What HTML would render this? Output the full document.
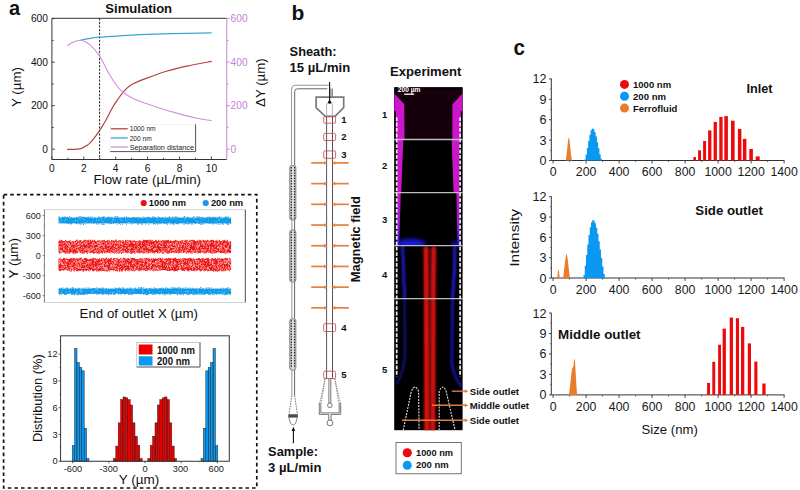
<!DOCTYPE html>
<html><head><meta charset="utf-8"><title>Figure</title><style>html,body{margin:0;padding:0;background:#fff;width:800px;height:490px;overflow:hidden;}svg{display:block;}text{font-family:"Liberation Sans", sans-serif;}</style></head><body>
<svg width="800" height="490" viewBox="0 0 800 490" font-family='"Liberation Sans", sans-serif' fill="#111"><text x="9" y="15.3" font-size="20" font-weight="bold">a</text>
<text x="105.3" y="12.8" font-size="13" font-weight="bold" textLength="66.8" lengthAdjust="spacingAndGlyphs">Simulation</text>
<line x1="51.9" y1="18.3" x2="226.8" y2="18.3" stroke="#333" stroke-width="1"/>
<line x1="51.9" y1="18.3" x2="51.9" y2="159.5" stroke="#333" stroke-width="1"/>
<line x1="51.9" y1="159.5" x2="226.8" y2="159.5" stroke="#333" stroke-width="1"/>
<line x1="226.8" y1="18.3" x2="226.8" y2="159.5" stroke="#c77fd6" stroke-width="1"/>
<line x1="51.9" y1="149.2" x2="54.9" y2="149.2" stroke="#333" stroke-width="0.9"/>
<line x1="226.8" y1="149.2" x2="229.8" y2="149.2" stroke="#c77fd6" stroke-width="0.9"/>
<line x1="51.9" y1="127.44" x2="53.7" y2="127.44" stroke="#333" stroke-width="0.9"/>
<line x1="226.8" y1="127.44" x2="228.6" y2="127.44" stroke="#c77fd6" stroke-width="0.9"/>
<line x1="51.9" y1="105.68" x2="54.9" y2="105.68" stroke="#333" stroke-width="0.9"/>
<line x1="226.8" y1="105.68" x2="229.8" y2="105.68" stroke="#c77fd6" stroke-width="0.9"/>
<line x1="51.9" y1="83.92" x2="53.7" y2="83.92" stroke="#333" stroke-width="0.9"/>
<line x1="226.8" y1="83.92" x2="228.6" y2="83.92" stroke="#c77fd6" stroke-width="0.9"/>
<line x1="51.9" y1="62.16" x2="54.9" y2="62.16" stroke="#333" stroke-width="0.9"/>
<line x1="226.8" y1="62.16" x2="229.8" y2="62.16" stroke="#c77fd6" stroke-width="0.9"/>
<line x1="51.9" y1="40.4" x2="53.7" y2="40.4" stroke="#333" stroke-width="0.9"/>
<line x1="226.8" y1="40.4" x2="228.6" y2="40.4" stroke="#c77fd6" stroke-width="0.9"/>
<line x1="51.9" y1="18.64" x2="54.9" y2="18.64" stroke="#333" stroke-width="0.9"/>
<line x1="226.8" y1="18.64" x2="229.8" y2="18.64" stroke="#c77fd6" stroke-width="0.9"/>
<line x1="51.9" y1="159.5" x2="51.9" y2="156.5" stroke="#333" stroke-width="0.9"/>
<line x1="67.85" y1="159.5" x2="67.85" y2="157.7" stroke="#333" stroke-width="0.9"/>
<line x1="83.8" y1="159.5" x2="83.8" y2="156.5" stroke="#333" stroke-width="0.9"/>
<line x1="99.75" y1="159.5" x2="99.75" y2="157.7" stroke="#333" stroke-width="0.9"/>
<line x1="115.7" y1="159.5" x2="115.7" y2="156.5" stroke="#333" stroke-width="0.9"/>
<line x1="131.65" y1="159.5" x2="131.65" y2="157.7" stroke="#333" stroke-width="0.9"/>
<line x1="147.6" y1="159.5" x2="147.6" y2="156.5" stroke="#333" stroke-width="0.9"/>
<line x1="163.55" y1="159.5" x2="163.55" y2="157.7" stroke="#333" stroke-width="0.9"/>
<line x1="179.5" y1="159.5" x2="179.5" y2="156.5" stroke="#333" stroke-width="0.9"/>
<line x1="195.45" y1="159.5" x2="195.45" y2="157.7" stroke="#333" stroke-width="0.9"/>
<line x1="211.4" y1="159.5" x2="211.4" y2="156.5" stroke="#333" stroke-width="0.9"/>
<text x="47.9" y="152.8" font-size="10.2" text-anchor="end">0</text>
<text x="230.6" y="152.8" font-size="10.2" fill="#c67fd8">0</text>
<text x="47.9" y="109.28" font-size="10.2" text-anchor="end">200</text>
<text x="230.6" y="109.28" font-size="10.2" fill="#c67fd8">200</text>
<text x="47.9" y="65.76" font-size="10.2" text-anchor="end">400</text>
<text x="230.6" y="65.76" font-size="10.2" fill="#c67fd8">400</text>
<text x="47.9" y="22.24" font-size="10.2" text-anchor="end">600</text>
<text x="230.6" y="22.24" font-size="10.2" fill="#c67fd8">600</text>
<text x="51.9" y="171.6" font-size="10.2" text-anchor="middle">0</text>
<text x="83.8" y="171.6" font-size="10.2" text-anchor="middle">2</text>
<text x="115.7" y="171.6" font-size="10.2" text-anchor="middle">4</text>
<text x="147.6" y="171.6" font-size="10.2" text-anchor="middle">6</text>
<text x="179.5" y="171.6" font-size="10.2" text-anchor="middle">8</text>
<text x="211.4" y="171.6" font-size="10.2" text-anchor="middle">10</text>
<text x="93.6" y="183.6" font-size="13.4" textLength="107.4" lengthAdjust="spacingAndGlyphs">Flow rate (µL/min)</text>
<text transform="translate(21.4,106.9) rotate(-90)" font-size="13.2" textLength="39.7" lengthAdjust="spacingAndGlyphs">Y (µm)</text>
<text transform="translate(264.7,106.9) rotate(-90)" font-size="13.2" textLength="48.6" lengthAdjust="spacingAndGlyphs">ΔY (µm)</text>
<line x1="99.6" y1="18.3" x2="99.6" y2="159.5" stroke="#222" stroke-width="1" stroke-dasharray="2.2 1.4"/>
<path d="M67.1,149.3 C67.92,149.3 70.27,149.32 72,149.3 C73.73,149.28 75.83,149.38 77.5,149.2 C79.17,149.02 80.58,148.73 82,148.2 C83.42,147.67 84.68,146.85 86,146 C87.32,145.15 88.32,144.7 89.9,143.1 C91.48,141.5 93.87,138.55 95.5,136.4 C97.13,134.25 98.02,132.82 99.7,130.2 C101.38,127.58 103.68,124.07 105.6,120.7 C107.52,117.33 109.57,112.97 111.2,110 C112.83,107.03 113.33,105.97 115.4,102.9 C117.47,99.83 120.88,94.67 123.6,91.6 C126.32,88.53 127.97,86.7 131.7,84.5 C135.43,82.3 140.22,80.62 146,78.4 C151.78,76.18 159.6,73.25 166.4,71.2 C173.2,69.15 179.25,67.75 186.8,66.1 C194.35,64.45 207.55,62.1 211.7,61.3" fill="none" stroke="#b5413c" stroke-width="1.2"/>
<path d="M80.4,40.3 C82,39.97 86.85,38.82 90,38.3 C93.15,37.78 94.3,37.62 99.3,37.2 C104.3,36.78 113.22,36.22 120,35.8 C126.78,35.38 131.67,35.05 140,34.7 C148.33,34.35 158.05,34 170,33.7 C181.95,33.4 204.75,33.03 211.7,32.9" fill="none" stroke="#3ba8d2" stroke-width="1.3"/>
<path d="M67.1,45.9 C68.08,45.3 70.78,43.23 73,42.3 C75.22,41.37 78.32,40.38 80.4,40.3 C82.48,40.22 83.8,40.95 85.5,41.8 C87.2,42.65 89.02,44.03 90.6,45.4 C92.18,46.77 93.55,48.3 95,50 C96.45,51.7 97.8,53.27 99.3,55.6 C100.8,57.93 102.33,60.88 104,64 C105.67,67.12 107.07,70.55 109.3,74.3 C111.53,78.05 115.02,83.43 117.4,86.5 C119.78,89.57 120.53,90.48 123.6,92.7 C126.67,94.92 130.37,97.43 135.8,99.8 C141.23,102.17 149.4,104.68 156.2,106.9 C163,109.12 169.8,111.22 176.6,113.1 C183.4,114.98 191.15,116.95 197,118.2 C202.85,119.45 209.25,120.2 211.7,120.6" fill="none" stroke="#d38ee0" stroke-width="1.1"/>
<rect x="110.5" y="124.3" width="85" height="27" fill="#fff" stroke="#ececec" stroke-width="0.6"/>
<line x1="195.6" y1="124.3" x2="195.6" y2="151.6" stroke="#555" stroke-width="1"/>
<line x1="110.2" y1="151.6" x2="195.6" y2="151.6" stroke="#555" stroke-width="1"/>
<line x1="110.9" y1="128.8" x2="127.7" y2="128.8" stroke="#b5413c" stroke-width="1.3"/>
<line x1="110.9" y1="138" x2="127.7" y2="138" stroke="#3ba8d2" stroke-width="1.3"/>
<line x1="110.9" y1="147" x2="127.7" y2="147" stroke="#d38ee0" stroke-width="1.3"/>
<text x="129.7" y="131.4" font-size="7.3" fill="#222" textLength="26" lengthAdjust="spacingAndGlyphs">1000 nm</text>
<text x="129.7" y="140.6" font-size="7.3" fill="#222" textLength="22" lengthAdjust="spacingAndGlyphs">200 nm</text>
<text x="129.7" y="149.6" font-size="7.3" fill="#222" textLength="64.3" lengthAdjust="spacingAndGlyphs">Separation distance</text>
<rect x="3.6" y="194.6" width="253.2" height="293.4" fill="none" stroke="#111" stroke-width="1.7" stroke-dasharray="3.6 3"/>
<circle cx="143.7" cy="203" r="3.1" fill="#ee1111"/>
<text x="148.8" y="206.4" font-size="9.5" font-weight="bold" textLength="37.2" lengthAdjust="spacingAndGlyphs">1000 nm</text>
<circle cx="205.7" cy="203" r="3.1" fill="#1b98ee"/>
<text x="210.9" y="206.4" font-size="9.5" font-weight="bold" textLength="32.3" lengthAdjust="spacingAndGlyphs">200 nm</text>
<rect x="44.4" y="209.7" width="200.9" height="92.7" fill="none" stroke="#c8c8c8" stroke-width="0.8"/>
<line x1="44.4" y1="209.7" x2="44.4" y2="302.4" stroke="#777" stroke-width="0.9"/>
<line x1="245.3" y1="209.7" x2="245.3" y2="302.4" stroke="#555" stroke-width="1"/>
<line x1="42.6" y1="215.6" x2="44.4" y2="215.6" stroke="#666" stroke-width="0.8"/>
<text x="40.8" y="218.7" font-size="9" fill="#222" text-anchor="end">600</text>
<line x1="42.6" y1="235.6" x2="44.4" y2="235.6" stroke="#666" stroke-width="0.8"/>
<text x="40.8" y="238.7" font-size="9" fill="#222" text-anchor="end">300</text>
<line x1="42.6" y1="255.6" x2="44.4" y2="255.6" stroke="#666" stroke-width="0.8"/>
<text x="40.8" y="258.7" font-size="9" fill="#222" text-anchor="end">0</text>
<line x1="42.6" y1="275.6" x2="44.4" y2="275.6" stroke="#666" stroke-width="0.8"/>
<text x="40.8" y="278.7" font-size="9" fill="#222" text-anchor="end">-300</text>
<line x1="42.6" y1="295.6" x2="44.4" y2="295.6" stroke="#666" stroke-width="0.8"/>
<text x="40.8" y="298.7" font-size="9" fill="#222" text-anchor="end">-600</text>
<line x1="43.4" y1="225.6" x2="44.4" y2="225.6" stroke="#888" stroke-width="0.6"/>
<line x1="43.4" y1="245.6" x2="44.4" y2="245.6" stroke="#888" stroke-width="0.6"/>
<line x1="43.4" y1="265.6" x2="44.4" y2="265.6" stroke="#888" stroke-width="0.6"/>
<line x1="43.4" y1="285.6" x2="44.4" y2="285.6" stroke="#888" stroke-width="0.6"/>
<text transform="translate(17.7,278.6) rotate(-90)" font-size="13.6" textLength="40.6" lengthAdjust="spacingAndGlyphs">Y (µm)</text>
<text x="79.6" y="318" font-size="12.6" textLength="118.4" lengthAdjust="spacingAndGlyphs">End of outlet X (µm)</text>
<rect x="58.5" y="217.6" width="172.6" height="5.8" fill="#109ae8"/>
<rect x="114.2" y="216.58" width="0.9" height="0.9" fill="#109ae8"/>
<rect x="70.96" y="223.2" width="0.9" height="0.9" fill="#109ae8"/>
<rect x="68.48" y="222.84" width="0.9" height="0.9" fill="#109ae8"/>
<rect x="133.09" y="217.2" width="0.9" height="0.9" fill="#109ae8"/>
<rect x="131.52" y="222.94" width="0.9" height="0.9" fill="#109ae8"/>
<rect x="96.9" y="223.84" width="0.9" height="0.9" fill="#109ae8"/>
<rect x="157.76" y="216.23" width="0.9" height="0.9" fill="#109ae8"/>
<rect x="66.51" y="223.12" width="0.9" height="0.9" fill="#109ae8"/>
<rect x="83.31" y="216.96" width="0.9" height="0.9" fill="#109ae8"/>
<rect x="198.87" y="216.66" width="0.9" height="0.9" fill="#109ae8"/>
<rect x="168.39" y="216.7" width="0.9" height="0.9" fill="#109ae8"/>
<rect x="69.3" y="217.07" width="0.9" height="0.9" fill="#109ae8"/>
<rect x="175.53" y="216.95" width="0.9" height="0.9" fill="#109ae8"/>
<rect x="159.22" y="216.97" width="0.9" height="0.9" fill="#109ae8"/>
<rect x="195.13" y="223.07" width="0.9" height="0.9" fill="#109ae8"/>
<rect x="157.3" y="223.76" width="0.9" height="0.9" fill="#109ae8"/>
<rect x="183.96" y="216.22" width="0.9" height="0.9" fill="#109ae8"/>
<rect x="78.81" y="216.47" width="0.9" height="0.9" fill="#109ae8"/>
<rect x="84.64" y="217.26" width="0.9" height="0.9" fill="#109ae8"/>
<rect x="173.43" y="223.43" width="0.9" height="0.9" fill="#109ae8"/>
<rect x="209.08" y="216.54" width="0.9" height="0.9" fill="#109ae8"/>
<rect x="160.73" y="223.3" width="0.9" height="0.9" fill="#109ae8"/>
<rect x="202.97" y="223.32" width="0.9" height="0.9" fill="#109ae8"/>
<rect x="172.73" y="216.53" width="0.9" height="0.9" fill="#109ae8"/>
<rect x="169.81" y="223.7" width="0.9" height="0.9" fill="#109ae8"/>
<rect x="107.45" y="216.56" width="0.9" height="0.9" fill="#109ae8"/>
<rect x="62.38" y="217.12" width="0.9" height="0.9" fill="#109ae8"/>
<rect x="78.64" y="216.45" width="0.9" height="0.9" fill="#109ae8"/>
<rect x="80.75" y="216.87" width="0.9" height="0.9" fill="#109ae8"/>
<rect x="208.38" y="216.81" width="0.9" height="0.9" fill="#109ae8"/>
<rect x="153" y="223.7" width="0.9" height="0.9" fill="#109ae8"/>
<rect x="207.11" y="216.84" width="0.9" height="0.9" fill="#109ae8"/>
<rect x="120.21" y="223.85" width="0.9" height="0.9" fill="#109ae8"/>
<rect x="84.46" y="217.04" width="0.9" height="0.9" fill="#109ae8"/>
<rect x="98.63" y="216.65" width="0.9" height="0.9" fill="#109ae8"/>
<rect x="103.69" y="216.84" width="0.9" height="0.9" fill="#109ae8"/>
<rect x="122.01" y="223.85" width="0.9" height="0.9" fill="#109ae8"/>
<rect x="177.26" y="223.48" width="0.9" height="0.9" fill="#109ae8"/>
<rect x="174.81" y="216.31" width="0.9" height="0.9" fill="#109ae8"/>
<rect x="192.65" y="223.68" width="0.9" height="0.9" fill="#109ae8"/>
<rect x="125.99" y="217.19" width="0.9" height="0.9" fill="#109ae8"/>
<rect x="167.6" y="217.23" width="0.9" height="0.9" fill="#109ae8"/>
<rect x="94.41" y="216.93" width="0.9" height="0.9" fill="#109ae8"/>
<rect x="67.54" y="217.13" width="0.9" height="0.9" fill="#109ae8"/>
<rect x="75.95" y="217.27" width="0.9" height="0.9" fill="#109ae8"/>
<rect x="208.89" y="222.96" width="0.9" height="0.9" fill="#109ae8"/>
<rect x="101.89" y="216.9" width="0.9" height="0.9" fill="#109ae8"/>
<rect x="79.63" y="223.89" width="0.9" height="0.9" fill="#109ae8"/>
<rect x="138.65" y="217.21" width="0.9" height="0.9" fill="#109ae8"/>
<rect x="76.08" y="217.01" width="0.9" height="0.9" fill="#109ae8"/>
<rect x="201.06" y="217.27" width="0.9" height="0.9" fill="#109ae8"/>
<rect x="222.07" y="222.96" width="0.9" height="0.9" fill="#109ae8"/>
<rect x="151.93" y="216.72" width="0.9" height="0.9" fill="#109ae8"/>
<rect x="226.8" y="223.57" width="0.9" height="0.9" fill="#109ae8"/>
<rect x="103.41" y="217.12" width="0.9" height="0.9" fill="#109ae8"/>
<rect x="191.27" y="223.66" width="0.9" height="0.9" fill="#109ae8"/>
<rect x="115.2" y="216.41" width="0.9" height="0.9" fill="#109ae8"/>
<rect x="227.91" y="223.69" width="0.9" height="0.9" fill="#109ae8"/>
<rect x="199.25" y="223.05" width="0.9" height="0.9" fill="#109ae8"/>
<rect x="147.53" y="217.27" width="0.9" height="0.9" fill="#109ae8"/>
<rect x="63.31" y="217.01" width="0.9" height="0.9" fill="#109ae8"/>
<rect x="177.61" y="223.29" width="0.9" height="0.9" fill="#109ae8"/>
<rect x="219.67" y="223.85" width="0.9" height="0.9" fill="#109ae8"/>
<rect x="121.22" y="217.05" width="0.9" height="0.9" fill="#109ae8"/>
<rect x="92.33" y="216.61" width="0.9" height="0.9" fill="#109ae8"/>
<rect x="213.35" y="223.33" width="0.9" height="0.9" fill="#109ae8"/>
<rect x="170.81" y="222.89" width="0.9" height="0.9" fill="#109ae8"/>
<rect x="172.12" y="223.66" width="0.9" height="0.9" fill="#109ae8"/>
<rect x="187.52" y="217.1" width="0.9" height="0.9" fill="#109ae8"/>
<rect x="194.23" y="216.42" width="0.9" height="0.9" fill="#109ae8"/>
<rect x="225.63" y="216.86" width="0.9" height="0.9" fill="#109ae8"/>
<rect x="221.35" y="222.99" width="0.9" height="0.9" fill="#109ae8"/>
<rect x="80.35" y="216.3" width="0.9" height="0.9" fill="#109ae8"/>
<rect x="197.22" y="216.39" width="0.9" height="0.9" fill="#109ae8"/>
<rect x="227.11" y="223.19" width="0.9" height="0.9" fill="#109ae8"/>
<rect x="152.87" y="217.28" width="0.9" height="0.9" fill="#109ae8"/>
<rect x="225.49" y="223.38" width="0.9" height="0.9" fill="#109ae8"/>
<rect x="219.08" y="216.34" width="0.9" height="0.9" fill="#109ae8"/>
<rect x="200.6" y="217.02" width="0.9" height="0.9" fill="#109ae8"/>
<rect x="108.89" y="216.65" width="0.9" height="0.9" fill="#109ae8"/>
<rect x="103.11" y="217.16" width="0.9" height="0.9" fill="#109ae8"/>
<rect x="215.02" y="216.8" width="0.9" height="0.9" fill="#109ae8"/>
<rect x="158.84" y="223.26" width="0.9" height="0.9" fill="#109ae8"/>
<rect x="216.35" y="223.39" width="0.9" height="0.9" fill="#109ae8"/>
<rect x="148.54" y="216.82" width="0.9" height="0.9" fill="#109ae8"/>
<rect x="89.99" y="216.42" width="0.9" height="0.9" fill="#109ae8"/>
<rect x="88.14" y="216.5" width="0.9" height="0.9" fill="#109ae8"/>
<rect x="154.21" y="216.73" width="0.9" height="0.9" fill="#109ae8"/>
<rect x="154.04" y="222.92" width="0.9" height="0.9" fill="#109ae8"/>
<rect x="154.87" y="217" width="0.9" height="0.9" fill="#109ae8"/>
<rect x="191.33" y="223.42" width="0.9" height="0.9" fill="#109ae8"/>
<rect x="189.22" y="223.29" width="0.9" height="0.9" fill="#109ae8"/>
<rect x="163.85" y="223.36" width="0.9" height="0.9" fill="#109ae8"/>
<rect x="177.65" y="216.71" width="0.9" height="0.9" fill="#109ae8"/>
<rect x="140.72" y="223.57" width="0.9" height="0.9" fill="#109ae8"/>
<rect x="209.26" y="223.09" width="0.9" height="0.9" fill="#109ae8"/>
<rect x="154.74" y="223.72" width="0.9" height="0.9" fill="#109ae8"/>
<rect x="82.09" y="216.81" width="0.9" height="0.9" fill="#109ae8"/>
<rect x="70.98" y="217.22" width="0.9" height="0.9" fill="#109ae8"/>
<rect x="173.65" y="223.79" width="0.9" height="0.9" fill="#109ae8"/>
<rect x="85.06" y="223.53" width="0.9" height="0.9" fill="#109ae8"/>
<rect x="83.09" y="223.86" width="0.9" height="0.9" fill="#109ae8"/>
<rect x="96.27" y="223.24" width="0.9" height="0.9" fill="#109ae8"/>
<rect x="142.31" y="223.72" width="0.9" height="0.9" fill="#109ae8"/>
<rect x="86.27" y="216.73" width="0.9" height="0.9" fill="#109ae8"/>
<rect x="116.83" y="216.95" width="0.9" height="0.9" fill="#109ae8"/>
<rect x="182.71" y="216.69" width="0.9" height="0.9" fill="#109ae8"/>
<rect x="134.26" y="216.94" width="0.9" height="0.9" fill="#109ae8"/>
<rect x="165.82" y="222.87" width="0.9" height="0.9" fill="#109ae8"/>
<rect x="227.93" y="223.87" width="0.9" height="0.9" fill="#109ae8"/>
<rect x="76.52" y="217.26" width="0.9" height="0.9" fill="#109ae8"/>
<rect x="192.49" y="217.16" width="0.9" height="0.9" fill="#109ae8"/>
<rect x="131.13" y="223.7" width="0.9" height="0.9" fill="#109ae8"/>
<rect x="102.98" y="216.29" width="0.9" height="0.9" fill="#109ae8"/>
<rect x="156.64" y="222.9" width="0.9" height="0.9" fill="#109ae8"/>
<rect x="68.39" y="223.27" width="0.9" height="0.9" fill="#109ae8"/>
<rect x="70.96" y="223.5" width="0.9" height="0.9" fill="#109ae8"/>
<rect x="196.38" y="216.36" width="0.9" height="0.9" fill="#109ae8"/>
<rect x="69.96" y="223.3" width="0.9" height="0.9" fill="#109ae8"/>
<rect x="116.83" y="223.82" width="0.9" height="0.9" fill="#109ae8"/>
<rect x="104.57" y="216.72" width="0.9" height="0.9" fill="#109ae8"/>
<rect x="99.51" y="217.12" width="0.9" height="0.9" fill="#109ae8"/>
<rect x="67.17" y="216.96" width="0.9" height="0.9" fill="#109ae8"/>
<rect x="110.96" y="223.12" width="0.9" height="0.9" fill="#109ae8"/>
<rect x="144.52" y="216.92" width="0.9" height="0.9" fill="#109ae8"/>
<rect x="61.62" y="217.28" width="0.9" height="0.9" fill="#109ae8"/>
<rect x="184.59" y="223.01" width="0.9" height="0.9" fill="#109ae8"/>
<rect x="140.16" y="222.92" width="0.9" height="0.9" fill="#109ae8"/>
<rect x="199.35" y="216.76" width="0.9" height="0.9" fill="#109ae8"/>
<rect x="202.05" y="216.74" width="0.9" height="0.9" fill="#109ae8"/>
<rect x="176.79" y="223.18" width="0.9" height="0.9" fill="#109ae8"/>
<rect x="201.65" y="223.5" width="0.9" height="0.9" fill="#109ae8"/>
<rect x="128.11" y="217.24" width="0.9" height="0.9" fill="#109ae8"/>
<rect x="80.83" y="216.49" width="0.9" height="0.9" fill="#109ae8"/>
<rect x="102.46" y="217.21" width="0.9" height="0.9" fill="#109ae8"/>
<rect x="203.2" y="223.54" width="0.9" height="0.9" fill="#109ae8"/>
<rect x="106.99" y="216.98" width="0.9" height="0.9" fill="#109ae8"/>
<rect x="137.53" y="216.81" width="0.9" height="0.9" fill="#109ae8"/>
<rect x="103.78" y="223.87" width="0.9" height="0.9" fill="#109ae8"/>
<rect x="152.6" y="216.24" width="0.9" height="0.9" fill="#109ae8"/>
<rect x="111.74" y="217.3" width="0.9" height="0.9" fill="#109ae8"/>
<rect x="124.14" y="216.75" width="0.9" height="0.9" fill="#109ae8"/>
<rect x="93.07" y="222.81" width="0.9" height="0.9" fill="#109ae8"/>
<rect x="103.94" y="216.86" width="0.9" height="0.9" fill="#109ae8"/>
<rect x="65.67" y="216.97" width="0.9" height="0.9" fill="#109ae8"/>
<rect x="98.54" y="223.38" width="0.9" height="0.9" fill="#109ae8"/>
<rect x="187.59" y="223.59" width="0.9" height="0.9" fill="#109ae8"/>
<rect x="209.7" y="216.94" width="0.9" height="0.9" fill="#109ae8"/>
<rect x="227.87" y="216.5" width="0.9" height="0.9" fill="#109ae8"/>
<rect x="169.13" y="216.38" width="0.9" height="0.9" fill="#109ae8"/>
<rect x="211.91" y="223.61" width="0.9" height="0.9" fill="#109ae8"/>
<rect x="198.2" y="216.72" width="0.9" height="0.9" fill="#109ae8"/>
<rect x="145.25" y="223.69" width="0.9" height="0.9" fill="#109ae8"/>
<rect x="200.64" y="223.78" width="0.9" height="0.9" fill="#109ae8"/>
<rect x="175.96" y="223.05" width="0.9" height="0.9" fill="#109ae8"/>
<rect x="63.86" y="216.9" width="0.9" height="0.9" fill="#109ae8"/>
<rect x="76.55" y="223.41" width="0.9" height="0.9" fill="#109ae8"/>
<rect x="166.48" y="223.55" width="0.9" height="0.9" fill="#109ae8"/>
<rect x="142.66" y="216.42" width="0.9" height="0.9" fill="#109ae8"/>
<rect x="187.2" y="223.39" width="0.9" height="0.9" fill="#109ae8"/>
<rect x="171.9" y="216.49" width="0.9" height="0.9" fill="#109ae8"/>
<rect x="101.88" y="217.01" width="0.9" height="0.9" fill="#109ae8"/>
<rect x="183.95" y="216.49" width="0.9" height="0.9" fill="#109ae8"/>
<rect x="226.33" y="216.88" width="0.9" height="0.9" fill="#109ae8"/>
<rect x="140.89" y="223.64" width="0.9" height="0.9" fill="#109ae8"/>
<rect x="164.62" y="222.89" width="0.9" height="0.9" fill="#109ae8"/>
<rect x="83.86" y="216.48" width="0.9" height="0.9" fill="#109ae8"/>
<rect x="110.86" y="222.81" width="0.9" height="0.9" fill="#109ae8"/>
<rect x="68.93" y="216.56" width="0.9" height="0.9" fill="#109ae8"/>
<rect x="177.56" y="223.12" width="0.9" height="0.9" fill="#109ae8"/>
<rect x="147.34" y="216.79" width="0.9" height="0.9" fill="#109ae8"/>
<rect x="78.88" y="223.02" width="0.9" height="0.9" fill="#109ae8"/>
<rect x="226.74" y="222.82" width="0.9" height="0.9" fill="#109ae8"/>
<rect x="137.44" y="223.86" width="0.9" height="0.9" fill="#109ae8"/>
<rect x="135.81" y="217.07" width="0.9" height="0.9" fill="#109ae8"/>
<rect x="221.14" y="216.66" width="0.9" height="0.9" fill="#109ae8"/>
<rect x="82.88" y="223.85" width="0.9" height="0.9" fill="#109ae8"/>
<rect x="81.31" y="223.36" width="0.9" height="0.9" fill="#109ae8"/>
<rect x="211.04" y="223.05" width="0.9" height="0.9" fill="#109ae8"/>
<rect x="212.91" y="217.27" width="0.9" height="0.9" fill="#109ae8"/>
<rect x="59.12" y="216.8" width="0.9" height="0.9" fill="#109ae8"/>
<rect x="110.44" y="216.92" width="0.9" height="0.9" fill="#109ae8"/>
<rect x="112.87" y="222.8" width="0.9" height="0.9" fill="#109ae8"/>
<rect x="187.63" y="222.93" width="0.9" height="0.9" fill="#109ae8"/>
<rect x="217.84" y="223.79" width="0.9" height="0.9" fill="#109ae8"/>
<rect x="108.35" y="216.87" width="0.9" height="0.9" fill="#109ae8"/>
<rect x="230.29" y="223.2" width="0.9" height="0.9" fill="#109ae8"/>
<rect x="132.13" y="217.25" width="0.9" height="0.9" fill="#109ae8"/>
<rect x="75.99" y="223.11" width="0.9" height="0.9" fill="#109ae8"/>
<rect x="219.42" y="217.01" width="0.9" height="0.9" fill="#109ae8"/>
<rect x="146.39" y="216.89" width="0.9" height="0.9" fill="#109ae8"/>
<rect x="222.96" y="223.69" width="0.9" height="0.9" fill="#109ae8"/>
<rect x="167.01" y="223.83" width="0.9" height="0.9" fill="#109ae8"/>
<rect x="152.97" y="222.85" width="0.9" height="0.9" fill="#109ae8"/>
<rect x="184.46" y="216.47" width="0.9" height="0.9" fill="#109ae8"/>
<rect x="169.35" y="217.25" width="0.9" height="0.9" fill="#109ae8"/>
<rect x="217.91" y="216.78" width="0.9" height="0.9" fill="#109ae8"/>
<rect x="117.61" y="216.49" width="0.9" height="0.9" fill="#109ae8"/>
<rect x="226.42" y="216.58" width="0.9" height="0.9" fill="#109ae8"/>
<rect x="110.24" y="223.23" width="0.9" height="0.9" fill="#109ae8"/>
<rect x="87.28" y="217.07" width="0.9" height="0.9" fill="#109ae8"/>
<rect x="214.33" y="217.06" width="0.9" height="0.9" fill="#109ae8"/>
<rect x="214.38" y="223.29" width="0.9" height="0.9" fill="#109ae8"/>
<rect x="82.51" y="217.2" width="0.9" height="0.9" fill="#109ae8"/>
<rect x="117.32" y="217.04" width="0.9" height="0.9" fill="#109ae8"/>
<rect x="102.94" y="223.78" width="0.9" height="0.9" fill="#109ae8"/>
<rect x="187.44" y="216.84" width="0.9" height="0.9" fill="#109ae8"/>
<rect x="148.66" y="216.93" width="0.9" height="0.9" fill="#109ae8"/>
<rect x="69.17" y="216.24" width="0.9" height="0.9" fill="#109ae8"/>
<rect x="80.15" y="223.49" width="0.9" height="0.9" fill="#109ae8"/>
<rect x="206.91" y="217" width="0.9" height="0.9" fill="#109ae8"/>
<rect x="101.23" y="216.81" width="0.9" height="0.9" fill="#109ae8"/>
<rect x="222.58" y="223.76" width="0.9" height="0.9" fill="#109ae8"/>
<rect x="62.25" y="216.52" width="0.9" height="0.9" fill="#109ae8"/>
<rect x="212.56" y="216.65" width="0.9" height="0.9" fill="#109ae8"/>
<rect x="58.53" y="216.28" width="0.9" height="0.9" fill="#109ae8"/>
<rect x="200.5" y="223.87" width="0.9" height="0.9" fill="#109ae8"/>
<rect x="101.24" y="217.13" width="0.9" height="0.9" fill="#109ae8"/>
<rect x="148.35" y="223.84" width="0.9" height="0.9" fill="#109ae8"/>
<rect x="182.64" y="223.64" width="0.9" height="0.9" fill="#109ae8"/>
<rect x="137.16" y="222.84" width="0.9" height="0.9" fill="#109ae8"/>
<rect x="193.06" y="216.29" width="0.9" height="0.9" fill="#109ae8"/>
<rect x="169.53" y="217.16" width="0.9" height="0.9" fill="#109ae8"/>
<rect x="101.81" y="223.57" width="0.9" height="0.9" fill="#109ae8"/>
<rect x="77.79" y="216.72" width="0.9" height="0.9" fill="#109ae8"/>
<rect x="158.76" y="217.05" width="0.9" height="0.9" fill="#109ae8"/>
<rect x="161.88" y="216.97" width="0.9" height="0.9" fill="#109ae8"/>
<rect x="137.74" y="223.51" width="0.9" height="0.9" fill="#109ae8"/>
<rect x="210.51" y="217.04" width="0.9" height="0.9" fill="#109ae8"/>
<rect x="100.99" y="223.58" width="0.9" height="0.9" fill="#109ae8"/>
<rect x="111.37" y="216.75" width="0.9" height="0.9" fill="#109ae8"/>
<rect x="174.51" y="217.02" width="0.9" height="0.9" fill="#109ae8"/>
<rect x="173.29" y="223.05" width="0.9" height="0.9" fill="#109ae8"/>
<rect x="64.36" y="216.84" width="0.9" height="0.9" fill="#109ae8"/>
<rect x="175.9" y="216.42" width="0.9" height="0.9" fill="#109ae8"/>
<rect x="185.63" y="223.03" width="0.9" height="0.9" fill="#109ae8"/>
<rect x="225.32" y="216.4" width="0.9" height="0.9" fill="#109ae8"/>
<rect x="98.2" y="216.46" width="0.9" height="0.9" fill="#109ae8"/>
<rect x="109.23" y="223.35" width="0.9" height="0.9" fill="#109ae8"/>
<rect x="90.72" y="216.84" width="0.9" height="0.9" fill="#109ae8"/>
<rect x="172.93" y="222.96" width="0.9" height="0.9" fill="#109ae8"/>
<rect x="126.18" y="216.23" width="0.9" height="0.9" fill="#109ae8"/>
<rect x="82.91" y="217.23" width="0.9" height="0.9" fill="#109ae8"/>
<rect x="126.15" y="223.77" width="0.9" height="0.9" fill="#109ae8"/>
<rect x="184.53" y="223.82" width="0.9" height="0.9" fill="#109ae8"/>
<rect x="115.13" y="216.27" width="0.9" height="0.9" fill="#109ae8"/>
<rect x="186.87" y="216.57" width="0.9" height="0.9" fill="#109ae8"/>
<rect x="123.62" y="216.94" width="0.9" height="0.9" fill="#109ae8"/>
<rect x="87.61" y="216.99" width="0.9" height="0.9" fill="#109ae8"/>
<rect x="118.95" y="222.94" width="0.9" height="0.9" fill="#109ae8"/>
<rect x="224.35" y="216.91" width="0.9" height="0.9" fill="#109ae8"/>
<rect x="199.81" y="223.28" width="0.9" height="0.9" fill="#109ae8"/>
<rect x="66.97" y="216.89" width="0.9" height="0.9" fill="#109ae8"/>
<rect x="216.66" y="216.9" width="0.9" height="0.9" fill="#109ae8"/>
<rect x="212.78" y="216.85" width="0.9" height="0.9" fill="#109ae8"/>
<rect x="198.13" y="222.84" width="0.9" height="0.9" fill="#109ae8"/>
<rect x="64.49" y="216.29" width="0.9" height="0.9" fill="#109ae8"/>
<rect x="102.71" y="223.79" width="0.9" height="0.9" fill="#109ae8"/>
<rect x="116.82" y="216.25" width="0.9" height="0.9" fill="#109ae8"/>
<rect x="164.62" y="216.51" width="0.9" height="0.9" fill="#109ae8"/>
<rect x="113.09" y="219.03" width="0.75" height="0.75" fill="#a8dcf8"/>
<rect x="59.15" y="221.53" width="0.75" height="0.75" fill="#a8dcf8"/>
<rect x="216.59" y="220.9" width="0.75" height="0.75" fill="#a8dcf8"/>
<rect x="221.21" y="217.73" width="0.75" height="0.75" fill="#a8dcf8"/>
<rect x="98.84" y="220.07" width="0.75" height="0.75" fill="#a8dcf8"/>
<rect x="223.54" y="222.56" width="0.75" height="0.75" fill="#a8dcf8"/>
<rect x="125.17" y="218.91" width="0.75" height="0.75" fill="#a8dcf8"/>
<rect x="132.66" y="220.17" width="0.75" height="0.75" fill="#a8dcf8"/>
<rect x="218.6" y="218.55" width="0.75" height="0.75" fill="#a8dcf8"/>
<rect x="196.94" y="221.44" width="0.75" height="0.75" fill="#a8dcf8"/>
<rect x="200.43" y="221.62" width="0.75" height="0.75" fill="#a8dcf8"/>
<rect x="163.25" y="219.3" width="0.75" height="0.75" fill="#a8dcf8"/>
<rect x="113.62" y="219.48" width="0.75" height="0.75" fill="#a8dcf8"/>
<rect x="193.44" y="218.01" width="0.75" height="0.75" fill="#a8dcf8"/>
<rect x="92.54" y="221.52" width="0.75" height="0.75" fill="#a8dcf8"/>
<rect x="101.16" y="217.94" width="0.75" height="0.75" fill="#a8dcf8"/>
<rect x="64.34" y="220.47" width="0.75" height="0.75" fill="#a8dcf8"/>
<rect x="114.69" y="222.7" width="0.75" height="0.75" fill="#a8dcf8"/>
<rect x="210.9" y="222.74" width="0.75" height="0.75" fill="#a8dcf8"/>
<rect x="104.19" y="218.04" width="0.75" height="0.75" fill="#a8dcf8"/>
<rect x="75.13" y="220.19" width="0.75" height="0.75" fill="#a8dcf8"/>
<rect x="180.94" y="219.92" width="0.75" height="0.75" fill="#a8dcf8"/>
<rect x="98.9" y="219.77" width="0.75" height="0.75" fill="#a8dcf8"/>
<rect x="165.5" y="221.11" width="0.75" height="0.75" fill="#a8dcf8"/>
<rect x="187.53" y="222" width="0.75" height="0.75" fill="#a8dcf8"/>
<rect x="173.11" y="218.23" width="0.75" height="0.75" fill="#a8dcf8"/>
<rect x="203.55" y="219.13" width="0.75" height="0.75" fill="#a8dcf8"/>
<rect x="156.29" y="219.54" width="0.75" height="0.75" fill="#a8dcf8"/>
<rect x="185.82" y="218.64" width="0.75" height="0.75" fill="#a8dcf8"/>
<rect x="101.18" y="218.88" width="0.75" height="0.75" fill="#a8dcf8"/>
<rect x="84.95" y="222.2" width="0.75" height="0.75" fill="#a8dcf8"/>
<rect x="158.25" y="219.3" width="0.75" height="0.75" fill="#a8dcf8"/>
<rect x="126.82" y="222.76" width="0.75" height="0.75" fill="#a8dcf8"/>
<rect x="146.01" y="218.8" width="0.75" height="0.75" fill="#a8dcf8"/>
<rect x="197.96" y="221" width="0.75" height="0.75" fill="#a8dcf8"/>
<rect x="229.44" y="218.13" width="0.75" height="0.75" fill="#a8dcf8"/>
<rect x="140.4" y="221.86" width="0.75" height="0.75" fill="#a8dcf8"/>
<rect x="203.5" y="222.35" width="0.75" height="0.75" fill="#a8dcf8"/>
<rect x="65.46" y="219.13" width="0.75" height="0.75" fill="#a8dcf8"/>
<rect x="79.06" y="218.59" width="0.75" height="0.75" fill="#a8dcf8"/>
<rect x="226.34" y="220.63" width="0.75" height="0.75" fill="#a8dcf8"/>
<rect x="218.95" y="219.54" width="0.75" height="0.75" fill="#a8dcf8"/>
<rect x="207.91" y="219.94" width="0.75" height="0.75" fill="#a8dcf8"/>
<rect x="103.34" y="221.64" width="0.75" height="0.75" fill="#a8dcf8"/>
<rect x="221.63" y="218.15" width="0.75" height="0.75" fill="#a8dcf8"/>
<rect x="161.34" y="220.82" width="0.75" height="0.75" fill="#a8dcf8"/>
<rect x="96.04" y="219.52" width="0.75" height="0.75" fill="#a8dcf8"/>
<rect x="82.89" y="218.66" width="0.75" height="0.75" fill="#a8dcf8"/>
<rect x="102.47" y="220.72" width="0.75" height="0.75" fill="#a8dcf8"/>
<rect x="170.91" y="218.66" width="0.75" height="0.75" fill="#a8dcf8"/>
<rect x="60.46" y="219.3" width="0.75" height="0.75" fill="#a8dcf8"/>
<rect x="175.51" y="218.56" width="0.75" height="0.75" fill="#a8dcf8"/>
<rect x="112.35" y="218.66" width="0.75" height="0.75" fill="#a8dcf8"/>
<rect x="195.69" y="220.45" width="0.75" height="0.75" fill="#a8dcf8"/>
<rect x="69.41" y="218.13" width="0.75" height="0.75" fill="#a8dcf8"/>
<rect x="126.69" y="220.46" width="0.75" height="0.75" fill="#a8dcf8"/>
<rect x="168.76" y="218.07" width="0.75" height="0.75" fill="#a8dcf8"/>
<rect x="86.74" y="221.22" width="0.75" height="0.75" fill="#a8dcf8"/>
<rect x="129.19" y="219.07" width="0.75" height="0.75" fill="#a8dcf8"/>
<rect x="111.56" y="222.56" width="0.75" height="0.75" fill="#a8dcf8"/>
<rect x="112.38" y="220.55" width="0.75" height="0.75" fill="#a8dcf8"/>
<rect x="120.11" y="219.77" width="0.75" height="0.75" fill="#a8dcf8"/>
<rect x="207.58" y="222.78" width="0.75" height="0.75" fill="#a8dcf8"/>
<rect x="121.25" y="218.63" width="0.75" height="0.75" fill="#a8dcf8"/>
<rect x="184.09" y="218.66" width="0.75" height="0.75" fill="#a8dcf8"/>
<rect x="59.51" y="222.29" width="0.75" height="0.75" fill="#a8dcf8"/>
<rect x="131.6" y="221.87" width="0.75" height="0.75" fill="#a8dcf8"/>
<rect x="128.57" y="222.19" width="0.75" height="0.75" fill="#a8dcf8"/>
<rect x="138.01" y="218.45" width="0.75" height="0.75" fill="#a8dcf8"/>
<rect x="61.06" y="220.47" width="0.75" height="0.75" fill="#a8dcf8"/>
<rect x="169.02" y="222.33" width="0.75" height="0.75" fill="#a8dcf8"/>
<rect x="73.86" y="220.84" width="0.75" height="0.75" fill="#a8dcf8"/>
<rect x="122.47" y="220.22" width="0.75" height="0.75" fill="#a8dcf8"/>
<rect x="83.67" y="219.07" width="0.75" height="0.75" fill="#a8dcf8"/>
<rect x="148.4" y="222.41" width="0.75" height="0.75" fill="#a8dcf8"/>
<rect x="77.27" y="220.15" width="0.75" height="0.75" fill="#a8dcf8"/>
<rect x="197.33" y="222.63" width="0.75" height="0.75" fill="#a8dcf8"/>
<rect x="92.54" y="218.26" width="0.75" height="0.75" fill="#a8dcf8"/>
<rect x="221.18" y="222.67" width="0.75" height="0.75" fill="#a8dcf8"/>
<rect x="141.77" y="217.88" width="0.75" height="0.75" fill="#a8dcf8"/>
<rect x="218.26" y="219.62" width="0.75" height="0.75" fill="#a8dcf8"/>
<rect x="214.48" y="220.83" width="0.75" height="0.75" fill="#a8dcf8"/>
<rect x="200.74" y="218.43" width="0.75" height="0.75" fill="#a8dcf8"/>
<rect x="194.05" y="218.75" width="0.75" height="0.75" fill="#a8dcf8"/>
<rect x="128.27" y="222" width="0.75" height="0.75" fill="#a8dcf8"/>
<rect x="201.53" y="218.55" width="0.75" height="0.75" fill="#a8dcf8"/>
<rect x="96.13" y="219.68" width="0.75" height="0.75" fill="#a8dcf8"/>
<rect x="147.84" y="219.59" width="0.75" height="0.75" fill="#a8dcf8"/>
<rect x="79.73" y="218.88" width="0.75" height="0.75" fill="#a8dcf8"/>
<rect x="183.54" y="222.27" width="0.75" height="0.75" fill="#a8dcf8"/>
<rect x="58.5" y="241.1" width="172.6" height="11.2" fill="#ee1414"/>
<rect x="65.57" y="252.53" width="0.9" height="0.9" fill="#ee1414"/>
<rect x="65.06" y="251.83" width="0.9" height="0.9" fill="#ee1414"/>
<rect x="161.62" y="252.39" width="0.9" height="0.9" fill="#ee1414"/>
<rect x="111.17" y="240.16" width="0.9" height="0.9" fill="#ee1414"/>
<rect x="131.73" y="252.19" width="0.9" height="0.9" fill="#ee1414"/>
<rect x="133.9" y="240.12" width="0.9" height="0.9" fill="#ee1414"/>
<rect x="142.69" y="239.96" width="0.9" height="0.9" fill="#ee1414"/>
<rect x="192.66" y="240.6" width="0.9" height="0.9" fill="#ee1414"/>
<rect x="139.89" y="240.66" width="0.9" height="0.9" fill="#ee1414"/>
<rect x="132.56" y="240.31" width="0.9" height="0.9" fill="#ee1414"/>
<rect x="146.25" y="240.1" width="0.9" height="0.9" fill="#ee1414"/>
<rect x="72.65" y="252.56" width="0.9" height="0.9" fill="#ee1414"/>
<rect x="146.47" y="240.25" width="0.9" height="0.9" fill="#ee1414"/>
<rect x="123.49" y="251.85" width="0.9" height="0.9" fill="#ee1414"/>
<rect x="205.92" y="252.51" width="0.9" height="0.9" fill="#ee1414"/>
<rect x="198.68" y="239.72" width="0.9" height="0.9" fill="#ee1414"/>
<rect x="143.1" y="252.71" width="0.9" height="0.9" fill="#ee1414"/>
<rect x="86.9" y="252.72" width="0.9" height="0.9" fill="#ee1414"/>
<rect x="69.77" y="239.97" width="0.9" height="0.9" fill="#ee1414"/>
<rect x="85.81" y="252" width="0.9" height="0.9" fill="#ee1414"/>
<rect x="198.79" y="240.25" width="0.9" height="0.9" fill="#ee1414"/>
<rect x="216.72" y="240.51" width="0.9" height="0.9" fill="#ee1414"/>
<rect x="145.53" y="240.76" width="0.9" height="0.9" fill="#ee1414"/>
<rect x="89.82" y="239.77" width="0.9" height="0.9" fill="#ee1414"/>
<rect x="175.4" y="251.89" width="0.9" height="0.9" fill="#ee1414"/>
<rect x="193.5" y="240.22" width="0.9" height="0.9" fill="#ee1414"/>
<rect x="167.95" y="239.84" width="0.9" height="0.9" fill="#ee1414"/>
<rect x="153.99" y="252.67" width="0.9" height="0.9" fill="#ee1414"/>
<rect x="76.49" y="252.39" width="0.9" height="0.9" fill="#ee1414"/>
<rect x="126.31" y="251.99" width="0.9" height="0.9" fill="#ee1414"/>
<rect x="228.87" y="252.1" width="0.9" height="0.9" fill="#ee1414"/>
<rect x="190.02" y="240.61" width="0.9" height="0.9" fill="#ee1414"/>
<rect x="186.4" y="239.9" width="0.9" height="0.9" fill="#ee1414"/>
<rect x="102.13" y="252.78" width="0.9" height="0.9" fill="#ee1414"/>
<rect x="159.27" y="252.04" width="0.9" height="0.9" fill="#ee1414"/>
<rect x="58.81" y="240.64" width="0.9" height="0.9" fill="#ee1414"/>
<rect x="164.46" y="240.24" width="0.9" height="0.9" fill="#ee1414"/>
<rect x="212.53" y="240.55" width="0.9" height="0.9" fill="#ee1414"/>
<rect x="170.83" y="240.8" width="0.9" height="0.9" fill="#ee1414"/>
<rect x="119.55" y="240.41" width="0.9" height="0.9" fill="#ee1414"/>
<rect x="97.07" y="252.35" width="0.9" height="0.9" fill="#ee1414"/>
<rect x="93.62" y="252.22" width="0.9" height="0.9" fill="#ee1414"/>
<rect x="81.68" y="251.97" width="0.9" height="0.9" fill="#ee1414"/>
<rect x="84.18" y="240.1" width="0.9" height="0.9" fill="#ee1414"/>
<rect x="208.36" y="252.14" width="0.9" height="0.9" fill="#ee1414"/>
<rect x="103.95" y="240.09" width="0.9" height="0.9" fill="#ee1414"/>
<rect x="155.22" y="240.09" width="0.9" height="0.9" fill="#ee1414"/>
<rect x="134.83" y="252.51" width="0.9" height="0.9" fill="#ee1414"/>
<rect x="101.24" y="251.75" width="0.9" height="0.9" fill="#ee1414"/>
<rect x="149.92" y="240.54" width="0.9" height="0.9" fill="#ee1414"/>
<rect x="68.54" y="251.71" width="0.9" height="0.9" fill="#ee1414"/>
<rect x="153.26" y="251.86" width="0.9" height="0.9" fill="#ee1414"/>
<rect x="92.82" y="252.26" width="0.9" height="0.9" fill="#ee1414"/>
<rect x="168.85" y="251.89" width="0.9" height="0.9" fill="#ee1414"/>
<rect x="111.71" y="240.75" width="0.9" height="0.9" fill="#ee1414"/>
<rect x="211.47" y="252.49" width="0.9" height="0.9" fill="#ee1414"/>
<rect x="59.59" y="252.52" width="0.9" height="0.9" fill="#ee1414"/>
<rect x="138.53" y="252.2" width="0.9" height="0.9" fill="#ee1414"/>
<rect x="97.36" y="240.54" width="0.9" height="0.9" fill="#ee1414"/>
<rect x="65.18" y="239.98" width="0.9" height="0.9" fill="#ee1414"/>
<rect x="178.06" y="252.48" width="0.9" height="0.9" fill="#ee1414"/>
<rect x="104.25" y="252.18" width="0.9" height="0.9" fill="#ee1414"/>
<rect x="194.11" y="251.99" width="0.9" height="0.9" fill="#ee1414"/>
<rect x="168.92" y="251.94" width="0.9" height="0.9" fill="#ee1414"/>
<rect x="209.87" y="240.51" width="0.9" height="0.9" fill="#ee1414"/>
<rect x="99.11" y="252.74" width="0.9" height="0.9" fill="#ee1414"/>
<rect x="186.84" y="239.83" width="0.9" height="0.9" fill="#ee1414"/>
<rect x="115.01" y="239.8" width="0.9" height="0.9" fill="#ee1414"/>
<rect x="166.98" y="252.43" width="0.9" height="0.9" fill="#ee1414"/>
<rect x="226.89" y="239.88" width="0.9" height="0.9" fill="#ee1414"/>
<rect x="178.49" y="252.18" width="0.9" height="0.9" fill="#ee1414"/>
<rect x="183.14" y="252.04" width="0.9" height="0.9" fill="#ee1414"/>
<rect x="94.96" y="251.79" width="0.9" height="0.9" fill="#ee1414"/>
<rect x="215.16" y="240.77" width="0.9" height="0.9" fill="#ee1414"/>
<rect x="76.85" y="252.08" width="0.9" height="0.9" fill="#ee1414"/>
<rect x="82.9" y="240.75" width="0.9" height="0.9" fill="#ee1414"/>
<rect x="177.63" y="252.47" width="0.9" height="0.9" fill="#ee1414"/>
<rect x="185.23" y="240.15" width="0.9" height="0.9" fill="#ee1414"/>
<rect x="121.01" y="252.6" width="0.9" height="0.9" fill="#ee1414"/>
<rect x="211.8" y="239.85" width="0.9" height="0.9" fill="#ee1414"/>
<rect x="215.78" y="251.82" width="0.9" height="0.9" fill="#ee1414"/>
<rect x="93.88" y="240.76" width="0.9" height="0.9" fill="#ee1414"/>
<rect x="204.31" y="252.4" width="0.9" height="0.9" fill="#ee1414"/>
<rect x="200.41" y="252.02" width="0.9" height="0.9" fill="#ee1414"/>
<rect x="75.68" y="239.97" width="0.9" height="0.9" fill="#ee1414"/>
<rect x="93.76" y="240.33" width="0.9" height="0.9" fill="#ee1414"/>
<rect x="62.1" y="240.49" width="0.9" height="0.9" fill="#ee1414"/>
<rect x="181.61" y="240.45" width="0.9" height="0.9" fill="#ee1414"/>
<rect x="224.31" y="252.64" width="0.9" height="0.9" fill="#ee1414"/>
<rect x="164.84" y="240.35" width="0.9" height="0.9" fill="#ee1414"/>
<rect x="133.57" y="252.08" width="0.9" height="0.9" fill="#ee1414"/>
<rect x="179.7" y="251.94" width="0.9" height="0.9" fill="#ee1414"/>
<rect x="206.81" y="239.9" width="0.9" height="0.9" fill="#ee1414"/>
<rect x="87.8" y="240.58" width="0.9" height="0.9" fill="#ee1414"/>
<rect x="189.6" y="251.7" width="0.9" height="0.9" fill="#ee1414"/>
<rect x="142.92" y="239.92" width="0.9" height="0.9" fill="#ee1414"/>
<rect x="90.24" y="240.42" width="0.9" height="0.9" fill="#ee1414"/>
<rect x="201.58" y="239.76" width="0.9" height="0.9" fill="#ee1414"/>
<rect x="107.3" y="240.03" width="0.9" height="0.9" fill="#ee1414"/>
<rect x="144.21" y="240.1" width="0.9" height="0.9" fill="#ee1414"/>
<rect x="72.41" y="252.47" width="0.9" height="0.9" fill="#ee1414"/>
<rect x="193.85" y="252.09" width="0.9" height="0.9" fill="#ee1414"/>
<rect x="127.52" y="239.82" width="0.9" height="0.9" fill="#ee1414"/>
<rect x="73.32" y="251.73" width="0.9" height="0.9" fill="#ee1414"/>
<rect x="93.95" y="239.81" width="0.9" height="0.9" fill="#ee1414"/>
<rect x="144.7" y="239.83" width="0.9" height="0.9" fill="#ee1414"/>
<rect x="98.67" y="240.22" width="0.9" height="0.9" fill="#ee1414"/>
<rect x="188.27" y="252.41" width="0.9" height="0.9" fill="#ee1414"/>
<rect x="118.44" y="240.63" width="0.9" height="0.9" fill="#ee1414"/>
<rect x="203.51" y="252.52" width="0.9" height="0.9" fill="#ee1414"/>
<rect x="87.66" y="239.95" width="0.9" height="0.9" fill="#ee1414"/>
<rect x="158.12" y="240.29" width="0.9" height="0.9" fill="#ee1414"/>
<rect x="210.74" y="240.59" width="0.9" height="0.9" fill="#ee1414"/>
<rect x="110.36" y="252.63" width="0.9" height="0.9" fill="#ee1414"/>
<rect x="85.09" y="240.53" width="0.9" height="0.9" fill="#ee1414"/>
<rect x="114.67" y="251.88" width="0.9" height="0.9" fill="#ee1414"/>
<rect x="114.93" y="239.73" width="0.9" height="0.9" fill="#ee1414"/>
<rect x="183.84" y="239.74" width="0.9" height="0.9" fill="#ee1414"/>
<rect x="75.98" y="239.72" width="0.9" height="0.9" fill="#ee1414"/>
<rect x="195.22" y="252.18" width="0.9" height="0.9" fill="#ee1414"/>
<rect x="92.24" y="251.82" width="0.9" height="0.9" fill="#ee1414"/>
<rect x="94.01" y="240.76" width="0.9" height="0.9" fill="#ee1414"/>
<rect x="127.13" y="252.46" width="0.9" height="0.9" fill="#ee1414"/>
<rect x="144.58" y="252.21" width="0.9" height="0.9" fill="#ee1414"/>
<rect x="82.89" y="252.15" width="0.9" height="0.9" fill="#ee1414"/>
<rect x="185.94" y="252.17" width="0.9" height="0.9" fill="#ee1414"/>
<rect x="157.22" y="252.16" width="0.9" height="0.9" fill="#ee1414"/>
<rect x="97.81" y="252.67" width="0.9" height="0.9" fill="#ee1414"/>
<rect x="191.64" y="252.64" width="0.9" height="0.9" fill="#ee1414"/>
<rect x="175.39" y="252.2" width="0.9" height="0.9" fill="#ee1414"/>
<rect x="112.34" y="251.81" width="0.9" height="0.9" fill="#ee1414"/>
<rect x="130.67" y="252.48" width="0.9" height="0.9" fill="#ee1414"/>
<rect x="166.79" y="240.33" width="0.9" height="0.9" fill="#ee1414"/>
<rect x="136.79" y="252.15" width="0.9" height="0.9" fill="#ee1414"/>
<rect x="174.64" y="251.9" width="0.9" height="0.9" fill="#ee1414"/>
<rect x="171.07" y="252.13" width="0.9" height="0.9" fill="#ee1414"/>
<rect x="142.75" y="251.74" width="0.9" height="0.9" fill="#ee1414"/>
<rect x="151.96" y="239.94" width="0.9" height="0.9" fill="#ee1414"/>
<rect x="220.28" y="251.81" width="0.9" height="0.9" fill="#ee1414"/>
<rect x="157.32" y="252.49" width="0.9" height="0.9" fill="#ee1414"/>
<rect x="146.6" y="252.61" width="0.9" height="0.9" fill="#ee1414"/>
<rect x="148.23" y="239.76" width="0.9" height="0.9" fill="#ee1414"/>
<rect x="94.64" y="252.13" width="0.9" height="0.9" fill="#ee1414"/>
<rect x="189.68" y="239.72" width="0.9" height="0.9" fill="#ee1414"/>
<rect x="119.64" y="240.5" width="0.9" height="0.9" fill="#ee1414"/>
<rect x="127.25" y="240.34" width="0.9" height="0.9" fill="#ee1414"/>
<rect x="130.83" y="252.09" width="0.9" height="0.9" fill="#ee1414"/>
<rect x="104.11" y="239.98" width="0.9" height="0.9" fill="#ee1414"/>
<rect x="220.17" y="251.94" width="0.9" height="0.9" fill="#ee1414"/>
<rect x="196.36" y="240.57" width="0.9" height="0.9" fill="#ee1414"/>
<rect x="80.74" y="252.59" width="0.9" height="0.9" fill="#ee1414"/>
<rect x="167.6" y="240.18" width="0.9" height="0.9" fill="#ee1414"/>
<rect x="97.37" y="252.09" width="0.9" height="0.9" fill="#ee1414"/>
<rect x="168.37" y="252.6" width="0.9" height="0.9" fill="#ee1414"/>
<rect x="139.01" y="240.2" width="0.9" height="0.9" fill="#ee1414"/>
<rect x="80.03" y="252.09" width="0.9" height="0.9" fill="#ee1414"/>
<rect x="204.82" y="240.39" width="0.9" height="0.9" fill="#ee1414"/>
<rect x="102.11" y="240.6" width="0.9" height="0.9" fill="#ee1414"/>
<rect x="58.96" y="252.01" width="0.9" height="0.9" fill="#ee1414"/>
<rect x="100.63" y="240.27" width="0.9" height="0.9" fill="#ee1414"/>
<rect x="132.2" y="252.43" width="0.9" height="0.9" fill="#ee1414"/>
<rect x="120.84" y="252.64" width="0.9" height="0.9" fill="#ee1414"/>
<rect x="68.31" y="252.7" width="0.9" height="0.9" fill="#ee1414"/>
<rect x="193.35" y="239.89" width="0.9" height="0.9" fill="#ee1414"/>
<rect x="167.4" y="240.79" width="0.9" height="0.9" fill="#ee1414"/>
<rect x="222.2" y="251.98" width="0.9" height="0.9" fill="#ee1414"/>
<rect x="75.96" y="240.54" width="0.9" height="0.9" fill="#ee1414"/>
<rect x="192.02" y="240.63" width="0.9" height="0.9" fill="#ee1414"/>
<rect x="214" y="251.88" width="0.9" height="0.9" fill="#ee1414"/>
<rect x="211.78" y="252.56" width="0.9" height="0.9" fill="#ee1414"/>
<rect x="173.47" y="252.57" width="0.9" height="0.9" fill="#ee1414"/>
<rect x="202.77" y="240.04" width="0.9" height="0.9" fill="#ee1414"/>
<rect x="149.8" y="252.18" width="0.9" height="0.9" fill="#ee1414"/>
<rect x="210.32" y="251.99" width="0.9" height="0.9" fill="#ee1414"/>
<rect x="98.78" y="240.26" width="0.9" height="0.9" fill="#ee1414"/>
<rect x="68.55" y="240.64" width="0.9" height="0.9" fill="#ee1414"/>
<rect x="143.02" y="240.21" width="0.9" height="0.9" fill="#ee1414"/>
<rect x="206.91" y="239.88" width="0.9" height="0.9" fill="#ee1414"/>
<rect x="138.99" y="252.43" width="0.9" height="0.9" fill="#ee1414"/>
<rect x="203.08" y="240.34" width="0.9" height="0.9" fill="#ee1414"/>
<rect x="223.73" y="240.1" width="0.9" height="0.9" fill="#ee1414"/>
<rect x="167.91" y="240.13" width="0.9" height="0.9" fill="#ee1414"/>
<rect x="175.91" y="252.06" width="0.9" height="0.9" fill="#ee1414"/>
<rect x="227.35" y="252.23" width="0.9" height="0.9" fill="#ee1414"/>
<rect x="212.88" y="240.01" width="0.9" height="0.9" fill="#ee1414"/>
<rect x="166.05" y="239.85" width="0.9" height="0.9" fill="#ee1414"/>
<rect x="121.48" y="240.22" width="0.9" height="0.9" fill="#ee1414"/>
<rect x="191.04" y="240.32" width="0.9" height="0.9" fill="#ee1414"/>
<rect x="131.15" y="252.61" width="0.9" height="0.9" fill="#ee1414"/>
<rect x="108.88" y="252.14" width="0.9" height="0.9" fill="#ee1414"/>
<rect x="145.14" y="240.24" width="0.9" height="0.9" fill="#ee1414"/>
<rect x="226.2" y="252.57" width="0.9" height="0.9" fill="#ee1414"/>
<rect x="115.41" y="240.47" width="0.9" height="0.9" fill="#ee1414"/>
<rect x="159.37" y="252.56" width="0.9" height="0.9" fill="#ee1414"/>
<rect x="65.39" y="252.67" width="0.9" height="0.9" fill="#ee1414"/>
<rect x="152.31" y="240.47" width="0.9" height="0.9" fill="#ee1414"/>
<rect x="59.57" y="239.79" width="0.9" height="0.9" fill="#ee1414"/>
<rect x="163.19" y="252.57" width="0.9" height="0.9" fill="#ee1414"/>
<rect x="214.99" y="252.38" width="0.9" height="0.9" fill="#ee1414"/>
<rect x="166.31" y="252.36" width="0.9" height="0.9" fill="#ee1414"/>
<rect x="175.63" y="240.07" width="0.9" height="0.9" fill="#ee1414"/>
<rect x="137.26" y="251.81" width="0.9" height="0.9" fill="#ee1414"/>
<rect x="89.68" y="239.95" width="0.9" height="0.9" fill="#ee1414"/>
<rect x="215.72" y="252.11" width="0.9" height="0.9" fill="#ee1414"/>
<rect x="199.99" y="252.32" width="0.9" height="0.9" fill="#ee1414"/>
<rect x="102.88" y="240.34" width="0.9" height="0.9" fill="#ee1414"/>
<rect x="113.28" y="240.09" width="0.9" height="0.9" fill="#ee1414"/>
<rect x="219.12" y="240.18" width="0.9" height="0.9" fill="#ee1414"/>
<rect x="65.27" y="239.91" width="0.9" height="0.9" fill="#ee1414"/>
<rect x="157.46" y="252.19" width="0.9" height="0.9" fill="#ee1414"/>
<rect x="60.93" y="240.15" width="0.9" height="0.9" fill="#ee1414"/>
<rect x="219.79" y="252.22" width="0.9" height="0.9" fill="#ee1414"/>
<rect x="129.44" y="240.09" width="0.9" height="0.9" fill="#ee1414"/>
<rect x="95.01" y="240.78" width="0.9" height="0.9" fill="#ee1414"/>
<rect x="59.32" y="251.83" width="0.9" height="0.9" fill="#ee1414"/>
<rect x="224.71" y="239.84" width="0.9" height="0.9" fill="#ee1414"/>
<rect x="80.68" y="240.01" width="0.9" height="0.9" fill="#ee1414"/>
<rect x="100.17" y="251.91" width="0.9" height="0.9" fill="#ee1414"/>
<rect x="67.12" y="252.48" width="0.9" height="0.9" fill="#ee1414"/>
<rect x="205.65" y="251.79" width="0.9" height="0.9" fill="#ee1414"/>
<rect x="166.62" y="252.21" width="0.9" height="0.9" fill="#ee1414"/>
<rect x="218.86" y="239.74" width="0.9" height="0.9" fill="#ee1414"/>
<rect x="181.86" y="240.78" width="0.9" height="0.9" fill="#ee1414"/>
<rect x="170.42" y="251.79" width="0.9" height="0.9" fill="#ee1414"/>
<rect x="112" y="251.88" width="0.9" height="0.9" fill="#ee1414"/>
<rect x="206.59" y="240.73" width="0.9" height="0.9" fill="#ee1414"/>
<rect x="121.72" y="252.18" width="0.9" height="0.9" fill="#ee1414"/>
<rect x="174.92" y="239.92" width="0.9" height="0.9" fill="#ee1414"/>
<rect x="120.98" y="252.39" width="0.9" height="0.9" fill="#ee1414"/>
<rect x="130.39" y="239.94" width="0.9" height="0.9" fill="#ee1414"/>
<rect x="221.03" y="252.32" width="0.9" height="0.9" fill="#ee1414"/>
<rect x="108.79" y="239.73" width="0.9" height="0.9" fill="#ee1414"/>
<rect x="179.46" y="252.07" width="0.9" height="0.9" fill="#ee1414"/>
<rect x="162.7" y="252.61" width="0.9" height="0.9" fill="#ee1414"/>
<rect x="161.9" y="240.33" width="0.9" height="0.9" fill="#ee1414"/>
<rect x="211.26" y="240.05" width="0.9" height="0.9" fill="#ee1414"/>
<rect x="162.01" y="252.59" width="0.9" height="0.9" fill="#ee1414"/>
<rect x="107.23" y="240.51" width="0.9" height="0.9" fill="#ee1414"/>
<rect x="131.17" y="252.6" width="0.9" height="0.9" fill="#ee1414"/>
<rect x="211.14" y="239.88" width="0.9" height="0.9" fill="#ee1414"/>
<rect x="198.12" y="252.33" width="0.9" height="0.9" fill="#ee1414"/>
<rect x="105.6" y="252.59" width="0.9" height="0.9" fill="#ee1414"/>
<rect x="176.26" y="252.08" width="0.9" height="0.9" fill="#ee1414"/>
<rect x="73.13" y="252.58" width="0.9" height="0.9" fill="#ee1414"/>
<rect x="92.97" y="252.72" width="0.9" height="0.9" fill="#ee1414"/>
<rect x="98.75" y="252.45" width="0.9" height="0.9" fill="#ee1414"/>
<rect x="138.54" y="240.52" width="0.9" height="0.9" fill="#ee1414"/>
<rect x="187.69" y="252.21" width="0.9" height="0.9" fill="#ee1414"/>
<rect x="73.58" y="252.55" width="0.9" height="0.9" fill="#ee1414"/>
<rect x="98.55" y="252.69" width="0.9" height="0.9" fill="#ee1414"/>
<rect x="210.74" y="252.22" width="0.9" height="0.9" fill="#ee1414"/>
<rect x="159.86" y="240.59" width="0.9" height="0.9" fill="#ee1414"/>
<rect x="89.58" y="252.1" width="0.9" height="0.9" fill="#ee1414"/>
<rect x="155.58" y="240.23" width="0.9" height="0.9" fill="#ee1414"/>
<rect x="84.13" y="239.7" width="0.9" height="0.9" fill="#ee1414"/>
<rect x="122.83" y="240.1" width="0.9" height="0.9" fill="#ee1414"/>
<rect x="193.92" y="240.14" width="0.9" height="0.9" fill="#ee1414"/>
<rect x="117.83" y="251.72" width="0.9" height="0.9" fill="#ee1414"/>
<rect x="64.28" y="252.65" width="0.9" height="0.9" fill="#ee1414"/>
<rect x="142.15" y="251.99" width="0.9" height="0.9" fill="#ee1414"/>
<rect x="192.52" y="239.76" width="0.9" height="0.9" fill="#ee1414"/>
<rect x="190.47" y="252.76" width="0.9" height="0.9" fill="#ee1414"/>
<rect x="102.19" y="240.58" width="0.9" height="0.9" fill="#ee1414"/>
<rect x="89.59" y="240.74" width="0.9" height="0.9" fill="#ee1414"/>
<rect x="154.37" y="252.2" width="0.9" height="0.9" fill="#ee1414"/>
<rect x="221.42" y="251.77" width="0.9" height="0.9" fill="#ee1414"/>
<rect x="161.37" y="240.67" width="0.9" height="0.9" fill="#ee1414"/>
<rect x="223.5" y="240.18" width="0.9" height="0.9" fill="#ee1414"/>
<rect x="168.69" y="252.44" width="0.9" height="0.9" fill="#ee1414"/>
<rect x="126.12" y="240.62" width="0.9" height="0.9" fill="#ee1414"/>
<rect x="224.61" y="251.94" width="0.9" height="0.9" fill="#ee1414"/>
<rect x="65.14" y="240.41" width="0.9" height="0.9" fill="#ee1414"/>
<rect x="213.77" y="252.62" width="0.9" height="0.9" fill="#ee1414"/>
<rect x="66.59" y="252.48" width="0.9" height="0.9" fill="#ee1414"/>
<rect x="169.73" y="251.76" width="0.9" height="0.9" fill="#ee1414"/>
<rect x="83.41" y="252.73" width="0.9" height="0.9" fill="#ee1414"/>
<rect x="174.92" y="240.15" width="0.9" height="0.9" fill="#ee1414"/>
<rect x="188.86" y="240.44" width="0.9" height="0.9" fill="#ee1414"/>
<rect x="102.71" y="240.27" width="0.9" height="0.9" fill="#ee1414"/>
<rect x="87.5" y="240.64" width="0.9" height="0.9" fill="#ee1414"/>
<rect x="175.05" y="240.01" width="0.9" height="0.9" fill="#ee1414"/>
<rect x="92.06" y="239.78" width="0.9" height="0.9" fill="#ee1414"/>
<rect x="96.43" y="252.65" width="0.9" height="0.9" fill="#ee1414"/>
<rect x="211.36" y="240.31" width="0.9" height="0.9" fill="#ee1414"/>
<rect x="75.18" y="252.63" width="0.9" height="0.9" fill="#ee1414"/>
<rect x="166.58" y="240.43" width="0.9" height="0.9" fill="#ee1414"/>
<rect x="200.07" y="240.11" width="0.9" height="0.9" fill="#ee1414"/>
<rect x="83.06" y="240.74" width="0.9" height="0.9" fill="#ee1414"/>
<rect x="181.26" y="251.86" width="0.9" height="0.9" fill="#ee1414"/>
<rect x="208.26" y="240.35" width="0.9" height="0.9" fill="#ee1414"/>
<rect x="85.28" y="239.88" width="0.9" height="0.9" fill="#ee1414"/>
<rect x="116.04" y="240.26" width="0.9" height="0.9" fill="#ee1414"/>
<rect x="113.21" y="251.83" width="0.9" height="0.9" fill="#ee1414"/>
<rect x="226.82" y="239.82" width="0.9" height="0.9" fill="#ee1414"/>
<rect x="173.44" y="240.27" width="0.9" height="0.9" fill="#ee1414"/>
<rect x="107.73" y="240.58" width="0.9" height="0.9" fill="#ee1414"/>
<rect x="121.16" y="252.8" width="0.9" height="0.9" fill="#ee1414"/>
<rect x="217.61" y="240.48" width="0.9" height="0.9" fill="#ee1414"/>
<rect x="212.65" y="240" width="0.9" height="0.9" fill="#ee1414"/>
<rect x="108.99" y="251.72" width="0.9" height="0.9" fill="#ee1414"/>
<rect x="197.31" y="240.65" width="0.9" height="0.9" fill="#ee1414"/>
<rect x="58.83" y="252.28" width="0.9" height="0.9" fill="#ee1414"/>
<rect x="90.46" y="239.8" width="0.9" height="0.9" fill="#ee1414"/>
<rect x="96.04" y="251.85" width="0.9" height="0.9" fill="#ee1414"/>
<rect x="89.48" y="252.48" width="0.9" height="0.9" fill="#ee1414"/>
<rect x="92.33" y="240.7" width="0.9" height="0.9" fill="#ee1414"/>
<rect x="163.17" y="240.5" width="0.9" height="0.9" fill="#ee1414"/>
<rect x="93.94" y="252.48" width="0.9" height="0.9" fill="#ee1414"/>
<rect x="198.09" y="251.92" width="0.9" height="0.9" fill="#ee1414"/>
<rect x="69.8" y="252.15" width="0.9" height="0.9" fill="#ee1414"/>
<rect x="182.62" y="239.91" width="0.9" height="0.9" fill="#ee1414"/>
<rect x="116.16" y="252.65" width="0.9" height="0.9" fill="#ee1414"/>
<rect x="143.3" y="239.8" width="0.9" height="0.9" fill="#ee1414"/>
<rect x="140.48" y="251.99" width="0.9" height="0.9" fill="#ee1414"/>
<rect x="90.5" y="252.1" width="0.9" height="0.9" fill="#ee1414"/>
<rect x="86.62" y="240.15" width="0.9" height="0.9" fill="#ee1414"/>
<rect x="59.3" y="252.19" width="0.9" height="0.9" fill="#ee1414"/>
<rect x="147.19" y="240.01" width="0.9" height="0.9" fill="#ee1414"/>
<rect x="198.94" y="252.05" width="0.9" height="0.9" fill="#ee1414"/>
<rect x="180.82" y="239.97" width="0.9" height="0.9" fill="#ee1414"/>
<rect x="69.03" y="252.75" width="0.9" height="0.9" fill="#ee1414"/>
<rect x="143.61" y="252.28" width="0.9" height="0.9" fill="#ee1414"/>
<rect x="150.92" y="239.74" width="0.9" height="0.9" fill="#ee1414"/>
<rect x="96.98" y="240.69" width="0.9" height="0.9" fill="#ee1414"/>
<rect x="101.58" y="251.73" width="0.9" height="0.9" fill="#ee1414"/>
<rect x="75.09" y="251.91" width="0.9" height="0.9" fill="#ee1414"/>
<rect x="61.54" y="252.33" width="0.9" height="0.9" fill="#ee1414"/>
<rect x="148.44" y="251.81" width="0.9" height="0.9" fill="#ee1414"/>
<rect x="208.06" y="251.75" width="0.9" height="0.9" fill="#ee1414"/>
<rect x="79.66" y="240.25" width="0.9" height="0.9" fill="#ee1414"/>
<rect x="106.6" y="240.35" width="0.9" height="0.9" fill="#ee1414"/>
<rect x="82.06" y="252.65" width="0.9" height="0.9" fill="#ee1414"/>
<rect x="83.82" y="252.52" width="0.9" height="0.9" fill="#ee1414"/>
<rect x="86.76" y="252.73" width="0.9" height="0.9" fill="#ee1414"/>
<rect x="125.36" y="239.88" width="0.9" height="0.9" fill="#ee1414"/>
<rect x="148.91" y="239.76" width="0.9" height="0.9" fill="#ee1414"/>
<rect x="192.13" y="240.54" width="0.9" height="0.9" fill="#ee1414"/>
<rect x="116.13" y="239.72" width="0.9" height="0.9" fill="#ee1414"/>
<rect x="196.85" y="252.6" width="0.9" height="0.9" fill="#ee1414"/>
<rect x="204.29" y="240.23" width="0.9" height="0.9" fill="#ee1414"/>
<rect x="223.25" y="251.97" width="0.9" height="0.9" fill="#ee1414"/>
<rect x="131.11" y="252.1" width="0.9" height="0.9" fill="#ee1414"/>
<rect x="149.8" y="240.32" width="0.9" height="0.9" fill="#ee1414"/>
<rect x="145.32" y="240.65" width="0.9" height="0.9" fill="#ee1414"/>
<rect x="225.29" y="252.73" width="0.9" height="0.9" fill="#ee1414"/>
<rect x="167.41" y="252.67" width="0.9" height="0.9" fill="#ee1414"/>
<rect x="210.66" y="240.09" width="0.9" height="0.9" fill="#ee1414"/>
<rect x="104.21" y="252" width="0.9" height="0.9" fill="#ee1414"/>
<rect x="151.77" y="252.38" width="0.9" height="0.9" fill="#ee1414"/>
<rect x="101.6" y="252.18" width="0.9" height="0.9" fill="#ee1414"/>
<rect x="222.05" y="240.46" width="0.9" height="0.9" fill="#ee1414"/>
<rect x="169.87" y="240.15" width="0.9" height="0.9" fill="#ee1414"/>
<rect x="222.95" y="252" width="0.9" height="0.9" fill="#ee1414"/>
<rect x="138.72" y="251.86" width="0.9" height="0.9" fill="#ee1414"/>
<rect x="79.81" y="240.48" width="0.9" height="0.9" fill="#ee1414"/>
<rect x="128.43" y="240.53" width="0.9" height="0.9" fill="#ee1414"/>
<rect x="73.61" y="252.62" width="0.9" height="0.9" fill="#ee1414"/>
<rect x="163.41" y="252.42" width="0.9" height="0.9" fill="#ee1414"/>
<rect x="93.11" y="252.21" width="0.9" height="0.9" fill="#ee1414"/>
<rect x="152.76" y="252.22" width="0.9" height="0.9" fill="#ee1414"/>
<rect x="111.91" y="240.56" width="0.9" height="0.9" fill="#ee1414"/>
<rect x="146.64" y="240.16" width="0.9" height="0.9" fill="#ee1414"/>
<rect x="60.54" y="239.85" width="0.9" height="0.9" fill="#ee1414"/>
<rect x="99.53" y="252.24" width="0.9" height="0.9" fill="#ee1414"/>
<rect x="107.49" y="252.03" width="0.9" height="0.9" fill="#ee1414"/>
<rect x="191.31" y="240.73" width="0.9" height="0.9" fill="#ee1414"/>
<rect x="208.36" y="240.73" width="0.9" height="0.9" fill="#ee1414"/>
<rect x="125.22" y="239.99" width="0.9" height="0.9" fill="#ee1414"/>
<rect x="77.29" y="239.74" width="0.9" height="0.9" fill="#ee1414"/>
<rect x="185.55" y="240.43" width="0.9" height="0.9" fill="#ee1414"/>
<rect x="119.12" y="252.38" width="0.9" height="0.9" fill="#ee1414"/>
<rect x="204.7" y="252.27" width="0.9" height="0.9" fill="#ee1414"/>
<rect x="185.57" y="252.54" width="0.9" height="0.9" fill="#ee1414"/>
<rect x="140.24" y="252.48" width="0.9" height="0.9" fill="#ee1414"/>
<rect x="215.83" y="239.84" width="0.9" height="0.9" fill="#ee1414"/>
<rect x="59.24" y="252.34" width="0.9" height="0.9" fill="#ee1414"/>
<rect x="144.14" y="252.33" width="0.9" height="0.9" fill="#ee1414"/>
<rect x="130.38" y="252.66" width="0.9" height="0.9" fill="#ee1414"/>
<rect x="162.96" y="240.3" width="0.9" height="0.9" fill="#ee1414"/>
<rect x="137.26" y="252.02" width="0.9" height="0.9" fill="#ee1414"/>
<rect x="125.7" y="252.12" width="0.9" height="0.9" fill="#ee1414"/>
<rect x="113.88" y="252.63" width="0.9" height="0.9" fill="#ee1414"/>
<rect x="144.42" y="240.6" width="0.9" height="0.9" fill="#ee1414"/>
<rect x="110.79" y="240.17" width="0.9" height="0.9" fill="#ee1414"/>
<rect x="158.53" y="239.79" width="0.9" height="0.9" fill="#ee1414"/>
<rect x="114.21" y="252.62" width="0.9" height="0.9" fill="#ee1414"/>
<rect x="223.41" y="240.33" width="0.9" height="0.9" fill="#ee1414"/>
<rect x="215.12" y="240.75" width="0.9" height="0.9" fill="#ee1414"/>
<rect x="155.67" y="239.79" width="0.9" height="0.9" fill="#ee1414"/>
<rect x="191.54" y="252.8" width="0.9" height="0.9" fill="#ee1414"/>
<rect x="147.5" y="252.45" width="0.9" height="0.9" fill="#ee1414"/>
<rect x="125.5" y="240.15" width="0.9" height="0.9" fill="#ee1414"/>
<rect x="118.89" y="252.44" width="0.9" height="0.9" fill="#ee1414"/>
<rect x="148.84" y="240.39" width="0.9" height="0.9" fill="#ee1414"/>
<rect x="127.45" y="252.33" width="0.9" height="0.9" fill="#ee1414"/>
<rect x="209.83" y="252.24" width="0.9" height="0.9" fill="#ee1414"/>
<rect x="134.21" y="252.8" width="0.9" height="0.9" fill="#ee1414"/>
<rect x="117.54" y="252.6" width="0.9" height="0.9" fill="#ee1414"/>
<rect x="87.86" y="239.72" width="0.9" height="0.9" fill="#ee1414"/>
<rect x="200.58" y="251.82" width="0.9" height="0.9" fill="#ee1414"/>
<rect x="212.36" y="252.6" width="0.9" height="0.9" fill="#ee1414"/>
<rect x="228.82" y="252.16" width="0.9" height="0.9" fill="#ee1414"/>
<rect x="85.4" y="240.24" width="0.9" height="0.9" fill="#ee1414"/>
<rect x="145.34" y="240.6" width="0.9" height="0.9" fill="#ee1414"/>
<rect x="166.88" y="252.09" width="0.9" height="0.9" fill="#ee1414"/>
<rect x="229.42" y="251.75" width="0.9" height="0.9" fill="#ee1414"/>
<rect x="129.26" y="252.04" width="0.9" height="0.9" fill="#ee1414"/>
<rect x="177.3" y="240.47" width="0.9" height="0.9" fill="#ee1414"/>
<rect x="203.35" y="252.43" width="0.9" height="0.9" fill="#ee1414"/>
<rect x="92.32" y="240.19" width="0.9" height="0.9" fill="#ee1414"/>
<rect x="104.26" y="252.28" width="0.9" height="0.9" fill="#ee1414"/>
<rect x="230" y="252.15" width="0.9" height="0.9" fill="#ee1414"/>
<rect x="79.4" y="239.96" width="0.9" height="0.9" fill="#ee1414"/>
<rect x="76.84" y="240.61" width="0.9" height="0.9" fill="#ee1414"/>
<rect x="148.37" y="252.37" width="0.9" height="0.9" fill="#ee1414"/>
<rect x="197.24" y="240.79" width="0.9" height="0.9" fill="#ee1414"/>
<rect x="191.04" y="240.01" width="0.9" height="0.9" fill="#ee1414"/>
<rect x="119.36" y="240.51" width="0.9" height="0.9" fill="#ee1414"/>
<rect x="75.61" y="252.34" width="0.9" height="0.9" fill="#ee1414"/>
<rect x="118.51" y="240.38" width="0.9" height="0.9" fill="#ee1414"/>
<rect x="67.93" y="250.54" width="0.75" height="0.75" fill="#fbd6d6"/>
<rect x="159.01" y="251.27" width="0.75" height="0.75" fill="#fbd6d6"/>
<rect x="134.34" y="247.67" width="0.75" height="0.75" fill="#fbd6d6"/>
<rect x="101.51" y="241.57" width="0.75" height="0.75" fill="#fbd6d6"/>
<rect x="219.07" y="250.16" width="0.75" height="0.75" fill="#fbd6d6"/>
<rect x="112.8" y="250.63" width="0.75" height="0.75" fill="#fbd6d6"/>
<rect x="199.24" y="244.32" width="0.75" height="0.75" fill="#fbd6d6"/>
<rect x="162.44" y="251.28" width="0.75" height="0.75" fill="#fbd6d6"/>
<rect x="143.98" y="251.17" width="0.75" height="0.75" fill="#fbd6d6"/>
<rect x="100.41" y="245.23" width="0.75" height="0.75" fill="#fbd6d6"/>
<rect x="182.44" y="243.45" width="0.75" height="0.75" fill="#fbd6d6"/>
<rect x="111.83" y="250.38" width="0.75" height="0.75" fill="#fbd6d6"/>
<rect x="142.06" y="249.5" width="0.75" height="0.75" fill="#fbd6d6"/>
<rect x="100.48" y="242.94" width="0.75" height="0.75" fill="#fbd6d6"/>
<rect x="120.32" y="243.08" width="0.75" height="0.75" fill="#fbd6d6"/>
<rect x="226.09" y="244.18" width="0.75" height="0.75" fill="#fbd6d6"/>
<rect x="155.36" y="242.32" width="0.75" height="0.75" fill="#fbd6d6"/>
<rect x="150.57" y="245.19" width="0.75" height="0.75" fill="#fbd6d6"/>
<rect x="128.05" y="241.79" width="0.75" height="0.75" fill="#fbd6d6"/>
<rect x="79.77" y="249.85" width="0.75" height="0.75" fill="#fbd6d6"/>
<rect x="119.09" y="243.7" width="0.75" height="0.75" fill="#fbd6d6"/>
<rect x="91.48" y="244.11" width="0.75" height="0.75" fill="#fbd6d6"/>
<rect x="99.41" y="241.47" width="0.75" height="0.75" fill="#fbd6d6"/>
<rect x="173.09" y="244.72" width="0.75" height="0.75" fill="#fbd6d6"/>
<rect x="85.39" y="248.58" width="0.75" height="0.75" fill="#fbd6d6"/>
<rect x="74.48" y="243.96" width="0.75" height="0.75" fill="#fbd6d6"/>
<rect x="202.54" y="242.45" width="0.75" height="0.75" fill="#fbd6d6"/>
<rect x="134.97" y="249.96" width="0.75" height="0.75" fill="#fbd6d6"/>
<rect x="197.35" y="242.79" width="0.75" height="0.75" fill="#fbd6d6"/>
<rect x="119.38" y="248.76" width="0.75" height="0.75" fill="#fbd6d6"/>
<rect x="123.51" y="251.26" width="0.75" height="0.75" fill="#fbd6d6"/>
<rect x="94.39" y="251.18" width="0.75" height="0.75" fill="#fbd6d6"/>
<rect x="145.58" y="243.51" width="0.75" height="0.75" fill="#fbd6d6"/>
<rect x="136.59" y="242.49" width="0.75" height="0.75" fill="#fbd6d6"/>
<rect x="180.37" y="243.86" width="0.75" height="0.75" fill="#fbd6d6"/>
<rect x="213.68" y="247.33" width="0.75" height="0.75" fill="#fbd6d6"/>
<rect x="121.98" y="243.71" width="0.75" height="0.75" fill="#fbd6d6"/>
<rect x="163.42" y="243.35" width="0.75" height="0.75" fill="#fbd6d6"/>
<rect x="208.99" y="242.4" width="0.75" height="0.75" fill="#fbd6d6"/>
<rect x="147" y="246.85" width="0.75" height="0.75" fill="#fbd6d6"/>
<rect x="105.15" y="249.28" width="0.75" height="0.75" fill="#fbd6d6"/>
<rect x="124.88" y="248.07" width="0.75" height="0.75" fill="#fbd6d6"/>
<rect x="156.42" y="244.39" width="0.75" height="0.75" fill="#fbd6d6"/>
<rect x="125.76" y="242.01" width="0.75" height="0.75" fill="#fbd6d6"/>
<rect x="89.04" y="250.12" width="0.75" height="0.75" fill="#fbd6d6"/>
<rect x="113.88" y="248.13" width="0.75" height="0.75" fill="#fbd6d6"/>
<rect x="77.3" y="247.06" width="0.75" height="0.75" fill="#fbd6d6"/>
<rect x="120.86" y="246.4" width="0.75" height="0.75" fill="#fbd6d6"/>
<rect x="109.73" y="241.8" width="0.75" height="0.75" fill="#fbd6d6"/>
<rect x="112.19" y="243.5" width="0.75" height="0.75" fill="#fbd6d6"/>
<rect x="80.26" y="248.7" width="0.75" height="0.75" fill="#fbd6d6"/>
<rect x="107.21" y="245.38" width="0.75" height="0.75" fill="#fbd6d6"/>
<rect x="215.29" y="249.31" width="0.75" height="0.75" fill="#fbd6d6"/>
<rect x="210.78" y="250.23" width="0.75" height="0.75" fill="#fbd6d6"/>
<rect x="81.3" y="244.03" width="0.75" height="0.75" fill="#fbd6d6"/>
<rect x="63.6" y="248.3" width="0.75" height="0.75" fill="#fbd6d6"/>
<rect x="172.97" y="244.83" width="0.75" height="0.75" fill="#fbd6d6"/>
<rect x="129.67" y="248.09" width="0.75" height="0.75" fill="#fbd6d6"/>
<rect x="179.12" y="243.73" width="0.75" height="0.75" fill="#fbd6d6"/>
<rect x="204.56" y="244.83" width="0.75" height="0.75" fill="#fbd6d6"/>
<rect x="166.97" y="243.03" width="0.75" height="0.75" fill="#fbd6d6"/>
<rect x="78.38" y="250.77" width="0.75" height="0.75" fill="#fbd6d6"/>
<rect x="185.12" y="248.65" width="0.75" height="0.75" fill="#fbd6d6"/>
<rect x="65.48" y="241.52" width="0.75" height="0.75" fill="#fbd6d6"/>
<rect x="86.45" y="243.2" width="0.75" height="0.75" fill="#fbd6d6"/>
<rect x="110.78" y="245.14" width="0.75" height="0.75" fill="#fbd6d6"/>
<rect x="65.27" y="244.4" width="0.75" height="0.75" fill="#fbd6d6"/>
<rect x="168.61" y="243" width="0.75" height="0.75" fill="#fbd6d6"/>
<rect x="203.31" y="247.14" width="0.75" height="0.75" fill="#fbd6d6"/>
<rect x="182.12" y="243.8" width="0.75" height="0.75" fill="#fbd6d6"/>
<rect x="133.53" y="248.35" width="0.75" height="0.75" fill="#fbd6d6"/>
<rect x="118.71" y="241.11" width="0.75" height="0.75" fill="#fbd6d6"/>
<rect x="202.41" y="249.33" width="0.75" height="0.75" fill="#fbd6d6"/>
<rect x="107.89" y="241.56" width="0.75" height="0.75" fill="#fbd6d6"/>
<rect x="205.84" y="247.54" width="0.75" height="0.75" fill="#fbd6d6"/>
<rect x="66.67" y="243.69" width="0.75" height="0.75" fill="#fbd6d6"/>
<rect x="77.68" y="249.49" width="0.75" height="0.75" fill="#fbd6d6"/>
<rect x="94.75" y="250.79" width="0.75" height="0.75" fill="#fbd6d6"/>
<rect x="187.79" y="242.01" width="0.75" height="0.75" fill="#fbd6d6"/>
<rect x="178.33" y="245.27" width="0.75" height="0.75" fill="#fbd6d6"/>
<rect x="187.45" y="249.88" width="0.75" height="0.75" fill="#fbd6d6"/>
<rect x="107" y="242.05" width="0.75" height="0.75" fill="#fbd6d6"/>
<rect x="221.75" y="245.59" width="0.75" height="0.75" fill="#fbd6d6"/>
<rect x="218.96" y="248.43" width="0.75" height="0.75" fill="#fbd6d6"/>
<rect x="185.91" y="249.9" width="0.75" height="0.75" fill="#fbd6d6"/>
<rect x="166.85" y="245.9" width="0.75" height="0.75" fill="#fbd6d6"/>
<rect x="67.87" y="248.5" width="0.75" height="0.75" fill="#fbd6d6"/>
<rect x="132.39" y="246.53" width="0.75" height="0.75" fill="#fbd6d6"/>
<rect x="218.6" y="242.45" width="0.75" height="0.75" fill="#fbd6d6"/>
<rect x="189.93" y="241.56" width="0.75" height="0.75" fill="#fbd6d6"/>
<rect x="179.72" y="249.64" width="0.75" height="0.75" fill="#fbd6d6"/>
<rect x="103.56" y="246.89" width="0.75" height="0.75" fill="#fbd6d6"/>
<rect x="225.72" y="247.86" width="0.75" height="0.75" fill="#fbd6d6"/>
<rect x="152.33" y="243.75" width="0.75" height="0.75" fill="#fbd6d6"/>
<rect x="68.74" y="244.89" width="0.75" height="0.75" fill="#fbd6d6"/>
<rect x="129.51" y="243.23" width="0.75" height="0.75" fill="#fbd6d6"/>
<rect x="112.07" y="242.55" width="0.75" height="0.75" fill="#fbd6d6"/>
<rect x="180.45" y="248.21" width="0.75" height="0.75" fill="#fbd6d6"/>
<rect x="99.53" y="243.66" width="0.75" height="0.75" fill="#fbd6d6"/>
<rect x="147.4" y="245.82" width="0.75" height="0.75" fill="#fbd6d6"/>
<rect x="219.93" y="244.83" width="0.75" height="0.75" fill="#fbd6d6"/>
<rect x="110.14" y="250.48" width="0.75" height="0.75" fill="#fbd6d6"/>
<rect x="82.98" y="247.07" width="0.75" height="0.75" fill="#fbd6d6"/>
<rect x="116.04" y="249.74" width="0.75" height="0.75" fill="#fbd6d6"/>
<rect x="153.07" y="249.16" width="0.75" height="0.75" fill="#fbd6d6"/>
<rect x="87.69" y="248.17" width="0.75" height="0.75" fill="#fbd6d6"/>
<rect x="161.77" y="245.99" width="0.75" height="0.75" fill="#fbd6d6"/>
<rect x="190.66" y="249.91" width="0.75" height="0.75" fill="#fbd6d6"/>
<rect x="78.25" y="244.17" width="0.75" height="0.75" fill="#fbd6d6"/>
<rect x="120.68" y="243.29" width="0.75" height="0.75" fill="#fbd6d6"/>
<rect x="68.91" y="244.08" width="0.75" height="0.75" fill="#fbd6d6"/>
<rect x="92.5" y="248.54" width="0.75" height="0.75" fill="#fbd6d6"/>
<rect x="135.78" y="242.3" width="0.75" height="0.75" fill="#fbd6d6"/>
<rect x="114.47" y="246.07" width="0.75" height="0.75" fill="#fbd6d6"/>
<rect x="121.11" y="242.88" width="0.75" height="0.75" fill="#fbd6d6"/>
<rect x="70.89" y="241.21" width="0.75" height="0.75" fill="#fbd6d6"/>
<rect x="229.64" y="249.05" width="0.75" height="0.75" fill="#fbd6d6"/>
<rect x="72.99" y="248.7" width="0.75" height="0.75" fill="#fbd6d6"/>
<rect x="227.59" y="247.07" width="0.75" height="0.75" fill="#fbd6d6"/>
<rect x="77.27" y="246.28" width="0.75" height="0.75" fill="#fbd6d6"/>
<rect x="133.41" y="243.11" width="0.75" height="0.75" fill="#fbd6d6"/>
<rect x="152.18" y="241.19" width="0.75" height="0.75" fill="#fbd6d6"/>
<rect x="217.12" y="247.93" width="0.75" height="0.75" fill="#fbd6d6"/>
<rect x="166.79" y="251.01" width="0.75" height="0.75" fill="#fbd6d6"/>
<rect x="171.07" y="243.76" width="0.75" height="0.75" fill="#fbd6d6"/>
<rect x="100.93" y="242.57" width="0.75" height="0.75" fill="#fbd6d6"/>
<rect x="63.27" y="249.31" width="0.75" height="0.75" fill="#fbd6d6"/>
<rect x="203.33" y="244.24" width="0.75" height="0.75" fill="#fbd6d6"/>
<rect x="90.54" y="247.86" width="0.75" height="0.75" fill="#fbd6d6"/>
<rect x="204.39" y="250.92" width="0.75" height="0.75" fill="#fbd6d6"/>
<rect x="87.56" y="249.42" width="0.75" height="0.75" fill="#fbd6d6"/>
<rect x="201.74" y="248.97" width="0.75" height="0.75" fill="#fbd6d6"/>
<rect x="114.85" y="243.06" width="0.75" height="0.75" fill="#fbd6d6"/>
<rect x="200.87" y="244.49" width="0.75" height="0.75" fill="#fbd6d6"/>
<rect x="122.07" y="246.94" width="0.75" height="0.75" fill="#fbd6d6"/>
<rect x="122.2" y="249.91" width="0.75" height="0.75" fill="#fbd6d6"/>
<rect x="99.79" y="241.54" width="0.75" height="0.75" fill="#fbd6d6"/>
<rect x="156.28" y="247.76" width="0.75" height="0.75" fill="#fbd6d6"/>
<rect x="199.9" y="248.58" width="0.75" height="0.75" fill="#fbd6d6"/>
<rect x="214.65" y="251.12" width="0.75" height="0.75" fill="#fbd6d6"/>
<rect x="143.78" y="246.4" width="0.75" height="0.75" fill="#fbd6d6"/>
<rect x="85.67" y="244.28" width="0.75" height="0.75" fill="#fbd6d6"/>
<rect x="158.74" y="241.95" width="0.75" height="0.75" fill="#fbd6d6"/>
<rect x="177.18" y="242.83" width="0.75" height="0.75" fill="#fbd6d6"/>
<rect x="134.95" y="251.38" width="0.75" height="0.75" fill="#fbd6d6"/>
<rect x="73.97" y="241.52" width="0.75" height="0.75" fill="#fbd6d6"/>
<rect x="134.31" y="243.12" width="0.75" height="0.75" fill="#fbd6d6"/>
<rect x="183.21" y="241.13" width="0.75" height="0.75" fill="#fbd6d6"/>
<rect x="203.54" y="250.17" width="0.75" height="0.75" fill="#fbd6d6"/>
<rect x="194.24" y="245.61" width="0.75" height="0.75" fill="#fbd6d6"/>
<rect x="107.36" y="248.11" width="0.75" height="0.75" fill="#fbd6d6"/>
<rect x="147.27" y="245.56" width="0.75" height="0.75" fill="#fbd6d6"/>
<rect x="116.92" y="245.75" width="0.75" height="0.75" fill="#fbd6d6"/>
<rect x="173.4" y="249.86" width="0.75" height="0.75" fill="#fbd6d6"/>
<rect x="214.44" y="242.84" width="0.75" height="0.75" fill="#fbd6d6"/>
<rect x="109.52" y="245.8" width="0.75" height="0.75" fill="#fbd6d6"/>
<rect x="155.68" y="244.79" width="0.75" height="0.75" fill="#fbd6d6"/>
<rect x="92.21" y="242" width="0.75" height="0.75" fill="#fbd6d6"/>
<rect x="114.34" y="245.98" width="0.75" height="0.75" fill="#fbd6d6"/>
<rect x="226.05" y="250.73" width="0.75" height="0.75" fill="#fbd6d6"/>
<rect x="207.78" y="251.43" width="0.75" height="0.75" fill="#fbd6d6"/>
<rect x="224.41" y="247.67" width="0.75" height="0.75" fill="#fbd6d6"/>
<rect x="198.42" y="241.74" width="0.75" height="0.75" fill="#fbd6d6"/>
<rect x="175.19" y="247.56" width="0.75" height="0.75" fill="#fbd6d6"/>
<rect x="109.74" y="247.15" width="0.75" height="0.75" fill="#fbd6d6"/>
<rect x="222.86" y="246.2" width="0.75" height="0.75" fill="#fbd6d6"/>
<rect x="170.17" y="244.27" width="0.75" height="0.75" fill="#fbd6d6"/>
<rect x="117.74" y="250.48" width="0.75" height="0.75" fill="#fbd6d6"/>
<rect x="63.3" y="243.1" width="0.75" height="0.75" fill="#fbd6d6"/>
<rect x="175.57" y="245.84" width="0.75" height="0.75" fill="#fbd6d6"/>
<rect x="73.2" y="248.1" width="0.75" height="0.75" fill="#fbd6d6"/>
<rect x="122.67" y="247.26" width="0.75" height="0.75" fill="#fbd6d6"/>
<rect x="130.33" y="246.72" width="0.75" height="0.75" fill="#fbd6d6"/>
<rect x="155.93" y="245.3" width="0.75" height="0.75" fill="#fbd6d6"/>
<rect x="78.21" y="243.01" width="0.75" height="0.75" fill="#fbd6d6"/>
<rect x="212.02" y="246.91" width="0.75" height="0.75" fill="#fbd6d6"/>
<rect x="77.87" y="250.24" width="0.75" height="0.75" fill="#fbd6d6"/>
<rect x="102.23" y="242.11" width="0.75" height="0.75" fill="#fbd6d6"/>
<rect x="150.06" y="243.77" width="0.75" height="0.75" fill="#fbd6d6"/>
<rect x="142.9" y="246.97" width="0.75" height="0.75" fill="#fbd6d6"/>
<rect x="97.58" y="247.17" width="0.75" height="0.75" fill="#fbd6d6"/>
<rect x="78" y="246.54" width="0.75" height="0.75" fill="#fbd6d6"/>
<rect x="160.01" y="241.95" width="0.75" height="0.75" fill="#fbd6d6"/>
<rect x="128.88" y="241.88" width="0.75" height="0.75" fill="#fbd6d6"/>
<rect x="134.32" y="250.25" width="0.75" height="0.75" fill="#fbd6d6"/>
<rect x="153.47" y="248.67" width="0.75" height="0.75" fill="#fbd6d6"/>
<rect x="189.07" y="242.31" width="0.75" height="0.75" fill="#fbd6d6"/>
<rect x="229.39" y="248.75" width="0.75" height="0.75" fill="#fbd6d6"/>
<rect x="76.11" y="249.9" width="0.75" height="0.75" fill="#fbd6d6"/>
<rect x="126.11" y="242.92" width="0.75" height="0.75" fill="#fbd6d6"/>
<rect x="224.11" y="247.07" width="0.75" height="0.75" fill="#fbd6d6"/>
<rect x="192.18" y="242.55" width="0.75" height="0.75" fill="#fbd6d6"/>
<rect x="192.39" y="241.71" width="0.75" height="0.75" fill="#fbd6d6"/>
<rect x="99.37" y="245.05" width="0.75" height="0.75" fill="#fbd6d6"/>
<rect x="61.12" y="247.4" width="0.75" height="0.75" fill="#fbd6d6"/>
<rect x="95.27" y="244.28" width="0.75" height="0.75" fill="#fbd6d6"/>
<rect x="180.53" y="245.62" width="0.75" height="0.75" fill="#fbd6d6"/>
<rect x="211.79" y="247.68" width="0.75" height="0.75" fill="#fbd6d6"/>
<rect x="208.94" y="247.07" width="0.75" height="0.75" fill="#fbd6d6"/>
<rect x="216.77" y="250.33" width="0.75" height="0.75" fill="#fbd6d6"/>
<rect x="87.48" y="249" width="0.75" height="0.75" fill="#fbd6d6"/>
<rect x="117.39" y="249.19" width="0.75" height="0.75" fill="#fbd6d6"/>
<rect x="175.89" y="249.85" width="0.75" height="0.75" fill="#fbd6d6"/>
<rect x="79.67" y="245.05" width="0.75" height="0.75" fill="#fbd6d6"/>
<rect x="185.68" y="251.15" width="0.75" height="0.75" fill="#fbd6d6"/>
<rect x="183.01" y="241.56" width="0.75" height="0.75" fill="#fbd6d6"/>
<rect x="162.65" y="242.16" width="0.75" height="0.75" fill="#fbd6d6"/>
<rect x="153.17" y="249.61" width="0.75" height="0.75" fill="#fbd6d6"/>
<rect x="77.99" y="250.91" width="0.75" height="0.75" fill="#fbd6d6"/>
<rect x="174.98" y="243.8" width="0.75" height="0.75" fill="#fbd6d6"/>
<rect x="91.82" y="245.84" width="0.75" height="0.75" fill="#fbd6d6"/>
<rect x="203.08" y="247.26" width="0.75" height="0.75" fill="#fbd6d6"/>
<rect x="78.09" y="241.32" width="0.75" height="0.75" fill="#fbd6d6"/>
<rect x="77.55" y="249.59" width="0.75" height="0.75" fill="#fbd6d6"/>
<rect x="90.46" y="246.98" width="0.75" height="0.75" fill="#fbd6d6"/>
<rect x="108.53" y="248.38" width="0.75" height="0.75" fill="#fbd6d6"/>
<rect x="124.19" y="242.63" width="0.75" height="0.75" fill="#fbd6d6"/>
<rect x="209.51" y="246.81" width="0.75" height="0.75" fill="#fbd6d6"/>
<rect x="177.44" y="249.67" width="0.75" height="0.75" fill="#fbd6d6"/>
<rect x="222.16" y="241.25" width="0.75" height="0.75" fill="#fbd6d6"/>
<rect x="117.56" y="242.7" width="0.75" height="0.75" fill="#fbd6d6"/>
<rect x="145.06" y="250.35" width="0.75" height="0.75" fill="#fbd6d6"/>
<rect x="196.58" y="241.48" width="0.75" height="0.75" fill="#fbd6d6"/>
<rect x="89.94" y="249.77" width="0.75" height="0.75" fill="#fbd6d6"/>
<rect x="175.72" y="245.26" width="0.75" height="0.75" fill="#fbd6d6"/>
<rect x="140.57" y="242.78" width="0.75" height="0.75" fill="#fbd6d6"/>
<rect x="204.28" y="245.27" width="0.75" height="0.75" fill="#fbd6d6"/>
<rect x="209.1" y="247.57" width="0.75" height="0.75" fill="#fbd6d6"/>
<rect x="71.59" y="244.59" width="0.75" height="0.75" fill="#fbd6d6"/>
<rect x="95.81" y="250.58" width="0.75" height="0.75" fill="#fbd6d6"/>
<rect x="160.14" y="241.56" width="0.75" height="0.75" fill="#fbd6d6"/>
<rect x="87.78" y="244.93" width="0.75" height="0.75" fill="#fbd6d6"/>
<rect x="139.19" y="247.22" width="0.75" height="0.75" fill="#fbd6d6"/>
<rect x="125.41" y="244.85" width="0.75" height="0.75" fill="#fbd6d6"/>
<rect x="59.53" y="247.24" width="0.75" height="0.75" fill="#fbd6d6"/>
<rect x="116.08" y="241.32" width="0.75" height="0.75" fill="#fbd6d6"/>
<rect x="137.75" y="251.56" width="0.75" height="0.75" fill="#fbd6d6"/>
<rect x="66.33" y="242.65" width="0.75" height="0.75" fill="#fbd6d6"/>
<rect x="174.24" y="243.99" width="0.75" height="0.75" fill="#fbd6d6"/>
<rect x="105.65" y="246.4" width="0.75" height="0.75" fill="#fbd6d6"/>
<rect x="103.71" y="247.13" width="0.75" height="0.75" fill="#fbd6d6"/>
<rect x="149.61" y="251.24" width="0.75" height="0.75" fill="#fbd6d6"/>
<rect x="229.65" y="241.46" width="0.75" height="0.75" fill="#fbd6d6"/>
<rect x="155.21" y="249.27" width="0.75" height="0.75" fill="#fbd6d6"/>
<rect x="208.99" y="249.31" width="0.75" height="0.75" fill="#fbd6d6"/>
<rect x="167.71" y="247.83" width="0.75" height="0.75" fill="#fbd6d6"/>
<rect x="121.1" y="244.08" width="0.75" height="0.75" fill="#fbd6d6"/>
<rect x="195.69" y="250.35" width="0.75" height="0.75" fill="#fbd6d6"/>
<rect x="220.42" y="248.32" width="0.75" height="0.75" fill="#fbd6d6"/>
<rect x="110.94" y="249.19" width="0.75" height="0.75" fill="#fbd6d6"/>
<rect x="186.07" y="246.49" width="0.75" height="0.75" fill="#fbd6d6"/>
<rect x="168.07" y="244.81" width="0.75" height="0.75" fill="#fbd6d6"/>
<rect x="153.5" y="245.4" width="0.75" height="0.75" fill="#fbd6d6"/>
<rect x="68.93" y="244.67" width="0.75" height="0.75" fill="#fbd6d6"/>
<rect x="114.25" y="251.58" width="0.75" height="0.75" fill="#fbd6d6"/>
<rect x="141.55" y="244.99" width="0.75" height="0.75" fill="#fbd6d6"/>
<rect x="100.49" y="243.59" width="0.75" height="0.75" fill="#fbd6d6"/>
<rect x="118.74" y="242.54" width="0.75" height="0.75" fill="#fbd6d6"/>
<rect x="59.75" y="250.33" width="0.75" height="0.75" fill="#fbd6d6"/>
<rect x="136.66" y="245.82" width="0.75" height="0.75" fill="#fbd6d6"/>
<rect x="156.61" y="244.31" width="0.75" height="0.75" fill="#fbd6d6"/>
<rect x="87.64" y="241.8" width="0.75" height="0.75" fill="#fbd6d6"/>
<rect x="110.51" y="244.37" width="0.75" height="0.75" fill="#fbd6d6"/>
<rect x="183.85" y="246.94" width="0.75" height="0.75" fill="#fbd6d6"/>
<rect x="220.21" y="244.71" width="0.75" height="0.75" fill="#fbd6d6"/>
<rect x="217.41" y="247.28" width="0.75" height="0.75" fill="#fbd6d6"/>
<rect x="72.31" y="242.99" width="0.75" height="0.75" fill="#fbd6d6"/>
<rect x="158.63" y="251.57" width="0.75" height="0.75" fill="#fbd6d6"/>
<rect x="120.08" y="249.31" width="0.75" height="0.75" fill="#fbd6d6"/>
<rect x="132.38" y="250.3" width="0.75" height="0.75" fill="#fbd6d6"/>
<rect x="70.19" y="246.24" width="0.75" height="0.75" fill="#fbd6d6"/>
<rect x="213.6" y="244.02" width="0.75" height="0.75" fill="#fbd6d6"/>
<rect x="102.93" y="241.34" width="0.75" height="0.75" fill="#fbd6d6"/>
<rect x="86.89" y="243.94" width="0.75" height="0.75" fill="#fbd6d6"/>
<rect x="180.01" y="243.41" width="0.75" height="0.75" fill="#fbd6d6"/>
<rect x="127.43" y="243.22" width="0.75" height="0.75" fill="#fbd6d6"/>
<rect x="162.5" y="250.26" width="0.75" height="0.75" fill="#fbd6d6"/>
<rect x="170.3" y="243.19" width="0.75" height="0.75" fill="#fbd6d6"/>
<rect x="185.1" y="251.31" width="0.75" height="0.75" fill="#fbd6d6"/>
<rect x="162.18" y="241.94" width="0.75" height="0.75" fill="#fbd6d6"/>
<rect x="198.13" y="250.38" width="0.75" height="0.75" fill="#fbd6d6"/>
<rect x="117.35" y="242.55" width="0.75" height="0.75" fill="#fbd6d6"/>
<rect x="90.96" y="246.79" width="0.75" height="0.75" fill="#fbd6d6"/>
<rect x="209.51" y="247.88" width="0.75" height="0.75" fill="#fbd6d6"/>
<rect x="217.7" y="243.35" width="0.75" height="0.75" fill="#fbd6d6"/>
<rect x="114.86" y="249.04" width="0.75" height="0.75" fill="#fbd6d6"/>
<rect x="170.44" y="245.4" width="0.75" height="0.75" fill="#fbd6d6"/>
<rect x="175.62" y="244.68" width="0.75" height="0.75" fill="#fbd6d6"/>
<rect x="68.41" y="245.49" width="0.75" height="0.75" fill="#fbd6d6"/>
<rect x="66.34" y="247.74" width="0.75" height="0.75" fill="#fbd6d6"/>
<rect x="116.2" y="246.34" width="0.75" height="0.75" fill="#fbd6d6"/>
<rect x="161.63" y="243.82" width="0.75" height="0.75" fill="#fbd6d6"/>
<rect x="138.43" y="241.24" width="0.75" height="0.75" fill="#fbd6d6"/>
<rect x="218.11" y="247.08" width="0.75" height="0.75" fill="#fbd6d6"/>
<rect x="228.85" y="241.69" width="0.75" height="0.75" fill="#fbd6d6"/>
<rect x="164.41" y="248.78" width="0.75" height="0.75" fill="#fbd6d6"/>
<rect x="115.28" y="242.09" width="0.75" height="0.75" fill="#fbd6d6"/>
<rect x="85.44" y="242.61" width="0.75" height="0.75" fill="#fbd6d6"/>
<rect x="190.84" y="242.05" width="0.75" height="0.75" fill="#fbd6d6"/>
<rect x="198.92" y="245.59" width="0.75" height="0.75" fill="#fbd6d6"/>
<rect x="151.42" y="247.34" width="0.75" height="0.75" fill="#fbd6d6"/>
<rect x="154.24" y="248.07" width="0.75" height="0.75" fill="#fbd6d6"/>
<rect x="162.27" y="244.61" width="0.75" height="0.75" fill="#fbd6d6"/>
<rect x="186.34" y="243.83" width="0.75" height="0.75" fill="#fbd6d6"/>
<rect x="181.22" y="249.19" width="0.75" height="0.75" fill="#fbd6d6"/>
<rect x="192.36" y="244.38" width="0.75" height="0.75" fill="#fbd6d6"/>
<rect x="191.77" y="251.46" width="0.75" height="0.75" fill="#fbd6d6"/>
<rect x="136.67" y="244.05" width="0.75" height="0.75" fill="#fbd6d6"/>
<rect x="148.77" y="251.07" width="0.75" height="0.75" fill="#fbd6d6"/>
<rect x="81.25" y="241.2" width="0.75" height="0.75" fill="#fbd6d6"/>
<rect x="140.57" y="248.05" width="0.75" height="0.75" fill="#fbd6d6"/>
<rect x="192.04" y="244.94" width="0.75" height="0.75" fill="#fbd6d6"/>
<rect x="229.19" y="243.52" width="0.75" height="0.75" fill="#fbd6d6"/>
<rect x="189.01" y="242.05" width="0.75" height="0.75" fill="#fbd6d6"/>
<rect x="63.32" y="242.52" width="0.75" height="0.75" fill="#fbd6d6"/>
<rect x="68.88" y="246.42" width="0.75" height="0.75" fill="#fbd6d6"/>
<rect x="154.28" y="243.03" width="0.75" height="0.75" fill="#fbd6d6"/>
<rect x="220.61" y="244.98" width="0.75" height="0.75" fill="#fbd6d6"/>
<rect x="84.26" y="242.98" width="0.75" height="0.75" fill="#fbd6d6"/>
<rect x="185.76" y="250.87" width="0.75" height="0.75" fill="#fbd6d6"/>
<rect x="86.46" y="241.41" width="0.75" height="0.75" fill="#fbd6d6"/>
<rect x="192.72" y="243.67" width="0.75" height="0.75" fill="#fbd6d6"/>
<rect x="227.95" y="246.39" width="0.75" height="0.75" fill="#fbd6d6"/>
<rect x="168.23" y="244.75" width="0.75" height="0.75" fill="#fbd6d6"/>
<rect x="196.59" y="245.98" width="0.75" height="0.75" fill="#fbd6d6"/>
<rect x="114.36" y="250.68" width="0.75" height="0.75" fill="#fbd6d6"/>
<rect x="77.1" y="248.87" width="0.75" height="0.75" fill="#fbd6d6"/>
<rect x="69.79" y="247.94" width="0.75" height="0.75" fill="#fbd6d6"/>
<rect x="127.82" y="250.26" width="0.75" height="0.75" fill="#fbd6d6"/>
<rect x="68.85" y="247.08" width="0.75" height="0.75" fill="#fbd6d6"/>
<rect x="129.21" y="250.84" width="0.75" height="0.75" fill="#fbd6d6"/>
<rect x="221.5" y="247.75" width="0.75" height="0.75" fill="#fbd6d6"/>
<rect x="97.15" y="243.77" width="0.75" height="0.75" fill="#fbd6d6"/>
<rect x="103.75" y="245.7" width="0.75" height="0.75" fill="#fbd6d6"/>
<rect x="98.41" y="243.25" width="0.75" height="0.75" fill="#fbd6d6"/>
<rect x="189.46" y="247.91" width="0.75" height="0.75" fill="#fbd6d6"/>
<rect x="109.98" y="251.64" width="0.75" height="0.75" fill="#fbd6d6"/>
<rect x="95.87" y="247.14" width="0.75" height="0.75" fill="#fbd6d6"/>
<rect x="85.53" y="250.25" width="0.75" height="0.75" fill="#fbd6d6"/>
<rect x="208.45" y="243.93" width="0.75" height="0.75" fill="#fbd6d6"/>
<rect x="188.14" y="249.82" width="0.75" height="0.75" fill="#fbd6d6"/>
<rect x="107.24" y="244.61" width="0.75" height="0.75" fill="#fbd6d6"/>
<rect x="142.26" y="250.54" width="0.75" height="0.75" fill="#fbd6d6"/>
<rect x="86.38" y="248.34" width="0.75" height="0.75" fill="#fbd6d6"/>
<rect x="161.58" y="245.9" width="0.75" height="0.75" fill="#fbd6d6"/>
<rect x="158.42" y="250.46" width="0.75" height="0.75" fill="#fbd6d6"/>
<rect x="94.69" y="250.47" width="0.75" height="0.75" fill="#fbd6d6"/>
<rect x="120.66" y="249.37" width="0.75" height="0.75" fill="#fbd6d6"/>
<rect x="207.43" y="243.03" width="0.75" height="0.75" fill="#fbd6d6"/>
<rect x="207.53" y="251.65" width="0.75" height="0.75" fill="#fbd6d6"/>
<rect x="109.84" y="241.36" width="0.75" height="0.75" fill="#fbd6d6"/>
<rect x="77.74" y="251.43" width="0.75" height="0.75" fill="#fbd6d6"/>
<rect x="60.13" y="250.76" width="0.75" height="0.75" fill="#fbd6d6"/>
<rect x="84.51" y="248.9" width="0.75" height="0.75" fill="#fbd6d6"/>
<rect x="75.33" y="242.89" width="0.75" height="0.75" fill="#fbd6d6"/>
<rect x="176.28" y="242.06" width="0.75" height="0.75" fill="#fbd6d6"/>
<rect x="117.07" y="250.84" width="0.75" height="0.75" fill="#fbd6d6"/>
<rect x="182.07" y="250.45" width="0.75" height="0.75" fill="#fbd6d6"/>
<rect x="227.49" y="241.45" width="0.75" height="0.75" fill="#fbd6d6"/>
<rect x="98.97" y="249.5" width="0.75" height="0.75" fill="#fbd6d6"/>
<rect x="177.43" y="241.5" width="0.75" height="0.75" fill="#fbd6d6"/>
<rect x="145.57" y="243.56" width="0.75" height="0.75" fill="#fbd6d6"/>
<rect x="132.76" y="242.21" width="0.75" height="0.75" fill="#fbd6d6"/>
<rect x="61.94" y="251.6" width="0.75" height="0.75" fill="#fbd6d6"/>
<rect x="113.09" y="250.41" width="0.75" height="0.75" fill="#fbd6d6"/>
<rect x="79.28" y="246.27" width="0.75" height="0.75" fill="#fbd6d6"/>
<rect x="81.93" y="245.64" width="0.75" height="0.75" fill="#fbd6d6"/>
<rect x="89.37" y="248.37" width="0.75" height="0.75" fill="#fbd6d6"/>
<rect x="84.02" y="248.93" width="0.75" height="0.75" fill="#fbd6d6"/>
<rect x="144.88" y="242.29" width="0.75" height="0.75" fill="#fbd6d6"/>
<rect x="119.49" y="246.36" width="0.75" height="0.75" fill="#fbd6d6"/>
<rect x="216.97" y="244.8" width="0.75" height="0.75" fill="#fbd6d6"/>
<rect x="95.61" y="251.36" width="0.75" height="0.75" fill="#fbd6d6"/>
<rect x="210.84" y="248.85" width="0.75" height="0.75" fill="#fbd6d6"/>
<rect x="105.59" y="242.98" width="0.75" height="0.75" fill="#fbd6d6"/>
<rect x="104.15" y="241.83" width="0.75" height="0.75" fill="#fbd6d6"/>
<rect x="65.95" y="246.49" width="0.75" height="0.75" fill="#fbd6d6"/>
<rect x="128.9" y="247" width="0.75" height="0.75" fill="#fbd6d6"/>
<rect x="121.05" y="241.21" width="0.75" height="0.75" fill="#fbd6d6"/>
<rect x="177.2" y="248.02" width="0.75" height="0.75" fill="#fbd6d6"/>
<rect x="152.33" y="246.92" width="0.75" height="0.75" fill="#fbd6d6"/>
<rect x="177.57" y="251.51" width="0.75" height="0.75" fill="#fbd6d6"/>
<rect x="209.28" y="248.71" width="0.75" height="0.75" fill="#fbd6d6"/>
<rect x="127.38" y="244.47" width="0.75" height="0.75" fill="#fbd6d6"/>
<rect x="130.8" y="251.41" width="0.75" height="0.75" fill="#fbd6d6"/>
<rect x="125.27" y="245.19" width="0.75" height="0.75" fill="#fbd6d6"/>
<rect x="129.22" y="242.62" width="0.75" height="0.75" fill="#fbd6d6"/>
<rect x="230.72" y="241.16" width="0.75" height="0.75" fill="#fbd6d6"/>
<rect x="163.35" y="250.92" width="0.75" height="0.75" fill="#fbd6d6"/>
<rect x="102.43" y="247.58" width="0.75" height="0.75" fill="#fbd6d6"/>
<rect x="123.53" y="243.65" width="0.75" height="0.75" fill="#fbd6d6"/>
<rect x="92.73" y="242.33" width="0.75" height="0.75" fill="#fbd6d6"/>
<rect x="203.93" y="249.41" width="0.75" height="0.75" fill="#fbd6d6"/>
<rect x="215.22" y="241.62" width="0.75" height="0.75" fill="#fbd6d6"/>
<rect x="178.25" y="244.54" width="0.75" height="0.75" fill="#fbd6d6"/>
<rect x="169.97" y="246.92" width="0.75" height="0.75" fill="#fbd6d6"/>
<rect x="112.94" y="251.4" width="0.75" height="0.75" fill="#fbd6d6"/>
<rect x="58.66" y="249.01" width="0.75" height="0.75" fill="#fbd6d6"/>
<rect x="205.72" y="246.51" width="0.75" height="0.75" fill="#fbd6d6"/>
<rect x="160.67" y="251.64" width="0.75" height="0.75" fill="#fbd6d6"/>
<rect x="98.94" y="247.77" width="0.75" height="0.75" fill="#fbd6d6"/>
<rect x="186.72" y="245.12" width="0.75" height="0.75" fill="#fbd6d6"/>
<rect x="181.35" y="245.27" width="0.75" height="0.75" fill="#fbd6d6"/>
<rect x="149.28" y="247.6" width="0.75" height="0.75" fill="#fbd6d6"/>
<rect x="175.32" y="244.51" width="0.75" height="0.75" fill="#fbd6d6"/>
<rect x="166.99" y="246.86" width="0.75" height="0.75" fill="#fbd6d6"/>
<rect x="97.01" y="247.59" width="0.75" height="0.75" fill="#fbd6d6"/>
<rect x="104.2" y="250.73" width="0.75" height="0.75" fill="#fbd6d6"/>
<rect x="140.14" y="248.75" width="0.75" height="0.75" fill="#fbd6d6"/>
<rect x="148.55" y="246.15" width="0.75" height="0.75" fill="#fbd6d6"/>
<rect x="96.66" y="242.61" width="0.75" height="0.75" fill="#fbd6d6"/>
<rect x="218.46" y="246.7" width="0.75" height="0.75" fill="#fbd6d6"/>
<rect x="148.88" y="246.69" width="0.75" height="0.75" fill="#fbd6d6"/>
<rect x="198.8" y="243.63" width="0.75" height="0.75" fill="#fbd6d6"/>
<rect x="88.23" y="249.81" width="0.75" height="0.75" fill="#fbd6d6"/>
<rect x="137.9" y="247.89" width="0.75" height="0.75" fill="#fbd6d6"/>
<rect x="201.23" y="250.58" width="0.75" height="0.75" fill="#fbd6d6"/>
<rect x="208.19" y="241.56" width="0.75" height="0.75" fill="#fbd6d6"/>
<rect x="124.27" y="249.92" width="0.75" height="0.75" fill="#fbd6d6"/>
<rect x="199.57" y="242.4" width="0.75" height="0.75" fill="#fbd6d6"/>
<rect x="85.04" y="243.77" width="0.75" height="0.75" fill="#fbd6d6"/>
<rect x="76.23" y="244.88" width="0.75" height="0.75" fill="#fbd6d6"/>
<rect x="197.05" y="246.63" width="0.75" height="0.75" fill="#fbd6d6"/>
<rect x="136.61" y="242.03" width="0.75" height="0.75" fill="#fbd6d6"/>
<rect x="126.73" y="251.67" width="0.75" height="0.75" fill="#fbd6d6"/>
<rect x="178.39" y="245.86" width="0.75" height="0.75" fill="#fbd6d6"/>
<rect x="141.01" y="249.56" width="0.75" height="0.75" fill="#fbd6d6"/>
<rect x="189.39" y="242.69" width="0.75" height="0.75" fill="#fbd6d6"/>
<rect x="175.83" y="244.99" width="0.75" height="0.75" fill="#fbd6d6"/>
<rect x="148.32" y="243.62" width="0.75" height="0.75" fill="#fbd6d6"/>
<rect x="122.46" y="244.71" width="0.75" height="0.75" fill="#fbd6d6"/>
<rect x="124.25" y="241.29" width="0.75" height="0.75" fill="#fbd6d6"/>
<rect x="93.15" y="247.15" width="0.75" height="0.75" fill="#fbd6d6"/>
<rect x="68.46" y="242.99" width="0.75" height="0.75" fill="#fbd6d6"/>
<rect x="182.39" y="244.01" width="0.75" height="0.75" fill="#fbd6d6"/>
<rect x="114.39" y="243.66" width="0.75" height="0.75" fill="#fbd6d6"/>
<rect x="202.39" y="242.07" width="0.75" height="0.75" fill="#fbd6d6"/>
<rect x="168.23" y="250.2" width="0.75" height="0.75" fill="#fbd6d6"/>
<rect x="93.29" y="245.59" width="0.75" height="0.75" fill="#fbd6d6"/>
<rect x="195.17" y="247.65" width="0.75" height="0.75" fill="#fbd6d6"/>
<rect x="122.6" y="241.57" width="0.75" height="0.75" fill="#fbd6d6"/>
<rect x="134.84" y="244.99" width="0.75" height="0.75" fill="#fbd6d6"/>
<rect x="181.41" y="244.23" width="0.75" height="0.75" fill="#fbd6d6"/>
<rect x="128.87" y="247.97" width="0.75" height="0.75" fill="#fbd6d6"/>
<rect x="198.37" y="244.83" width="0.75" height="0.75" fill="#fbd6d6"/>
<rect x="124.97" y="247.23" width="0.75" height="0.75" fill="#fbd6d6"/>
<rect x="218.03" y="243.13" width="0.75" height="0.75" fill="#fbd6d6"/>
<rect x="226.06" y="248.65" width="0.75" height="0.75" fill="#fbd6d6"/>
<rect x="122.73" y="248.16" width="0.75" height="0.75" fill="#fbd6d6"/>
<rect x="115.33" y="241.85" width="0.75" height="0.75" fill="#fbd6d6"/>
<rect x="188.92" y="245.12" width="0.75" height="0.75" fill="#fbd6d6"/>
<rect x="149.2" y="246.36" width="0.75" height="0.75" fill="#fbd6d6"/>
<rect x="213.98" y="249.12" width="0.75" height="0.75" fill="#fbd6d6"/>
<rect x="62.91" y="247.38" width="0.75" height="0.75" fill="#fbd6d6"/>
<rect x="138.29" y="246" width="0.75" height="0.75" fill="#fbd6d6"/>
<rect x="203.33" y="245.5" width="0.75" height="0.75" fill="#fbd6d6"/>
<rect x="140.2" y="250.54" width="0.75" height="0.75" fill="#fbd6d6"/>
<rect x="134.37" y="246.31" width="0.75" height="0.75" fill="#fbd6d6"/>
<rect x="146.78" y="249.84" width="0.75" height="0.75" fill="#fbd6d6"/>
<rect x="174.14" y="248.95" width="0.75" height="0.75" fill="#fbd6d6"/>
<rect x="127.79" y="241.53" width="0.75" height="0.75" fill="#fbd6d6"/>
<rect x="175.77" y="246.97" width="0.75" height="0.75" fill="#fbd6d6"/>
<rect x="191.19" y="249.26" width="0.75" height="0.75" fill="#fbd6d6"/>
<rect x="78.88" y="243.44" width="0.75" height="0.75" fill="#fbd6d6"/>
<rect x="71.81" y="249.77" width="0.75" height="0.75" fill="#fbd6d6"/>
<rect x="76.04" y="242.04" width="0.75" height="0.75" fill="#fbd6d6"/>
<rect x="188.45" y="247.08" width="0.75" height="0.75" fill="#fbd6d6"/>
<rect x="67.99" y="248.32" width="0.75" height="0.75" fill="#fbd6d6"/>
<rect x="181.16" y="246.22" width="0.75" height="0.75" fill="#fbd6d6"/>
<rect x="67.95" y="248.42" width="0.75" height="0.75" fill="#fbd6d6"/>
<rect x="130.59" y="247.29" width="0.75" height="0.75" fill="#fbd6d6"/>
<rect x="230.67" y="249.76" width="0.75" height="0.75" fill="#fbd6d6"/>
<rect x="208.91" y="242.64" width="0.75" height="0.75" fill="#fbd6d6"/>
<rect x="116.17" y="246.59" width="0.75" height="0.75" fill="#fbd6d6"/>
<rect x="59.54" y="251.58" width="0.75" height="0.75" fill="#fbd6d6"/>
<rect x="105.88" y="243.88" width="0.75" height="0.75" fill="#fbd6d6"/>
<rect x="112.5" y="243.8" width="0.75" height="0.75" fill="#fbd6d6"/>
<rect x="206.66" y="246.99" width="0.75" height="0.75" fill="#fbd6d6"/>
<rect x="146.64" y="245.55" width="0.75" height="0.75" fill="#fbd6d6"/>
<rect x="67.32" y="244.33" width="0.75" height="0.75" fill="#fbd6d6"/>
<rect x="208.02" y="249.6" width="0.75" height="0.75" fill="#fbd6d6"/>
<rect x="206.27" y="243.83" width="0.75" height="0.75" fill="#fbd6d6"/>
<rect x="93.35" y="241.65" width="0.75" height="0.75" fill="#fbd6d6"/>
<rect x="151.11" y="245.06" width="0.75" height="0.75" fill="#fbd6d6"/>
<rect x="138.58" y="246.28" width="0.75" height="0.75" fill="#fbd6d6"/>
<rect x="159.2" y="244.98" width="0.75" height="0.75" fill="#fbd6d6"/>
<rect x="196.75" y="243.22" width="0.75" height="0.75" fill="#fbd6d6"/>
<rect x="217.09" y="246.99" width="0.75" height="0.75" fill="#fbd6d6"/>
<rect x="67.33" y="244.43" width="0.75" height="0.75" fill="#fbd6d6"/>
<rect x="150.46" y="245.43" width="0.75" height="0.75" fill="#fbd6d6"/>
<rect x="155.95" y="244.53" width="0.75" height="0.75" fill="#fbd6d6"/>
<rect x="105.69" y="249.54" width="0.75" height="0.75" fill="#fbd6d6"/>
<rect x="108.79" y="248.63" width="0.75" height="0.75" fill="#fbd6d6"/>
<rect x="196.92" y="247.38" width="0.75" height="0.75" fill="#fbd6d6"/>
<rect x="136.92" y="251.01" width="0.75" height="0.75" fill="#fbd6d6"/>
<rect x="135.24" y="250.41" width="0.75" height="0.75" fill="#fbd6d6"/>
<rect x="68.46" y="245.7" width="0.75" height="0.75" fill="#fbd6d6"/>
<rect x="168.77" y="241.62" width="0.75" height="0.75" fill="#fbd6d6"/>
<rect x="207.3" y="241.86" width="0.75" height="0.75" fill="#fbd6d6"/>
<rect x="161.36" y="243.01" width="0.75" height="0.75" fill="#fbd6d6"/>
<rect x="217.61" y="247.05" width="0.75" height="0.75" fill="#fbd6d6"/>
<rect x="196.62" y="246.38" width="0.75" height="0.75" fill="#fbd6d6"/>
<rect x="174.74" y="248.25" width="0.75" height="0.75" fill="#fbd6d6"/>
<rect x="109.37" y="243.34" width="0.75" height="0.75" fill="#fbd6d6"/>
<rect x="203.11" y="242.65" width="0.75" height="0.75" fill="#fbd6d6"/>
<rect x="216.83" y="243.29" width="0.75" height="0.75" fill="#fbd6d6"/>
<rect x="75.9" y="242.11" width="0.75" height="0.75" fill="#fbd6d6"/>
<rect x="193.78" y="251.18" width="0.75" height="0.75" fill="#fbd6d6"/>
<rect x="130.03" y="248.08" width="0.75" height="0.75" fill="#fbd6d6"/>
<rect x="102.93" y="250.7" width="0.75" height="0.75" fill="#fbd6d6"/>
<rect x="176.82" y="242.74" width="0.75" height="0.75" fill="#fbd6d6"/>
<rect x="68.27" y="248.47" width="0.75" height="0.75" fill="#fbd6d6"/>
<rect x="65.7" y="249.96" width="0.75" height="0.75" fill="#fbd6d6"/>
<rect x="109.15" y="243.57" width="0.75" height="0.75" fill="#fbd6d6"/>
<rect x="158.9" y="244.48" width="0.75" height="0.75" fill="#fbd6d6"/>
<rect x="155.2" y="242.73" width="0.75" height="0.75" fill="#fbd6d6"/>
<rect x="215.8" y="244.54" width="0.75" height="0.75" fill="#fbd6d6"/>
<rect x="203.63" y="242.71" width="0.75" height="0.75" fill="#fbd6d6"/>
<rect x="196.39" y="251.49" width="0.75" height="0.75" fill="#fbd6d6"/>
<rect x="126.03" y="241.45" width="0.75" height="0.75" fill="#fbd6d6"/>
<rect x="124.05" y="247.89" width="0.75" height="0.75" fill="#fbd6d6"/>
<rect x="97.03" y="246.88" width="0.75" height="0.75" fill="#fbd6d6"/>
<rect x="74.64" y="246.02" width="0.75" height="0.75" fill="#fbd6d6"/>
<rect x="184.12" y="245.66" width="0.75" height="0.75" fill="#fbd6d6"/>
<rect x="175.61" y="242.31" width="0.75" height="0.75" fill="#fbd6d6"/>
<rect x="201.42" y="242.39" width="0.75" height="0.75" fill="#fbd6d6"/>
<rect x="217.77" y="251.66" width="0.75" height="0.75" fill="#fbd6d6"/>
<rect x="220.55" y="246.68" width="0.75" height="0.75" fill="#fbd6d6"/>
<rect x="108.66" y="244.79" width="0.75" height="0.75" fill="#fbd6d6"/>
<rect x="187.94" y="246.36" width="0.75" height="0.75" fill="#fbd6d6"/>
<rect x="218.9" y="242.09" width="0.75" height="0.75" fill="#fbd6d6"/>
<rect x="142.12" y="250.26" width="0.75" height="0.75" fill="#fbd6d6"/>
<rect x="161.62" y="246.83" width="0.75" height="0.75" fill="#fbd6d6"/>
<rect x="73.75" y="242.58" width="0.75" height="0.75" fill="#fbd6d6"/>
<rect x="105.28" y="250.57" width="0.75" height="0.75" fill="#fbd6d6"/>
<rect x="204.33" y="243.51" width="0.75" height="0.75" fill="#fbd6d6"/>
<rect x="217.99" y="241.44" width="0.75" height="0.75" fill="#fbd6d6"/>
<rect x="161.79" y="251.35" width="0.75" height="0.75" fill="#fbd6d6"/>
<rect x="117.89" y="251.11" width="0.75" height="0.75" fill="#fbd6d6"/>
<rect x="171.75" y="241.63" width="0.75" height="0.75" fill="#fbd6d6"/>
<rect x="115.97" y="245.87" width="0.75" height="0.75" fill="#fbd6d6"/>
<rect x="101.18" y="248.97" width="0.75" height="0.75" fill="#fbd6d6"/>
<rect x="89.35" y="249.45" width="0.75" height="0.75" fill="#fbd6d6"/>
<rect x="109.95" y="241.84" width="0.75" height="0.75" fill="#fbd6d6"/>
<rect x="154.96" y="242.11" width="0.75" height="0.75" fill="#fbd6d6"/>
<rect x="153.65" y="249.45" width="0.75" height="0.75" fill="#fbd6d6"/>
<rect x="161.24" y="245.99" width="0.75" height="0.75" fill="#fbd6d6"/>
<rect x="64.32" y="246.54" width="0.75" height="0.75" fill="#fbd6d6"/>
<rect x="75.27" y="247.96" width="0.75" height="0.75" fill="#fbd6d6"/>
<rect x="81.26" y="247.23" width="0.75" height="0.75" fill="#fbd6d6"/>
<rect x="119.37" y="245.07" width="0.75" height="0.75" fill="#fbd6d6"/>
<rect x="172.89" y="242.84" width="0.75" height="0.75" fill="#fbd6d6"/>
<rect x="87.77" y="251.08" width="0.75" height="0.75" fill="#fbd6d6"/>
<rect x="115.71" y="250.03" width="0.75" height="0.75" fill="#fbd6d6"/>
<rect x="209.17" y="246.19" width="0.75" height="0.75" fill="#fbd6d6"/>
<rect x="84.21" y="242.1" width="0.75" height="0.75" fill="#fbd6d6"/>
<rect x="210.14" y="242.34" width="0.75" height="0.75" fill="#fbd6d6"/>
<rect x="144.08" y="246.78" width="0.75" height="0.75" fill="#fbd6d6"/>
<rect x="78.78" y="246.06" width="0.75" height="0.75" fill="#fbd6d6"/>
<rect x="86.79" y="246.78" width="0.75" height="0.75" fill="#fbd6d6"/>
<rect x="145.92" y="244.99" width="0.75" height="0.75" fill="#fbd6d6"/>
<rect x="92.61" y="245.38" width="0.75" height="0.75" fill="#fbd6d6"/>
<rect x="93.6" y="242.45" width="0.75" height="0.75" fill="#fbd6d6"/>
<rect x="99.88" y="250.34" width="0.75" height="0.75" fill="#fbd6d6"/>
<rect x="145.06" y="250.54" width="0.75" height="0.75" fill="#fbd6d6"/>
<rect x="61.11" y="251.1" width="0.75" height="0.75" fill="#fbd6d6"/>
<rect x="142.75" y="249.49" width="0.75" height="0.75" fill="#fbd6d6"/>
<rect x="156.9" y="248.4" width="0.75" height="0.75" fill="#fbd6d6"/>
<rect x="98.05" y="249.05" width="0.75" height="0.75" fill="#fbd6d6"/>
<rect x="85.01" y="243.9" width="0.75" height="0.75" fill="#fbd6d6"/>
<rect x="63.83" y="245.27" width="0.75" height="0.75" fill="#fbd6d6"/>
<rect x="147.88" y="244.19" width="0.75" height="0.75" fill="#fbd6d6"/>
<rect x="212.11" y="241.99" width="0.75" height="0.75" fill="#fbd6d6"/>
<rect x="158.29" y="243.58" width="0.75" height="0.75" fill="#fbd6d6"/>
<rect x="161.19" y="249.41" width="0.75" height="0.75" fill="#fbd6d6"/>
<rect x="181.11" y="241.76" width="0.75" height="0.75" fill="#fbd6d6"/>
<rect x="100.89" y="247.45" width="0.75" height="0.75" fill="#fbd6d6"/>
<rect x="228.06" y="241.54" width="0.75" height="0.75" fill="#fbd6d6"/>
<rect x="165.15" y="248.43" width="0.75" height="0.75" fill="#fbd6d6"/>
<rect x="199.03" y="244.73" width="0.75" height="0.75" fill="#fbd6d6"/>
<rect x="198.32" y="245.99" width="0.75" height="0.75" fill="#fbd6d6"/>
<rect x="217.35" y="241.21" width="0.75" height="0.75" fill="#fbd6d6"/>
<rect x="220.7" y="245.47" width="0.75" height="0.75" fill="#fbd6d6"/>
<rect x="128.73" y="242.03" width="0.75" height="0.75" fill="#fbd6d6"/>
<rect x="100.73" y="248.88" width="0.75" height="0.75" fill="#fbd6d6"/>
<rect x="175.59" y="242.7" width="0.75" height="0.75" fill="#fbd6d6"/>
<rect x="117.9" y="242.59" width="0.75" height="0.75" fill="#fbd6d6"/>
<rect x="92.69" y="243.43" width="0.75" height="0.75" fill="#fbd6d6"/>
<rect x="115.61" y="251.45" width="0.75" height="0.75" fill="#fbd6d6"/>
<rect x="230.53" y="249.49" width="0.75" height="0.75" fill="#fbd6d6"/>
<rect x="141.25" y="246.37" width="0.75" height="0.75" fill="#fbd6d6"/>
<rect x="192.92" y="250.73" width="0.75" height="0.75" fill="#fbd6d6"/>
<rect x="188.13" y="247.85" width="0.75" height="0.75" fill="#fbd6d6"/>
<rect x="92.83" y="247.73" width="0.75" height="0.75" fill="#fbd6d6"/>
<rect x="204.39" y="249.44" width="0.75" height="0.75" fill="#fbd6d6"/>
<rect x="74.44" y="248.7" width="0.75" height="0.75" fill="#fbd6d6"/>
<rect x="118.74" y="242.82" width="0.75" height="0.75" fill="#fbd6d6"/>
<rect x="225.09" y="248.23" width="0.75" height="0.75" fill="#fbd6d6"/>
<rect x="187.11" y="242.53" width="0.75" height="0.75" fill="#fbd6d6"/>
<rect x="201.4" y="251.03" width="0.75" height="0.75" fill="#fbd6d6"/>
<rect x="214.58" y="249" width="0.75" height="0.75" fill="#fbd6d6"/>
<rect x="202.1" y="249.6" width="0.75" height="0.75" fill="#fbd6d6"/>
<rect x="160.34" y="245.71" width="0.75" height="0.75" fill="#fbd6d6"/>
<rect x="200.84" y="249.41" width="0.75" height="0.75" fill="#fbd6d6"/>
<rect x="208.72" y="244.27" width="0.75" height="0.75" fill="#fbd6d6"/>
<rect x="224.26" y="246.74" width="0.75" height="0.75" fill="#fbd6d6"/>
<rect x="221.67" y="242.33" width="0.75" height="0.75" fill="#fbd6d6"/>
<rect x="225.56" y="249.45" width="0.75" height="0.75" fill="#fbd6d6"/>
<rect x="101.97" y="249.99" width="0.75" height="0.75" fill="#fbd6d6"/>
<rect x="98.53" y="243.2" width="0.75" height="0.75" fill="#fbd6d6"/>
<rect x="137.49" y="243.61" width="0.75" height="0.75" fill="#fbd6d6"/>
<rect x="143.48" y="250.73" width="0.75" height="0.75" fill="#fbd6d6"/>
<rect x="176.72" y="248.63" width="0.75" height="0.75" fill="#fbd6d6"/>
<rect x="126.12" y="249.41" width="0.75" height="0.75" fill="#fbd6d6"/>
<rect x="195.4" y="248.34" width="0.75" height="0.75" fill="#fbd6d6"/>
<rect x="220.94" y="249.85" width="0.75" height="0.75" fill="#fbd6d6"/>
<rect x="128.58" y="242.02" width="0.75" height="0.75" fill="#fbd6d6"/>
<rect x="171.05" y="249.96" width="0.75" height="0.75" fill="#fbd6d6"/>
<rect x="117.08" y="247.41" width="0.75" height="0.75" fill="#fbd6d6"/>
<rect x="202.76" y="249.51" width="0.75" height="0.75" fill="#fbd6d6"/>
<rect x="59.28" y="246.28" width="0.75" height="0.75" fill="#fbd6d6"/>
<rect x="61.32" y="242.27" width="0.75" height="0.75" fill="#fbd6d6"/>
<rect x="198.64" y="245.54" width="0.75" height="0.75" fill="#fbd6d6"/>
<rect x="162.82" y="245.95" width="0.75" height="0.75" fill="#fbd6d6"/>
<rect x="116.36" y="243.36" width="0.75" height="0.75" fill="#fbd6d6"/>
<rect x="119.52" y="250.05" width="0.75" height="0.75" fill="#fbd6d6"/>
<rect x="165.33" y="244.2" width="0.75" height="0.75" fill="#fbd6d6"/>
<rect x="73.68" y="243.97" width="0.75" height="0.75" fill="#fbd6d6"/>
<rect x="179.45" y="245.79" width="0.75" height="0.75" fill="#fbd6d6"/>
<rect x="172.52" y="249.66" width="0.75" height="0.75" fill="#fbd6d6"/>
<rect x="79.32" y="248.34" width="0.75" height="0.75" fill="#fbd6d6"/>
<rect x="65.66" y="249.82" width="0.75" height="0.75" fill="#fbd6d6"/>
<rect x="90.26" y="243.98" width="0.75" height="0.75" fill="#fbd6d6"/>
<rect x="223.7" y="244.94" width="0.75" height="0.75" fill="#fbd6d6"/>
<rect x="97.17" y="250.53" width="0.75" height="0.75" fill="#fbd6d6"/>
<rect x="163.77" y="250.58" width="0.75" height="0.75" fill="#fbd6d6"/>
<rect x="126.53" y="246.4" width="0.75" height="0.75" fill="#fbd6d6"/>
<rect x="223.37" y="246.47" width="0.75" height="0.75" fill="#fbd6d6"/>
<rect x="229.03" y="243.11" width="0.75" height="0.75" fill="#fbd6d6"/>
<rect x="201.78" y="242.82" width="0.75" height="0.75" fill="#fbd6d6"/>
<rect x="149.44" y="241.1" width="0.75" height="0.75" fill="#fbd6d6"/>
<rect x="88.75" y="251.12" width="0.75" height="0.75" fill="#fbd6d6"/>
<rect x="136.91" y="249.68" width="0.75" height="0.75" fill="#fbd6d6"/>
<rect x="101.77" y="244.83" width="0.75" height="0.75" fill="#fbd6d6"/>
<rect x="75.91" y="246.96" width="0.75" height="0.75" fill="#fbd6d6"/>
<rect x="207.24" y="246.55" width="0.75" height="0.75" fill="#fbd6d6"/>
<rect x="123.48" y="250.94" width="0.75" height="0.75" fill="#fbd6d6"/>
<rect x="212.68" y="248.16" width="0.75" height="0.75" fill="#fbd6d6"/>
<rect x="71.59" y="247.71" width="0.75" height="0.75" fill="#fbd6d6"/>
<rect x="135.11" y="251.25" width="0.75" height="0.75" fill="#fbd6d6"/>
<rect x="120.91" y="248.11" width="0.75" height="0.75" fill="#fbd6d6"/>
<rect x="167.51" y="245.08" width="0.75" height="0.75" fill="#fbd6d6"/>
<rect x="148.58" y="248.27" width="0.75" height="0.75" fill="#fbd6d6"/>
<rect x="214.99" y="246.38" width="0.75" height="0.75" fill="#fbd6d6"/>
<rect x="121.24" y="251.45" width="0.75" height="0.75" fill="#fbd6d6"/>
<rect x="68.33" y="249.95" width="0.75" height="0.75" fill="#fbd6d6"/>
<rect x="176.41" y="247.01" width="0.75" height="0.75" fill="#fbd6d6"/>
<rect x="135.73" y="249.06" width="0.75" height="0.75" fill="#fbd6d6"/>
<rect x="212.22" y="248.83" width="0.75" height="0.75" fill="#fbd6d6"/>
<rect x="187.84" y="241.47" width="0.75" height="0.75" fill="#fbd6d6"/>
<rect x="114.6" y="242.55" width="0.75" height="0.75" fill="#fbd6d6"/>
<rect x="222.89" y="250.55" width="0.75" height="0.75" fill="#fbd6d6"/>
<rect x="83.43" y="247.33" width="0.75" height="0.75" fill="#fbd6d6"/>
<rect x="157.99" y="241.59" width="0.75" height="0.75" fill="#fbd6d6"/>
<rect x="126.16" y="249.02" width="0.75" height="0.75" fill="#fbd6d6"/>
<rect x="169.16" y="244.08" width="0.75" height="0.75" fill="#fbd6d6"/>
<rect x="190.02" y="244.19" width="0.75" height="0.75" fill="#fbd6d6"/>
<rect x="152.39" y="245.56" width="0.75" height="0.75" fill="#fbd6d6"/>
<rect x="227.23" y="247.98" width="0.75" height="0.75" fill="#fbd6d6"/>
<rect x="197.35" y="248.27" width="0.75" height="0.75" fill="#fbd6d6"/>
<rect x="124.13" y="251.31" width="0.75" height="0.75" fill="#fbd6d6"/>
<rect x="180.92" y="248.42" width="0.75" height="0.75" fill="#fbd6d6"/>
<rect x="106.37" y="242.82" width="0.75" height="0.75" fill="#fbd6d6"/>
<rect x="157.72" y="249.85" width="0.75" height="0.75" fill="#fbd6d6"/>
<rect x="195.41" y="244.78" width="0.75" height="0.75" fill="#fbd6d6"/>
<rect x="82.63" y="246.57" width="0.75" height="0.75" fill="#fbd6d6"/>
<rect x="209.85" y="242.82" width="0.75" height="0.75" fill="#fbd6d6"/>
<rect x="185.86" y="242.91" width="0.75" height="0.75" fill="#fbd6d6"/>
<rect x="112.32" y="241.67" width="0.75" height="0.75" fill="#fbd6d6"/>
<rect x="109.84" y="245.16" width="0.75" height="0.75" fill="#fbd6d6"/>
<rect x="225.29" y="251.3" width="0.75" height="0.75" fill="#fbd6d6"/>
<rect x="90.78" y="244.38" width="0.75" height="0.75" fill="#fbd6d6"/>
<rect x="221.29" y="243.19" width="0.75" height="0.75" fill="#fbd6d6"/>
<rect x="113.86" y="245.75" width="0.75" height="0.75" fill="#fbd6d6"/>
<rect x="77.2" y="243.86" width="0.75" height="0.75" fill="#fbd6d6"/>
<rect x="126.46" y="245.19" width="0.75" height="0.75" fill="#fbd6d6"/>
<rect x="224.72" y="243.93" width="0.75" height="0.75" fill="#fbd6d6"/>
<rect x="93.69" y="250.73" width="0.75" height="0.75" fill="#fbd6d6"/>
<rect x="136.17" y="249.97" width="0.75" height="0.75" fill="#fbd6d6"/>
<rect x="168.4" y="249.35" width="0.75" height="0.75" fill="#fbd6d6"/>
<rect x="112.8" y="242.71" width="0.75" height="0.75" fill="#fbd6d6"/>
<rect x="189.1" y="246.08" width="0.75" height="0.75" fill="#fbd6d6"/>
<rect x="154.88" y="248.21" width="0.75" height="0.75" fill="#fbd6d6"/>
<rect x="188.33" y="244.02" width="0.75" height="0.75" fill="#fbd6d6"/>
<rect x="121.07" y="250.83" width="0.75" height="0.75" fill="#fbd6d6"/>
<rect x="149.81" y="244.16" width="0.75" height="0.75" fill="#fbd6d6"/>
<rect x="167.21" y="243.85" width="0.75" height="0.75" fill="#fbd6d6"/>
<rect x="191.56" y="241.54" width="0.75" height="0.75" fill="#fbd6d6"/>
<rect x="201.1" y="247.1" width="0.75" height="0.75" fill="#fbd6d6"/>
<rect x="119.51" y="251.06" width="0.75" height="0.75" fill="#fbd6d6"/>
<rect x="104.3" y="243.68" width="0.75" height="0.75" fill="#fbd6d6"/>
<rect x="70.55" y="246.91" width="0.75" height="0.75" fill="#fbd6d6"/>
<rect x="188.52" y="248.29" width="0.75" height="0.75" fill="#fbd6d6"/>
<rect x="129.7" y="249.66" width="0.75" height="0.75" fill="#fbd6d6"/>
<rect x="77.69" y="244.35" width="0.75" height="0.75" fill="#fbd6d6"/>
<rect x="169.72" y="251.35" width="0.75" height="0.75" fill="#fbd6d6"/>
<rect x="167.85" y="248.44" width="0.75" height="0.75" fill="#fbd6d6"/>
<rect x="192.12" y="245.28" width="0.75" height="0.75" fill="#fbd6d6"/>
<rect x="220.71" y="248.97" width="0.75" height="0.75" fill="#fbd6d6"/>
<rect x="117.45" y="245.26" width="0.75" height="0.75" fill="#fbd6d6"/>
<rect x="197.49" y="244.81" width="0.75" height="0.75" fill="#fbd6d6"/>
<rect x="90.54" y="250.34" width="0.75" height="0.75" fill="#fbd6d6"/>
<rect x="150.23" y="246.62" width="0.75" height="0.75" fill="#fbd6d6"/>
<rect x="173.97" y="250.66" width="0.75" height="0.75" fill="#fbd6d6"/>
<rect x="81.54" y="244.69" width="0.75" height="0.75" fill="#fbd6d6"/>
<rect x="69.88" y="245.48" width="0.75" height="0.75" fill="#fbd6d6"/>
<rect x="145.12" y="250.13" width="0.75" height="0.75" fill="#fbd6d6"/>
<rect x="173.7" y="247.22" width="0.75" height="0.75" fill="#fbd6d6"/>
<rect x="128.13" y="247.18" width="0.75" height="0.75" fill="#fbd6d6"/>
<rect x="105.73" y="250.05" width="0.75" height="0.75" fill="#fbd6d6"/>
<rect x="194.51" y="249.99" width="0.75" height="0.75" fill="#fbd6d6"/>
<rect x="84.57" y="248.22" width="0.75" height="0.75" fill="#fbd6d6"/>
<rect x="188.58" y="246.41" width="0.75" height="0.75" fill="#fbd6d6"/>
<rect x="213.46" y="250.63" width="0.75" height="0.75" fill="#fbd6d6"/>
<rect x="186.67" y="249.8" width="0.75" height="0.75" fill="#fbd6d6"/>
<rect x="170.43" y="250.41" width="0.75" height="0.75" fill="#fbd6d6"/>
<rect x="81.15" y="248.56" width="0.75" height="0.75" fill="#fbd6d6"/>
<rect x="179.9" y="247.59" width="0.75" height="0.75" fill="#fbd6d6"/>
<rect x="105.95" y="241.81" width="0.75" height="0.75" fill="#fbd6d6"/>
<rect x="162.58" y="249.84" width="0.75" height="0.75" fill="#fbd6d6"/>
<rect x="105.6" y="243.36" width="0.75" height="0.75" fill="#fbd6d6"/>
<rect x="97.12" y="242.09" width="0.75" height="0.75" fill="#fbd6d6"/>
<rect x="175.11" y="251.43" width="0.75" height="0.75" fill="#fbd6d6"/>
<rect x="196.86" y="244.91" width="0.75" height="0.75" fill="#fbd6d6"/>
<rect x="179.15" y="241.87" width="0.75" height="0.75" fill="#fbd6d6"/>
<rect x="203.16" y="244.55" width="0.75" height="0.75" fill="#fbd6d6"/>
<rect x="59.09" y="247.77" width="0.75" height="0.75" fill="#fbd6d6"/>
<rect x="82.44" y="244.02" width="0.75" height="0.75" fill="#fbd6d6"/>
<rect x="68.69" y="245.82" width="0.75" height="0.75" fill="#fbd6d6"/>
<rect x="154.22" y="249.66" width="0.75" height="0.75" fill="#fbd6d6"/>
<rect x="65.33" y="249.87" width="0.75" height="0.75" fill="#fbd6d6"/>
<rect x="77.57" y="243.48" width="0.75" height="0.75" fill="#fbd6d6"/>
<rect x="167.08" y="244.71" width="0.75" height="0.75" fill="#fbd6d6"/>
<rect x="115.6" y="247.13" width="0.75" height="0.75" fill="#fbd6d6"/>
<rect x="96.08" y="249.51" width="0.75" height="0.75" fill="#fbd6d6"/>
<rect x="94.55" y="250" width="0.75" height="0.75" fill="#fbd6d6"/>
<rect x="198.01" y="246.79" width="0.75" height="0.75" fill="#fbd6d6"/>
<rect x="63.76" y="249.35" width="0.75" height="0.75" fill="#fbd6d6"/>
<rect x="63.39" y="246.45" width="0.75" height="0.75" fill="#fbd6d6"/>
<rect x="131.62" y="241.77" width="0.75" height="0.75" fill="#fbd6d6"/>
<rect x="167.18" y="248.78" width="0.75" height="0.75" fill="#fbd6d6"/>
<rect x="159.4" y="245.34" width="0.75" height="0.75" fill="#fbd6d6"/>
<rect x="146.83" y="247.34" width="0.75" height="0.75" fill="#fbd6d6"/>
<rect x="97.53" y="250.3" width="0.75" height="0.75" fill="#fbd6d6"/>
<rect x="230.26" y="249.62" width="0.75" height="0.75" fill="#fbd6d6"/>
<rect x="224.33" y="244.59" width="0.75" height="0.75" fill="#fbd6d6"/>
<rect x="228.63" y="241.86" width="0.75" height="0.75" fill="#fbd6d6"/>
<rect x="140.93" y="242.52" width="0.75" height="0.75" fill="#fbd6d6"/>
<rect x="136.81" y="248.34" width="0.75" height="0.75" fill="#fbd6d6"/>
<rect x="180.7" y="245.92" width="0.75" height="0.75" fill="#fbd6d6"/>
<rect x="117.44" y="243.11" width="0.75" height="0.75" fill="#fbd6d6"/>
<rect x="128" y="244.1" width="0.75" height="0.75" fill="#fbd6d6"/>
<rect x="92" y="248.9" width="0.75" height="0.75" fill="#fbd6d6"/>
<rect x="147.55" y="245.75" width="0.75" height="0.75" fill="#fbd6d6"/>
<rect x="92.6" y="248.56" width="0.75" height="0.75" fill="#fbd6d6"/>
<rect x="92.44" y="243.92" width="0.75" height="0.75" fill="#fbd6d6"/>
<rect x="155.15" y="248.53" width="0.75" height="0.75" fill="#fbd6d6"/>
<rect x="226.34" y="249.03" width="0.75" height="0.75" fill="#fbd6d6"/>
<rect x="222.08" y="250.85" width="0.75" height="0.75" fill="#fbd6d6"/>
<rect x="183.14" y="248.73" width="0.75" height="0.75" fill="#fbd6d6"/>
<rect x="69.32" y="243.28" width="0.75" height="0.75" fill="#fbd6d6"/>
<rect x="60.74" y="250.25" width="0.75" height="0.75" fill="#fbd6d6"/>
<rect x="183.04" y="247.78" width="0.75" height="0.75" fill="#fbd6d6"/>
<rect x="104" y="244.87" width="0.75" height="0.75" fill="#fbd6d6"/>
<rect x="86.73" y="247.8" width="0.75" height="0.75" fill="#fbd6d6"/>
<rect x="229.53" y="244.34" width="0.75" height="0.75" fill="#fbd6d6"/>
<rect x="66.13" y="242.96" width="0.75" height="0.75" fill="#fbd6d6"/>
<rect x="119.78" y="250.63" width="0.75" height="0.75" fill="#fbd6d6"/>
<rect x="197.27" y="245.92" width="0.75" height="0.75" fill="#fbd6d6"/>
<rect x="76.12" y="242.23" width="0.75" height="0.75" fill="#fbd6d6"/>
<rect x="85.04" y="249.34" width="0.75" height="0.75" fill="#fbd6d6"/>
<rect x="139.79" y="251.6" width="0.75" height="0.75" fill="#fbd6d6"/>
<rect x="215.77" y="249.52" width="0.75" height="0.75" fill="#fbd6d6"/>
<rect x="140.65" y="249.81" width="0.75" height="0.75" fill="#fbd6d6"/>
<rect x="80.63" y="242.25" width="0.75" height="0.75" fill="#fbd6d6"/>
<rect x="155.69" y="246.48" width="0.75" height="0.75" fill="#fbd6d6"/>
<rect x="94.6" y="243.77" width="0.75" height="0.75" fill="#fbd6d6"/>
<rect x="62.16" y="250.73" width="0.75" height="0.75" fill="#fbd6d6"/>
<rect x="181.01" y="251.12" width="0.75" height="0.75" fill="#fbd6d6"/>
<rect x="227.65" y="245.73" width="0.75" height="0.75" fill="#fbd6d6"/>
<rect x="184.84" y="245.17" width="0.75" height="0.75" fill="#fbd6d6"/>
<rect x="198.55" y="250.02" width="0.75" height="0.75" fill="#fbd6d6"/>
<rect x="81.59" y="241.24" width="0.75" height="0.75" fill="#fbd6d6"/>
<rect x="95.42" y="247.3" width="0.75" height="0.75" fill="#fbd6d6"/>
<rect x="123.86" y="241.2" width="0.75" height="0.75" fill="#fbd6d6"/>
<rect x="201.73" y="249.43" width="0.75" height="0.75" fill="#fbd6d6"/>
<rect x="138.49" y="241.56" width="0.75" height="0.75" fill="#fbd6d6"/>
<rect x="211.86" y="246.76" width="0.75" height="0.75" fill="#fbd6d6"/>
<rect x="70.74" y="244.53" width="0.75" height="0.75" fill="#fbd6d6"/>
<rect x="166.24" y="250.48" width="0.75" height="0.75" fill="#fbd6d6"/>
<rect x="142.08" y="247.88" width="0.75" height="0.75" fill="#fbd6d6"/>
<rect x="93.99" y="243.68" width="0.75" height="0.75" fill="#fbd6d6"/>
<rect x="214.75" y="245.16" width="0.75" height="0.75" fill="#fbd6d6"/>
<rect x="76.44" y="247.37" width="0.75" height="0.75" fill="#fbd6d6"/>
<rect x="80.28" y="243.22" width="0.75" height="0.75" fill="#fbd6d6"/>
<rect x="137.23" y="247.31" width="0.75" height="0.75" fill="#fbd6d6"/>
<rect x="168.28" y="248.59" width="0.75" height="0.75" fill="#fbd6d6"/>
<rect x="134.34" y="241.82" width="0.75" height="0.75" fill="#fbd6d6"/>
<rect x="183.47" y="241.67" width="0.75" height="0.75" fill="#fbd6d6"/>
<rect x="139.69" y="245.34" width="0.75" height="0.75" fill="#fbd6d6"/>
<rect x="174.57" y="248.67" width="0.75" height="0.75" fill="#fbd6d6"/>
<rect x="99.86" y="247.99" width="0.75" height="0.75" fill="#fbd6d6"/>
<rect x="177.88" y="246.1" width="0.75" height="0.75" fill="#fbd6d6"/>
<rect x="82.96" y="250.74" width="0.75" height="0.75" fill="#fbd6d6"/>
<rect x="161.84" y="241.77" width="0.75" height="0.75" fill="#fbd6d6"/>
<rect x="99.66" y="251.56" width="0.75" height="0.75" fill="#fbd6d6"/>
<rect x="97.95" y="245.26" width="0.75" height="0.75" fill="#fbd6d6"/>
<rect x="194.44" y="249.83" width="0.75" height="0.75" fill="#fbd6d6"/>
<rect x="167.85" y="248.96" width="0.75" height="0.75" fill="#fbd6d6"/>
<rect x="65.11" y="242.09" width="0.75" height="0.75" fill="#fbd6d6"/>
<rect x="226.89" y="249.61" width="0.75" height="0.75" fill="#fbd6d6"/>
<rect x="65.07" y="241.62" width="0.75" height="0.75" fill="#fbd6d6"/>
<rect x="99.98" y="250.97" width="0.75" height="0.75" fill="#fbd6d6"/>
<rect x="96.38" y="248.22" width="0.75" height="0.75" fill="#fbd6d6"/>
<rect x="218.99" y="247.87" width="0.75" height="0.75" fill="#fbd6d6"/>
<rect x="217.08" y="243.89" width="0.75" height="0.75" fill="#fbd6d6"/>
<rect x="84.96" y="241.29" width="0.75" height="0.75" fill="#fbd6d6"/>
<rect x="189.1" y="242.2" width="0.75" height="0.75" fill="#fbd6d6"/>
<rect x="226.37" y="248.63" width="0.75" height="0.75" fill="#fbd6d6"/>
<rect x="90.75" y="249.65" width="0.75" height="0.75" fill="#fbd6d6"/>
<rect x="86.59" y="246.53" width="0.75" height="0.75" fill="#fbd6d6"/>
<rect x="76.75" y="249.44" width="0.75" height="0.75" fill="#fbd6d6"/>
<rect x="211.97" y="250.81" width="0.75" height="0.75" fill="#fbd6d6"/>
<rect x="58.89" y="250.12" width="0.75" height="0.75" fill="#fbd6d6"/>
<rect x="154.39" y="249.81" width="0.75" height="0.75" fill="#fbd6d6"/>
<rect x="145.18" y="247.67" width="0.75" height="0.75" fill="#fbd6d6"/>
<rect x="161.06" y="249.57" width="0.75" height="0.75" fill="#fbd6d6"/>
<rect x="71.89" y="241.67" width="0.75" height="0.75" fill="#fbd6d6"/>
<rect x="152.59" y="244.18" width="0.75" height="0.75" fill="#fbd6d6"/>
<rect x="126.98" y="241.18" width="0.75" height="0.75" fill="#fbd6d6"/>
<rect x="187.01" y="241.36" width="0.75" height="0.75" fill="#fbd6d6"/>
<rect x="201.62" y="249.7" width="0.75" height="0.75" fill="#fbd6d6"/>
<rect x="137.5" y="242.39" width="0.75" height="0.75" fill="#fbd6d6"/>
<rect x="170.64" y="243.3" width="0.75" height="0.75" fill="#fbd6d6"/>
<rect x="132.51" y="242.27" width="0.75" height="0.75" fill="#fbd6d6"/>
<rect x="226.94" y="246.89" width="0.75" height="0.75" fill="#fbd6d6"/>
<rect x="119.31" y="242.1" width="0.75" height="0.75" fill="#fbd6d6"/>
<rect x="184.45" y="250.11" width="0.75" height="0.75" fill="#fbd6d6"/>
<rect x="204.84" y="242.18" width="0.75" height="0.75" fill="#fbd6d6"/>
<rect x="121.91" y="244.31" width="0.75" height="0.75" fill="#fbd6d6"/>
<rect x="190.02" y="242.67" width="0.75" height="0.75" fill="#fbd6d6"/>
<rect x="163.11" y="251.47" width="0.75" height="0.75" fill="#fbd6d6"/>
<rect x="191.12" y="241.17" width="0.75" height="0.75" fill="#fbd6d6"/>
<rect x="71.44" y="242.3" width="0.75" height="0.75" fill="#fbd6d6"/>
<rect x="177.95" y="247.45" width="0.75" height="0.75" fill="#fbd6d6"/>
<rect x="148.22" y="245.93" width="0.75" height="0.75" fill="#fbd6d6"/>
<rect x="128.78" y="247.58" width="0.75" height="0.75" fill="#fbd6d6"/>
<rect x="170.38" y="250.81" width="0.75" height="0.75" fill="#fbd6d6"/>
<rect x="184.89" y="249.54" width="0.75" height="0.75" fill="#fbd6d6"/>
<rect x="215.97" y="249.97" width="0.75" height="0.75" fill="#fbd6d6"/>
<rect x="182.13" y="241.42" width="0.75" height="0.75" fill="#fbd6d6"/>
<rect x="175.95" y="250.11" width="0.75" height="0.75" fill="#fbd6d6"/>
<rect x="132.81" y="250.41" width="0.75" height="0.75" fill="#fbd6d6"/>
<rect x="89.52" y="251.09" width="0.75" height="0.75" fill="#fbd6d6"/>
<rect x="134.7" y="248.59" width="0.75" height="0.75" fill="#fbd6d6"/>
<rect x="102.08" y="244.29" width="0.75" height="0.75" fill="#fbd6d6"/>
<rect x="118.61" y="244.54" width="0.75" height="0.75" fill="#fbd6d6"/>
<rect x="74.84" y="245.79" width="0.75" height="0.75" fill="#fbd6d6"/>
<rect x="227.7" y="248.03" width="0.75" height="0.75" fill="#fbd6d6"/>
<rect x="219.3" y="249.18" width="0.75" height="0.75" fill="#fbd6d6"/>
<rect x="202.85" y="251.64" width="0.75" height="0.75" fill="#fbd6d6"/>
<rect x="188.34" y="244.01" width="0.75" height="0.75" fill="#fbd6d6"/>
<rect x="101.58" y="245.47" width="0.75" height="0.75" fill="#fbd6d6"/>
<rect x="62.11" y="243.55" width="0.75" height="0.75" fill="#fbd6d6"/>
<rect x="211.38" y="250.86" width="0.75" height="0.75" fill="#fbd6d6"/>
<rect x="115.2" y="249.27" width="0.75" height="0.75" fill="#fbd6d6"/>
<rect x="192.18" y="250.53" width="0.75" height="0.75" fill="#fbd6d6"/>
<rect x="195.57" y="246.74" width="0.75" height="0.75" fill="#fbd6d6"/>
<rect x="76.59" y="249.85" width="0.75" height="0.75" fill="#fbd6d6"/>
<rect x="112.61" y="247.75" width="0.75" height="0.75" fill="#fbd6d6"/>
<rect x="121.83" y="246.8" width="0.75" height="0.75" fill="#fbd6d6"/>
<rect x="225.07" y="242.81" width="0.75" height="0.75" fill="#fbd6d6"/>
<rect x="150.08" y="247.99" width="0.75" height="0.75" fill="#fbd6d6"/>
<rect x="151.38" y="251.04" width="0.75" height="0.75" fill="#fbd6d6"/>
<rect x="128.79" y="250.79" width="0.75" height="0.75" fill="#fbd6d6"/>
<rect x="177.49" y="251.35" width="0.75" height="0.75" fill="#fbd6d6"/>
<rect x="73.96" y="243.35" width="0.75" height="0.75" fill="#fbd6d6"/>
<rect x="108.07" y="250.71" width="0.75" height="0.75" fill="#fbd6d6"/>
<rect x="60.85" y="243.86" width="0.75" height="0.75" fill="#fbd6d6"/>
<rect x="181.98" y="251.59" width="0.75" height="0.75" fill="#fbd6d6"/>
<rect x="88.91" y="245.74" width="0.75" height="0.75" fill="#fbd6d6"/>
<rect x="176.99" y="248.42" width="0.75" height="0.75" fill="#fbd6d6"/>
<rect x="187.19" y="249.08" width="0.75" height="0.75" fill="#fbd6d6"/>
<rect x="101.36" y="243.83" width="0.75" height="0.75" fill="#fbd6d6"/>
<rect x="63.27" y="248.43" width="0.75" height="0.75" fill="#fbd6d6"/>
<rect x="94.59" y="243.85" width="0.75" height="0.75" fill="#fbd6d6"/>
<rect x="224.84" y="247.92" width="0.75" height="0.75" fill="#fbd6d6"/>
<rect x="160.47" y="248.05" width="0.75" height="0.75" fill="#fbd6d6"/>
<rect x="161.63" y="248.47" width="0.75" height="0.75" fill="#fbd6d6"/>
<rect x="110.92" y="241.78" width="0.75" height="0.75" fill="#fbd6d6"/>
<rect x="70.04" y="241.25" width="0.75" height="0.75" fill="#fbd6d6"/>
<rect x="120.86" y="242.61" width="0.75" height="0.75" fill="#fbd6d6"/>
<rect x="77.97" y="246.33" width="0.75" height="0.75" fill="#fbd6d6"/>
<rect x="225.75" y="248.39" width="0.75" height="0.75" fill="#fbd6d6"/>
<rect x="105.67" y="249.26" width="0.75" height="0.75" fill="#fbd6d6"/>
<rect x="89.19" y="242.16" width="0.75" height="0.75" fill="#fbd6d6"/>
<rect x="110.8" y="245.43" width="0.75" height="0.75" fill="#fbd6d6"/>
<rect x="177.44" y="245.82" width="0.75" height="0.75" fill="#fbd6d6"/>
<rect x="184.13" y="242.11" width="0.75" height="0.75" fill="#fbd6d6"/>
<rect x="219.32" y="244.73" width="0.75" height="0.75" fill="#fbd6d6"/>
<rect x="202.07" y="241.43" width="0.75" height="0.75" fill="#fbd6d6"/>
<rect x="201.46" y="243.5" width="0.75" height="0.75" fill="#fbd6d6"/>
<rect x="205.99" y="249.61" width="0.75" height="0.75" fill="#fbd6d6"/>
<rect x="174.2" y="244.04" width="0.75" height="0.75" fill="#fbd6d6"/>
<rect x="60.19" y="243.11" width="0.75" height="0.75" fill="#fbd6d6"/>
<rect x="214.59" y="242.78" width="0.75" height="0.75" fill="#fbd6d6"/>
<rect x="172.22" y="247.32" width="0.75" height="0.75" fill="#fbd6d6"/>
<rect x="172.56" y="243.01" width="0.75" height="0.75" fill="#fbd6d6"/>
<rect x="83.28" y="242.13" width="0.75" height="0.75" fill="#fbd6d6"/>
<rect x="228.02" y="245.16" width="0.75" height="0.75" fill="#fbd6d6"/>
<rect x="171.01" y="247.14" width="0.75" height="0.75" fill="#fbd6d6"/>
<rect x="97.01" y="241.79" width="0.75" height="0.75" fill="#fbd6d6"/>
<rect x="61.06" y="250.14" width="0.75" height="0.75" fill="#fbd6d6"/>
<rect x="80.94" y="251.31" width="0.75" height="0.75" fill="#fbd6d6"/>
<rect x="121.23" y="248.76" width="0.75" height="0.75" fill="#fbd6d6"/>
<rect x="82.37" y="249.45" width="0.75" height="0.75" fill="#fbd6d6"/>
<rect x="101.91" y="244.98" width="0.75" height="0.75" fill="#fbd6d6"/>
<rect x="148.73" y="242.28" width="0.75" height="0.75" fill="#fbd6d6"/>
<rect x="101.33" y="249.54" width="0.75" height="0.75" fill="#fbd6d6"/>
<rect x="107.71" y="245.14" width="0.75" height="0.75" fill="#fbd6d6"/>
<rect x="190.43" y="243.47" width="0.75" height="0.75" fill="#fbd6d6"/>
<rect x="91.95" y="243.42" width="0.75" height="0.75" fill="#fbd6d6"/>
<rect x="124.77" y="244.97" width="0.75" height="0.75" fill="#fbd6d6"/>
<rect x="169.15" y="246.1" width="0.75" height="0.75" fill="#fbd6d6"/>
<rect x="208.52" y="241.64" width="0.75" height="0.75" fill="#fbd6d6"/>
<rect x="172.98" y="249.97" width="0.75" height="0.75" fill="#fbd6d6"/>
<rect x="99.01" y="241.41" width="0.75" height="0.75" fill="#fbd6d6"/>
<rect x="134.11" y="242.33" width="0.75" height="0.75" fill="#fbd6d6"/>
<rect x="137.84" y="248.64" width="0.75" height="0.75" fill="#fbd6d6"/>
<rect x="74.67" y="242.35" width="0.75" height="0.75" fill="#fbd6d6"/>
<rect x="141.22" y="242.94" width="0.75" height="0.75" fill="#fbd6d6"/>
<rect x="98.3" y="245.77" width="0.75" height="0.75" fill="#fbd6d6"/>
<rect x="78.91" y="241.82" width="0.75" height="0.75" fill="#fbd6d6"/>
<rect x="120.8" y="246.07" width="0.75" height="0.75" fill="#fbd6d6"/>
<rect x="220.06" y="246.98" width="0.75" height="0.75" fill="#fbd6d6"/>
<rect x="70.84" y="243.46" width="0.75" height="0.75" fill="#fbd6d6"/>
<rect x="186.88" y="247.07" width="0.75" height="0.75" fill="#fbd6d6"/>
<rect x="208.61" y="251.3" width="0.75" height="0.75" fill="#fbd6d6"/>
<rect x="206.49" y="242.27" width="0.75" height="0.75" fill="#fbd6d6"/>
<rect x="221.29" y="246.66" width="0.75" height="0.75" fill="#fbd6d6"/>
<rect x="99.85" y="242.91" width="0.75" height="0.75" fill="#fbd6d6"/>
<rect x="207.65" y="243.35" width="0.75" height="0.75" fill="#fbd6d6"/>
<rect x="72.83" y="243.91" width="0.75" height="0.75" fill="#fbd6d6"/>
<rect x="217.91" y="245.99" width="0.75" height="0.75" fill="#fbd6d6"/>
<rect x="184.65" y="241.89" width="0.75" height="0.75" fill="#fbd6d6"/>
<rect x="136.64" y="244.47" width="0.75" height="0.75" fill="#fbd6d6"/>
<rect x="93.92" y="248.13" width="0.75" height="0.75" fill="#fbd6d6"/>
<rect x="120.81" y="242.37" width="0.75" height="0.75" fill="#fbd6d6"/>
<rect x="228.27" y="246.2" width="0.75" height="0.75" fill="#fbd6d6"/>
<rect x="89.55" y="241.22" width="0.75" height="0.75" fill="#fbd6d6"/>
<rect x="171.14" y="246.56" width="0.75" height="0.75" fill="#fbd6d6"/>
<rect x="62.72" y="246.09" width="0.75" height="0.75" fill="#fbd6d6"/>
<rect x="186.23" y="246.79" width="0.75" height="0.75" fill="#fbd6d6"/>
<rect x="98.88" y="246.39" width="0.75" height="0.75" fill="#fbd6d6"/>
<rect x="162.85" y="248" width="0.75" height="0.75" fill="#fbd6d6"/>
<rect x="83.52" y="249.62" width="0.75" height="0.75" fill="#fbd6d6"/>
<rect x="221.61" y="248.95" width="0.75" height="0.75" fill="#fbd6d6"/>
<rect x="206.39" y="245" width="0.75" height="0.75" fill="#fbd6d6"/>
<rect x="214.22" y="243.03" width="0.75" height="0.75" fill="#fbd6d6"/>
<rect x="97.64" y="247.44" width="0.75" height="0.75" fill="#fbd6d6"/>
<rect x="214.02" y="241.97" width="0.75" height="0.75" fill="#fbd6d6"/>
<rect x="95.93" y="241.48" width="0.75" height="0.75" fill="#fbd6d6"/>
<rect x="134.23" y="242.59" width="0.75" height="0.75" fill="#fbd6d6"/>
<rect x="91.54" y="249.04" width="0.75" height="0.75" fill="#fbd6d6"/>
<rect x="159.12" y="251.06" width="0.75" height="0.75" fill="#fbd6d6"/>
<rect x="127.84" y="248.3" width="0.75" height="0.75" fill="#fbd6d6"/>
<rect x="60.68" y="251.15" width="0.75" height="0.75" fill="#fbd6d6"/>
<rect x="98.71" y="246.16" width="0.75" height="0.75" fill="#fbd6d6"/>
<rect x="146.76" y="251.15" width="0.75" height="0.75" fill="#fbd6d6"/>
<rect x="143.39" y="251.61" width="0.75" height="0.75" fill="#fbd6d6"/>
<rect x="165.66" y="243.39" width="0.75" height="0.75" fill="#fbd6d6"/>
<rect x="202.35" y="243.24" width="0.75" height="0.75" fill="#fbd6d6"/>
<rect x="230.93" y="245.94" width="0.75" height="0.75" fill="#fbd6d6"/>
<rect x="97.53" y="251.29" width="0.75" height="0.75" fill="#fbd6d6"/>
<rect x="114.01" y="245.41" width="0.75" height="0.75" fill="#fbd6d6"/>
<rect x="117.7" y="248.19" width="0.75" height="0.75" fill="#fbd6d6"/>
<rect x="62.46" y="245.06" width="0.75" height="0.75" fill="#fbd6d6"/>
<rect x="86.46" y="249.88" width="0.75" height="0.75" fill="#fbd6d6"/>
<rect x="58.53" y="247.54" width="0.75" height="0.75" fill="#fbd6d6"/>
<rect x="102.98" y="245.91" width="0.75" height="0.75" fill="#fbd6d6"/>
<rect x="155.42" y="248.64" width="0.75" height="0.75" fill="#fbd6d6"/>
<rect x="82.25" y="243.65" width="0.75" height="0.75" fill="#fbd6d6"/>
<rect x="79.29" y="251.28" width="0.75" height="0.75" fill="#fbd6d6"/>
<rect x="84.23" y="242.55" width="0.75" height="0.75" fill="#fbd6d6"/>
<rect x="148.58" y="247.26" width="0.75" height="0.75" fill="#fbd6d6"/>
<rect x="211.43" y="241.7" width="0.75" height="0.75" fill="#fbd6d6"/>
<rect x="98.92" y="242.88" width="0.75" height="0.75" fill="#fbd6d6"/>
<rect x="159.51" y="245.9" width="0.75" height="0.75" fill="#fbd6d6"/>
<rect x="129.04" y="250.52" width="0.75" height="0.75" fill="#fbd6d6"/>
<rect x="172.64" y="250.22" width="0.75" height="0.75" fill="#fbd6d6"/>
<rect x="223.57" y="243.95" width="0.75" height="0.75" fill="#fbd6d6"/>
<rect x="221" y="245.42" width="0.75" height="0.75" fill="#fbd6d6"/>
<rect x="67.4" y="250.8" width="0.75" height="0.75" fill="#fbd6d6"/>
<rect x="76.46" y="241.29" width="0.75" height="0.75" fill="#fbd6d6"/>
<rect x="108.46" y="244.16" width="0.75" height="0.75" fill="#fbd6d6"/>
<rect x="225.29" y="250.33" width="0.75" height="0.75" fill="#fbd6d6"/>
<rect x="130.96" y="246.71" width="0.75" height="0.75" fill="#fbd6d6"/>
<rect x="204.92" y="249.65" width="0.75" height="0.75" fill="#fbd6d6"/>
<rect x="171.21" y="246.54" width="0.75" height="0.75" fill="#fbd6d6"/>
<rect x="78.61" y="243.68" width="0.75" height="0.75" fill="#fbd6d6"/>
<rect x="172.03" y="247.31" width="0.75" height="0.75" fill="#fbd6d6"/>
<rect x="196.68" y="250.63" width="0.75" height="0.75" fill="#fbd6d6"/>
<rect x="224.51" y="243.14" width="0.75" height="0.75" fill="#fbd6d6"/>
<rect x="71.61" y="250.61" width="0.75" height="0.75" fill="#fbd6d6"/>
<rect x="156.88" y="243.02" width="0.75" height="0.75" fill="#fbd6d6"/>
<rect x="177.89" y="243.81" width="0.75" height="0.75" fill="#fbd6d6"/>
<rect x="99.31" y="244.98" width="0.75" height="0.75" fill="#fbd6d6"/>
<rect x="148.87" y="248.28" width="0.75" height="0.75" fill="#fbd6d6"/>
<rect x="71.17" y="248.96" width="0.75" height="0.75" fill="#fbd6d6"/>
<rect x="166.18" y="246.1" width="0.75" height="0.75" fill="#fbd6d6"/>
<rect x="174.44" y="249.58" width="0.75" height="0.75" fill="#fbd6d6"/>
<rect x="60.16" y="246.14" width="0.75" height="0.75" fill="#fbd6d6"/>
<rect x="175.44" y="248.62" width="0.75" height="0.75" fill="#fbd6d6"/>
<rect x="170.2" y="243.01" width="0.75" height="0.75" fill="#fbd6d6"/>
<rect x="223.84" y="249.43" width="0.75" height="0.75" fill="#fbd6d6"/>
<rect x="98.68" y="245.66" width="0.75" height="0.75" fill="#fbd6d6"/>
<rect x="223.74" y="243.3" width="0.75" height="0.75" fill="#fbd6d6"/>
<rect x="129.07" y="251.29" width="0.75" height="0.75" fill="#fbd6d6"/>
<rect x="213.77" y="243.56" width="0.75" height="0.75" fill="#fbd6d6"/>
<rect x="185.33" y="244.91" width="0.75" height="0.75" fill="#fbd6d6"/>
<rect x="172.93" y="249.23" width="0.75" height="0.75" fill="#fbd6d6"/>
<rect x="80.5" y="243.46" width="0.75" height="0.75" fill="#fbd6d6"/>
<rect x="95.58" y="243.92" width="0.75" height="0.75" fill="#fbd6d6"/>
<rect x="64.65" y="242.54" width="0.75" height="0.75" fill="#fbd6d6"/>
<rect x="128.56" y="245.56" width="0.75" height="0.75" fill="#fbd6d6"/>
<rect x="71.92" y="247.27" width="0.75" height="0.75" fill="#fbd6d6"/>
<rect x="221.06" y="247.22" width="0.75" height="0.75" fill="#fbd6d6"/>
<rect x="119.85" y="248.57" width="0.75" height="0.75" fill="#fbd6d6"/>
<rect x="133.92" y="242.96" width="0.75" height="0.75" fill="#fbd6d6"/>
<rect x="141.59" y="241.29" width="0.75" height="0.75" fill="#fbd6d6"/>
<rect x="175.1" y="242.81" width="0.75" height="0.75" fill="#fbd6d6"/>
<rect x="122.27" y="251.3" width="0.75" height="0.75" fill="#fbd6d6"/>
<rect x="190.77" y="249.96" width="0.75" height="0.75" fill="#fbd6d6"/>
<rect x="169.26" y="247.83" width="0.75" height="0.75" fill="#fbd6d6"/>
<rect x="180.09" y="251.34" width="0.75" height="0.75" fill="#fbd6d6"/>
<rect x="92.36" y="249.22" width="0.75" height="0.75" fill="#fbd6d6"/>
<rect x="110.4" y="243.81" width="0.75" height="0.75" fill="#fbd6d6"/>
<rect x="200.22" y="247.47" width="0.75" height="0.75" fill="#fbd6d6"/>
<rect x="205.07" y="250.38" width="0.75" height="0.75" fill="#fbd6d6"/>
<rect x="160.07" y="243.2" width="0.75" height="0.75" fill="#fbd6d6"/>
<rect x="61.09" y="246.77" width="0.75" height="0.75" fill="#fbd6d6"/>
<rect x="183.67" y="243.99" width="0.75" height="0.75" fill="#fbd6d6"/>
<rect x="70.58" y="241.15" width="0.75" height="0.75" fill="#fbd6d6"/>
<rect x="88.38" y="248.48" width="0.75" height="0.75" fill="#fbd6d6"/>
<rect x="59.18" y="243.54" width="0.75" height="0.75" fill="#fbd6d6"/>
<rect x="104.24" y="248.64" width="0.75" height="0.75" fill="#fbd6d6"/>
<rect x="228.79" y="241.3" width="0.75" height="0.75" fill="#fbd6d6"/>
<rect x="78.2" y="251.01" width="0.75" height="0.75" fill="#fbd6d6"/>
<rect x="225.82" y="242.68" width="0.75" height="0.75" fill="#fbd6d6"/>
<rect x="116.35" y="246.64" width="0.75" height="0.75" fill="#fbd6d6"/>
<rect x="113.73" y="245.52" width="0.75" height="0.75" fill="#fbd6d6"/>
<rect x="141.1" y="243.84" width="0.75" height="0.75" fill="#fbd6d6"/>
<rect x="67.98" y="241.99" width="0.75" height="0.75" fill="#fbd6d6"/>
<rect x="86.52" y="242.07" width="0.75" height="0.75" fill="#fbd6d6"/>
<rect x="166.15" y="248.48" width="0.75" height="0.75" fill="#fbd6d6"/>
<rect x="103.86" y="249.49" width="0.75" height="0.75" fill="#fbd6d6"/>
<rect x="184.21" y="244.72" width="0.75" height="0.75" fill="#fbd6d6"/>
<rect x="143.33" y="243.1" width="0.75" height="0.75" fill="#fbd6d6"/>
<rect x="218.75" y="247.04" width="0.75" height="0.75" fill="#fbd6d6"/>
<rect x="67.34" y="242.73" width="0.75" height="0.75" fill="#fbd6d6"/>
<rect x="177.98" y="245.18" width="0.75" height="0.75" fill="#fbd6d6"/>
<rect x="182.18" y="243.53" width="0.75" height="0.75" fill="#fbd6d6"/>
<rect x="196.01" y="249.6" width="0.75" height="0.75" fill="#fbd6d6"/>
<rect x="74.75" y="247.31" width="0.75" height="0.75" fill="#fbd6d6"/>
<rect x="91.5" y="248.6" width="0.75" height="0.75" fill="#fbd6d6"/>
<rect x="197.19" y="249.49" width="0.75" height="0.75" fill="#fbd6d6"/>
<rect x="98.39" y="242.09" width="0.75" height="0.75" fill="#fbd6d6"/>
<rect x="172.95" y="247.09" width="0.75" height="0.75" fill="#fbd6d6"/>
<rect x="82.34" y="243.14" width="0.75" height="0.75" fill="#fbd6d6"/>
<rect x="158.98" y="242.24" width="0.75" height="0.75" fill="#fbd6d6"/>
<rect x="167.86" y="243.65" width="0.75" height="0.75" fill="#fbd6d6"/>
<rect x="103.1" y="245.59" width="0.75" height="0.75" fill="#fbd6d6"/>
<rect x="150.47" y="248.78" width="0.75" height="0.75" fill="#fbd6d6"/>
<rect x="63.83" y="248.78" width="0.75" height="0.75" fill="#fbd6d6"/>
<rect x="96.62" y="244.18" width="0.75" height="0.75" fill="#fbd6d6"/>
<rect x="168.86" y="248.43" width="0.75" height="0.75" fill="#fbd6d6"/>
<rect x="164.54" y="250.66" width="0.75" height="0.75" fill="#fbd6d6"/>
<rect x="93.8" y="244.4" width="0.75" height="0.75" fill="#fbd6d6"/>
<rect x="172.78" y="243.86" width="0.75" height="0.75" fill="#fbd6d6"/>
<rect x="85.64" y="243.5" width="0.75" height="0.75" fill="#fbd6d6"/>
<rect x="191.55" y="249.87" width="0.75" height="0.75" fill="#fbd6d6"/>
<rect x="182.06" y="251.26" width="0.75" height="0.75" fill="#fbd6d6"/>
<rect x="195.53" y="244.38" width="0.75" height="0.75" fill="#fbd6d6"/>
<rect x="112.92" y="248.74" width="0.75" height="0.75" fill="#fbd6d6"/>
<rect x="68.1" y="247.56" width="0.75" height="0.75" fill="#fbd6d6"/>
<rect x="73.88" y="241.62" width="0.75" height="0.75" fill="#fbd6d6"/>
<rect x="147.12" y="242.7" width="0.75" height="0.75" fill="#fbd6d6"/>
<rect x="219.21" y="250.4" width="0.75" height="0.75" fill="#fbd6d6"/>
<rect x="138.15" y="243.2" width="0.75" height="0.75" fill="#fbd6d6"/>
<rect x="79.13" y="246.47" width="0.75" height="0.75" fill="#fbd6d6"/>
<rect x="58.5" y="259.1" width="172.6" height="11" fill="#ee1414"/>
<rect x="148.16" y="258.01" width="0.9" height="0.9" fill="#ee1414"/>
<rect x="149.53" y="269.62" width="0.9" height="0.9" fill="#ee1414"/>
<rect x="70.55" y="258.27" width="0.9" height="0.9" fill="#ee1414"/>
<rect x="101.95" y="269.74" width="0.9" height="0.9" fill="#ee1414"/>
<rect x="113.24" y="258.02" width="0.9" height="0.9" fill="#ee1414"/>
<rect x="191" y="258.31" width="0.9" height="0.9" fill="#ee1414"/>
<rect x="218.04" y="270.18" width="0.9" height="0.9" fill="#ee1414"/>
<rect x="76.55" y="258.1" width="0.9" height="0.9" fill="#ee1414"/>
<rect x="106.42" y="257.72" width="0.9" height="0.9" fill="#ee1414"/>
<rect x="214.96" y="258.29" width="0.9" height="0.9" fill="#ee1414"/>
<rect x="165.03" y="258.72" width="0.9" height="0.9" fill="#ee1414"/>
<rect x="187.62" y="269.98" width="0.9" height="0.9" fill="#ee1414"/>
<rect x="73.24" y="258.7" width="0.9" height="0.9" fill="#ee1414"/>
<rect x="224.23" y="258.48" width="0.9" height="0.9" fill="#ee1414"/>
<rect x="190.58" y="258.68" width="0.9" height="0.9" fill="#ee1414"/>
<rect x="70.65" y="258.21" width="0.9" height="0.9" fill="#ee1414"/>
<rect x="201.79" y="258.61" width="0.9" height="0.9" fill="#ee1414"/>
<rect x="190.07" y="258.43" width="0.9" height="0.9" fill="#ee1414"/>
<rect x="79.7" y="257.73" width="0.9" height="0.9" fill="#ee1414"/>
<rect x="78.62" y="257.99" width="0.9" height="0.9" fill="#ee1414"/>
<rect x="211.88" y="270.02" width="0.9" height="0.9" fill="#ee1414"/>
<rect x="223" y="269.82" width="0.9" height="0.9" fill="#ee1414"/>
<rect x="138.52" y="270.31" width="0.9" height="0.9" fill="#ee1414"/>
<rect x="80.8" y="257.75" width="0.9" height="0.9" fill="#ee1414"/>
<rect x="76.9" y="269.87" width="0.9" height="0.9" fill="#ee1414"/>
<rect x="101.14" y="258.28" width="0.9" height="0.9" fill="#ee1414"/>
<rect x="228.88" y="257.86" width="0.9" height="0.9" fill="#ee1414"/>
<rect x="113.75" y="257.98" width="0.9" height="0.9" fill="#ee1414"/>
<rect x="117.26" y="258.34" width="0.9" height="0.9" fill="#ee1414"/>
<rect x="199.83" y="270.13" width="0.9" height="0.9" fill="#ee1414"/>
<rect x="60.29" y="270.17" width="0.9" height="0.9" fill="#ee1414"/>
<rect x="213.2" y="269.86" width="0.9" height="0.9" fill="#ee1414"/>
<rect x="204.44" y="269.79" width="0.9" height="0.9" fill="#ee1414"/>
<rect x="121.42" y="258.41" width="0.9" height="0.9" fill="#ee1414"/>
<rect x="123.56" y="258.55" width="0.9" height="0.9" fill="#ee1414"/>
<rect x="214.94" y="258.1" width="0.9" height="0.9" fill="#ee1414"/>
<rect x="211.11" y="269.77" width="0.9" height="0.9" fill="#ee1414"/>
<rect x="216.67" y="270.59" width="0.9" height="0.9" fill="#ee1414"/>
<rect x="183.73" y="270.39" width="0.9" height="0.9" fill="#ee1414"/>
<rect x="102.05" y="269.92" width="0.9" height="0.9" fill="#ee1414"/>
<rect x="202.93" y="258.21" width="0.9" height="0.9" fill="#ee1414"/>
<rect x="116.36" y="269.88" width="0.9" height="0.9" fill="#ee1414"/>
<rect x="203.64" y="270.47" width="0.9" height="0.9" fill="#ee1414"/>
<rect x="82.42" y="270.32" width="0.9" height="0.9" fill="#ee1414"/>
<rect x="174.93" y="269.55" width="0.9" height="0.9" fill="#ee1414"/>
<rect x="208.17" y="270" width="0.9" height="0.9" fill="#ee1414"/>
<rect x="116.86" y="270.36" width="0.9" height="0.9" fill="#ee1414"/>
<rect x="208.11" y="258.43" width="0.9" height="0.9" fill="#ee1414"/>
<rect x="101.39" y="258.44" width="0.9" height="0.9" fill="#ee1414"/>
<rect x="62.97" y="269.75" width="0.9" height="0.9" fill="#ee1414"/>
<rect x="70.65" y="257.98" width="0.9" height="0.9" fill="#ee1414"/>
<rect x="92.63" y="258.36" width="0.9" height="0.9" fill="#ee1414"/>
<rect x="196.51" y="269.84" width="0.9" height="0.9" fill="#ee1414"/>
<rect x="167.26" y="270.02" width="0.9" height="0.9" fill="#ee1414"/>
<rect x="213.24" y="269.84" width="0.9" height="0.9" fill="#ee1414"/>
<rect x="208.82" y="269.62" width="0.9" height="0.9" fill="#ee1414"/>
<rect x="159.55" y="270.07" width="0.9" height="0.9" fill="#ee1414"/>
<rect x="141.75" y="257.83" width="0.9" height="0.9" fill="#ee1414"/>
<rect x="172.97" y="258.4" width="0.9" height="0.9" fill="#ee1414"/>
<rect x="120.98" y="270.27" width="0.9" height="0.9" fill="#ee1414"/>
<rect x="79.98" y="269.54" width="0.9" height="0.9" fill="#ee1414"/>
<rect x="160.13" y="258.01" width="0.9" height="0.9" fill="#ee1414"/>
<rect x="132.34" y="258.22" width="0.9" height="0.9" fill="#ee1414"/>
<rect x="199.61" y="269.89" width="0.9" height="0.9" fill="#ee1414"/>
<rect x="96.74" y="270.38" width="0.9" height="0.9" fill="#ee1414"/>
<rect x="96.17" y="270.59" width="0.9" height="0.9" fill="#ee1414"/>
<rect x="133.06" y="258.02" width="0.9" height="0.9" fill="#ee1414"/>
<rect x="218.42" y="258.47" width="0.9" height="0.9" fill="#ee1414"/>
<rect x="115.09" y="269.71" width="0.9" height="0.9" fill="#ee1414"/>
<rect x="152.56" y="270.24" width="0.9" height="0.9" fill="#ee1414"/>
<rect x="83.14" y="270.6" width="0.9" height="0.9" fill="#ee1414"/>
<rect x="155.01" y="269.7" width="0.9" height="0.9" fill="#ee1414"/>
<rect x="215.05" y="270.34" width="0.9" height="0.9" fill="#ee1414"/>
<rect x="207.88" y="257.78" width="0.9" height="0.9" fill="#ee1414"/>
<rect x="94.17" y="258.25" width="0.9" height="0.9" fill="#ee1414"/>
<rect x="213.07" y="270.55" width="0.9" height="0.9" fill="#ee1414"/>
<rect x="146.36" y="270.12" width="0.9" height="0.9" fill="#ee1414"/>
<rect x="83.21" y="270.38" width="0.9" height="0.9" fill="#ee1414"/>
<rect x="131.4" y="269.79" width="0.9" height="0.9" fill="#ee1414"/>
<rect x="105.97" y="258.24" width="0.9" height="0.9" fill="#ee1414"/>
<rect x="139.05" y="258.79" width="0.9" height="0.9" fill="#ee1414"/>
<rect x="117.02" y="270.32" width="0.9" height="0.9" fill="#ee1414"/>
<rect x="99.27" y="258.23" width="0.9" height="0.9" fill="#ee1414"/>
<rect x="88.68" y="270.49" width="0.9" height="0.9" fill="#ee1414"/>
<rect x="93.24" y="270.29" width="0.9" height="0.9" fill="#ee1414"/>
<rect x="187.37" y="270.28" width="0.9" height="0.9" fill="#ee1414"/>
<rect x="105.38" y="270.52" width="0.9" height="0.9" fill="#ee1414"/>
<rect x="67.54" y="269.99" width="0.9" height="0.9" fill="#ee1414"/>
<rect x="73.35" y="257.92" width="0.9" height="0.9" fill="#ee1414"/>
<rect x="175.05" y="258.29" width="0.9" height="0.9" fill="#ee1414"/>
<rect x="168.36" y="269.87" width="0.9" height="0.9" fill="#ee1414"/>
<rect x="190.35" y="258.58" width="0.9" height="0.9" fill="#ee1414"/>
<rect x="86.23" y="258.12" width="0.9" height="0.9" fill="#ee1414"/>
<rect x="110.65" y="258.56" width="0.9" height="0.9" fill="#ee1414"/>
<rect x="73.12" y="258.45" width="0.9" height="0.9" fill="#ee1414"/>
<rect x="145.28" y="258.27" width="0.9" height="0.9" fill="#ee1414"/>
<rect x="134.15" y="270.03" width="0.9" height="0.9" fill="#ee1414"/>
<rect x="221.01" y="258.58" width="0.9" height="0.9" fill="#ee1414"/>
<rect x="160.32" y="258.61" width="0.9" height="0.9" fill="#ee1414"/>
<rect x="71.11" y="270.56" width="0.9" height="0.9" fill="#ee1414"/>
<rect x="127.88" y="258.33" width="0.9" height="0.9" fill="#ee1414"/>
<rect x="119.04" y="269.93" width="0.9" height="0.9" fill="#ee1414"/>
<rect x="84.7" y="270.13" width="0.9" height="0.9" fill="#ee1414"/>
<rect x="59.6" y="270.3" width="0.9" height="0.9" fill="#ee1414"/>
<rect x="119.47" y="270.51" width="0.9" height="0.9" fill="#ee1414"/>
<rect x="127.58" y="258.47" width="0.9" height="0.9" fill="#ee1414"/>
<rect x="153.83" y="270.31" width="0.9" height="0.9" fill="#ee1414"/>
<rect x="221.78" y="258.4" width="0.9" height="0.9" fill="#ee1414"/>
<rect x="204.97" y="270.15" width="0.9" height="0.9" fill="#ee1414"/>
<rect x="174.99" y="257.76" width="0.9" height="0.9" fill="#ee1414"/>
<rect x="153" y="258.6" width="0.9" height="0.9" fill="#ee1414"/>
<rect x="78.35" y="270.38" width="0.9" height="0.9" fill="#ee1414"/>
<rect x="63.1" y="258.27" width="0.9" height="0.9" fill="#ee1414"/>
<rect x="143.76" y="257.82" width="0.9" height="0.9" fill="#ee1414"/>
<rect x="118.67" y="270.52" width="0.9" height="0.9" fill="#ee1414"/>
<rect x="168.44" y="258.43" width="0.9" height="0.9" fill="#ee1414"/>
<rect x="125.08" y="270.36" width="0.9" height="0.9" fill="#ee1414"/>
<rect x="103.32" y="258.37" width="0.9" height="0.9" fill="#ee1414"/>
<rect x="120.91" y="270.09" width="0.9" height="0.9" fill="#ee1414"/>
<rect x="105.94" y="257.9" width="0.9" height="0.9" fill="#ee1414"/>
<rect x="86.06" y="269.52" width="0.9" height="0.9" fill="#ee1414"/>
<rect x="91.72" y="257.91" width="0.9" height="0.9" fill="#ee1414"/>
<rect x="83.77" y="258.74" width="0.9" height="0.9" fill="#ee1414"/>
<rect x="103.88" y="270.29" width="0.9" height="0.9" fill="#ee1414"/>
<rect x="215.08" y="270.11" width="0.9" height="0.9" fill="#ee1414"/>
<rect x="217.08" y="257.78" width="0.9" height="0.9" fill="#ee1414"/>
<rect x="133.15" y="257.98" width="0.9" height="0.9" fill="#ee1414"/>
<rect x="206.18" y="258.7" width="0.9" height="0.9" fill="#ee1414"/>
<rect x="208.64" y="270.16" width="0.9" height="0.9" fill="#ee1414"/>
<rect x="226.51" y="258.74" width="0.9" height="0.9" fill="#ee1414"/>
<rect x="79.87" y="258.02" width="0.9" height="0.9" fill="#ee1414"/>
<rect x="166.88" y="258.62" width="0.9" height="0.9" fill="#ee1414"/>
<rect x="89.62" y="270.24" width="0.9" height="0.9" fill="#ee1414"/>
<rect x="225.26" y="257.72" width="0.9" height="0.9" fill="#ee1414"/>
<rect x="133.23" y="258.52" width="0.9" height="0.9" fill="#ee1414"/>
<rect x="98.51" y="270.59" width="0.9" height="0.9" fill="#ee1414"/>
<rect x="179.91" y="258.6" width="0.9" height="0.9" fill="#ee1414"/>
<rect x="84.69" y="257.99" width="0.9" height="0.9" fill="#ee1414"/>
<rect x="68.64" y="270.25" width="0.9" height="0.9" fill="#ee1414"/>
<rect x="64.27" y="257.93" width="0.9" height="0.9" fill="#ee1414"/>
<rect x="157.52" y="257.83" width="0.9" height="0.9" fill="#ee1414"/>
<rect x="161.87" y="258.36" width="0.9" height="0.9" fill="#ee1414"/>
<rect x="220.76" y="270.51" width="0.9" height="0.9" fill="#ee1414"/>
<rect x="154.96" y="258.61" width="0.9" height="0.9" fill="#ee1414"/>
<rect x="124.43" y="269.51" width="0.9" height="0.9" fill="#ee1414"/>
<rect x="196.45" y="270.07" width="0.9" height="0.9" fill="#ee1414"/>
<rect x="59.47" y="269.96" width="0.9" height="0.9" fill="#ee1414"/>
<rect x="173.62" y="270.3" width="0.9" height="0.9" fill="#ee1414"/>
<rect x="128.81" y="270.55" width="0.9" height="0.9" fill="#ee1414"/>
<rect x="218.28" y="269.85" width="0.9" height="0.9" fill="#ee1414"/>
<rect x="123.28" y="257.81" width="0.9" height="0.9" fill="#ee1414"/>
<rect x="194.76" y="270.4" width="0.9" height="0.9" fill="#ee1414"/>
<rect x="228.91" y="269.85" width="0.9" height="0.9" fill="#ee1414"/>
<rect x="188.8" y="258.13" width="0.9" height="0.9" fill="#ee1414"/>
<rect x="85.75" y="270.04" width="0.9" height="0.9" fill="#ee1414"/>
<rect x="105.82" y="269.59" width="0.9" height="0.9" fill="#ee1414"/>
<rect x="218.5" y="269.66" width="0.9" height="0.9" fill="#ee1414"/>
<rect x="189.4" y="270.5" width="0.9" height="0.9" fill="#ee1414"/>
<rect x="159.38" y="257.77" width="0.9" height="0.9" fill="#ee1414"/>
<rect x="73.51" y="269.61" width="0.9" height="0.9" fill="#ee1414"/>
<rect x="106.08" y="257.84" width="0.9" height="0.9" fill="#ee1414"/>
<rect x="134.49" y="269.78" width="0.9" height="0.9" fill="#ee1414"/>
<rect x="184.12" y="269.61" width="0.9" height="0.9" fill="#ee1414"/>
<rect x="143.44" y="269.74" width="0.9" height="0.9" fill="#ee1414"/>
<rect x="171.04" y="258.39" width="0.9" height="0.9" fill="#ee1414"/>
<rect x="216.73" y="270.6" width="0.9" height="0.9" fill="#ee1414"/>
<rect x="131.9" y="270.39" width="0.9" height="0.9" fill="#ee1414"/>
<rect x="188.97" y="257.85" width="0.9" height="0.9" fill="#ee1414"/>
<rect x="127.52" y="270.02" width="0.9" height="0.9" fill="#ee1414"/>
<rect x="78.9" y="269.66" width="0.9" height="0.9" fill="#ee1414"/>
<rect x="175.38" y="257.71" width="0.9" height="0.9" fill="#ee1414"/>
<rect x="151.54" y="269.64" width="0.9" height="0.9" fill="#ee1414"/>
<rect x="168.04" y="258.53" width="0.9" height="0.9" fill="#ee1414"/>
<rect x="198.67" y="258.27" width="0.9" height="0.9" fill="#ee1414"/>
<rect x="73.44" y="270.48" width="0.9" height="0.9" fill="#ee1414"/>
<rect x="64.42" y="258.28" width="0.9" height="0.9" fill="#ee1414"/>
<rect x="182.12" y="269.88" width="0.9" height="0.9" fill="#ee1414"/>
<rect x="218.94" y="258.65" width="0.9" height="0.9" fill="#ee1414"/>
<rect x="198.63" y="258.6" width="0.9" height="0.9" fill="#ee1414"/>
<rect x="144.53" y="258.62" width="0.9" height="0.9" fill="#ee1414"/>
<rect x="218.44" y="257.94" width="0.9" height="0.9" fill="#ee1414"/>
<rect x="101.53" y="269.74" width="0.9" height="0.9" fill="#ee1414"/>
<rect x="214.41" y="270.57" width="0.9" height="0.9" fill="#ee1414"/>
<rect x="191.14" y="270.09" width="0.9" height="0.9" fill="#ee1414"/>
<rect x="205.53" y="258.69" width="0.9" height="0.9" fill="#ee1414"/>
<rect x="215.66" y="270.25" width="0.9" height="0.9" fill="#ee1414"/>
<rect x="186.59" y="258.29" width="0.9" height="0.9" fill="#ee1414"/>
<rect x="200.04" y="270.52" width="0.9" height="0.9" fill="#ee1414"/>
<rect x="86.11" y="270.11" width="0.9" height="0.9" fill="#ee1414"/>
<rect x="128.18" y="258.65" width="0.9" height="0.9" fill="#ee1414"/>
<rect x="139.39" y="258.51" width="0.9" height="0.9" fill="#ee1414"/>
<rect x="121.74" y="270.34" width="0.9" height="0.9" fill="#ee1414"/>
<rect x="159.87" y="257.83" width="0.9" height="0.9" fill="#ee1414"/>
<rect x="121.74" y="270.58" width="0.9" height="0.9" fill="#ee1414"/>
<rect x="82.64" y="270.56" width="0.9" height="0.9" fill="#ee1414"/>
<rect x="124.73" y="269.85" width="0.9" height="0.9" fill="#ee1414"/>
<rect x="63.43" y="258.66" width="0.9" height="0.9" fill="#ee1414"/>
<rect x="107.39" y="270.12" width="0.9" height="0.9" fill="#ee1414"/>
<rect x="221.6" y="269.9" width="0.9" height="0.9" fill="#ee1414"/>
<rect x="221.8" y="270.1" width="0.9" height="0.9" fill="#ee1414"/>
<rect x="206.86" y="269.9" width="0.9" height="0.9" fill="#ee1414"/>
<rect x="162.53" y="257.73" width="0.9" height="0.9" fill="#ee1414"/>
<rect x="100.51" y="269.57" width="0.9" height="0.9" fill="#ee1414"/>
<rect x="60.19" y="269.73" width="0.9" height="0.9" fill="#ee1414"/>
<rect x="145.78" y="257.88" width="0.9" height="0.9" fill="#ee1414"/>
<rect x="173.58" y="270.52" width="0.9" height="0.9" fill="#ee1414"/>
<rect x="229.14" y="270.28" width="0.9" height="0.9" fill="#ee1414"/>
<rect x="58.81" y="258.33" width="0.9" height="0.9" fill="#ee1414"/>
<rect x="225.18" y="258.17" width="0.9" height="0.9" fill="#ee1414"/>
<rect x="60.02" y="257.81" width="0.9" height="0.9" fill="#ee1414"/>
<rect x="159.89" y="269.51" width="0.9" height="0.9" fill="#ee1414"/>
<rect x="93.37" y="257.88" width="0.9" height="0.9" fill="#ee1414"/>
<rect x="75.98" y="269.79" width="0.9" height="0.9" fill="#ee1414"/>
<rect x="209.94" y="269.86" width="0.9" height="0.9" fill="#ee1414"/>
<rect x="224.72" y="258.03" width="0.9" height="0.9" fill="#ee1414"/>
<rect x="70.07" y="270.58" width="0.9" height="0.9" fill="#ee1414"/>
<rect x="77.51" y="269.8" width="0.9" height="0.9" fill="#ee1414"/>
<rect x="83.94" y="258.07" width="0.9" height="0.9" fill="#ee1414"/>
<rect x="222.51" y="270.59" width="0.9" height="0.9" fill="#ee1414"/>
<rect x="165.71" y="269.68" width="0.9" height="0.9" fill="#ee1414"/>
<rect x="183.38" y="269.89" width="0.9" height="0.9" fill="#ee1414"/>
<rect x="213.31" y="258.64" width="0.9" height="0.9" fill="#ee1414"/>
<rect x="85.7" y="258.15" width="0.9" height="0.9" fill="#ee1414"/>
<rect x="196.25" y="258.25" width="0.9" height="0.9" fill="#ee1414"/>
<rect x="157.3" y="269.95" width="0.9" height="0.9" fill="#ee1414"/>
<rect x="152" y="258.74" width="0.9" height="0.9" fill="#ee1414"/>
<rect x="131.2" y="257.97" width="0.9" height="0.9" fill="#ee1414"/>
<rect x="100.11" y="269.77" width="0.9" height="0.9" fill="#ee1414"/>
<rect x="74.42" y="258.37" width="0.9" height="0.9" fill="#ee1414"/>
<rect x="116.21" y="269.74" width="0.9" height="0.9" fill="#ee1414"/>
<rect x="173.74" y="270" width="0.9" height="0.9" fill="#ee1414"/>
<rect x="145.03" y="270.16" width="0.9" height="0.9" fill="#ee1414"/>
<rect x="89.62" y="258.71" width="0.9" height="0.9" fill="#ee1414"/>
<rect x="115.54" y="258.09" width="0.9" height="0.9" fill="#ee1414"/>
<rect x="131.36" y="258.24" width="0.9" height="0.9" fill="#ee1414"/>
<rect x="219.6" y="258.63" width="0.9" height="0.9" fill="#ee1414"/>
<rect x="111.02" y="257.8" width="0.9" height="0.9" fill="#ee1414"/>
<rect x="179.97" y="258.62" width="0.9" height="0.9" fill="#ee1414"/>
<rect x="66.31" y="257.87" width="0.9" height="0.9" fill="#ee1414"/>
<rect x="169.96" y="258.11" width="0.9" height="0.9" fill="#ee1414"/>
<rect x="68.54" y="269.87" width="0.9" height="0.9" fill="#ee1414"/>
<rect x="76.12" y="270.29" width="0.9" height="0.9" fill="#ee1414"/>
<rect x="146.33" y="258.06" width="0.9" height="0.9" fill="#ee1414"/>
<rect x="133.03" y="269.6" width="0.9" height="0.9" fill="#ee1414"/>
<rect x="213.75" y="258.56" width="0.9" height="0.9" fill="#ee1414"/>
<rect x="127.02" y="258.7" width="0.9" height="0.9" fill="#ee1414"/>
<rect x="176.74" y="269.87" width="0.9" height="0.9" fill="#ee1414"/>
<rect x="104.29" y="269.74" width="0.9" height="0.9" fill="#ee1414"/>
<rect x="127.43" y="269.97" width="0.9" height="0.9" fill="#ee1414"/>
<rect x="85.29" y="258.2" width="0.9" height="0.9" fill="#ee1414"/>
<rect x="228.88" y="269.61" width="0.9" height="0.9" fill="#ee1414"/>
<rect x="144.9" y="258.59" width="0.9" height="0.9" fill="#ee1414"/>
<rect x="173.71" y="257.91" width="0.9" height="0.9" fill="#ee1414"/>
<rect x="108.71" y="270.4" width="0.9" height="0.9" fill="#ee1414"/>
<rect x="139.94" y="258.27" width="0.9" height="0.9" fill="#ee1414"/>
<rect x="80.35" y="270.27" width="0.9" height="0.9" fill="#ee1414"/>
<rect x="157.94" y="269.55" width="0.9" height="0.9" fill="#ee1414"/>
<rect x="181.53" y="269.62" width="0.9" height="0.9" fill="#ee1414"/>
<rect x="113.89" y="258.16" width="0.9" height="0.9" fill="#ee1414"/>
<rect x="182.86" y="258.03" width="0.9" height="0.9" fill="#ee1414"/>
<rect x="121.58" y="269.8" width="0.9" height="0.9" fill="#ee1414"/>
<rect x="226.74" y="258.8" width="0.9" height="0.9" fill="#ee1414"/>
<rect x="74.23" y="270.45" width="0.9" height="0.9" fill="#ee1414"/>
<rect x="168.02" y="257.84" width="0.9" height="0.9" fill="#ee1414"/>
<rect x="181.8" y="258.38" width="0.9" height="0.9" fill="#ee1414"/>
<rect x="174" y="258.75" width="0.9" height="0.9" fill="#ee1414"/>
<rect x="119.32" y="270.6" width="0.9" height="0.9" fill="#ee1414"/>
<rect x="113.25" y="270.36" width="0.9" height="0.9" fill="#ee1414"/>
<rect x="207.3" y="270.57" width="0.9" height="0.9" fill="#ee1414"/>
<rect x="169.29" y="270.12" width="0.9" height="0.9" fill="#ee1414"/>
<rect x="92.3" y="270.03" width="0.9" height="0.9" fill="#ee1414"/>
<rect x="116.53" y="258.24" width="0.9" height="0.9" fill="#ee1414"/>
<rect x="159.64" y="258.49" width="0.9" height="0.9" fill="#ee1414"/>
<rect x="145" y="269.96" width="0.9" height="0.9" fill="#ee1414"/>
<rect x="172.74" y="258.21" width="0.9" height="0.9" fill="#ee1414"/>
<rect x="105.94" y="270.27" width="0.9" height="0.9" fill="#ee1414"/>
<rect x="192.84" y="269.77" width="0.9" height="0.9" fill="#ee1414"/>
<rect x="217.7" y="269.91" width="0.9" height="0.9" fill="#ee1414"/>
<rect x="108.45" y="258.02" width="0.9" height="0.9" fill="#ee1414"/>
<rect x="199.29" y="258" width="0.9" height="0.9" fill="#ee1414"/>
<rect x="95.12" y="258.41" width="0.9" height="0.9" fill="#ee1414"/>
<rect x="111.2" y="257.97" width="0.9" height="0.9" fill="#ee1414"/>
<rect x="184.64" y="258.54" width="0.9" height="0.9" fill="#ee1414"/>
<rect x="193.42" y="270.24" width="0.9" height="0.9" fill="#ee1414"/>
<rect x="167.76" y="269.8" width="0.9" height="0.9" fill="#ee1414"/>
<rect x="68.97" y="258.76" width="0.9" height="0.9" fill="#ee1414"/>
<rect x="223.96" y="270.24" width="0.9" height="0.9" fill="#ee1414"/>
<rect x="224.74" y="269.75" width="0.9" height="0.9" fill="#ee1414"/>
<rect x="116.45" y="257.92" width="0.9" height="0.9" fill="#ee1414"/>
<rect x="185.28" y="258.39" width="0.9" height="0.9" fill="#ee1414"/>
<rect x="104.92" y="258.02" width="0.9" height="0.9" fill="#ee1414"/>
<rect x="212.51" y="270.45" width="0.9" height="0.9" fill="#ee1414"/>
<rect x="134.05" y="258.45" width="0.9" height="0.9" fill="#ee1414"/>
<rect x="226.06" y="258.63" width="0.9" height="0.9" fill="#ee1414"/>
<rect x="106.82" y="270.44" width="0.9" height="0.9" fill="#ee1414"/>
<rect x="115.52" y="270.48" width="0.9" height="0.9" fill="#ee1414"/>
<rect x="131.98" y="257.95" width="0.9" height="0.9" fill="#ee1414"/>
<rect x="122.94" y="257.81" width="0.9" height="0.9" fill="#ee1414"/>
<rect x="134.1" y="258.15" width="0.9" height="0.9" fill="#ee1414"/>
<rect x="102.41" y="258.37" width="0.9" height="0.9" fill="#ee1414"/>
<rect x="123.74" y="258.39" width="0.9" height="0.9" fill="#ee1414"/>
<rect x="189.43" y="258.05" width="0.9" height="0.9" fill="#ee1414"/>
<rect x="165.93" y="258.78" width="0.9" height="0.9" fill="#ee1414"/>
<rect x="174.49" y="269.82" width="0.9" height="0.9" fill="#ee1414"/>
<rect x="92.93" y="270.5" width="0.9" height="0.9" fill="#ee1414"/>
<rect x="98.63" y="270.13" width="0.9" height="0.9" fill="#ee1414"/>
<rect x="113.88" y="258.44" width="0.9" height="0.9" fill="#ee1414"/>
<rect x="169.34" y="270.06" width="0.9" height="0.9" fill="#ee1414"/>
<rect x="79.54" y="258.46" width="0.9" height="0.9" fill="#ee1414"/>
<rect x="130.13" y="257.81" width="0.9" height="0.9" fill="#ee1414"/>
<rect x="78.45" y="269.76" width="0.9" height="0.9" fill="#ee1414"/>
<rect x="205.83" y="258.15" width="0.9" height="0.9" fill="#ee1414"/>
<rect x="123.38" y="257.92" width="0.9" height="0.9" fill="#ee1414"/>
<rect x="197.9" y="257.95" width="0.9" height="0.9" fill="#ee1414"/>
<rect x="140.91" y="269.56" width="0.9" height="0.9" fill="#ee1414"/>
<rect x="123.91" y="258.11" width="0.9" height="0.9" fill="#ee1414"/>
<rect x="192.3" y="270.1" width="0.9" height="0.9" fill="#ee1414"/>
<rect x="125.1" y="269.62" width="0.9" height="0.9" fill="#ee1414"/>
<rect x="103.22" y="269.98" width="0.9" height="0.9" fill="#ee1414"/>
<rect x="229.29" y="258.29" width="0.9" height="0.9" fill="#ee1414"/>
<rect x="95.05" y="258.7" width="0.9" height="0.9" fill="#ee1414"/>
<rect x="74.15" y="258.32" width="0.9" height="0.9" fill="#ee1414"/>
<rect x="145.84" y="258.03" width="0.9" height="0.9" fill="#ee1414"/>
<rect x="147.27" y="269.69" width="0.9" height="0.9" fill="#ee1414"/>
<rect x="146.32" y="258.39" width="0.9" height="0.9" fill="#ee1414"/>
<rect x="206.63" y="257.83" width="0.9" height="0.9" fill="#ee1414"/>
<rect x="120.04" y="258.12" width="0.9" height="0.9" fill="#ee1414"/>
<rect x="155.4" y="258.71" width="0.9" height="0.9" fill="#ee1414"/>
<rect x="222.8" y="258.67" width="0.9" height="0.9" fill="#ee1414"/>
<rect x="171.42" y="269.86" width="0.9" height="0.9" fill="#ee1414"/>
<rect x="114.99" y="269.87" width="0.9" height="0.9" fill="#ee1414"/>
<rect x="130.29" y="269.9" width="0.9" height="0.9" fill="#ee1414"/>
<rect x="127.65" y="258.07" width="0.9" height="0.9" fill="#ee1414"/>
<rect x="172.84" y="258.35" width="0.9" height="0.9" fill="#ee1414"/>
<rect x="98.53" y="270" width="0.9" height="0.9" fill="#ee1414"/>
<rect x="201.59" y="257.99" width="0.9" height="0.9" fill="#ee1414"/>
<rect x="63.45" y="257.74" width="0.9" height="0.9" fill="#ee1414"/>
<rect x="175.86" y="270.05" width="0.9" height="0.9" fill="#ee1414"/>
<rect x="139.74" y="258.61" width="0.9" height="0.9" fill="#ee1414"/>
<rect x="169.48" y="269.78" width="0.9" height="0.9" fill="#ee1414"/>
<rect x="169.36" y="258.13" width="0.9" height="0.9" fill="#ee1414"/>
<rect x="88.02" y="269.85" width="0.9" height="0.9" fill="#ee1414"/>
<rect x="153.21" y="258.27" width="0.9" height="0.9" fill="#ee1414"/>
<rect x="164.55" y="258.46" width="0.9" height="0.9" fill="#ee1414"/>
<rect x="175.22" y="270.18" width="0.9" height="0.9" fill="#ee1414"/>
<rect x="192.65" y="269.74" width="0.9" height="0.9" fill="#ee1414"/>
<rect x="134.61" y="270.12" width="0.9" height="0.9" fill="#ee1414"/>
<rect x="188.04" y="258.31" width="0.9" height="0.9" fill="#ee1414"/>
<rect x="225.3" y="270.22" width="0.9" height="0.9" fill="#ee1414"/>
<rect x="76.82" y="269.54" width="0.9" height="0.9" fill="#ee1414"/>
<rect x="219.13" y="270.3" width="0.9" height="0.9" fill="#ee1414"/>
<rect x="104.52" y="269.69" width="0.9" height="0.9" fill="#ee1414"/>
<rect x="200.89" y="269.52" width="0.9" height="0.9" fill="#ee1414"/>
<rect x="211.63" y="257.89" width="0.9" height="0.9" fill="#ee1414"/>
<rect x="176.92" y="270.45" width="0.9" height="0.9" fill="#ee1414"/>
<rect x="93.42" y="269.87" width="0.9" height="0.9" fill="#ee1414"/>
<rect x="62.98" y="258.73" width="0.9" height="0.9" fill="#ee1414"/>
<rect x="70.91" y="269.63" width="0.9" height="0.9" fill="#ee1414"/>
<rect x="85.97" y="258.49" width="0.9" height="0.9" fill="#ee1414"/>
<rect x="216.76" y="270.46" width="0.9" height="0.9" fill="#ee1414"/>
<rect x="228.75" y="257.92" width="0.9" height="0.9" fill="#ee1414"/>
<rect x="106.82" y="270.39" width="0.9" height="0.9" fill="#ee1414"/>
<rect x="184.43" y="258.7" width="0.9" height="0.9" fill="#ee1414"/>
<rect x="217.61" y="270.17" width="0.9" height="0.9" fill="#ee1414"/>
<rect x="206.76" y="258.03" width="0.9" height="0.9" fill="#ee1414"/>
<rect x="138.31" y="270" width="0.9" height="0.9" fill="#ee1414"/>
<rect x="92.33" y="269.81" width="0.9" height="0.9" fill="#ee1414"/>
<rect x="186.61" y="269.77" width="0.9" height="0.9" fill="#ee1414"/>
<rect x="178.05" y="258.55" width="0.9" height="0.9" fill="#ee1414"/>
<rect x="95.87" y="269.91" width="0.9" height="0.9" fill="#ee1414"/>
<rect x="146.19" y="269.53" width="0.9" height="0.9" fill="#ee1414"/>
<rect x="188.11" y="270.46" width="0.9" height="0.9" fill="#ee1414"/>
<rect x="119.89" y="258.42" width="0.9" height="0.9" fill="#ee1414"/>
<rect x="184.44" y="269.95" width="0.9" height="0.9" fill="#ee1414"/>
<rect x="148.74" y="257.79" width="0.9" height="0.9" fill="#ee1414"/>
<rect x="139.66" y="270.37" width="0.9" height="0.9" fill="#ee1414"/>
<rect x="92.53" y="269.89" width="0.9" height="0.9" fill="#ee1414"/>
<rect x="198.24" y="258.5" width="0.9" height="0.9" fill="#ee1414"/>
<rect x="167.82" y="258.39" width="0.9" height="0.9" fill="#ee1414"/>
<rect x="158.03" y="258.32" width="0.9" height="0.9" fill="#ee1414"/>
<rect x="58.83" y="269.78" width="0.9" height="0.9" fill="#ee1414"/>
<rect x="201.38" y="270.16" width="0.9" height="0.9" fill="#ee1414"/>
<rect x="166.18" y="257.95" width="0.9" height="0.9" fill="#ee1414"/>
<rect x="108.73" y="270.37" width="0.9" height="0.9" fill="#ee1414"/>
<rect x="175.14" y="269.98" width="0.9" height="0.9" fill="#ee1414"/>
<rect x="174.32" y="269.71" width="0.9" height="0.9" fill="#ee1414"/>
<rect x="75.82" y="258.24" width="0.9" height="0.9" fill="#ee1414"/>
<rect x="84.15" y="257.85" width="0.9" height="0.9" fill="#ee1414"/>
<rect x="125.23" y="258.6" width="0.9" height="0.9" fill="#ee1414"/>
<rect x="157.83" y="258.28" width="0.9" height="0.9" fill="#ee1414"/>
<rect x="150.99" y="258.25" width="0.9" height="0.9" fill="#ee1414"/>
<rect x="202.43" y="257.78" width="0.9" height="0.9" fill="#ee1414"/>
<rect x="92.77" y="257.96" width="0.9" height="0.9" fill="#ee1414"/>
<rect x="156.53" y="269.74" width="0.9" height="0.9" fill="#ee1414"/>
<rect x="192.84" y="258" width="0.9" height="0.9" fill="#ee1414"/>
<rect x="97.76" y="270.21" width="0.9" height="0.9" fill="#ee1414"/>
<rect x="122.42" y="258.73" width="0.9" height="0.9" fill="#ee1414"/>
<rect x="169.16" y="269.67" width="0.9" height="0.9" fill="#ee1414"/>
<rect x="153.22" y="269.61" width="0.9" height="0.9" fill="#ee1414"/>
<rect x="202.79" y="269.56" width="0.9" height="0.9" fill="#ee1414"/>
<rect x="101.23" y="258.52" width="0.9" height="0.9" fill="#ee1414"/>
<rect x="73.34" y="258.52" width="0.9" height="0.9" fill="#ee1414"/>
<rect x="110.12" y="258.39" width="0.9" height="0.9" fill="#ee1414"/>
<rect x="194.12" y="269.63" width="0.9" height="0.9" fill="#ee1414"/>
<rect x="96.94" y="258.44" width="0.9" height="0.9" fill="#ee1414"/>
<rect x="77.1" y="270.36" width="0.9" height="0.9" fill="#ee1414"/>
<rect x="229.78" y="258.76" width="0.9" height="0.9" fill="#ee1414"/>
<rect x="188.69" y="257.78" width="0.9" height="0.9" fill="#ee1414"/>
<rect x="126" y="258.72" width="0.9" height="0.9" fill="#ee1414"/>
<rect x="221.54" y="269.98" width="0.9" height="0.9" fill="#ee1414"/>
<rect x="133.68" y="270.41" width="0.9" height="0.9" fill="#ee1414"/>
<rect x="140.37" y="258.35" width="0.9" height="0.9" fill="#ee1414"/>
<rect x="211.81" y="258.07" width="0.9" height="0.9" fill="#ee1414"/>
<rect x="154.77" y="258.17" width="0.9" height="0.9" fill="#ee1414"/>
<rect x="100.66" y="270.45" width="0.9" height="0.9" fill="#ee1414"/>
<rect x="72.23" y="257.83" width="0.9" height="0.9" fill="#ee1414"/>
<rect x="226.76" y="258.11" width="0.9" height="0.9" fill="#ee1414"/>
<rect x="167.21" y="270.02" width="0.9" height="0.9" fill="#ee1414"/>
<rect x="81.03" y="258.02" width="0.9" height="0.9" fill="#ee1414"/>
<rect x="183.77" y="258.09" width="0.9" height="0.9" fill="#ee1414"/>
<rect x="171.79" y="265.94" width="0.75" height="0.75" fill="#fbd6d6"/>
<rect x="62.28" y="263.69" width="0.75" height="0.75" fill="#fbd6d6"/>
<rect x="114.56" y="265.31" width="0.75" height="0.75" fill="#fbd6d6"/>
<rect x="116.58" y="260.43" width="0.75" height="0.75" fill="#fbd6d6"/>
<rect x="174.14" y="262.08" width="0.75" height="0.75" fill="#fbd6d6"/>
<rect x="194.89" y="262.28" width="0.75" height="0.75" fill="#fbd6d6"/>
<rect x="152.66" y="267.5" width="0.75" height="0.75" fill="#fbd6d6"/>
<rect x="78.44" y="266.7" width="0.75" height="0.75" fill="#fbd6d6"/>
<rect x="70.25" y="268.84" width="0.75" height="0.75" fill="#fbd6d6"/>
<rect x="62.84" y="266.63" width="0.75" height="0.75" fill="#fbd6d6"/>
<rect x="122.1" y="260.97" width="0.75" height="0.75" fill="#fbd6d6"/>
<rect x="126.63" y="264.31" width="0.75" height="0.75" fill="#fbd6d6"/>
<rect x="130.08" y="260.37" width="0.75" height="0.75" fill="#fbd6d6"/>
<rect x="148.68" y="262.22" width="0.75" height="0.75" fill="#fbd6d6"/>
<rect x="225.35" y="263.08" width="0.75" height="0.75" fill="#fbd6d6"/>
<rect x="133.59" y="261.47" width="0.75" height="0.75" fill="#fbd6d6"/>
<rect x="225.62" y="262.45" width="0.75" height="0.75" fill="#fbd6d6"/>
<rect x="169.98" y="267.76" width="0.75" height="0.75" fill="#fbd6d6"/>
<rect x="126.32" y="266.96" width="0.75" height="0.75" fill="#fbd6d6"/>
<rect x="106.59" y="260.24" width="0.75" height="0.75" fill="#fbd6d6"/>
<rect x="65.78" y="263.77" width="0.75" height="0.75" fill="#fbd6d6"/>
<rect x="209.25" y="261.21" width="0.75" height="0.75" fill="#fbd6d6"/>
<rect x="134.48" y="267.03" width="0.75" height="0.75" fill="#fbd6d6"/>
<rect x="106.14" y="260.69" width="0.75" height="0.75" fill="#fbd6d6"/>
<rect x="148.07" y="263.52" width="0.75" height="0.75" fill="#fbd6d6"/>
<rect x="220.39" y="268.43" width="0.75" height="0.75" fill="#fbd6d6"/>
<rect x="99.56" y="264.93" width="0.75" height="0.75" fill="#fbd6d6"/>
<rect x="130.3" y="259.45" width="0.75" height="0.75" fill="#fbd6d6"/>
<rect x="135.15" y="268.62" width="0.75" height="0.75" fill="#fbd6d6"/>
<rect x="110.73" y="265.2" width="0.75" height="0.75" fill="#fbd6d6"/>
<rect x="181.03" y="259.76" width="0.75" height="0.75" fill="#fbd6d6"/>
<rect x="217.91" y="260.24" width="0.75" height="0.75" fill="#fbd6d6"/>
<rect x="110.52" y="266.54" width="0.75" height="0.75" fill="#fbd6d6"/>
<rect x="61.83" y="263" width="0.75" height="0.75" fill="#fbd6d6"/>
<rect x="80.35" y="264.02" width="0.75" height="0.75" fill="#fbd6d6"/>
<rect x="61.23" y="260.67" width="0.75" height="0.75" fill="#fbd6d6"/>
<rect x="96.87" y="259.95" width="0.75" height="0.75" fill="#fbd6d6"/>
<rect x="74.12" y="261.12" width="0.75" height="0.75" fill="#fbd6d6"/>
<rect x="147.8" y="260.52" width="0.75" height="0.75" fill="#fbd6d6"/>
<rect x="200.15" y="263.44" width="0.75" height="0.75" fill="#fbd6d6"/>
<rect x="101.95" y="261.61" width="0.75" height="0.75" fill="#fbd6d6"/>
<rect x="203.33" y="259.59" width="0.75" height="0.75" fill="#fbd6d6"/>
<rect x="186.53" y="260.11" width="0.75" height="0.75" fill="#fbd6d6"/>
<rect x="221.44" y="263.35" width="0.75" height="0.75" fill="#fbd6d6"/>
<rect x="161.59" y="268.08" width="0.75" height="0.75" fill="#fbd6d6"/>
<rect x="75.83" y="259.77" width="0.75" height="0.75" fill="#fbd6d6"/>
<rect x="178.14" y="265.21" width="0.75" height="0.75" fill="#fbd6d6"/>
<rect x="182.88" y="261.99" width="0.75" height="0.75" fill="#fbd6d6"/>
<rect x="144.21" y="261.04" width="0.75" height="0.75" fill="#fbd6d6"/>
<rect x="133.9" y="262.03" width="0.75" height="0.75" fill="#fbd6d6"/>
<rect x="159.53" y="262.21" width="0.75" height="0.75" fill="#fbd6d6"/>
<rect x="105.91" y="265.78" width="0.75" height="0.75" fill="#fbd6d6"/>
<rect x="73.26" y="267.43" width="0.75" height="0.75" fill="#fbd6d6"/>
<rect x="144.02" y="261.48" width="0.75" height="0.75" fill="#fbd6d6"/>
<rect x="78.33" y="264.39" width="0.75" height="0.75" fill="#fbd6d6"/>
<rect x="145.42" y="266.58" width="0.75" height="0.75" fill="#fbd6d6"/>
<rect x="122.99" y="263.39" width="0.75" height="0.75" fill="#fbd6d6"/>
<rect x="212.47" y="261.95" width="0.75" height="0.75" fill="#fbd6d6"/>
<rect x="227.73" y="268.38" width="0.75" height="0.75" fill="#fbd6d6"/>
<rect x="229.31" y="268.91" width="0.75" height="0.75" fill="#fbd6d6"/>
<rect x="102.86" y="267.57" width="0.75" height="0.75" fill="#fbd6d6"/>
<rect x="164.05" y="261.22" width="0.75" height="0.75" fill="#fbd6d6"/>
<rect x="230.57" y="265.84" width="0.75" height="0.75" fill="#fbd6d6"/>
<rect x="198.17" y="264.9" width="0.75" height="0.75" fill="#fbd6d6"/>
<rect x="72.22" y="268.08" width="0.75" height="0.75" fill="#fbd6d6"/>
<rect x="88.77" y="261.79" width="0.75" height="0.75" fill="#fbd6d6"/>
<rect x="164.8" y="261.12" width="0.75" height="0.75" fill="#fbd6d6"/>
<rect x="138.29" y="266.52" width="0.75" height="0.75" fill="#fbd6d6"/>
<rect x="75.06" y="265.97" width="0.75" height="0.75" fill="#fbd6d6"/>
<rect x="76.52" y="264.05" width="0.75" height="0.75" fill="#fbd6d6"/>
<rect x="170.53" y="266.25" width="0.75" height="0.75" fill="#fbd6d6"/>
<rect x="65.94" y="261.09" width="0.75" height="0.75" fill="#fbd6d6"/>
<rect x="224.13" y="263.17" width="0.75" height="0.75" fill="#fbd6d6"/>
<rect x="131.78" y="263" width="0.75" height="0.75" fill="#fbd6d6"/>
<rect x="178.59" y="266.8" width="0.75" height="0.75" fill="#fbd6d6"/>
<rect x="170.66" y="263.28" width="0.75" height="0.75" fill="#fbd6d6"/>
<rect x="156.74" y="264.46" width="0.75" height="0.75" fill="#fbd6d6"/>
<rect x="90.92" y="268.97" width="0.75" height="0.75" fill="#fbd6d6"/>
<rect x="224.94" y="267.19" width="0.75" height="0.75" fill="#fbd6d6"/>
<rect x="229.72" y="263.94" width="0.75" height="0.75" fill="#fbd6d6"/>
<rect x="203.25" y="261.6" width="0.75" height="0.75" fill="#fbd6d6"/>
<rect x="186.62" y="266.54" width="0.75" height="0.75" fill="#fbd6d6"/>
<rect x="220.4" y="267.77" width="0.75" height="0.75" fill="#fbd6d6"/>
<rect x="210.18" y="261.88" width="0.75" height="0.75" fill="#fbd6d6"/>
<rect x="194.33" y="264.04" width="0.75" height="0.75" fill="#fbd6d6"/>
<rect x="112.4" y="262.93" width="0.75" height="0.75" fill="#fbd6d6"/>
<rect x="196.31" y="267.86" width="0.75" height="0.75" fill="#fbd6d6"/>
<rect x="204.2" y="266.06" width="0.75" height="0.75" fill="#fbd6d6"/>
<rect x="87.88" y="260.72" width="0.75" height="0.75" fill="#fbd6d6"/>
<rect x="156.48" y="261.3" width="0.75" height="0.75" fill="#fbd6d6"/>
<rect x="116.56" y="260.17" width="0.75" height="0.75" fill="#fbd6d6"/>
<rect x="85.2" y="266.56" width="0.75" height="0.75" fill="#fbd6d6"/>
<rect x="97.08" y="267.92" width="0.75" height="0.75" fill="#fbd6d6"/>
<rect x="115.27" y="267.93" width="0.75" height="0.75" fill="#fbd6d6"/>
<rect x="110.7" y="261.88" width="0.75" height="0.75" fill="#fbd6d6"/>
<rect x="126.61" y="259.23" width="0.75" height="0.75" fill="#fbd6d6"/>
<rect x="133.63" y="263.05" width="0.75" height="0.75" fill="#fbd6d6"/>
<rect x="60.68" y="268.06" width="0.75" height="0.75" fill="#fbd6d6"/>
<rect x="123.22" y="259.1" width="0.75" height="0.75" fill="#fbd6d6"/>
<rect x="224.16" y="261.48" width="0.75" height="0.75" fill="#fbd6d6"/>
<rect x="102.14" y="259.35" width="0.75" height="0.75" fill="#fbd6d6"/>
<rect x="75.67" y="266.48" width="0.75" height="0.75" fill="#fbd6d6"/>
<rect x="158.9" y="264.34" width="0.75" height="0.75" fill="#fbd6d6"/>
<rect x="100.97" y="262.08" width="0.75" height="0.75" fill="#fbd6d6"/>
<rect x="225.84" y="262.97" width="0.75" height="0.75" fill="#fbd6d6"/>
<rect x="229.18" y="268.32" width="0.75" height="0.75" fill="#fbd6d6"/>
<rect x="79.99" y="267.92" width="0.75" height="0.75" fill="#fbd6d6"/>
<rect x="62.13" y="266.49" width="0.75" height="0.75" fill="#fbd6d6"/>
<rect x="198.15" y="266.33" width="0.75" height="0.75" fill="#fbd6d6"/>
<rect x="153.34" y="267.55" width="0.75" height="0.75" fill="#fbd6d6"/>
<rect x="85.13" y="264.71" width="0.75" height="0.75" fill="#fbd6d6"/>
<rect x="104.36" y="263.25" width="0.75" height="0.75" fill="#fbd6d6"/>
<rect x="91.5" y="266.47" width="0.75" height="0.75" fill="#fbd6d6"/>
<rect x="157.36" y="267.2" width="0.75" height="0.75" fill="#fbd6d6"/>
<rect x="166.87" y="265.33" width="0.75" height="0.75" fill="#fbd6d6"/>
<rect x="217.53" y="267.55" width="0.75" height="0.75" fill="#fbd6d6"/>
<rect x="156.27" y="262.49" width="0.75" height="0.75" fill="#fbd6d6"/>
<rect x="218.55" y="262.96" width="0.75" height="0.75" fill="#fbd6d6"/>
<rect x="76.12" y="262.57" width="0.75" height="0.75" fill="#fbd6d6"/>
<rect x="180.35" y="268.79" width="0.75" height="0.75" fill="#fbd6d6"/>
<rect x="169.88" y="265.99" width="0.75" height="0.75" fill="#fbd6d6"/>
<rect x="220.19" y="267.19" width="0.75" height="0.75" fill="#fbd6d6"/>
<rect x="135.34" y="263.9" width="0.75" height="0.75" fill="#fbd6d6"/>
<rect x="189.54" y="262.4" width="0.75" height="0.75" fill="#fbd6d6"/>
<rect x="77.44" y="265.54" width="0.75" height="0.75" fill="#fbd6d6"/>
<rect x="198.05" y="261.68" width="0.75" height="0.75" fill="#fbd6d6"/>
<rect x="176.44" y="268.38" width="0.75" height="0.75" fill="#fbd6d6"/>
<rect x="80.52" y="260.51" width="0.75" height="0.75" fill="#fbd6d6"/>
<rect x="143.54" y="262.58" width="0.75" height="0.75" fill="#fbd6d6"/>
<rect x="222.27" y="269.47" width="0.75" height="0.75" fill="#fbd6d6"/>
<rect x="135.37" y="267.35" width="0.75" height="0.75" fill="#fbd6d6"/>
<rect x="167.47" y="260.9" width="0.75" height="0.75" fill="#fbd6d6"/>
<rect x="226.14" y="260.91" width="0.75" height="0.75" fill="#fbd6d6"/>
<rect x="71.61" y="263.81" width="0.75" height="0.75" fill="#fbd6d6"/>
<rect x="61.58" y="264.1" width="0.75" height="0.75" fill="#fbd6d6"/>
<rect x="129.58" y="269.03" width="0.75" height="0.75" fill="#fbd6d6"/>
<rect x="129.85" y="267.94" width="0.75" height="0.75" fill="#fbd6d6"/>
<rect x="193.01" y="265.2" width="0.75" height="0.75" fill="#fbd6d6"/>
<rect x="99.52" y="262.27" width="0.75" height="0.75" fill="#fbd6d6"/>
<rect x="143.28" y="263.21" width="0.75" height="0.75" fill="#fbd6d6"/>
<rect x="169.87" y="264.36" width="0.75" height="0.75" fill="#fbd6d6"/>
<rect x="114.22" y="265.41" width="0.75" height="0.75" fill="#fbd6d6"/>
<rect x="230.4" y="261.21" width="0.75" height="0.75" fill="#fbd6d6"/>
<rect x="116.4" y="259.23" width="0.75" height="0.75" fill="#fbd6d6"/>
<rect x="74.68" y="259.68" width="0.75" height="0.75" fill="#fbd6d6"/>
<rect x="131.45" y="267.8" width="0.75" height="0.75" fill="#fbd6d6"/>
<rect x="178.86" y="269.15" width="0.75" height="0.75" fill="#fbd6d6"/>
<rect x="202.87" y="265.19" width="0.75" height="0.75" fill="#fbd6d6"/>
<rect x="158.62" y="259.23" width="0.75" height="0.75" fill="#fbd6d6"/>
<rect x="124.66" y="261.82" width="0.75" height="0.75" fill="#fbd6d6"/>
<rect x="165.57" y="259.78" width="0.75" height="0.75" fill="#fbd6d6"/>
<rect x="152.05" y="263.01" width="0.75" height="0.75" fill="#fbd6d6"/>
<rect x="143.37" y="263.31" width="0.75" height="0.75" fill="#fbd6d6"/>
<rect x="76.13" y="266.71" width="0.75" height="0.75" fill="#fbd6d6"/>
<rect x="196.56" y="265.32" width="0.75" height="0.75" fill="#fbd6d6"/>
<rect x="78.47" y="265.33" width="0.75" height="0.75" fill="#fbd6d6"/>
<rect x="208.75" y="269.36" width="0.75" height="0.75" fill="#fbd6d6"/>
<rect x="189.34" y="259.58" width="0.75" height="0.75" fill="#fbd6d6"/>
<rect x="210.04" y="266.02" width="0.75" height="0.75" fill="#fbd6d6"/>
<rect x="106.21" y="268.67" width="0.75" height="0.75" fill="#fbd6d6"/>
<rect x="201" y="268.41" width="0.75" height="0.75" fill="#fbd6d6"/>
<rect x="101.2" y="265.1" width="0.75" height="0.75" fill="#fbd6d6"/>
<rect x="123.86" y="262.18" width="0.75" height="0.75" fill="#fbd6d6"/>
<rect x="189.81" y="265.51" width="0.75" height="0.75" fill="#fbd6d6"/>
<rect x="115.74" y="264.75" width="0.75" height="0.75" fill="#fbd6d6"/>
<rect x="218.64" y="264.99" width="0.75" height="0.75" fill="#fbd6d6"/>
<rect x="216.08" y="264.99" width="0.75" height="0.75" fill="#fbd6d6"/>
<rect x="229.66" y="259.4" width="0.75" height="0.75" fill="#fbd6d6"/>
<rect x="137.85" y="264.84" width="0.75" height="0.75" fill="#fbd6d6"/>
<rect x="183.88" y="269.17" width="0.75" height="0.75" fill="#fbd6d6"/>
<rect x="166.02" y="264.07" width="0.75" height="0.75" fill="#fbd6d6"/>
<rect x="167.91" y="264.65" width="0.75" height="0.75" fill="#fbd6d6"/>
<rect x="180.1" y="268.95" width="0.75" height="0.75" fill="#fbd6d6"/>
<rect x="60.9" y="262.43" width="0.75" height="0.75" fill="#fbd6d6"/>
<rect x="209.67" y="259.72" width="0.75" height="0.75" fill="#fbd6d6"/>
<rect x="194.82" y="259.42" width="0.75" height="0.75" fill="#fbd6d6"/>
<rect x="170.31" y="267.42" width="0.75" height="0.75" fill="#fbd6d6"/>
<rect x="99.57" y="263.06" width="0.75" height="0.75" fill="#fbd6d6"/>
<rect x="97.56" y="266.43" width="0.75" height="0.75" fill="#fbd6d6"/>
<rect x="149.72" y="265.4" width="0.75" height="0.75" fill="#fbd6d6"/>
<rect x="114.65" y="265.2" width="0.75" height="0.75" fill="#fbd6d6"/>
<rect x="223.14" y="267.2" width="0.75" height="0.75" fill="#fbd6d6"/>
<rect x="222.68" y="261.67" width="0.75" height="0.75" fill="#fbd6d6"/>
<rect x="147.51" y="263.11" width="0.75" height="0.75" fill="#fbd6d6"/>
<rect x="118.2" y="267.46" width="0.75" height="0.75" fill="#fbd6d6"/>
<rect x="88.68" y="264.91" width="0.75" height="0.75" fill="#fbd6d6"/>
<rect x="192.02" y="268.83" width="0.75" height="0.75" fill="#fbd6d6"/>
<rect x="61.71" y="261.92" width="0.75" height="0.75" fill="#fbd6d6"/>
<rect x="143.55" y="268.84" width="0.75" height="0.75" fill="#fbd6d6"/>
<rect x="86.65" y="267.84" width="0.75" height="0.75" fill="#fbd6d6"/>
<rect x="127.01" y="264.8" width="0.75" height="0.75" fill="#fbd6d6"/>
<rect x="218.58" y="259.77" width="0.75" height="0.75" fill="#fbd6d6"/>
<rect x="115.34" y="260.72" width="0.75" height="0.75" fill="#fbd6d6"/>
<rect x="81.58" y="262.26" width="0.75" height="0.75" fill="#fbd6d6"/>
<rect x="179.38" y="265.14" width="0.75" height="0.75" fill="#fbd6d6"/>
<rect x="79.51" y="267.44" width="0.75" height="0.75" fill="#fbd6d6"/>
<rect x="146.01" y="260.59" width="0.75" height="0.75" fill="#fbd6d6"/>
<rect x="200.03" y="267.64" width="0.75" height="0.75" fill="#fbd6d6"/>
<rect x="95.89" y="268.87" width="0.75" height="0.75" fill="#fbd6d6"/>
<rect x="198.29" y="261.48" width="0.75" height="0.75" fill="#fbd6d6"/>
<rect x="58.67" y="268.12" width="0.75" height="0.75" fill="#fbd6d6"/>
<rect x="200.99" y="260.11" width="0.75" height="0.75" fill="#fbd6d6"/>
<rect x="190.71" y="267.14" width="0.75" height="0.75" fill="#fbd6d6"/>
<rect x="167.82" y="267.76" width="0.75" height="0.75" fill="#fbd6d6"/>
<rect x="228.38" y="262.51" width="0.75" height="0.75" fill="#fbd6d6"/>
<rect x="202.35" y="268.68" width="0.75" height="0.75" fill="#fbd6d6"/>
<rect x="112.59" y="266.21" width="0.75" height="0.75" fill="#fbd6d6"/>
<rect x="176.55" y="267.93" width="0.75" height="0.75" fill="#fbd6d6"/>
<rect x="156.29" y="261.97" width="0.75" height="0.75" fill="#fbd6d6"/>
<rect x="101.91" y="264.75" width="0.75" height="0.75" fill="#fbd6d6"/>
<rect x="81.85" y="268.04" width="0.75" height="0.75" fill="#fbd6d6"/>
<rect x="211.89" y="261.62" width="0.75" height="0.75" fill="#fbd6d6"/>
<rect x="178.77" y="266.1" width="0.75" height="0.75" fill="#fbd6d6"/>
<rect x="79.52" y="267.2" width="0.75" height="0.75" fill="#fbd6d6"/>
<rect x="190.69" y="262.29" width="0.75" height="0.75" fill="#fbd6d6"/>
<rect x="75.43" y="262.03" width="0.75" height="0.75" fill="#fbd6d6"/>
<rect x="191.6" y="263.95" width="0.75" height="0.75" fill="#fbd6d6"/>
<rect x="199.14" y="260.76" width="0.75" height="0.75" fill="#fbd6d6"/>
<rect x="76.87" y="262.73" width="0.75" height="0.75" fill="#fbd6d6"/>
<rect x="210.28" y="260.78" width="0.75" height="0.75" fill="#fbd6d6"/>
<rect x="71.16" y="266.93" width="0.75" height="0.75" fill="#fbd6d6"/>
<rect x="74.25" y="266.04" width="0.75" height="0.75" fill="#fbd6d6"/>
<rect x="72.9" y="261.67" width="0.75" height="0.75" fill="#fbd6d6"/>
<rect x="172.97" y="268.19" width="0.75" height="0.75" fill="#fbd6d6"/>
<rect x="129.09" y="263.78" width="0.75" height="0.75" fill="#fbd6d6"/>
<rect x="63.86" y="262.64" width="0.75" height="0.75" fill="#fbd6d6"/>
<rect x="100.25" y="267.3" width="0.75" height="0.75" fill="#fbd6d6"/>
<rect x="181.71" y="267.26" width="0.75" height="0.75" fill="#fbd6d6"/>
<rect x="150.22" y="266.37" width="0.75" height="0.75" fill="#fbd6d6"/>
<rect x="80.45" y="263.1" width="0.75" height="0.75" fill="#fbd6d6"/>
<rect x="109.03" y="262.03" width="0.75" height="0.75" fill="#fbd6d6"/>
<rect x="186.01" y="261.33" width="0.75" height="0.75" fill="#fbd6d6"/>
<rect x="114.62" y="262.04" width="0.75" height="0.75" fill="#fbd6d6"/>
<rect x="207.54" y="265.74" width="0.75" height="0.75" fill="#fbd6d6"/>
<rect x="141.41" y="263.05" width="0.75" height="0.75" fill="#fbd6d6"/>
<rect x="217.48" y="268.87" width="0.75" height="0.75" fill="#fbd6d6"/>
<rect x="136.06" y="265" width="0.75" height="0.75" fill="#fbd6d6"/>
<rect x="207.28" y="261.77" width="0.75" height="0.75" fill="#fbd6d6"/>
<rect x="103.11" y="260.17" width="0.75" height="0.75" fill="#fbd6d6"/>
<rect x="145.09" y="267.09" width="0.75" height="0.75" fill="#fbd6d6"/>
<rect x="85.5" y="263.6" width="0.75" height="0.75" fill="#fbd6d6"/>
<rect x="229.39" y="264.1" width="0.75" height="0.75" fill="#fbd6d6"/>
<rect x="124.46" y="267.83" width="0.75" height="0.75" fill="#fbd6d6"/>
<rect x="212.39" y="263.01" width="0.75" height="0.75" fill="#fbd6d6"/>
<rect x="79.81" y="265.72" width="0.75" height="0.75" fill="#fbd6d6"/>
<rect x="186.22" y="268.7" width="0.75" height="0.75" fill="#fbd6d6"/>
<rect x="172.36" y="262.3" width="0.75" height="0.75" fill="#fbd6d6"/>
<rect x="147.33" y="262.09" width="0.75" height="0.75" fill="#fbd6d6"/>
<rect x="135.44" y="263.97" width="0.75" height="0.75" fill="#fbd6d6"/>
<rect x="215.86" y="268.52" width="0.75" height="0.75" fill="#fbd6d6"/>
<rect x="218.29" y="264.07" width="0.75" height="0.75" fill="#fbd6d6"/>
<rect x="224.86" y="260.54" width="0.75" height="0.75" fill="#fbd6d6"/>
<rect x="217.39" y="265.76" width="0.75" height="0.75" fill="#fbd6d6"/>
<rect x="209.01" y="263.4" width="0.75" height="0.75" fill="#fbd6d6"/>
<rect x="229.43" y="259.36" width="0.75" height="0.75" fill="#fbd6d6"/>
<rect x="204.75" y="267.62" width="0.75" height="0.75" fill="#fbd6d6"/>
<rect x="123.05" y="267.72" width="0.75" height="0.75" fill="#fbd6d6"/>
<rect x="95.35" y="266.93" width="0.75" height="0.75" fill="#fbd6d6"/>
<rect x="139.31" y="263.38" width="0.75" height="0.75" fill="#fbd6d6"/>
<rect x="92.41" y="267.42" width="0.75" height="0.75" fill="#fbd6d6"/>
<rect x="184.59" y="260.03" width="0.75" height="0.75" fill="#fbd6d6"/>
<rect x="227.21" y="261.4" width="0.75" height="0.75" fill="#fbd6d6"/>
<rect x="123.23" y="263.41" width="0.75" height="0.75" fill="#fbd6d6"/>
<rect x="157.95" y="268.36" width="0.75" height="0.75" fill="#fbd6d6"/>
<rect x="221.54" y="265.69" width="0.75" height="0.75" fill="#fbd6d6"/>
<rect x="121.56" y="260.22" width="0.75" height="0.75" fill="#fbd6d6"/>
<rect x="70.37" y="264.5" width="0.75" height="0.75" fill="#fbd6d6"/>
<rect x="159.11" y="263.75" width="0.75" height="0.75" fill="#fbd6d6"/>
<rect x="227.97" y="263.4" width="0.75" height="0.75" fill="#fbd6d6"/>
<rect x="119.05" y="263.45" width="0.75" height="0.75" fill="#fbd6d6"/>
<rect x="88.13" y="268.87" width="0.75" height="0.75" fill="#fbd6d6"/>
<rect x="160.44" y="264.74" width="0.75" height="0.75" fill="#fbd6d6"/>
<rect x="131.96" y="261.7" width="0.75" height="0.75" fill="#fbd6d6"/>
<rect x="112.91" y="264.23" width="0.75" height="0.75" fill="#fbd6d6"/>
<rect x="135.48" y="269.28" width="0.75" height="0.75" fill="#fbd6d6"/>
<rect x="155.63" y="261.25" width="0.75" height="0.75" fill="#fbd6d6"/>
<rect x="67.76" y="260.76" width="0.75" height="0.75" fill="#fbd6d6"/>
<rect x="118.15" y="267.24" width="0.75" height="0.75" fill="#fbd6d6"/>
<rect x="211.89" y="261.56" width="0.75" height="0.75" fill="#fbd6d6"/>
<rect x="193.1" y="263.69" width="0.75" height="0.75" fill="#fbd6d6"/>
<rect x="151.22" y="264.64" width="0.75" height="0.75" fill="#fbd6d6"/>
<rect x="65.84" y="259.79" width="0.75" height="0.75" fill="#fbd6d6"/>
<rect x="173.65" y="266.27" width="0.75" height="0.75" fill="#fbd6d6"/>
<rect x="124.11" y="268.66" width="0.75" height="0.75" fill="#fbd6d6"/>
<rect x="199.94" y="262.24" width="0.75" height="0.75" fill="#fbd6d6"/>
<rect x="70.05" y="264.85" width="0.75" height="0.75" fill="#fbd6d6"/>
<rect x="171.37" y="261.43" width="0.75" height="0.75" fill="#fbd6d6"/>
<rect x="66.06" y="264.17" width="0.75" height="0.75" fill="#fbd6d6"/>
<rect x="64.4" y="266.76" width="0.75" height="0.75" fill="#fbd6d6"/>
<rect x="166.4" y="262" width="0.75" height="0.75" fill="#fbd6d6"/>
<rect x="135.38" y="261.52" width="0.75" height="0.75" fill="#fbd6d6"/>
<rect x="90.57" y="260.99" width="0.75" height="0.75" fill="#fbd6d6"/>
<rect x="199.2" y="263.81" width="0.75" height="0.75" fill="#fbd6d6"/>
<rect x="181.92" y="262.71" width="0.75" height="0.75" fill="#fbd6d6"/>
<rect x="197.68" y="265.3" width="0.75" height="0.75" fill="#fbd6d6"/>
<rect x="171.32" y="263.18" width="0.75" height="0.75" fill="#fbd6d6"/>
<rect x="155.41" y="261.08" width="0.75" height="0.75" fill="#fbd6d6"/>
<rect x="226.47" y="266.09" width="0.75" height="0.75" fill="#fbd6d6"/>
<rect x="150.35" y="265.74" width="0.75" height="0.75" fill="#fbd6d6"/>
<rect x="75.78" y="262.58" width="0.75" height="0.75" fill="#fbd6d6"/>
<rect x="98.29" y="267.87" width="0.75" height="0.75" fill="#fbd6d6"/>
<rect x="60.72" y="263.72" width="0.75" height="0.75" fill="#fbd6d6"/>
<rect x="208.33" y="267.24" width="0.75" height="0.75" fill="#fbd6d6"/>
<rect x="182.5" y="262.24" width="0.75" height="0.75" fill="#fbd6d6"/>
<rect x="98.57" y="266.42" width="0.75" height="0.75" fill="#fbd6d6"/>
<rect x="110.02" y="266.62" width="0.75" height="0.75" fill="#fbd6d6"/>
<rect x="118.87" y="267.01" width="0.75" height="0.75" fill="#fbd6d6"/>
<rect x="157.35" y="267.58" width="0.75" height="0.75" fill="#fbd6d6"/>
<rect x="228.52" y="263.04" width="0.75" height="0.75" fill="#fbd6d6"/>
<rect x="228.68" y="259.2" width="0.75" height="0.75" fill="#fbd6d6"/>
<rect x="209.83" y="259.41" width="0.75" height="0.75" fill="#fbd6d6"/>
<rect x="152.56" y="263.14" width="0.75" height="0.75" fill="#fbd6d6"/>
<rect x="191.3" y="262.38" width="0.75" height="0.75" fill="#fbd6d6"/>
<rect x="94.42" y="267.25" width="0.75" height="0.75" fill="#fbd6d6"/>
<rect x="153.43" y="266.96" width="0.75" height="0.75" fill="#fbd6d6"/>
<rect x="142.91" y="259.48" width="0.75" height="0.75" fill="#fbd6d6"/>
<rect x="191.53" y="261.37" width="0.75" height="0.75" fill="#fbd6d6"/>
<rect x="139.89" y="259.11" width="0.75" height="0.75" fill="#fbd6d6"/>
<rect x="103.18" y="266.02" width="0.75" height="0.75" fill="#fbd6d6"/>
<rect x="190.32" y="265.72" width="0.75" height="0.75" fill="#fbd6d6"/>
<rect x="134.96" y="266.72" width="0.75" height="0.75" fill="#fbd6d6"/>
<rect x="173.88" y="261.24" width="0.75" height="0.75" fill="#fbd6d6"/>
<rect x="150.81" y="265.32" width="0.75" height="0.75" fill="#fbd6d6"/>
<rect x="184.21" y="261.16" width="0.75" height="0.75" fill="#fbd6d6"/>
<rect x="112.1" y="262.67" width="0.75" height="0.75" fill="#fbd6d6"/>
<rect x="75.05" y="262.72" width="0.75" height="0.75" fill="#fbd6d6"/>
<rect x="184.35" y="265.11" width="0.75" height="0.75" fill="#fbd6d6"/>
<rect x="88.33" y="266.71" width="0.75" height="0.75" fill="#fbd6d6"/>
<rect x="78.64" y="266.91" width="0.75" height="0.75" fill="#fbd6d6"/>
<rect x="83.98" y="260.1" width="0.75" height="0.75" fill="#fbd6d6"/>
<rect x="101.92" y="264.46" width="0.75" height="0.75" fill="#fbd6d6"/>
<rect x="105.08" y="268.29" width="0.75" height="0.75" fill="#fbd6d6"/>
<rect x="220.37" y="262.05" width="0.75" height="0.75" fill="#fbd6d6"/>
<rect x="187.86" y="266.33" width="0.75" height="0.75" fill="#fbd6d6"/>
<rect x="155.3" y="261.75" width="0.75" height="0.75" fill="#fbd6d6"/>
<rect x="222.3" y="269.05" width="0.75" height="0.75" fill="#fbd6d6"/>
<rect x="60.77" y="262.53" width="0.75" height="0.75" fill="#fbd6d6"/>
<rect x="113.88" y="261.16" width="0.75" height="0.75" fill="#fbd6d6"/>
<rect x="132.72" y="268.44" width="0.75" height="0.75" fill="#fbd6d6"/>
<rect x="62.62" y="267.79" width="0.75" height="0.75" fill="#fbd6d6"/>
<rect x="111.8" y="259.24" width="0.75" height="0.75" fill="#fbd6d6"/>
<rect x="213.7" y="261.93" width="0.75" height="0.75" fill="#fbd6d6"/>
<rect x="95.09" y="260.31" width="0.75" height="0.75" fill="#fbd6d6"/>
<rect x="121.85" y="260.34" width="0.75" height="0.75" fill="#fbd6d6"/>
<rect x="89.5" y="261.7" width="0.75" height="0.75" fill="#fbd6d6"/>
<rect x="158.26" y="263.74" width="0.75" height="0.75" fill="#fbd6d6"/>
<rect x="111.12" y="264.57" width="0.75" height="0.75" fill="#fbd6d6"/>
<rect x="192.04" y="266.63" width="0.75" height="0.75" fill="#fbd6d6"/>
<rect x="117.76" y="268.65" width="0.75" height="0.75" fill="#fbd6d6"/>
<rect x="194.99" y="264.94" width="0.75" height="0.75" fill="#fbd6d6"/>
<rect x="140.53" y="262.53" width="0.75" height="0.75" fill="#fbd6d6"/>
<rect x="81.63" y="268.31" width="0.75" height="0.75" fill="#fbd6d6"/>
<rect x="163.44" y="260.13" width="0.75" height="0.75" fill="#fbd6d6"/>
<rect x="218.15" y="268.33" width="0.75" height="0.75" fill="#fbd6d6"/>
<rect x="64.3" y="266.39" width="0.75" height="0.75" fill="#fbd6d6"/>
<rect x="99.59" y="264.67" width="0.75" height="0.75" fill="#fbd6d6"/>
<rect x="202.4" y="262.75" width="0.75" height="0.75" fill="#fbd6d6"/>
<rect x="144.46" y="266.02" width="0.75" height="0.75" fill="#fbd6d6"/>
<rect x="91.68" y="265.62" width="0.75" height="0.75" fill="#fbd6d6"/>
<rect x="131.85" y="269.32" width="0.75" height="0.75" fill="#fbd6d6"/>
<rect x="90.87" y="266.49" width="0.75" height="0.75" fill="#fbd6d6"/>
<rect x="65.6" y="261.95" width="0.75" height="0.75" fill="#fbd6d6"/>
<rect x="78.81" y="260.65" width="0.75" height="0.75" fill="#fbd6d6"/>
<rect x="149.62" y="260.91" width="0.75" height="0.75" fill="#fbd6d6"/>
<rect x="195.6" y="260.1" width="0.75" height="0.75" fill="#fbd6d6"/>
<rect x="165.97" y="268.05" width="0.75" height="0.75" fill="#fbd6d6"/>
<rect x="80.33" y="261.36" width="0.75" height="0.75" fill="#fbd6d6"/>
<rect x="190.45" y="263.99" width="0.75" height="0.75" fill="#fbd6d6"/>
<rect x="219.3" y="262.61" width="0.75" height="0.75" fill="#fbd6d6"/>
<rect x="127.15" y="269.06" width="0.75" height="0.75" fill="#fbd6d6"/>
<rect x="117.82" y="269.15" width="0.75" height="0.75" fill="#fbd6d6"/>
<rect x="212.2" y="261.18" width="0.75" height="0.75" fill="#fbd6d6"/>
<rect x="152.65" y="268.89" width="0.75" height="0.75" fill="#fbd6d6"/>
<rect x="78.75" y="267.93" width="0.75" height="0.75" fill="#fbd6d6"/>
<rect x="192.05" y="266.89" width="0.75" height="0.75" fill="#fbd6d6"/>
<rect x="162.14" y="260.14" width="0.75" height="0.75" fill="#fbd6d6"/>
<rect x="223.82" y="260.16" width="0.75" height="0.75" fill="#fbd6d6"/>
<rect x="193.66" y="266.62" width="0.75" height="0.75" fill="#fbd6d6"/>
<rect x="113.25" y="266.22" width="0.75" height="0.75" fill="#fbd6d6"/>
<rect x="129.33" y="266.91" width="0.75" height="0.75" fill="#fbd6d6"/>
<rect x="65.98" y="268.81" width="0.75" height="0.75" fill="#fbd6d6"/>
<rect x="124.82" y="267.45" width="0.75" height="0.75" fill="#fbd6d6"/>
<rect x="139.85" y="267.55" width="0.75" height="0.75" fill="#fbd6d6"/>
<rect x="110.45" y="264.77" width="0.75" height="0.75" fill="#fbd6d6"/>
<rect x="62.85" y="264.19" width="0.75" height="0.75" fill="#fbd6d6"/>
<rect x="72.16" y="268.04" width="0.75" height="0.75" fill="#fbd6d6"/>
<rect x="175.34" y="263.52" width="0.75" height="0.75" fill="#fbd6d6"/>
<rect x="226.57" y="268.95" width="0.75" height="0.75" fill="#fbd6d6"/>
<rect x="223.54" y="259.96" width="0.75" height="0.75" fill="#fbd6d6"/>
<rect x="179.96" y="266.67" width="0.75" height="0.75" fill="#fbd6d6"/>
<rect x="163.02" y="259.26" width="0.75" height="0.75" fill="#fbd6d6"/>
<rect x="217.87" y="263.66" width="0.75" height="0.75" fill="#fbd6d6"/>
<rect x="161.14" y="267.57" width="0.75" height="0.75" fill="#fbd6d6"/>
<rect x="105.97" y="259.4" width="0.75" height="0.75" fill="#fbd6d6"/>
<rect x="217.78" y="261.91" width="0.75" height="0.75" fill="#fbd6d6"/>
<rect x="65.59" y="260.52" width="0.75" height="0.75" fill="#fbd6d6"/>
<rect x="230.11" y="266.79" width="0.75" height="0.75" fill="#fbd6d6"/>
<rect x="94.71" y="260.62" width="0.75" height="0.75" fill="#fbd6d6"/>
<rect x="213.36" y="266.01" width="0.75" height="0.75" fill="#fbd6d6"/>
<rect x="159.07" y="260.46" width="0.75" height="0.75" fill="#fbd6d6"/>
<rect x="129.8" y="268.94" width="0.75" height="0.75" fill="#fbd6d6"/>
<rect x="59.07" y="263.46" width="0.75" height="0.75" fill="#fbd6d6"/>
<rect x="68.34" y="269.48" width="0.75" height="0.75" fill="#fbd6d6"/>
<rect x="76.51" y="269.02" width="0.75" height="0.75" fill="#fbd6d6"/>
<rect x="203.61" y="266.71" width="0.75" height="0.75" fill="#fbd6d6"/>
<rect x="65.79" y="266.33" width="0.75" height="0.75" fill="#fbd6d6"/>
<rect x="143.54" y="264.21" width="0.75" height="0.75" fill="#fbd6d6"/>
<rect x="83.55" y="264.43" width="0.75" height="0.75" fill="#fbd6d6"/>
<rect x="196.85" y="260.47" width="0.75" height="0.75" fill="#fbd6d6"/>
<rect x="209.63" y="263.47" width="0.75" height="0.75" fill="#fbd6d6"/>
<rect x="104.41" y="261.59" width="0.75" height="0.75" fill="#fbd6d6"/>
<rect x="137.81" y="265.83" width="0.75" height="0.75" fill="#fbd6d6"/>
<rect x="156.8" y="268.36" width="0.75" height="0.75" fill="#fbd6d6"/>
<rect x="146.73" y="264.43" width="0.75" height="0.75" fill="#fbd6d6"/>
<rect x="229.09" y="261.34" width="0.75" height="0.75" fill="#fbd6d6"/>
<rect x="61.36" y="262.52" width="0.75" height="0.75" fill="#fbd6d6"/>
<rect x="112.52" y="260.39" width="0.75" height="0.75" fill="#fbd6d6"/>
<rect x="130.63" y="259.46" width="0.75" height="0.75" fill="#fbd6d6"/>
<rect x="217.34" y="264.14" width="0.75" height="0.75" fill="#fbd6d6"/>
<rect x="210.09" y="266.35" width="0.75" height="0.75" fill="#fbd6d6"/>
<rect x="184.4" y="266.99" width="0.75" height="0.75" fill="#fbd6d6"/>
<rect x="110.53" y="266.68" width="0.75" height="0.75" fill="#fbd6d6"/>
<rect x="94.05" y="264.87" width="0.75" height="0.75" fill="#fbd6d6"/>
<rect x="161.2" y="267.17" width="0.75" height="0.75" fill="#fbd6d6"/>
<rect x="87.44" y="262.68" width="0.75" height="0.75" fill="#fbd6d6"/>
<rect x="200.69" y="267.47" width="0.75" height="0.75" fill="#fbd6d6"/>
<rect x="227.19" y="260.33" width="0.75" height="0.75" fill="#fbd6d6"/>
<rect x="94.75" y="260.21" width="0.75" height="0.75" fill="#fbd6d6"/>
<rect x="183.34" y="266.85" width="0.75" height="0.75" fill="#fbd6d6"/>
<rect x="170.3" y="267.21" width="0.75" height="0.75" fill="#fbd6d6"/>
<rect x="147.5" y="264.95" width="0.75" height="0.75" fill="#fbd6d6"/>
<rect x="217.38" y="265.84" width="0.75" height="0.75" fill="#fbd6d6"/>
<rect x="171.66" y="265.22" width="0.75" height="0.75" fill="#fbd6d6"/>
<rect x="143.7" y="266.97" width="0.75" height="0.75" fill="#fbd6d6"/>
<rect x="157.27" y="260.44" width="0.75" height="0.75" fill="#fbd6d6"/>
<rect x="131.96" y="263.48" width="0.75" height="0.75" fill="#fbd6d6"/>
<rect x="133.07" y="264.93" width="0.75" height="0.75" fill="#fbd6d6"/>
<rect x="120.9" y="263.17" width="0.75" height="0.75" fill="#fbd6d6"/>
<rect x="132.13" y="262.96" width="0.75" height="0.75" fill="#fbd6d6"/>
<rect x="226.15" y="260.04" width="0.75" height="0.75" fill="#fbd6d6"/>
<rect x="61.42" y="266.6" width="0.75" height="0.75" fill="#fbd6d6"/>
<rect x="126.67" y="263.77" width="0.75" height="0.75" fill="#fbd6d6"/>
<rect x="160.59" y="262.92" width="0.75" height="0.75" fill="#fbd6d6"/>
<rect x="99.76" y="259.26" width="0.75" height="0.75" fill="#fbd6d6"/>
<rect x="209.23" y="268.87" width="0.75" height="0.75" fill="#fbd6d6"/>
<rect x="107.82" y="263.94" width="0.75" height="0.75" fill="#fbd6d6"/>
<rect x="114.36" y="259.71" width="0.75" height="0.75" fill="#fbd6d6"/>
<rect x="212.48" y="267.8" width="0.75" height="0.75" fill="#fbd6d6"/>
<rect x="100.08" y="261.75" width="0.75" height="0.75" fill="#fbd6d6"/>
<rect x="178.94" y="267.39" width="0.75" height="0.75" fill="#fbd6d6"/>
<rect x="139.52" y="263.13" width="0.75" height="0.75" fill="#fbd6d6"/>
<rect x="98.78" y="267.4" width="0.75" height="0.75" fill="#fbd6d6"/>
<rect x="207.46" y="268.02" width="0.75" height="0.75" fill="#fbd6d6"/>
<rect x="78.23" y="265.27" width="0.75" height="0.75" fill="#fbd6d6"/>
<rect x="228.45" y="266.54" width="0.75" height="0.75" fill="#fbd6d6"/>
<rect x="137.72" y="260.61" width="0.75" height="0.75" fill="#fbd6d6"/>
<rect x="68.94" y="266.71" width="0.75" height="0.75" fill="#fbd6d6"/>
<rect x="70.33" y="267.51" width="0.75" height="0.75" fill="#fbd6d6"/>
<rect x="173.33" y="264.02" width="0.75" height="0.75" fill="#fbd6d6"/>
<rect x="212.3" y="268.8" width="0.75" height="0.75" fill="#fbd6d6"/>
<rect x="164.86" y="260.14" width="0.75" height="0.75" fill="#fbd6d6"/>
<rect x="160.03" y="263.48" width="0.75" height="0.75" fill="#fbd6d6"/>
<rect x="101.55" y="268.76" width="0.75" height="0.75" fill="#fbd6d6"/>
<rect x="184.47" y="260.37" width="0.75" height="0.75" fill="#fbd6d6"/>
<rect x="97.99" y="262.66" width="0.75" height="0.75" fill="#fbd6d6"/>
<rect x="157.33" y="262.48" width="0.75" height="0.75" fill="#fbd6d6"/>
<rect x="134.33" y="267.56" width="0.75" height="0.75" fill="#fbd6d6"/>
<rect x="89.86" y="266.59" width="0.75" height="0.75" fill="#fbd6d6"/>
<rect x="115.54" y="268.92" width="0.75" height="0.75" fill="#fbd6d6"/>
<rect x="222.68" y="262.51" width="0.75" height="0.75" fill="#fbd6d6"/>
<rect x="163.05" y="260.25" width="0.75" height="0.75" fill="#fbd6d6"/>
<rect x="129.3" y="265.58" width="0.75" height="0.75" fill="#fbd6d6"/>
<rect x="168.58" y="262.66" width="0.75" height="0.75" fill="#fbd6d6"/>
<rect x="64.35" y="260.39" width="0.75" height="0.75" fill="#fbd6d6"/>
<rect x="155.18" y="260.88" width="0.75" height="0.75" fill="#fbd6d6"/>
<rect x="111.3" y="265.53" width="0.75" height="0.75" fill="#fbd6d6"/>
<rect x="213.88" y="264.46" width="0.75" height="0.75" fill="#fbd6d6"/>
<rect x="102.43" y="265.19" width="0.75" height="0.75" fill="#fbd6d6"/>
<rect x="106.05" y="267.24" width="0.75" height="0.75" fill="#fbd6d6"/>
<rect x="85.41" y="261.82" width="0.75" height="0.75" fill="#fbd6d6"/>
<rect x="134.16" y="268.54" width="0.75" height="0.75" fill="#fbd6d6"/>
<rect x="87.03" y="261.1" width="0.75" height="0.75" fill="#fbd6d6"/>
<rect x="81.22" y="261.32" width="0.75" height="0.75" fill="#fbd6d6"/>
<rect x="115.81" y="263.21" width="0.75" height="0.75" fill="#fbd6d6"/>
<rect x="189.54" y="263.3" width="0.75" height="0.75" fill="#fbd6d6"/>
<rect x="140.45" y="263.22" width="0.75" height="0.75" fill="#fbd6d6"/>
<rect x="192.05" y="268.49" width="0.75" height="0.75" fill="#fbd6d6"/>
<rect x="131.9" y="268.68" width="0.75" height="0.75" fill="#fbd6d6"/>
<rect x="101.74" y="269.27" width="0.75" height="0.75" fill="#fbd6d6"/>
<rect x="149.12" y="266.19" width="0.75" height="0.75" fill="#fbd6d6"/>
<rect x="124.28" y="261.92" width="0.75" height="0.75" fill="#fbd6d6"/>
<rect x="81.81" y="268.31" width="0.75" height="0.75" fill="#fbd6d6"/>
<rect x="120.53" y="266.37" width="0.75" height="0.75" fill="#fbd6d6"/>
<rect x="137.98" y="264.58" width="0.75" height="0.75" fill="#fbd6d6"/>
<rect x="94.19" y="260.94" width="0.75" height="0.75" fill="#fbd6d6"/>
<rect x="116.5" y="266.19" width="0.75" height="0.75" fill="#fbd6d6"/>
<rect x="152.23" y="259.12" width="0.75" height="0.75" fill="#fbd6d6"/>
<rect x="181.11" y="263.6" width="0.75" height="0.75" fill="#fbd6d6"/>
<rect x="70.39" y="261.8" width="0.75" height="0.75" fill="#fbd6d6"/>
<rect x="95" y="267.66" width="0.75" height="0.75" fill="#fbd6d6"/>
<rect x="153.38" y="262.5" width="0.75" height="0.75" fill="#fbd6d6"/>
<rect x="101.38" y="262.13" width="0.75" height="0.75" fill="#fbd6d6"/>
<rect x="106.82" y="262.7" width="0.75" height="0.75" fill="#fbd6d6"/>
<rect x="194.89" y="267.3" width="0.75" height="0.75" fill="#fbd6d6"/>
<rect x="178.92" y="268.3" width="0.75" height="0.75" fill="#fbd6d6"/>
<rect x="171.3" y="260.28" width="0.75" height="0.75" fill="#fbd6d6"/>
<rect x="66.18" y="260.81" width="0.75" height="0.75" fill="#fbd6d6"/>
<rect x="103.02" y="264.59" width="0.75" height="0.75" fill="#fbd6d6"/>
<rect x="200.3" y="265.19" width="0.75" height="0.75" fill="#fbd6d6"/>
<rect x="132.62" y="261.62" width="0.75" height="0.75" fill="#fbd6d6"/>
<rect x="227.85" y="266.93" width="0.75" height="0.75" fill="#fbd6d6"/>
<rect x="117.36" y="259.58" width="0.75" height="0.75" fill="#fbd6d6"/>
<rect x="227.88" y="261.76" width="0.75" height="0.75" fill="#fbd6d6"/>
<rect x="204.72" y="260.32" width="0.75" height="0.75" fill="#fbd6d6"/>
<rect x="171.15" y="262.81" width="0.75" height="0.75" fill="#fbd6d6"/>
<rect x="211.84" y="262.19" width="0.75" height="0.75" fill="#fbd6d6"/>
<rect x="75.88" y="261.17" width="0.75" height="0.75" fill="#fbd6d6"/>
<rect x="197.48" y="269.28" width="0.75" height="0.75" fill="#fbd6d6"/>
<rect x="169.41" y="266.19" width="0.75" height="0.75" fill="#fbd6d6"/>
<rect x="107.16" y="261.93" width="0.75" height="0.75" fill="#fbd6d6"/>
<rect x="73.46" y="269.34" width="0.75" height="0.75" fill="#fbd6d6"/>
<rect x="65.99" y="265.47" width="0.75" height="0.75" fill="#fbd6d6"/>
<rect x="118.86" y="261.04" width="0.75" height="0.75" fill="#fbd6d6"/>
<rect x="133.71" y="268.78" width="0.75" height="0.75" fill="#fbd6d6"/>
<rect x="101.24" y="260.81" width="0.75" height="0.75" fill="#fbd6d6"/>
<rect x="167.08" y="265.93" width="0.75" height="0.75" fill="#fbd6d6"/>
<rect x="146.59" y="260.97" width="0.75" height="0.75" fill="#fbd6d6"/>
<rect x="209.29" y="260.25" width="0.75" height="0.75" fill="#fbd6d6"/>
<rect x="88.53" y="261.61" width="0.75" height="0.75" fill="#fbd6d6"/>
<rect x="147.13" y="264.05" width="0.75" height="0.75" fill="#fbd6d6"/>
<rect x="154" y="266.66" width="0.75" height="0.75" fill="#fbd6d6"/>
<rect x="212.72" y="263.97" width="0.75" height="0.75" fill="#fbd6d6"/>
<rect x="65.74" y="267.74" width="0.75" height="0.75" fill="#fbd6d6"/>
<rect x="61.68" y="262.41" width="0.75" height="0.75" fill="#fbd6d6"/>
<rect x="83.18" y="265.36" width="0.75" height="0.75" fill="#fbd6d6"/>
<rect x="193.38" y="260.44" width="0.75" height="0.75" fill="#fbd6d6"/>
<rect x="109.28" y="267.95" width="0.75" height="0.75" fill="#fbd6d6"/>
<rect x="177.37" y="260.23" width="0.75" height="0.75" fill="#fbd6d6"/>
<rect x="176.91" y="267.36" width="0.75" height="0.75" fill="#fbd6d6"/>
<rect x="128.98" y="260.72" width="0.75" height="0.75" fill="#fbd6d6"/>
<rect x="172.18" y="262.42" width="0.75" height="0.75" fill="#fbd6d6"/>
<rect x="81.58" y="260.81" width="0.75" height="0.75" fill="#fbd6d6"/>
<rect x="127.93" y="260.42" width="0.75" height="0.75" fill="#fbd6d6"/>
<rect x="124.93" y="264.83" width="0.75" height="0.75" fill="#fbd6d6"/>
<rect x="153.74" y="263.3" width="0.75" height="0.75" fill="#fbd6d6"/>
<rect x="196.53" y="260.01" width="0.75" height="0.75" fill="#fbd6d6"/>
<rect x="115.39" y="268.81" width="0.75" height="0.75" fill="#fbd6d6"/>
<rect x="207.59" y="268.68" width="0.75" height="0.75" fill="#fbd6d6"/>
<rect x="190.51" y="264.67" width="0.75" height="0.75" fill="#fbd6d6"/>
<rect x="194.35" y="265.05" width="0.75" height="0.75" fill="#fbd6d6"/>
<rect x="78.78" y="261.76" width="0.75" height="0.75" fill="#fbd6d6"/>
<rect x="75.31" y="268.2" width="0.75" height="0.75" fill="#fbd6d6"/>
<rect x="114.05" y="263.34" width="0.75" height="0.75" fill="#fbd6d6"/>
<rect x="151.34" y="260.15" width="0.75" height="0.75" fill="#fbd6d6"/>
<rect x="180.25" y="267.37" width="0.75" height="0.75" fill="#fbd6d6"/>
<rect x="195.83" y="268.26" width="0.75" height="0.75" fill="#fbd6d6"/>
<rect x="113.24" y="260.61" width="0.75" height="0.75" fill="#fbd6d6"/>
<rect x="189.87" y="266.31" width="0.75" height="0.75" fill="#fbd6d6"/>
<rect x="122.59" y="262.67" width="0.75" height="0.75" fill="#fbd6d6"/>
<rect x="85.01" y="267.75" width="0.75" height="0.75" fill="#fbd6d6"/>
<rect x="137.96" y="267.55" width="0.75" height="0.75" fill="#fbd6d6"/>
<rect x="117.1" y="262.44" width="0.75" height="0.75" fill="#fbd6d6"/>
<rect x="147.04" y="266.85" width="0.75" height="0.75" fill="#fbd6d6"/>
<rect x="210.77" y="262.77" width="0.75" height="0.75" fill="#fbd6d6"/>
<rect x="178.12" y="263.3" width="0.75" height="0.75" fill="#fbd6d6"/>
<rect x="207.1" y="267" width="0.75" height="0.75" fill="#fbd6d6"/>
<rect x="154.29" y="262.87" width="0.75" height="0.75" fill="#fbd6d6"/>
<rect x="105.72" y="268.3" width="0.75" height="0.75" fill="#fbd6d6"/>
<rect x="196.66" y="262.27" width="0.75" height="0.75" fill="#fbd6d6"/>
<rect x="73.11" y="261.13" width="0.75" height="0.75" fill="#fbd6d6"/>
<rect x="224.83" y="259.51" width="0.75" height="0.75" fill="#fbd6d6"/>
<rect x="198.22" y="264.6" width="0.75" height="0.75" fill="#fbd6d6"/>
<rect x="154.06" y="264.71" width="0.75" height="0.75" fill="#fbd6d6"/>
<rect x="129.27" y="264.9" width="0.75" height="0.75" fill="#fbd6d6"/>
<rect x="74.02" y="268.67" width="0.75" height="0.75" fill="#fbd6d6"/>
<rect x="76.25" y="260.54" width="0.75" height="0.75" fill="#fbd6d6"/>
<rect x="174.51" y="265.76" width="0.75" height="0.75" fill="#fbd6d6"/>
<rect x="197.66" y="266.3" width="0.75" height="0.75" fill="#fbd6d6"/>
<rect x="219.04" y="259.64" width="0.75" height="0.75" fill="#fbd6d6"/>
<rect x="60.34" y="261.56" width="0.75" height="0.75" fill="#fbd6d6"/>
<rect x="192.86" y="260.69" width="0.75" height="0.75" fill="#fbd6d6"/>
<rect x="150.14" y="267.11" width="0.75" height="0.75" fill="#fbd6d6"/>
<rect x="85.45" y="264.59" width="0.75" height="0.75" fill="#fbd6d6"/>
<rect x="213.88" y="266.87" width="0.75" height="0.75" fill="#fbd6d6"/>
<rect x="127.15" y="264.08" width="0.75" height="0.75" fill="#fbd6d6"/>
<rect x="106.43" y="269.09" width="0.75" height="0.75" fill="#fbd6d6"/>
<rect x="193.5" y="266.18" width="0.75" height="0.75" fill="#fbd6d6"/>
<rect x="110.97" y="266.71" width="0.75" height="0.75" fill="#fbd6d6"/>
<rect x="142.47" y="267.4" width="0.75" height="0.75" fill="#fbd6d6"/>
<rect x="121.26" y="268.27" width="0.75" height="0.75" fill="#fbd6d6"/>
<rect x="176.6" y="263.79" width="0.75" height="0.75" fill="#fbd6d6"/>
<rect x="155.57" y="267.47" width="0.75" height="0.75" fill="#fbd6d6"/>
<rect x="149.78" y="269.09" width="0.75" height="0.75" fill="#fbd6d6"/>
<rect x="59.74" y="268.43" width="0.75" height="0.75" fill="#fbd6d6"/>
<rect x="181.69" y="264.19" width="0.75" height="0.75" fill="#fbd6d6"/>
<rect x="205.1" y="260.65" width="0.75" height="0.75" fill="#fbd6d6"/>
<rect x="116.74" y="266.52" width="0.75" height="0.75" fill="#fbd6d6"/>
<rect x="200.53" y="262.98" width="0.75" height="0.75" fill="#fbd6d6"/>
<rect x="229.99" y="265.85" width="0.75" height="0.75" fill="#fbd6d6"/>
<rect x="66.31" y="260.38" width="0.75" height="0.75" fill="#fbd6d6"/>
<rect x="71.67" y="265.03" width="0.75" height="0.75" fill="#fbd6d6"/>
<rect x="114.03" y="261.82" width="0.75" height="0.75" fill="#fbd6d6"/>
<rect x="135.71" y="259.91" width="0.75" height="0.75" fill="#fbd6d6"/>
<rect x="215.29" y="267.82" width="0.75" height="0.75" fill="#fbd6d6"/>
<rect x="154.87" y="263.72" width="0.75" height="0.75" fill="#fbd6d6"/>
<rect x="111.7" y="265.37" width="0.75" height="0.75" fill="#fbd6d6"/>
<rect x="118.32" y="269.25" width="0.75" height="0.75" fill="#fbd6d6"/>
<rect x="223.43" y="266.66" width="0.75" height="0.75" fill="#fbd6d6"/>
<rect x="200.98" y="259.88" width="0.75" height="0.75" fill="#fbd6d6"/>
<rect x="79.83" y="262.69" width="0.75" height="0.75" fill="#fbd6d6"/>
<rect x="80.26" y="263.49" width="0.75" height="0.75" fill="#fbd6d6"/>
<rect x="228.6" y="267.78" width="0.75" height="0.75" fill="#fbd6d6"/>
<rect x="223.88" y="261.4" width="0.75" height="0.75" fill="#fbd6d6"/>
<rect x="96.77" y="259.34" width="0.75" height="0.75" fill="#fbd6d6"/>
<rect x="105.71" y="259.69" width="0.75" height="0.75" fill="#fbd6d6"/>
<rect x="149.6" y="262.23" width="0.75" height="0.75" fill="#fbd6d6"/>
<rect x="174.72" y="264.93" width="0.75" height="0.75" fill="#fbd6d6"/>
<rect x="161.54" y="262.22" width="0.75" height="0.75" fill="#fbd6d6"/>
<rect x="185.26" y="266.27" width="0.75" height="0.75" fill="#fbd6d6"/>
<rect x="181.71" y="264" width="0.75" height="0.75" fill="#fbd6d6"/>
<rect x="138.52" y="262.07" width="0.75" height="0.75" fill="#fbd6d6"/>
<rect x="65.42" y="263.95" width="0.75" height="0.75" fill="#fbd6d6"/>
<rect x="164.8" y="261.04" width="0.75" height="0.75" fill="#fbd6d6"/>
<rect x="206.85" y="268.24" width="0.75" height="0.75" fill="#fbd6d6"/>
<rect x="205.74" y="267.59" width="0.75" height="0.75" fill="#fbd6d6"/>
<rect x="142.74" y="260.93" width="0.75" height="0.75" fill="#fbd6d6"/>
<rect x="105.27" y="266.77" width="0.75" height="0.75" fill="#fbd6d6"/>
<rect x="228.35" y="260.26" width="0.75" height="0.75" fill="#fbd6d6"/>
<rect x="59.58" y="262.77" width="0.75" height="0.75" fill="#fbd6d6"/>
<rect x="118.75" y="265.32" width="0.75" height="0.75" fill="#fbd6d6"/>
<rect x="77.88" y="267.88" width="0.75" height="0.75" fill="#fbd6d6"/>
<rect x="116.81" y="268.55" width="0.75" height="0.75" fill="#fbd6d6"/>
<rect x="115.3" y="262.28" width="0.75" height="0.75" fill="#fbd6d6"/>
<rect x="88.83" y="269.14" width="0.75" height="0.75" fill="#fbd6d6"/>
<rect x="160.18" y="267.69" width="0.75" height="0.75" fill="#fbd6d6"/>
<rect x="69.38" y="264.75" width="0.75" height="0.75" fill="#fbd6d6"/>
<rect x="184.95" y="269.33" width="0.75" height="0.75" fill="#fbd6d6"/>
<rect x="220.07" y="260.18" width="0.75" height="0.75" fill="#fbd6d6"/>
<rect x="122.88" y="269.49" width="0.75" height="0.75" fill="#fbd6d6"/>
<rect x="150.77" y="269.05" width="0.75" height="0.75" fill="#fbd6d6"/>
<rect x="102.22" y="259.37" width="0.75" height="0.75" fill="#fbd6d6"/>
<rect x="221.72" y="261.84" width="0.75" height="0.75" fill="#fbd6d6"/>
<rect x="155.21" y="262.85" width="0.75" height="0.75" fill="#fbd6d6"/>
<rect x="158.13" y="268.81" width="0.75" height="0.75" fill="#fbd6d6"/>
<rect x="221.84" y="268.22" width="0.75" height="0.75" fill="#fbd6d6"/>
<rect x="102.79" y="267.64" width="0.75" height="0.75" fill="#fbd6d6"/>
<rect x="61.67" y="263.43" width="0.75" height="0.75" fill="#fbd6d6"/>
<rect x="221.36" y="261.75" width="0.75" height="0.75" fill="#fbd6d6"/>
<rect x="121.84" y="265.15" width="0.75" height="0.75" fill="#fbd6d6"/>
<rect x="99.32" y="266.47" width="0.75" height="0.75" fill="#fbd6d6"/>
<rect x="171.06" y="260.09" width="0.75" height="0.75" fill="#fbd6d6"/>
<rect x="217.22" y="259.84" width="0.75" height="0.75" fill="#fbd6d6"/>
<rect x="178.65" y="262.72" width="0.75" height="0.75" fill="#fbd6d6"/>
<rect x="83.27" y="259.91" width="0.75" height="0.75" fill="#fbd6d6"/>
<rect x="230.61" y="267.42" width="0.75" height="0.75" fill="#fbd6d6"/>
<rect x="137.65" y="267.36" width="0.75" height="0.75" fill="#fbd6d6"/>
<rect x="225.79" y="268.73" width="0.75" height="0.75" fill="#fbd6d6"/>
<rect x="150.36" y="261.96" width="0.75" height="0.75" fill="#fbd6d6"/>
<rect x="147.95" y="269.31" width="0.75" height="0.75" fill="#fbd6d6"/>
<rect x="184.47" y="266.07" width="0.75" height="0.75" fill="#fbd6d6"/>
<rect x="203.9" y="263.35" width="0.75" height="0.75" fill="#fbd6d6"/>
<rect x="154.91" y="267.93" width="0.75" height="0.75" fill="#fbd6d6"/>
<rect x="92.85" y="268.03" width="0.75" height="0.75" fill="#fbd6d6"/>
<rect x="62.74" y="264.69" width="0.75" height="0.75" fill="#fbd6d6"/>
<rect x="157.66" y="260.62" width="0.75" height="0.75" fill="#fbd6d6"/>
<rect x="217.54" y="263.67" width="0.75" height="0.75" fill="#fbd6d6"/>
<rect x="90.42" y="263.38" width="0.75" height="0.75" fill="#fbd6d6"/>
<rect x="160.51" y="263.56" width="0.75" height="0.75" fill="#fbd6d6"/>
<rect x="59" y="260.06" width="0.75" height="0.75" fill="#fbd6d6"/>
<rect x="181.53" y="260.47" width="0.75" height="0.75" fill="#fbd6d6"/>
<rect x="102.57" y="267.5" width="0.75" height="0.75" fill="#fbd6d6"/>
<rect x="207.13" y="268.27" width="0.75" height="0.75" fill="#fbd6d6"/>
<rect x="88.6" y="259.15" width="0.75" height="0.75" fill="#fbd6d6"/>
<rect x="188.61" y="265.33" width="0.75" height="0.75" fill="#fbd6d6"/>
<rect x="121.38" y="259.29" width="0.75" height="0.75" fill="#fbd6d6"/>
<rect x="132.93" y="261.57" width="0.75" height="0.75" fill="#fbd6d6"/>
<rect x="159.92" y="269.3" width="0.75" height="0.75" fill="#fbd6d6"/>
<rect x="94.61" y="259.88" width="0.75" height="0.75" fill="#fbd6d6"/>
<rect x="178.31" y="260.22" width="0.75" height="0.75" fill="#fbd6d6"/>
<rect x="96.96" y="263.67" width="0.75" height="0.75" fill="#fbd6d6"/>
<rect x="228.6" y="262.47" width="0.75" height="0.75" fill="#fbd6d6"/>
<rect x="112.99" y="264.04" width="0.75" height="0.75" fill="#fbd6d6"/>
<rect x="86.5" y="263.28" width="0.75" height="0.75" fill="#fbd6d6"/>
<rect x="179.3" y="262.47" width="0.75" height="0.75" fill="#fbd6d6"/>
<rect x="195.87" y="261.02" width="0.75" height="0.75" fill="#fbd6d6"/>
<rect x="76.02" y="265.62" width="0.75" height="0.75" fill="#fbd6d6"/>
<rect x="136.63" y="268.65" width="0.75" height="0.75" fill="#fbd6d6"/>
<rect x="76.64" y="266.86" width="0.75" height="0.75" fill="#fbd6d6"/>
<rect x="174.05" y="262.95" width="0.75" height="0.75" fill="#fbd6d6"/>
<rect x="80.63" y="265.46" width="0.75" height="0.75" fill="#fbd6d6"/>
<rect x="189.3" y="264.02" width="0.75" height="0.75" fill="#fbd6d6"/>
<rect x="140.01" y="266.23" width="0.75" height="0.75" fill="#fbd6d6"/>
<rect x="163.62" y="263.5" width="0.75" height="0.75" fill="#fbd6d6"/>
<rect x="90.6" y="263.92" width="0.75" height="0.75" fill="#fbd6d6"/>
<rect x="153.34" y="268.42" width="0.75" height="0.75" fill="#fbd6d6"/>
<rect x="230.11" y="264.89" width="0.75" height="0.75" fill="#fbd6d6"/>
<rect x="115.18" y="261.42" width="0.75" height="0.75" fill="#fbd6d6"/>
<rect x="167.25" y="266.78" width="0.75" height="0.75" fill="#fbd6d6"/>
<rect x="101.24" y="266.28" width="0.75" height="0.75" fill="#fbd6d6"/>
<rect x="230.87" y="263.17" width="0.75" height="0.75" fill="#fbd6d6"/>
<rect x="220.45" y="263.64" width="0.75" height="0.75" fill="#fbd6d6"/>
<rect x="171" y="268.11" width="0.75" height="0.75" fill="#fbd6d6"/>
<rect x="93.58" y="262.69" width="0.75" height="0.75" fill="#fbd6d6"/>
<rect x="228.26" y="259.78" width="0.75" height="0.75" fill="#fbd6d6"/>
<rect x="111.32" y="264.06" width="0.75" height="0.75" fill="#fbd6d6"/>
<rect x="186.99" y="265.66" width="0.75" height="0.75" fill="#fbd6d6"/>
<rect x="218.89" y="266.06" width="0.75" height="0.75" fill="#fbd6d6"/>
<rect x="58.76" y="259.84" width="0.75" height="0.75" fill="#fbd6d6"/>
<rect x="64.81" y="263.59" width="0.75" height="0.75" fill="#fbd6d6"/>
<rect x="63.16" y="264.57" width="0.75" height="0.75" fill="#fbd6d6"/>
<rect x="167.62" y="261.2" width="0.75" height="0.75" fill="#fbd6d6"/>
<rect x="206.19" y="263.4" width="0.75" height="0.75" fill="#fbd6d6"/>
<rect x="224.09" y="262.82" width="0.75" height="0.75" fill="#fbd6d6"/>
<rect x="165.44" y="264.74" width="0.75" height="0.75" fill="#fbd6d6"/>
<rect x="103.87" y="267.21" width="0.75" height="0.75" fill="#fbd6d6"/>
<rect x="59.19" y="261.7" width="0.75" height="0.75" fill="#fbd6d6"/>
<rect x="113.82" y="268.27" width="0.75" height="0.75" fill="#fbd6d6"/>
<rect x="144.85" y="259.48" width="0.75" height="0.75" fill="#fbd6d6"/>
<rect x="110.09" y="265.44" width="0.75" height="0.75" fill="#fbd6d6"/>
<rect x="198.02" y="260.23" width="0.75" height="0.75" fill="#fbd6d6"/>
<rect x="192.93" y="263.16" width="0.75" height="0.75" fill="#fbd6d6"/>
<rect x="148.91" y="263.48" width="0.75" height="0.75" fill="#fbd6d6"/>
<rect x="134.12" y="269.4" width="0.75" height="0.75" fill="#fbd6d6"/>
<rect x="217.03" y="268.65" width="0.75" height="0.75" fill="#fbd6d6"/>
<rect x="185.41" y="266.38" width="0.75" height="0.75" fill="#fbd6d6"/>
<rect x="82.92" y="259.47" width="0.75" height="0.75" fill="#fbd6d6"/>
<rect x="201.83" y="266.1" width="0.75" height="0.75" fill="#fbd6d6"/>
<rect x="167.29" y="262.35" width="0.75" height="0.75" fill="#fbd6d6"/>
<rect x="104.57" y="268.68" width="0.75" height="0.75" fill="#fbd6d6"/>
<rect x="150.28" y="259.31" width="0.75" height="0.75" fill="#fbd6d6"/>
<rect x="117.23" y="262.73" width="0.75" height="0.75" fill="#fbd6d6"/>
<rect x="70.16" y="269.27" width="0.75" height="0.75" fill="#fbd6d6"/>
<rect x="214.26" y="267.57" width="0.75" height="0.75" fill="#fbd6d6"/>
<rect x="59.23" y="263.44" width="0.75" height="0.75" fill="#fbd6d6"/>
<rect x="77.75" y="266.65" width="0.75" height="0.75" fill="#fbd6d6"/>
<rect x="198.12" y="267.31" width="0.75" height="0.75" fill="#fbd6d6"/>
<rect x="195.08" y="260.36" width="0.75" height="0.75" fill="#fbd6d6"/>
<rect x="60.81" y="260.07" width="0.75" height="0.75" fill="#fbd6d6"/>
<rect x="203.81" y="267.72" width="0.75" height="0.75" fill="#fbd6d6"/>
<rect x="147.53" y="261.54" width="0.75" height="0.75" fill="#fbd6d6"/>
<rect x="206.33" y="260.35" width="0.75" height="0.75" fill="#fbd6d6"/>
<rect x="114.55" y="259.12" width="0.75" height="0.75" fill="#fbd6d6"/>
<rect x="228.04" y="263.42" width="0.75" height="0.75" fill="#fbd6d6"/>
<rect x="191.52" y="267.44" width="0.75" height="0.75" fill="#fbd6d6"/>
<rect x="158.72" y="269.36" width="0.75" height="0.75" fill="#fbd6d6"/>
<rect x="192.1" y="268.74" width="0.75" height="0.75" fill="#fbd6d6"/>
<rect x="224.68" y="259.95" width="0.75" height="0.75" fill="#fbd6d6"/>
<rect x="187.98" y="261.45" width="0.75" height="0.75" fill="#fbd6d6"/>
<rect x="114.49" y="262.65" width="0.75" height="0.75" fill="#fbd6d6"/>
<rect x="229.02" y="259.73" width="0.75" height="0.75" fill="#fbd6d6"/>
<rect x="133.52" y="260.43" width="0.75" height="0.75" fill="#fbd6d6"/>
<rect x="230.56" y="264.26" width="0.75" height="0.75" fill="#fbd6d6"/>
<rect x="179.58" y="264.51" width="0.75" height="0.75" fill="#fbd6d6"/>
<rect x="190.84" y="262.6" width="0.75" height="0.75" fill="#fbd6d6"/>
<rect x="129.82" y="266.84" width="0.75" height="0.75" fill="#fbd6d6"/>
<rect x="179.71" y="268.33" width="0.75" height="0.75" fill="#fbd6d6"/>
<rect x="111.85" y="267.92" width="0.75" height="0.75" fill="#fbd6d6"/>
<rect x="185.67" y="265.06" width="0.75" height="0.75" fill="#fbd6d6"/>
<rect x="128.9" y="265" width="0.75" height="0.75" fill="#fbd6d6"/>
<rect x="71.75" y="260.11" width="0.75" height="0.75" fill="#fbd6d6"/>
<rect x="112.2" y="260.38" width="0.75" height="0.75" fill="#fbd6d6"/>
<rect x="66.91" y="266.56" width="0.75" height="0.75" fill="#fbd6d6"/>
<rect x="184.66" y="265.5" width="0.75" height="0.75" fill="#fbd6d6"/>
<rect x="94.02" y="266.61" width="0.75" height="0.75" fill="#fbd6d6"/>
<rect x="200.96" y="265.54" width="0.75" height="0.75" fill="#fbd6d6"/>
<rect x="97.73" y="264.97" width="0.75" height="0.75" fill="#fbd6d6"/>
<rect x="126.59" y="261.9" width="0.75" height="0.75" fill="#fbd6d6"/>
<rect x="84.13" y="268.09" width="0.75" height="0.75" fill="#fbd6d6"/>
<rect x="167.57" y="268.8" width="0.75" height="0.75" fill="#fbd6d6"/>
<rect x="88.18" y="261.85" width="0.75" height="0.75" fill="#fbd6d6"/>
<rect x="146.36" y="259.71" width="0.75" height="0.75" fill="#fbd6d6"/>
<rect x="110.64" y="264.72" width="0.75" height="0.75" fill="#fbd6d6"/>
<rect x="141.61" y="268.56" width="0.75" height="0.75" fill="#fbd6d6"/>
<rect x="158.1" y="265.73" width="0.75" height="0.75" fill="#fbd6d6"/>
<rect x="159.44" y="267.27" width="0.75" height="0.75" fill="#fbd6d6"/>
<rect x="121.7" y="259.11" width="0.75" height="0.75" fill="#fbd6d6"/>
<rect x="227.64" y="267.34" width="0.75" height="0.75" fill="#fbd6d6"/>
<rect x="80.35" y="260.26" width="0.75" height="0.75" fill="#fbd6d6"/>
<rect x="96.84" y="265.94" width="0.75" height="0.75" fill="#fbd6d6"/>
<rect x="81.1" y="259.31" width="0.75" height="0.75" fill="#fbd6d6"/>
<rect x="143.74" y="259.16" width="0.75" height="0.75" fill="#fbd6d6"/>
<rect x="103.16" y="263.07" width="0.75" height="0.75" fill="#fbd6d6"/>
<rect x="93.9" y="259.13" width="0.75" height="0.75" fill="#fbd6d6"/>
<rect x="103.35" y="261.64" width="0.75" height="0.75" fill="#fbd6d6"/>
<rect x="114.43" y="263.41" width="0.75" height="0.75" fill="#fbd6d6"/>
<rect x="120.58" y="262.47" width="0.75" height="0.75" fill="#fbd6d6"/>
<rect x="61.8" y="267.81" width="0.75" height="0.75" fill="#fbd6d6"/>
<rect x="185.85" y="264.23" width="0.75" height="0.75" fill="#fbd6d6"/>
<rect x="58.99" y="261.53" width="0.75" height="0.75" fill="#fbd6d6"/>
<rect x="213.85" y="263.86" width="0.75" height="0.75" fill="#fbd6d6"/>
<rect x="93.92" y="267.63" width="0.75" height="0.75" fill="#fbd6d6"/>
<rect x="212.28" y="260.37" width="0.75" height="0.75" fill="#fbd6d6"/>
<rect x="144.93" y="264.94" width="0.75" height="0.75" fill="#fbd6d6"/>
<rect x="78.74" y="262.42" width="0.75" height="0.75" fill="#fbd6d6"/>
<rect x="165.15" y="266.1" width="0.75" height="0.75" fill="#fbd6d6"/>
<rect x="166.91" y="265.55" width="0.75" height="0.75" fill="#fbd6d6"/>
<rect x="123.7" y="259.82" width="0.75" height="0.75" fill="#fbd6d6"/>
<rect x="61.29" y="267.81" width="0.75" height="0.75" fill="#fbd6d6"/>
<rect x="207.68" y="268.51" width="0.75" height="0.75" fill="#fbd6d6"/>
<rect x="71.61" y="267.1" width="0.75" height="0.75" fill="#fbd6d6"/>
<rect x="88.14" y="262.7" width="0.75" height="0.75" fill="#fbd6d6"/>
<rect x="93.05" y="268.04" width="0.75" height="0.75" fill="#fbd6d6"/>
<rect x="199.79" y="267.76" width="0.75" height="0.75" fill="#fbd6d6"/>
<rect x="124.3" y="268.83" width="0.75" height="0.75" fill="#fbd6d6"/>
<rect x="103.36" y="265.07" width="0.75" height="0.75" fill="#fbd6d6"/>
<rect x="174.65" y="261.53" width="0.75" height="0.75" fill="#fbd6d6"/>
<rect x="124.35" y="260.14" width="0.75" height="0.75" fill="#fbd6d6"/>
<rect x="195.92" y="261.02" width="0.75" height="0.75" fill="#fbd6d6"/>
<rect x="81.96" y="261.99" width="0.75" height="0.75" fill="#fbd6d6"/>
<rect x="168.94" y="265.73" width="0.75" height="0.75" fill="#fbd6d6"/>
<rect x="149.01" y="267.98" width="0.75" height="0.75" fill="#fbd6d6"/>
<rect x="188.29" y="261.28" width="0.75" height="0.75" fill="#fbd6d6"/>
<rect x="150.73" y="260.86" width="0.75" height="0.75" fill="#fbd6d6"/>
<rect x="100.21" y="260.63" width="0.75" height="0.75" fill="#fbd6d6"/>
<rect x="71.78" y="262.74" width="0.75" height="0.75" fill="#fbd6d6"/>
<rect x="211.41" y="265.92" width="0.75" height="0.75" fill="#fbd6d6"/>
<rect x="73.63" y="261.38" width="0.75" height="0.75" fill="#fbd6d6"/>
<rect x="160.55" y="264.61" width="0.75" height="0.75" fill="#fbd6d6"/>
<rect x="63.09" y="260.08" width="0.75" height="0.75" fill="#fbd6d6"/>
<rect x="156.13" y="265.35" width="0.75" height="0.75" fill="#fbd6d6"/>
<rect x="72.36" y="267.14" width="0.75" height="0.75" fill="#fbd6d6"/>
<rect x="99.96" y="265.23" width="0.75" height="0.75" fill="#fbd6d6"/>
<rect x="149.87" y="262.64" width="0.75" height="0.75" fill="#fbd6d6"/>
<rect x="221.74" y="263.21" width="0.75" height="0.75" fill="#fbd6d6"/>
<rect x="131.5" y="264.72" width="0.75" height="0.75" fill="#fbd6d6"/>
<rect x="203.34" y="269.37" width="0.75" height="0.75" fill="#fbd6d6"/>
<rect x="191.25" y="264.7" width="0.75" height="0.75" fill="#fbd6d6"/>
<rect x="182.16" y="265.74" width="0.75" height="0.75" fill="#fbd6d6"/>
<rect x="223.98" y="269.19" width="0.75" height="0.75" fill="#fbd6d6"/>
<rect x="189.6" y="261.35" width="0.75" height="0.75" fill="#fbd6d6"/>
<rect x="156.57" y="263.67" width="0.75" height="0.75" fill="#fbd6d6"/>
<rect x="98.39" y="267.23" width="0.75" height="0.75" fill="#fbd6d6"/>
<rect x="96.65" y="266.48" width="0.75" height="0.75" fill="#fbd6d6"/>
<rect x="142.91" y="263.54" width="0.75" height="0.75" fill="#fbd6d6"/>
<rect x="180.4" y="266.64" width="0.75" height="0.75" fill="#fbd6d6"/>
<rect x="229.22" y="269.49" width="0.75" height="0.75" fill="#fbd6d6"/>
<rect x="196.49" y="261.84" width="0.75" height="0.75" fill="#fbd6d6"/>
<rect x="173.93" y="264.25" width="0.75" height="0.75" fill="#fbd6d6"/>
<rect x="220.73" y="263.75" width="0.75" height="0.75" fill="#fbd6d6"/>
<rect x="120.16" y="259.37" width="0.75" height="0.75" fill="#fbd6d6"/>
<rect x="139.6" y="264.64" width="0.75" height="0.75" fill="#fbd6d6"/>
<rect x="111.68" y="260.19" width="0.75" height="0.75" fill="#fbd6d6"/>
<rect x="141.99" y="259.83" width="0.75" height="0.75" fill="#fbd6d6"/>
<rect x="88.12" y="263.72" width="0.75" height="0.75" fill="#fbd6d6"/>
<rect x="118.55" y="264.3" width="0.75" height="0.75" fill="#fbd6d6"/>
<rect x="149.94" y="263.14" width="0.75" height="0.75" fill="#fbd6d6"/>
<rect x="81.54" y="259.29" width="0.75" height="0.75" fill="#fbd6d6"/>
<rect x="155" y="269.19" width="0.75" height="0.75" fill="#fbd6d6"/>
<rect x="107.02" y="262.76" width="0.75" height="0.75" fill="#fbd6d6"/>
<rect x="113.6" y="266.82" width="0.75" height="0.75" fill="#fbd6d6"/>
<rect x="143.58" y="267.38" width="0.75" height="0.75" fill="#fbd6d6"/>
<rect x="59.4" y="260.48" width="0.75" height="0.75" fill="#fbd6d6"/>
<rect x="94.06" y="262.94" width="0.75" height="0.75" fill="#fbd6d6"/>
<rect x="127.4" y="263.11" width="0.75" height="0.75" fill="#fbd6d6"/>
<rect x="225.08" y="263.67" width="0.75" height="0.75" fill="#fbd6d6"/>
<rect x="157.79" y="269.12" width="0.75" height="0.75" fill="#fbd6d6"/>
<rect x="169.23" y="265.28" width="0.75" height="0.75" fill="#fbd6d6"/>
<rect x="201.37" y="262.58" width="0.75" height="0.75" fill="#fbd6d6"/>
<rect x="64.71" y="269.06" width="0.75" height="0.75" fill="#fbd6d6"/>
<rect x="150.68" y="265.15" width="0.75" height="0.75" fill="#fbd6d6"/>
<rect x="70" y="266.85" width="0.75" height="0.75" fill="#fbd6d6"/>
<rect x="122.97" y="265.79" width="0.75" height="0.75" fill="#fbd6d6"/>
<rect x="107.43" y="268.65" width="0.75" height="0.75" fill="#fbd6d6"/>
<rect x="122.12" y="261.97" width="0.75" height="0.75" fill="#fbd6d6"/>
<rect x="212.7" y="261.42" width="0.75" height="0.75" fill="#fbd6d6"/>
<rect x="105.24" y="264.16" width="0.75" height="0.75" fill="#fbd6d6"/>
<rect x="227.7" y="260.3" width="0.75" height="0.75" fill="#fbd6d6"/>
<rect x="94.79" y="267.38" width="0.75" height="0.75" fill="#fbd6d6"/>
<rect x="71.46" y="263.41" width="0.75" height="0.75" fill="#fbd6d6"/>
<rect x="193.58" y="266.51" width="0.75" height="0.75" fill="#fbd6d6"/>
<rect x="195.32" y="260.32" width="0.75" height="0.75" fill="#fbd6d6"/>
<rect x="212" y="262.81" width="0.75" height="0.75" fill="#fbd6d6"/>
<rect x="198.95" y="264.01" width="0.75" height="0.75" fill="#fbd6d6"/>
<rect x="212.26" y="264.07" width="0.75" height="0.75" fill="#fbd6d6"/>
<rect x="102.97" y="260.67" width="0.75" height="0.75" fill="#fbd6d6"/>
<rect x="144.14" y="259.62" width="0.75" height="0.75" fill="#fbd6d6"/>
<rect x="86.79" y="268.2" width="0.75" height="0.75" fill="#fbd6d6"/>
<rect x="157.48" y="268.08" width="0.75" height="0.75" fill="#fbd6d6"/>
<rect x="84.52" y="264.1" width="0.75" height="0.75" fill="#fbd6d6"/>
<rect x="139.33" y="260.22" width="0.75" height="0.75" fill="#fbd6d6"/>
<rect x="103.94" y="268.69" width="0.75" height="0.75" fill="#fbd6d6"/>
<rect x="183.31" y="264.39" width="0.75" height="0.75" fill="#fbd6d6"/>
<rect x="163.64" y="268.05" width="0.75" height="0.75" fill="#fbd6d6"/>
<rect x="223.03" y="265.28" width="0.75" height="0.75" fill="#fbd6d6"/>
<rect x="67.18" y="268.17" width="0.75" height="0.75" fill="#fbd6d6"/>
<rect x="86.91" y="261.6" width="0.75" height="0.75" fill="#fbd6d6"/>
<rect x="82.14" y="264.43" width="0.75" height="0.75" fill="#fbd6d6"/>
<rect x="158.99" y="263.89" width="0.75" height="0.75" fill="#fbd6d6"/>
<rect x="139.58" y="260.57" width="0.75" height="0.75" fill="#fbd6d6"/>
<rect x="182.37" y="264.69" width="0.75" height="0.75" fill="#fbd6d6"/>
<rect x="111.79" y="267.77" width="0.75" height="0.75" fill="#fbd6d6"/>
<rect x="220.48" y="268.69" width="0.75" height="0.75" fill="#fbd6d6"/>
<rect x="228.4" y="259.82" width="0.75" height="0.75" fill="#fbd6d6"/>
<rect x="125.53" y="263.78" width="0.75" height="0.75" fill="#fbd6d6"/>
<rect x="102.77" y="266.84" width="0.75" height="0.75" fill="#fbd6d6"/>
<rect x="214.61" y="260.54" width="0.75" height="0.75" fill="#fbd6d6"/>
<rect x="145.81" y="269.16" width="0.75" height="0.75" fill="#fbd6d6"/>
<rect x="211.81" y="263.79" width="0.75" height="0.75" fill="#fbd6d6"/>
<rect x="76.56" y="263.85" width="0.75" height="0.75" fill="#fbd6d6"/>
<rect x="147.78" y="267.27" width="0.75" height="0.75" fill="#fbd6d6"/>
<rect x="90.59" y="262.01" width="0.75" height="0.75" fill="#fbd6d6"/>
<rect x="228.36" y="259.22" width="0.75" height="0.75" fill="#fbd6d6"/>
<rect x="163.9" y="260.09" width="0.75" height="0.75" fill="#fbd6d6"/>
<rect x="187.97" y="263.5" width="0.75" height="0.75" fill="#fbd6d6"/>
<rect x="218.13" y="261.42" width="0.75" height="0.75" fill="#fbd6d6"/>
<rect x="209.86" y="261.47" width="0.75" height="0.75" fill="#fbd6d6"/>
<rect x="66.72" y="260" width="0.75" height="0.75" fill="#fbd6d6"/>
<rect x="71.63" y="263.14" width="0.75" height="0.75" fill="#fbd6d6"/>
<rect x="226.16" y="262.79" width="0.75" height="0.75" fill="#fbd6d6"/>
<rect x="182.14" y="259.46" width="0.75" height="0.75" fill="#fbd6d6"/>
<rect x="147.48" y="264.71" width="0.75" height="0.75" fill="#fbd6d6"/>
<rect x="75.4" y="265.13" width="0.75" height="0.75" fill="#fbd6d6"/>
<rect x="135.45" y="262.51" width="0.75" height="0.75" fill="#fbd6d6"/>
<rect x="201.75" y="266.29" width="0.75" height="0.75" fill="#fbd6d6"/>
<rect x="79.26" y="260.2" width="0.75" height="0.75" fill="#fbd6d6"/>
<rect x="67.54" y="261.84" width="0.75" height="0.75" fill="#fbd6d6"/>
<rect x="168.31" y="269.17" width="0.75" height="0.75" fill="#fbd6d6"/>
<rect x="225.61" y="268.09" width="0.75" height="0.75" fill="#fbd6d6"/>
<rect x="79.96" y="267.34" width="0.75" height="0.75" fill="#fbd6d6"/>
<rect x="189.97" y="264.02" width="0.75" height="0.75" fill="#fbd6d6"/>
<rect x="230.26" y="265.33" width="0.75" height="0.75" fill="#fbd6d6"/>
<rect x="78.91" y="261.35" width="0.75" height="0.75" fill="#fbd6d6"/>
<rect x="80.87" y="265.45" width="0.75" height="0.75" fill="#fbd6d6"/>
<rect x="166.17" y="268.02" width="0.75" height="0.75" fill="#fbd6d6"/>
<rect x="60.27" y="259.2" width="0.75" height="0.75" fill="#fbd6d6"/>
<rect x="226.29" y="261.83" width="0.75" height="0.75" fill="#fbd6d6"/>
<rect x="104.08" y="268.11" width="0.75" height="0.75" fill="#fbd6d6"/>
<rect x="77.71" y="267.35" width="0.75" height="0.75" fill="#fbd6d6"/>
<rect x="213.19" y="264.95" width="0.75" height="0.75" fill="#fbd6d6"/>
<rect x="163.47" y="259.16" width="0.75" height="0.75" fill="#fbd6d6"/>
<rect x="163.14" y="265.48" width="0.75" height="0.75" fill="#fbd6d6"/>
<rect x="191.5" y="264.48" width="0.75" height="0.75" fill="#fbd6d6"/>
<rect x="78.15" y="261.42" width="0.75" height="0.75" fill="#fbd6d6"/>
<rect x="171.16" y="259.93" width="0.75" height="0.75" fill="#fbd6d6"/>
<rect x="76.93" y="261.71" width="0.75" height="0.75" fill="#fbd6d6"/>
<rect x="195.87" y="264.78" width="0.75" height="0.75" fill="#fbd6d6"/>
<rect x="120.06" y="269.12" width="0.75" height="0.75" fill="#fbd6d6"/>
<rect x="158.72" y="261.58" width="0.75" height="0.75" fill="#fbd6d6"/>
<rect x="156.04" y="268" width="0.75" height="0.75" fill="#fbd6d6"/>
<rect x="122.07" y="263.62" width="0.75" height="0.75" fill="#fbd6d6"/>
<rect x="158.1" y="269.37" width="0.75" height="0.75" fill="#fbd6d6"/>
<rect x="168.65" y="260.98" width="0.75" height="0.75" fill="#fbd6d6"/>
<rect x="158.9" y="262.44" width="0.75" height="0.75" fill="#fbd6d6"/>
<rect x="140.15" y="266.51" width="0.75" height="0.75" fill="#fbd6d6"/>
<rect x="61.99" y="264.38" width="0.75" height="0.75" fill="#fbd6d6"/>
<rect x="112.68" y="265.33" width="0.75" height="0.75" fill="#fbd6d6"/>
<rect x="200.07" y="263.96" width="0.75" height="0.75" fill="#fbd6d6"/>
<rect x="167.13" y="262.1" width="0.75" height="0.75" fill="#fbd6d6"/>
<rect x="102.66" y="264.4" width="0.75" height="0.75" fill="#fbd6d6"/>
<rect x="150.36" y="261.42" width="0.75" height="0.75" fill="#fbd6d6"/>
<rect x="190.48" y="264.3" width="0.75" height="0.75" fill="#fbd6d6"/>
<rect x="119.83" y="261.74" width="0.75" height="0.75" fill="#fbd6d6"/>
<rect x="202.85" y="268.48" width="0.75" height="0.75" fill="#fbd6d6"/>
<rect x="220.33" y="261.68" width="0.75" height="0.75" fill="#fbd6d6"/>
<rect x="70.78" y="265.67" width="0.75" height="0.75" fill="#fbd6d6"/>
<rect x="62.77" y="268.01" width="0.75" height="0.75" fill="#fbd6d6"/>
<rect x="175.64" y="262.6" width="0.75" height="0.75" fill="#fbd6d6"/>
<rect x="134.65" y="266.2" width="0.75" height="0.75" fill="#fbd6d6"/>
<rect x="86.13" y="262.9" width="0.75" height="0.75" fill="#fbd6d6"/>
<rect x="194.23" y="266.18" width="0.75" height="0.75" fill="#fbd6d6"/>
<rect x="159.47" y="260.17" width="0.75" height="0.75" fill="#fbd6d6"/>
<rect x="95.95" y="261.77" width="0.75" height="0.75" fill="#fbd6d6"/>
<rect x="63.93" y="265.76" width="0.75" height="0.75" fill="#fbd6d6"/>
<rect x="157.3" y="268.71" width="0.75" height="0.75" fill="#fbd6d6"/>
<rect x="154.14" y="268.65" width="0.75" height="0.75" fill="#fbd6d6"/>
<rect x="139.38" y="264.48" width="0.75" height="0.75" fill="#fbd6d6"/>
<rect x="107.03" y="263.93" width="0.75" height="0.75" fill="#fbd6d6"/>
<rect x="220.1" y="264.17" width="0.75" height="0.75" fill="#fbd6d6"/>
<rect x="58.87" y="262.78" width="0.75" height="0.75" fill="#fbd6d6"/>
<rect x="92.62" y="265.58" width="0.75" height="0.75" fill="#fbd6d6"/>
<rect x="146.34" y="264.05" width="0.75" height="0.75" fill="#fbd6d6"/>
<rect x="218.43" y="267.03" width="0.75" height="0.75" fill="#fbd6d6"/>
<rect x="73.56" y="259.42" width="0.75" height="0.75" fill="#fbd6d6"/>
<rect x="179.38" y="265.31" width="0.75" height="0.75" fill="#fbd6d6"/>
<rect x="171.04" y="264.3" width="0.75" height="0.75" fill="#fbd6d6"/>
<rect x="64.68" y="263.8" width="0.75" height="0.75" fill="#fbd6d6"/>
<rect x="202.62" y="265.36" width="0.75" height="0.75" fill="#fbd6d6"/>
<rect x="66.12" y="260.39" width="0.75" height="0.75" fill="#fbd6d6"/>
<rect x="214.56" y="264.77" width="0.75" height="0.75" fill="#fbd6d6"/>
<rect x="86.88" y="266.45" width="0.75" height="0.75" fill="#fbd6d6"/>
<rect x="218.02" y="268.1" width="0.75" height="0.75" fill="#fbd6d6"/>
<rect x="169.82" y="267.49" width="0.75" height="0.75" fill="#fbd6d6"/>
<rect x="73.61" y="263.92" width="0.75" height="0.75" fill="#fbd6d6"/>
<rect x="198.28" y="262.65" width="0.75" height="0.75" fill="#fbd6d6"/>
<rect x="83.32" y="268.1" width="0.75" height="0.75" fill="#fbd6d6"/>
<rect x="180.04" y="259.18" width="0.75" height="0.75" fill="#fbd6d6"/>
<rect x="69.47" y="264.9" width="0.75" height="0.75" fill="#fbd6d6"/>
<rect x="223.05" y="265.52" width="0.75" height="0.75" fill="#fbd6d6"/>
<rect x="209.63" y="260.19" width="0.75" height="0.75" fill="#fbd6d6"/>
<rect x="157.85" y="260.99" width="0.75" height="0.75" fill="#fbd6d6"/>
<rect x="115.76" y="260.65" width="0.75" height="0.75" fill="#fbd6d6"/>
<rect x="138.51" y="259.58" width="0.75" height="0.75" fill="#fbd6d6"/>
<rect x="171.76" y="265.82" width="0.75" height="0.75" fill="#fbd6d6"/>
<rect x="214.57" y="267.09" width="0.75" height="0.75" fill="#fbd6d6"/>
<rect x="71.53" y="268.14" width="0.75" height="0.75" fill="#fbd6d6"/>
<rect x="152.15" y="268.84" width="0.75" height="0.75" fill="#fbd6d6"/>
<rect x="143.37" y="259.95" width="0.75" height="0.75" fill="#fbd6d6"/>
<rect x="179.95" y="260.9" width="0.75" height="0.75" fill="#fbd6d6"/>
<rect x="228.25" y="264.71" width="0.75" height="0.75" fill="#fbd6d6"/>
<rect x="214.14" y="264.22" width="0.75" height="0.75" fill="#fbd6d6"/>
<rect x="114.81" y="265.99" width="0.75" height="0.75" fill="#fbd6d6"/>
<rect x="180.94" y="263.89" width="0.75" height="0.75" fill="#fbd6d6"/>
<rect x="106.03" y="263.47" width="0.75" height="0.75" fill="#fbd6d6"/>
<rect x="181.79" y="261.48" width="0.75" height="0.75" fill="#fbd6d6"/>
<rect x="85.73" y="264.13" width="0.75" height="0.75" fill="#fbd6d6"/>
<rect x="172" y="259.79" width="0.75" height="0.75" fill="#fbd6d6"/>
<rect x="105.33" y="269.2" width="0.75" height="0.75" fill="#fbd6d6"/>
<rect x="104.58" y="267.13" width="0.75" height="0.75" fill="#fbd6d6"/>
<rect x="111.23" y="259.99" width="0.75" height="0.75" fill="#fbd6d6"/>
<rect x="142.38" y="268.14" width="0.75" height="0.75" fill="#fbd6d6"/>
<rect x="192.56" y="259.6" width="0.75" height="0.75" fill="#fbd6d6"/>
<rect x="179.84" y="265.56" width="0.75" height="0.75" fill="#fbd6d6"/>
<rect x="141.7" y="266.01" width="0.75" height="0.75" fill="#fbd6d6"/>
<rect x="148.51" y="261" width="0.75" height="0.75" fill="#fbd6d6"/>
<rect x="178.47" y="260.44" width="0.75" height="0.75" fill="#fbd6d6"/>
<rect x="111.95" y="267.96" width="0.75" height="0.75" fill="#fbd6d6"/>
<rect x="156.52" y="264.42" width="0.75" height="0.75" fill="#fbd6d6"/>
<rect x="180.97" y="264.22" width="0.75" height="0.75" fill="#fbd6d6"/>
<rect x="124.74" y="264.84" width="0.75" height="0.75" fill="#fbd6d6"/>
<rect x="62.34" y="262.76" width="0.75" height="0.75" fill="#fbd6d6"/>
<rect x="65.3" y="269.46" width="0.75" height="0.75" fill="#fbd6d6"/>
<rect x="215.11" y="265.9" width="0.75" height="0.75" fill="#fbd6d6"/>
<rect x="85.79" y="267.99" width="0.75" height="0.75" fill="#fbd6d6"/>
<rect x="107.31" y="267.47" width="0.75" height="0.75" fill="#fbd6d6"/>
<rect x="170.81" y="265.39" width="0.75" height="0.75" fill="#fbd6d6"/>
<rect x="186.4" y="261.88" width="0.75" height="0.75" fill="#fbd6d6"/>
<rect x="202.41" y="264.74" width="0.75" height="0.75" fill="#fbd6d6"/>
<rect x="189.09" y="267.83" width="0.75" height="0.75" fill="#fbd6d6"/>
<rect x="102.41" y="263.37" width="0.75" height="0.75" fill="#fbd6d6"/>
<rect x="120.87" y="259.9" width="0.75" height="0.75" fill="#fbd6d6"/>
<rect x="209.54" y="266.23" width="0.75" height="0.75" fill="#fbd6d6"/>
<rect x="143" y="264.77" width="0.75" height="0.75" fill="#fbd6d6"/>
<rect x="210.26" y="259.83" width="0.75" height="0.75" fill="#fbd6d6"/>
<rect x="120.23" y="266.24" width="0.75" height="0.75" fill="#fbd6d6"/>
<rect x="150.73" y="264.27" width="0.75" height="0.75" fill="#fbd6d6"/>
<rect x="103.13" y="261.42" width="0.75" height="0.75" fill="#fbd6d6"/>
<rect x="174.12" y="262.65" width="0.75" height="0.75" fill="#fbd6d6"/>
<rect x="220.21" y="268.48" width="0.75" height="0.75" fill="#fbd6d6"/>
<rect x="225.87" y="261.98" width="0.75" height="0.75" fill="#fbd6d6"/>
<rect x="147.24" y="260.18" width="0.75" height="0.75" fill="#fbd6d6"/>
<rect x="120.47" y="259.88" width="0.75" height="0.75" fill="#fbd6d6"/>
<rect x="145.03" y="269.05" width="0.75" height="0.75" fill="#fbd6d6"/>
<rect x="190.02" y="262.88" width="0.75" height="0.75" fill="#fbd6d6"/>
<rect x="106.14" y="268.79" width="0.75" height="0.75" fill="#fbd6d6"/>
<rect x="67.59" y="267.89" width="0.75" height="0.75" fill="#fbd6d6"/>
<rect x="206.15" y="259.82" width="0.75" height="0.75" fill="#fbd6d6"/>
<rect x="222.56" y="265.82" width="0.75" height="0.75" fill="#fbd6d6"/>
<rect x="125.59" y="263.52" width="0.75" height="0.75" fill="#fbd6d6"/>
<rect x="163.47" y="264.58" width="0.75" height="0.75" fill="#fbd6d6"/>
<rect x="208.2" y="268.41" width="0.75" height="0.75" fill="#fbd6d6"/>
<rect x="114.83" y="259.19" width="0.75" height="0.75" fill="#fbd6d6"/>
<rect x="192.82" y="265.84" width="0.75" height="0.75" fill="#fbd6d6"/>
<rect x="171.49" y="259.87" width="0.75" height="0.75" fill="#fbd6d6"/>
<rect x="71.58" y="268.45" width="0.75" height="0.75" fill="#fbd6d6"/>
<rect x="121.27" y="264.02" width="0.75" height="0.75" fill="#fbd6d6"/>
<rect x="226.4" y="261.13" width="0.75" height="0.75" fill="#fbd6d6"/>
<rect x="168.06" y="259.74" width="0.75" height="0.75" fill="#fbd6d6"/>
<rect x="155.3" y="266.78" width="0.75" height="0.75" fill="#fbd6d6"/>
<rect x="85.66" y="267" width="0.75" height="0.75" fill="#fbd6d6"/>
<rect x="225.59" y="267.69" width="0.75" height="0.75" fill="#fbd6d6"/>
<rect x="194.88" y="268.95" width="0.75" height="0.75" fill="#fbd6d6"/>
<rect x="182.13" y="264.79" width="0.75" height="0.75" fill="#fbd6d6"/>
<rect x="200.71" y="267.49" width="0.75" height="0.75" fill="#fbd6d6"/>
<rect x="167.01" y="266.06" width="0.75" height="0.75" fill="#fbd6d6"/>
<rect x="89.27" y="262.62" width="0.75" height="0.75" fill="#fbd6d6"/>
<rect x="114.64" y="268.03" width="0.75" height="0.75" fill="#fbd6d6"/>
<rect x="193.3" y="262.12" width="0.75" height="0.75" fill="#fbd6d6"/>
<rect x="229.95" y="259.71" width="0.75" height="0.75" fill="#fbd6d6"/>
<rect x="69.14" y="262.51" width="0.75" height="0.75" fill="#fbd6d6"/>
<rect x="71.82" y="268.98" width="0.75" height="0.75" fill="#fbd6d6"/>
<rect x="120.37" y="263.14" width="0.75" height="0.75" fill="#fbd6d6"/>
<rect x="205.97" y="264.64" width="0.75" height="0.75" fill="#fbd6d6"/>
<rect x="167.25" y="263.68" width="0.75" height="0.75" fill="#fbd6d6"/>
<rect x="137.88" y="269.05" width="0.75" height="0.75" fill="#fbd6d6"/>
<rect x="106.34" y="264.56" width="0.75" height="0.75" fill="#fbd6d6"/>
<rect x="141.05" y="260.57" width="0.75" height="0.75" fill="#fbd6d6"/>
<rect x="83.74" y="264.37" width="0.75" height="0.75" fill="#fbd6d6"/>
<rect x="196.27" y="263.59" width="0.75" height="0.75" fill="#fbd6d6"/>
<rect x="68.69" y="268.82" width="0.75" height="0.75" fill="#fbd6d6"/>
<rect x="82.22" y="268.3" width="0.75" height="0.75" fill="#fbd6d6"/>
<rect x="66.29" y="265.86" width="0.75" height="0.75" fill="#fbd6d6"/>
<rect x="83.7" y="261.81" width="0.75" height="0.75" fill="#fbd6d6"/>
<rect x="131.21" y="266.96" width="0.75" height="0.75" fill="#fbd6d6"/>
<rect x="133.57" y="263.45" width="0.75" height="0.75" fill="#fbd6d6"/>
<rect x="127.91" y="264.52" width="0.75" height="0.75" fill="#fbd6d6"/>
<rect x="106.92" y="269.01" width="0.75" height="0.75" fill="#fbd6d6"/>
<rect x="91.34" y="260.48" width="0.75" height="0.75" fill="#fbd6d6"/>
<rect x="153.13" y="262.75" width="0.75" height="0.75" fill="#fbd6d6"/>
<rect x="182.94" y="259.51" width="0.75" height="0.75" fill="#fbd6d6"/>
<rect x="175.21" y="262.89" width="0.75" height="0.75" fill="#fbd6d6"/>
<rect x="218.45" y="262.22" width="0.75" height="0.75" fill="#fbd6d6"/>
<rect x="133.18" y="262.4" width="0.75" height="0.75" fill="#fbd6d6"/>
<rect x="150.52" y="262.02" width="0.75" height="0.75" fill="#fbd6d6"/>
<rect x="174.01" y="263.38" width="0.75" height="0.75" fill="#fbd6d6"/>
<rect x="180.65" y="262.13" width="0.75" height="0.75" fill="#fbd6d6"/>
<rect x="137.26" y="264.89" width="0.75" height="0.75" fill="#fbd6d6"/>
<rect x="182.44" y="265.89" width="0.75" height="0.75" fill="#fbd6d6"/>
<rect x="132.52" y="259.99" width="0.75" height="0.75" fill="#fbd6d6"/>
<rect x="77.86" y="260.63" width="0.75" height="0.75" fill="#fbd6d6"/>
<rect x="90.21" y="261.01" width="0.75" height="0.75" fill="#fbd6d6"/>
<rect x="58.5" y="288.6" width="172.6" height="5.3" fill="#109ae8"/>
<rect x="172.36" y="287.3" width="0.9" height="0.9" fill="#109ae8"/>
<rect x="98.74" y="288.1" width="0.9" height="0.9" fill="#109ae8"/>
<rect x="83.34" y="293.94" width="0.9" height="0.9" fill="#109ae8"/>
<rect x="101.72" y="294.04" width="0.9" height="0.9" fill="#109ae8"/>
<rect x="132.23" y="294.02" width="0.9" height="0.9" fill="#109ae8"/>
<rect x="134.34" y="287.9" width="0.9" height="0.9" fill="#109ae8"/>
<rect x="221.23" y="287.6" width="0.9" height="0.9" fill="#109ae8"/>
<rect x="73.7" y="294.25" width="0.9" height="0.9" fill="#109ae8"/>
<rect x="122.68" y="287.74" width="0.9" height="0.9" fill="#109ae8"/>
<rect x="101.9" y="288.16" width="0.9" height="0.9" fill="#109ae8"/>
<rect x="176.67" y="294.35" width="0.9" height="0.9" fill="#109ae8"/>
<rect x="224.04" y="294.34" width="0.9" height="0.9" fill="#109ae8"/>
<rect x="202.67" y="288.16" width="0.9" height="0.9" fill="#109ae8"/>
<rect x="226.36" y="293.98" width="0.9" height="0.9" fill="#109ae8"/>
<rect x="165.07" y="287.83" width="0.9" height="0.9" fill="#109ae8"/>
<rect x="83.57" y="293.6" width="0.9" height="0.9" fill="#109ae8"/>
<rect x="79.46" y="293.93" width="0.9" height="0.9" fill="#109ae8"/>
<rect x="209.2" y="287.67" width="0.9" height="0.9" fill="#109ae8"/>
<rect x="106.11" y="293.53" width="0.9" height="0.9" fill="#109ae8"/>
<rect x="169.9" y="293.66" width="0.9" height="0.9" fill="#109ae8"/>
<rect x="72.26" y="287.72" width="0.9" height="0.9" fill="#109ae8"/>
<rect x="199.21" y="288.1" width="0.9" height="0.9" fill="#109ae8"/>
<rect x="111.04" y="293.56" width="0.9" height="0.9" fill="#109ae8"/>
<rect x="167.54" y="288.21" width="0.9" height="0.9" fill="#109ae8"/>
<rect x="180.33" y="288.18" width="0.9" height="0.9" fill="#109ae8"/>
<rect x="139.85" y="293.73" width="0.9" height="0.9" fill="#109ae8"/>
<rect x="154.32" y="287.74" width="0.9" height="0.9" fill="#109ae8"/>
<rect x="65.95" y="293.94" width="0.9" height="0.9" fill="#109ae8"/>
<rect x="118.2" y="288.09" width="0.9" height="0.9" fill="#109ae8"/>
<rect x="219.1" y="293.72" width="0.9" height="0.9" fill="#109ae8"/>
<rect x="162.24" y="293.52" width="0.9" height="0.9" fill="#109ae8"/>
<rect x="64.21" y="293.48" width="0.9" height="0.9" fill="#109ae8"/>
<rect x="155.68" y="288.28" width="0.9" height="0.9" fill="#109ae8"/>
<rect x="86.74" y="293.97" width="0.9" height="0.9" fill="#109ae8"/>
<rect x="228.97" y="293.87" width="0.9" height="0.9" fill="#109ae8"/>
<rect x="60.76" y="293.84" width="0.9" height="0.9" fill="#109ae8"/>
<rect x="206.06" y="287.38" width="0.9" height="0.9" fill="#109ae8"/>
<rect x="140.36" y="287.85" width="0.9" height="0.9" fill="#109ae8"/>
<rect x="71.42" y="293.54" width="0.9" height="0.9" fill="#109ae8"/>
<rect x="179.18" y="287.54" width="0.9" height="0.9" fill="#109ae8"/>
<rect x="164.72" y="294.35" width="0.9" height="0.9" fill="#109ae8"/>
<rect x="109.3" y="293.74" width="0.9" height="0.9" fill="#109ae8"/>
<rect x="212.27" y="294.14" width="0.9" height="0.9" fill="#109ae8"/>
<rect x="161.7" y="287.3" width="0.9" height="0.9" fill="#109ae8"/>
<rect x="225.14" y="293.67" width="0.9" height="0.9" fill="#109ae8"/>
<rect x="199.87" y="294.22" width="0.9" height="0.9" fill="#109ae8"/>
<rect x="196.46" y="287.87" width="0.9" height="0.9" fill="#109ae8"/>
<rect x="195.34" y="293.89" width="0.9" height="0.9" fill="#109ae8"/>
<rect x="208.78" y="288.29" width="0.9" height="0.9" fill="#109ae8"/>
<rect x="138.43" y="287.37" width="0.9" height="0.9" fill="#109ae8"/>
<rect x="73.66" y="293.55" width="0.9" height="0.9" fill="#109ae8"/>
<rect x="81.55" y="294.05" width="0.9" height="0.9" fill="#109ae8"/>
<rect x="129.09" y="293.91" width="0.9" height="0.9" fill="#109ae8"/>
<rect x="221.66" y="293.89" width="0.9" height="0.9" fill="#109ae8"/>
<rect x="137.97" y="287.54" width="0.9" height="0.9" fill="#109ae8"/>
<rect x="77.68" y="294.32" width="0.9" height="0.9" fill="#109ae8"/>
<rect x="189.42" y="293.69" width="0.9" height="0.9" fill="#109ae8"/>
<rect x="75.3" y="287.71" width="0.9" height="0.9" fill="#109ae8"/>
<rect x="209.88" y="293.5" width="0.9" height="0.9" fill="#109ae8"/>
<rect x="187.36" y="293.83" width="0.9" height="0.9" fill="#109ae8"/>
<rect x="206.13" y="287.93" width="0.9" height="0.9" fill="#109ae8"/>
<rect x="146.94" y="293.79" width="0.9" height="0.9" fill="#109ae8"/>
<rect x="110.47" y="293.73" width="0.9" height="0.9" fill="#109ae8"/>
<rect x="130.68" y="287.77" width="0.9" height="0.9" fill="#109ae8"/>
<rect x="179.97" y="287.57" width="0.9" height="0.9" fill="#109ae8"/>
<rect x="143.35" y="287.24" width="0.9" height="0.9" fill="#109ae8"/>
<rect x="108.05" y="294.35" width="0.9" height="0.9" fill="#109ae8"/>
<rect x="94.05" y="288.07" width="0.9" height="0.9" fill="#109ae8"/>
<rect x="84.81" y="293.87" width="0.9" height="0.9" fill="#109ae8"/>
<rect x="65.72" y="287.74" width="0.9" height="0.9" fill="#109ae8"/>
<rect x="88.49" y="287.3" width="0.9" height="0.9" fill="#109ae8"/>
<rect x="134.96" y="287.64" width="0.9" height="0.9" fill="#109ae8"/>
<rect x="77.9" y="294.01" width="0.9" height="0.9" fill="#109ae8"/>
<rect x="73.76" y="293.64" width="0.9" height="0.9" fill="#109ae8"/>
<rect x="186.59" y="294.3" width="0.9" height="0.9" fill="#109ae8"/>
<rect x="162.94" y="288.1" width="0.9" height="0.9" fill="#109ae8"/>
<rect x="179.54" y="293.37" width="0.9" height="0.9" fill="#109ae8"/>
<rect x="130.21" y="287.79" width="0.9" height="0.9" fill="#109ae8"/>
<rect x="208.56" y="294.12" width="0.9" height="0.9" fill="#109ae8"/>
<rect x="190.06" y="287.62" width="0.9" height="0.9" fill="#109ae8"/>
<rect x="123.03" y="287.72" width="0.9" height="0.9" fill="#109ae8"/>
<rect x="173.23" y="287.38" width="0.9" height="0.9" fill="#109ae8"/>
<rect x="86.2" y="287.37" width="0.9" height="0.9" fill="#109ae8"/>
<rect x="227.96" y="287.25" width="0.9" height="0.9" fill="#109ae8"/>
<rect x="64.94" y="293.52" width="0.9" height="0.9" fill="#109ae8"/>
<rect x="64.51" y="293.48" width="0.9" height="0.9" fill="#109ae8"/>
<rect x="187.87" y="288.16" width="0.9" height="0.9" fill="#109ae8"/>
<rect x="120" y="287.78" width="0.9" height="0.9" fill="#109ae8"/>
<rect x="118.03" y="293.84" width="0.9" height="0.9" fill="#109ae8"/>
<rect x="224.53" y="293.49" width="0.9" height="0.9" fill="#109ae8"/>
<rect x="216.28" y="293.92" width="0.9" height="0.9" fill="#109ae8"/>
<rect x="149.12" y="287.95" width="0.9" height="0.9" fill="#109ae8"/>
<rect x="96.36" y="287.62" width="0.9" height="0.9" fill="#109ae8"/>
<rect x="114.31" y="293.93" width="0.9" height="0.9" fill="#109ae8"/>
<rect x="200.79" y="287.37" width="0.9" height="0.9" fill="#109ae8"/>
<rect x="145.82" y="293.56" width="0.9" height="0.9" fill="#109ae8"/>
<rect x="178.22" y="287.51" width="0.9" height="0.9" fill="#109ae8"/>
<rect x="158.98" y="287.97" width="0.9" height="0.9" fill="#109ae8"/>
<rect x="187.84" y="287.6" width="0.9" height="0.9" fill="#109ae8"/>
<rect x="152.31" y="293.66" width="0.9" height="0.9" fill="#109ae8"/>
<rect x="140.54" y="287.48" width="0.9" height="0.9" fill="#109ae8"/>
<rect x="71.05" y="293.59" width="0.9" height="0.9" fill="#109ae8"/>
<rect x="159.86" y="288.07" width="0.9" height="0.9" fill="#109ae8"/>
<rect x="98.34" y="293.7" width="0.9" height="0.9" fill="#109ae8"/>
<rect x="209.89" y="293.6" width="0.9" height="0.9" fill="#109ae8"/>
<rect x="153.79" y="287.27" width="0.9" height="0.9" fill="#109ae8"/>
<rect x="167.02" y="287.73" width="0.9" height="0.9" fill="#109ae8"/>
<rect x="143.66" y="293.62" width="0.9" height="0.9" fill="#109ae8"/>
<rect x="214.98" y="293.38" width="0.9" height="0.9" fill="#109ae8"/>
<rect x="199.32" y="293.63" width="0.9" height="0.9" fill="#109ae8"/>
<rect x="180.86" y="294.27" width="0.9" height="0.9" fill="#109ae8"/>
<rect x="70.6" y="293.57" width="0.9" height="0.9" fill="#109ae8"/>
<rect x="196.42" y="293.81" width="0.9" height="0.9" fill="#109ae8"/>
<rect x="213.63" y="294.39" width="0.9" height="0.9" fill="#109ae8"/>
<rect x="223.4" y="294.11" width="0.9" height="0.9" fill="#109ae8"/>
<rect x="173.82" y="287.75" width="0.9" height="0.9" fill="#109ae8"/>
<rect x="145.85" y="288.01" width="0.9" height="0.9" fill="#109ae8"/>
<rect x="203.77" y="294.07" width="0.9" height="0.9" fill="#109ae8"/>
<rect x="176.93" y="293.93" width="0.9" height="0.9" fill="#109ae8"/>
<rect x="173.13" y="287.81" width="0.9" height="0.9" fill="#109ae8"/>
<rect x="225.29" y="287.79" width="0.9" height="0.9" fill="#109ae8"/>
<rect x="71.83" y="287.39" width="0.9" height="0.9" fill="#109ae8"/>
<rect x="64.13" y="294.18" width="0.9" height="0.9" fill="#109ae8"/>
<rect x="207.82" y="287.28" width="0.9" height="0.9" fill="#109ae8"/>
<rect x="122.44" y="287.25" width="0.9" height="0.9" fill="#109ae8"/>
<rect x="152.16" y="293.42" width="0.9" height="0.9" fill="#109ae8"/>
<rect x="59.32" y="288.18" width="0.9" height="0.9" fill="#109ae8"/>
<rect x="200.22" y="287.25" width="0.9" height="0.9" fill="#109ae8"/>
<rect x="175.17" y="287.52" width="0.9" height="0.9" fill="#109ae8"/>
<rect x="113.2" y="293.38" width="0.9" height="0.9" fill="#109ae8"/>
<rect x="201.74" y="293.94" width="0.9" height="0.9" fill="#109ae8"/>
<rect x="177.29" y="288.16" width="0.9" height="0.9" fill="#109ae8"/>
<rect x="114.43" y="293.92" width="0.9" height="0.9" fill="#109ae8"/>
<rect x="81.66" y="287.78" width="0.9" height="0.9" fill="#109ae8"/>
<rect x="60.98" y="287.81" width="0.9" height="0.9" fill="#109ae8"/>
<rect x="81.53" y="293.44" width="0.9" height="0.9" fill="#109ae8"/>
<rect x="187.38" y="293.65" width="0.9" height="0.9" fill="#109ae8"/>
<rect x="151.73" y="293.98" width="0.9" height="0.9" fill="#109ae8"/>
<rect x="125.09" y="293.59" width="0.9" height="0.9" fill="#109ae8"/>
<rect x="222.82" y="287.84" width="0.9" height="0.9" fill="#109ae8"/>
<rect x="112.79" y="294.27" width="0.9" height="0.9" fill="#109ae8"/>
<rect x="177.03" y="287.21" width="0.9" height="0.9" fill="#109ae8"/>
<rect x="182.81" y="294.23" width="0.9" height="0.9" fill="#109ae8"/>
<rect x="76.95" y="294.16" width="0.9" height="0.9" fill="#109ae8"/>
<rect x="192.07" y="293.37" width="0.9" height="0.9" fill="#109ae8"/>
<rect x="140.78" y="287.63" width="0.9" height="0.9" fill="#109ae8"/>
<rect x="126.77" y="287.71" width="0.9" height="0.9" fill="#109ae8"/>
<rect x="159.69" y="293.61" width="0.9" height="0.9" fill="#109ae8"/>
<rect x="105.77" y="288.18" width="0.9" height="0.9" fill="#109ae8"/>
<rect x="204.59" y="293.44" width="0.9" height="0.9" fill="#109ae8"/>
<rect x="120.47" y="294.25" width="0.9" height="0.9" fill="#109ae8"/>
<rect x="226.79" y="293.63" width="0.9" height="0.9" fill="#109ae8"/>
<rect x="69.94" y="287.75" width="0.9" height="0.9" fill="#109ae8"/>
<rect x="61.13" y="287.78" width="0.9" height="0.9" fill="#109ae8"/>
<rect x="175.75" y="288.16" width="0.9" height="0.9" fill="#109ae8"/>
<rect x="115.31" y="288.17" width="0.9" height="0.9" fill="#109ae8"/>
<rect x="76.24" y="294.27" width="0.9" height="0.9" fill="#109ae8"/>
<rect x="65.84" y="294.23" width="0.9" height="0.9" fill="#109ae8"/>
<rect x="170.46" y="287.4" width="0.9" height="0.9" fill="#109ae8"/>
<rect x="72.5" y="287.25" width="0.9" height="0.9" fill="#109ae8"/>
<rect x="96.57" y="294.13" width="0.9" height="0.9" fill="#109ae8"/>
<rect x="66.56" y="287.59" width="0.9" height="0.9" fill="#109ae8"/>
<rect x="83.61" y="294.04" width="0.9" height="0.9" fill="#109ae8"/>
<rect x="98.31" y="288.07" width="0.9" height="0.9" fill="#109ae8"/>
<rect x="208.36" y="294.06" width="0.9" height="0.9" fill="#109ae8"/>
<rect x="165.41" y="287.33" width="0.9" height="0.9" fill="#109ae8"/>
<rect x="192.55" y="293.95" width="0.9" height="0.9" fill="#109ae8"/>
<rect x="143.17" y="293.89" width="0.9" height="0.9" fill="#109ae8"/>
<rect x="106.27" y="293.54" width="0.9" height="0.9" fill="#109ae8"/>
<rect x="59.35" y="294.26" width="0.9" height="0.9" fill="#109ae8"/>
<rect x="182.24" y="287.74" width="0.9" height="0.9" fill="#109ae8"/>
<rect x="158.84" y="293.81" width="0.9" height="0.9" fill="#109ae8"/>
<rect x="146.12" y="294.27" width="0.9" height="0.9" fill="#109ae8"/>
<rect x="147.2" y="294.05" width="0.9" height="0.9" fill="#109ae8"/>
<rect x="79.07" y="287.96" width="0.9" height="0.9" fill="#109ae8"/>
<rect x="119.41" y="287.98" width="0.9" height="0.9" fill="#109ae8"/>
<rect x="230.13" y="293.71" width="0.9" height="0.9" fill="#109ae8"/>
<rect x="178.9" y="293.48" width="0.9" height="0.9" fill="#109ae8"/>
<rect x="166.72" y="293.71" width="0.9" height="0.9" fill="#109ae8"/>
<rect x="209.42" y="293.65" width="0.9" height="0.9" fill="#109ae8"/>
<rect x="83.33" y="293.76" width="0.9" height="0.9" fill="#109ae8"/>
<rect x="118.75" y="287.5" width="0.9" height="0.9" fill="#109ae8"/>
<rect x="212.3" y="294.14" width="0.9" height="0.9" fill="#109ae8"/>
<rect x="88.74" y="288.29" width="0.9" height="0.9" fill="#109ae8"/>
<rect x="93.01" y="288.11" width="0.9" height="0.9" fill="#109ae8"/>
<rect x="140.4" y="287.58" width="0.9" height="0.9" fill="#109ae8"/>
<rect x="129.2" y="287.55" width="0.9" height="0.9" fill="#109ae8"/>
<rect x="114.93" y="287.38" width="0.9" height="0.9" fill="#109ae8"/>
<rect x="188.2" y="293.62" width="0.9" height="0.9" fill="#109ae8"/>
<rect x="103.89" y="293.46" width="0.9" height="0.9" fill="#109ae8"/>
<rect x="224.75" y="293.9" width="0.9" height="0.9" fill="#109ae8"/>
<rect x="67.37" y="287.83" width="0.9" height="0.9" fill="#109ae8"/>
<rect x="227.17" y="287.65" width="0.9" height="0.9" fill="#109ae8"/>
<rect x="71.88" y="294.12" width="0.9" height="0.9" fill="#109ae8"/>
<rect x="198.24" y="293.5" width="0.9" height="0.9" fill="#109ae8"/>
<rect x="100" y="287.69" width="0.9" height="0.9" fill="#109ae8"/>
<rect x="72.45" y="288.11" width="0.9" height="0.9" fill="#109ae8"/>
<rect x="216.76" y="293.61" width="0.9" height="0.9" fill="#109ae8"/>
<rect x="225.49" y="288.15" width="0.9" height="0.9" fill="#109ae8"/>
<rect x="124.08" y="293.41" width="0.9" height="0.9" fill="#109ae8"/>
<rect x="194.18" y="294.18" width="0.9" height="0.9" fill="#109ae8"/>
<rect x="116.38" y="288.19" width="0.9" height="0.9" fill="#109ae8"/>
<rect x="182.89" y="294.14" width="0.9" height="0.9" fill="#109ae8"/>
<rect x="92.69" y="288.07" width="0.9" height="0.9" fill="#109ae8"/>
<rect x="204.83" y="293.47" width="0.9" height="0.9" fill="#109ae8"/>
<rect x="183.31" y="287.79" width="0.9" height="0.9" fill="#109ae8"/>
<rect x="102.73" y="294.09" width="0.9" height="0.9" fill="#109ae8"/>
<rect x="176.12" y="288.25" width="0.9" height="0.9" fill="#109ae8"/>
<rect x="168.59" y="293.31" width="0.9" height="0.9" fill="#109ae8"/>
<rect x="202.71" y="293.7" width="0.9" height="0.9" fill="#109ae8"/>
<rect x="147.77" y="294.32" width="0.9" height="0.9" fill="#109ae8"/>
<rect x="170.24" y="294.15" width="0.9" height="0.9" fill="#109ae8"/>
<rect x="142.76" y="287.7" width="0.9" height="0.9" fill="#109ae8"/>
<rect x="129.69" y="287.87" width="0.9" height="0.9" fill="#109ae8"/>
<rect x="96.54" y="287.48" width="0.9" height="0.9" fill="#109ae8"/>
<rect x="210.8" y="287.37" width="0.9" height="0.9" fill="#109ae8"/>
<rect x="80.08" y="294.12" width="0.9" height="0.9" fill="#109ae8"/>
<rect x="192.85" y="288.12" width="0.9" height="0.9" fill="#109ae8"/>
<rect x="223.75" y="294.02" width="0.9" height="0.9" fill="#109ae8"/>
<rect x="118.01" y="287.67" width="0.9" height="0.9" fill="#109ae8"/>
<rect x="128.1" y="294.03" width="0.9" height="0.9" fill="#109ae8"/>
<rect x="188.46" y="294.13" width="0.9" height="0.9" fill="#109ae8"/>
<rect x="81.53" y="293.94" width="0.9" height="0.9" fill="#109ae8"/>
<rect x="161.26" y="288.2" width="0.9" height="0.9" fill="#109ae8"/>
<rect x="179.81" y="294.03" width="0.9" height="0.9" fill="#109ae8"/>
<rect x="102.32" y="287.46" width="0.9" height="0.9" fill="#109ae8"/>
<rect x="168.68" y="293.4" width="0.9" height="0.9" fill="#109ae8"/>
<rect x="191.79" y="287.61" width="0.9" height="0.9" fill="#109ae8"/>
<rect x="150.38" y="287.84" width="0.9" height="0.9" fill="#109ae8"/>
<rect x="173.39" y="293.38" width="0.9" height="0.9" fill="#109ae8"/>
<rect x="146.16" y="293.43" width="0.9" height="0.9" fill="#109ae8"/>
<rect x="212.02" y="293.68" width="0.9" height="0.9" fill="#109ae8"/>
<rect x="94.42" y="288.06" width="0.9" height="0.9" fill="#109ae8"/>
<rect x="130.54" y="294.33" width="0.9" height="0.9" fill="#109ae8"/>
<rect x="154.56" y="293.77" width="0.9" height="0.9" fill="#109ae8"/>
<rect x="171.59" y="287.84" width="0.9" height="0.9" fill="#109ae8"/>
<rect x="62.42" y="287.41" width="0.9" height="0.9" fill="#109ae8"/>
<rect x="78.19" y="287.72" width="0.9" height="0.9" fill="#109ae8"/>
<rect x="148.85" y="288.18" width="0.9" height="0.9" fill="#109ae8"/>
<rect x="174.88" y="288.2" width="0.9" height="0.9" fill="#109ae8"/>
<rect x="140.82" y="287.2" width="0.9" height="0.9" fill="#109ae8"/>
<rect x="66.74" y="288.22" width="0.9" height="0.9" fill="#109ae8"/>
<rect x="153.32" y="294.16" width="0.9" height="0.9" fill="#109ae8"/>
<rect x="77.77" y="293.69" width="0.9" height="0.9" fill="#109ae8"/>
<rect x="226.6" y="293.96" width="0.9" height="0.9" fill="#109ae8"/>
<rect x="102.63" y="287.72" width="0.9" height="0.9" fill="#109ae8"/>
<rect x="123.62" y="293.4" width="0.9" height="0.9" fill="#109ae8"/>
<rect x="130.85" y="293.74" width="0.9" height="0.9" fill="#109ae8"/>
<rect x="145.52" y="294.19" width="0.9" height="0.9" fill="#109ae8"/>
<rect x="185.16" y="287.52" width="0.9" height="0.9" fill="#109ae8"/>
<rect x="92.83" y="293.32" width="0.9" height="0.9" fill="#109ae8"/>
<rect x="91.62" y="287.91" width="0.9" height="0.9" fill="#109ae8"/>
<rect x="185.45" y="287.34" width="0.9" height="0.9" fill="#109ae8"/>
<rect x="74.27" y="294.34" width="0.9" height="0.9" fill="#109ae8"/>
<rect x="164.2" y="294.33" width="0.9" height="0.9" fill="#109ae8"/>
<rect x="135.53" y="293.34" width="0.9" height="0.9" fill="#109ae8"/>
<rect x="192.81" y="294.15" width="0.9" height="0.9" fill="#109ae8"/>
<rect x="84.18" y="287.72" width="0.9" height="0.9" fill="#109ae8"/>
<rect x="162.8" y="293.5" width="0.9" height="0.9" fill="#109ae8"/>
<rect x="156.17" y="293.58" width="0.9" height="0.9" fill="#109ae8"/>
<rect x="199.9" y="293.12" width="0.75" height="0.75" fill="#a8dcf8"/>
<rect x="174.56" y="290.67" width="0.75" height="0.75" fill="#a8dcf8"/>
<rect x="130.66" y="290.8" width="0.75" height="0.75" fill="#a8dcf8"/>
<rect x="80.02" y="288.95" width="0.75" height="0.75" fill="#a8dcf8"/>
<rect x="106.75" y="289.42" width="0.75" height="0.75" fill="#a8dcf8"/>
<rect x="213.66" y="290.3" width="0.75" height="0.75" fill="#a8dcf8"/>
<rect x="209.52" y="291.25" width="0.75" height="0.75" fill="#a8dcf8"/>
<rect x="213.4" y="292.81" width="0.75" height="0.75" fill="#a8dcf8"/>
<rect x="181.19" y="290.71" width="0.75" height="0.75" fill="#a8dcf8"/>
<rect x="100.55" y="291.25" width="0.75" height="0.75" fill="#a8dcf8"/>
<rect x="112.27" y="292.49" width="0.75" height="0.75" fill="#a8dcf8"/>
<rect x="65.87" y="291.59" width="0.75" height="0.75" fill="#a8dcf8"/>
<rect x="116.99" y="290.57" width="0.75" height="0.75" fill="#a8dcf8"/>
<rect x="152.06" y="293.22" width="0.75" height="0.75" fill="#a8dcf8"/>
<rect x="229.88" y="290.28" width="0.75" height="0.75" fill="#a8dcf8"/>
<rect x="223.65" y="293.09" width="0.75" height="0.75" fill="#a8dcf8"/>
<rect x="149.26" y="291.25" width="0.75" height="0.75" fill="#a8dcf8"/>
<rect x="92.57" y="292.31" width="0.75" height="0.75" fill="#a8dcf8"/>
<rect x="142.24" y="292.18" width="0.75" height="0.75" fill="#a8dcf8"/>
<rect x="217.52" y="291.53" width="0.75" height="0.75" fill="#a8dcf8"/>
<rect x="178.4" y="291.18" width="0.75" height="0.75" fill="#a8dcf8"/>
<rect x="81.1" y="290.76" width="0.75" height="0.75" fill="#a8dcf8"/>
<rect x="69.27" y="289.45" width="0.75" height="0.75" fill="#a8dcf8"/>
<rect x="227.65" y="290.39" width="0.75" height="0.75" fill="#a8dcf8"/>
<rect x="81.81" y="290.64" width="0.75" height="0.75" fill="#a8dcf8"/>
<rect x="68.85" y="291.45" width="0.75" height="0.75" fill="#a8dcf8"/>
<rect x="97.88" y="289.62" width="0.75" height="0.75" fill="#a8dcf8"/>
<rect x="168.37" y="292.95" width="0.75" height="0.75" fill="#a8dcf8"/>
<rect x="60.85" y="291.96" width="0.75" height="0.75" fill="#a8dcf8"/>
<rect x="158.9" y="290.89" width="0.75" height="0.75" fill="#a8dcf8"/>
<rect x="131.19" y="288.65" width="0.75" height="0.75" fill="#a8dcf8"/>
<rect x="119.18" y="291.06" width="0.75" height="0.75" fill="#a8dcf8"/>
<rect x="116.37" y="293.27" width="0.75" height="0.75" fill="#a8dcf8"/>
<rect x="117.18" y="292.57" width="0.75" height="0.75" fill="#a8dcf8"/>
<rect x="198.33" y="292.33" width="0.75" height="0.75" fill="#a8dcf8"/>
<rect x="143.36" y="290.95" width="0.75" height="0.75" fill="#a8dcf8"/>
<rect x="204.02" y="289.15" width="0.75" height="0.75" fill="#a8dcf8"/>
<rect x="97.27" y="288.66" width="0.75" height="0.75" fill="#a8dcf8"/>
<rect x="143.26" y="290.73" width="0.75" height="0.75" fill="#a8dcf8"/>
<rect x="223.36" y="292.97" width="0.75" height="0.75" fill="#a8dcf8"/>
<rect x="128.52" y="290.93" width="0.75" height="0.75" fill="#a8dcf8"/>
<rect x="76.61" y="292.14" width="0.75" height="0.75" fill="#a8dcf8"/>
<rect x="148.05" y="289.39" width="0.75" height="0.75" fill="#a8dcf8"/>
<rect x="209.76" y="288.8" width="0.75" height="0.75" fill="#a8dcf8"/>
<rect x="91.71" y="290.84" width="0.75" height="0.75" fill="#a8dcf8"/>
<rect x="230.48" y="289.25" width="0.75" height="0.75" fill="#a8dcf8"/>
<rect x="104.47" y="292.32" width="0.75" height="0.75" fill="#a8dcf8"/>
<rect x="116.5" y="292.97" width="0.75" height="0.75" fill="#a8dcf8"/>
<rect x="61.75" y="289.72" width="0.75" height="0.75" fill="#a8dcf8"/>
<rect x="111.94" y="292.59" width="0.75" height="0.75" fill="#a8dcf8"/>
<rect x="76.13" y="291.77" width="0.75" height="0.75" fill="#a8dcf8"/>
<rect x="211.46" y="293.18" width="0.75" height="0.75" fill="#a8dcf8"/>
<rect x="197.54" y="288.84" width="0.75" height="0.75" fill="#a8dcf8"/>
<rect x="141.83" y="289.63" width="0.75" height="0.75" fill="#a8dcf8"/>
<rect x="79.53" y="289.74" width="0.75" height="0.75" fill="#a8dcf8"/>
<rect x="185.31" y="291.3" width="0.75" height="0.75" fill="#a8dcf8"/>
<rect x="81" y="289.94" width="0.75" height="0.75" fill="#a8dcf8"/>
<rect x="69.88" y="292.95" width="0.75" height="0.75" fill="#a8dcf8"/>
<rect x="188.59" y="290.82" width="0.75" height="0.75" fill="#a8dcf8"/>
<rect x="224.33" y="293.2" width="0.75" height="0.75" fill="#a8dcf8"/>
<rect x="94.15" y="289.8" width="0.75" height="0.75" fill="#a8dcf8"/>
<rect x="91.51" y="291.55" width="0.75" height="0.75" fill="#a8dcf8"/>
<rect x="161.13" y="291.04" width="0.75" height="0.75" fill="#a8dcf8"/>
<rect x="192.01" y="291.09" width="0.75" height="0.75" fill="#a8dcf8"/>
<rect x="112.79" y="291.74" width="0.75" height="0.75" fill="#a8dcf8"/>
<rect x="222.23" y="288.83" width="0.75" height="0.75" fill="#a8dcf8"/>
<rect x="142.36" y="289.26" width="0.75" height="0.75" fill="#a8dcf8"/>
<rect x="187.38" y="290.63" width="0.75" height="0.75" fill="#a8dcf8"/>
<rect x="203.2" y="291.75" width="0.75" height="0.75" fill="#a8dcf8"/>
<rect x="223.96" y="291.32" width="0.75" height="0.75" fill="#a8dcf8"/>
<rect x="161.25" y="293.18" width="0.75" height="0.75" fill="#a8dcf8"/>
<rect x="197.03" y="290.19" width="0.75" height="0.75" fill="#a8dcf8"/>
<rect x="76.35" y="292.93" width="0.75" height="0.75" fill="#a8dcf8"/>
<rect x="69.49" y="292.94" width="0.75" height="0.75" fill="#a8dcf8"/>
<rect x="219.51" y="291.71" width="0.75" height="0.75" fill="#a8dcf8"/>
<rect x="222.18" y="291.45" width="0.75" height="0.75" fill="#a8dcf8"/>
<rect x="187.16" y="291.4" width="0.75" height="0.75" fill="#a8dcf8"/>
<rect x="96.87" y="288.97" width="0.75" height="0.75" fill="#a8dcf8"/>
<rect x="186.68" y="290.72" width="0.75" height="0.75" fill="#a8dcf8"/>
<rect x="80.01" y="291.23" width="0.75" height="0.75" fill="#a8dcf8"/>
<rect x="104.21" y="289.83" width="0.75" height="0.75" fill="#a8dcf8"/>
<rect x="209.64" y="291.51" width="0.75" height="0.75" fill="#a8dcf8"/>
<rect x="187.56" y="292.44" width="0.75" height="0.75" fill="#a8dcf8"/>
<rect x="133.83" y="290.72" width="0.75" height="0.75" fill="#a8dcf8"/>
<rect x="133.04" y="290.28" width="0.75" height="0.75" fill="#a8dcf8"/>
<rect x="192.81" y="292.76" width="0.75" height="0.75" fill="#a8dcf8"/>
<rect x="109.91" y="291.94" width="0.75" height="0.75" fill="#a8dcf8"/>
<rect x="95.65" y="288.64" width="0.75" height="0.75" fill="#a8dcf8"/>
<rect x="176.69" y="292.25" width="0.75" height="0.75" fill="#a8dcf8"/>
<rect x="115.4" y="293.28" width="0.75" height="0.75" fill="#a8dcf8"/>
<rect x="72.2" y="445.62" width="2.4" height="15.63" fill="#0a98f0" stroke="#1a1a1a" stroke-width="0.45"/>
<rect x="74.6" y="348.46" width="2.4" height="112.79" fill="#0a98f0" stroke="#1a1a1a" stroke-width="0.45"/>
<rect x="77" y="362.48" width="2.4" height="98.77" fill="#0a98f0" stroke="#1a1a1a" stroke-width="0.45"/>
<rect x="79.4" y="367.49" width="2.4" height="93.77" fill="#0a98f0" stroke="#1a1a1a" stroke-width="0.45"/>
<rect x="81.8" y="370.79" width="2.4" height="90.46" fill="#0a98f0" stroke="#1a1a1a" stroke-width="0.45"/>
<rect x="84.2" y="428.21" width="2.4" height="33.04" fill="#0a98f0" stroke="#1a1a1a" stroke-width="0.45"/>
<rect x="86.6" y="458.57" width="2.4" height="2.68" fill="#0a98f0" stroke="#1a1a1a" stroke-width="0.45"/>
<rect x="215.4" y="445.62" width="2.4" height="15.63" fill="#0a98f0" stroke="#1a1a1a" stroke-width="0.45"/>
<rect x="213" y="348.46" width="2.4" height="112.79" fill="#0a98f0" stroke="#1a1a1a" stroke-width="0.45"/>
<rect x="210.6" y="362.48" width="2.4" height="98.77" fill="#0a98f0" stroke="#1a1a1a" stroke-width="0.45"/>
<rect x="208.2" y="367.49" width="2.4" height="93.77" fill="#0a98f0" stroke="#1a1a1a" stroke-width="0.45"/>
<rect x="205.8" y="370.79" width="2.4" height="90.46" fill="#0a98f0" stroke="#1a1a1a" stroke-width="0.45"/>
<rect x="203.4" y="428.21" width="2.4" height="33.04" fill="#0a98f0" stroke="#1a1a1a" stroke-width="0.45"/>
<rect x="201" y="458.57" width="2.4" height="2.68" fill="#0a98f0" stroke="#1a1a1a" stroke-width="0.45"/>
<rect x="113.4" y="458.57" width="2.4" height="2.68" fill="#ee0000" stroke="#1a1a1a" stroke-width="0.45"/>
<rect x="115.8" y="446.07" width="2.4" height="15.18" fill="#ee0000" stroke="#1a1a1a" stroke-width="0.45"/>
<rect x="118.2" y="422.85" width="2.4" height="38.4" fill="#ee0000" stroke="#1a1a1a" stroke-width="0.45"/>
<rect x="120.6" y="399.63" width="2.4" height="61.62" fill="#ee0000" stroke="#1a1a1a" stroke-width="0.45"/>
<rect x="123" y="396.95" width="2.4" height="64.3" fill="#ee0000" stroke="#1a1a1a" stroke-width="0.45"/>
<rect x="125.4" y="397.85" width="2.4" height="63.4" fill="#ee0000" stroke="#1a1a1a" stroke-width="0.45"/>
<rect x="127.8" y="399.63" width="2.4" height="61.62" fill="#ee0000" stroke="#1a1a1a" stroke-width="0.45"/>
<rect x="130.2" y="404.99" width="2.4" height="56.26" fill="#ee0000" stroke="#1a1a1a" stroke-width="0.45"/>
<rect x="132.6" y="422.85" width="2.4" height="38.4" fill="#ee0000" stroke="#1a1a1a" stroke-width="0.45"/>
<rect x="135" y="436.25" width="2.4" height="25" fill="#ee0000" stroke="#1a1a1a" stroke-width="0.45"/>
<rect x="137.4" y="445.18" width="2.4" height="16.07" fill="#ee0000" stroke="#1a1a1a" stroke-width="0.45"/>
<rect x="139.8" y="458.57" width="2.4" height="2.68" fill="#ee0000" stroke="#1a1a1a" stroke-width="0.45"/>
<rect x="174.2" y="458.57" width="2.4" height="2.68" fill="#ee0000" stroke="#1a1a1a" stroke-width="0.45"/>
<rect x="171.8" y="446.07" width="2.4" height="15.18" fill="#ee0000" stroke="#1a1a1a" stroke-width="0.45"/>
<rect x="169.4" y="422.85" width="2.4" height="38.4" fill="#ee0000" stroke="#1a1a1a" stroke-width="0.45"/>
<rect x="167" y="399.63" width="2.4" height="61.62" fill="#ee0000" stroke="#1a1a1a" stroke-width="0.45"/>
<rect x="164.6" y="396.95" width="2.4" height="64.3" fill="#ee0000" stroke="#1a1a1a" stroke-width="0.45"/>
<rect x="162.2" y="397.85" width="2.4" height="63.4" fill="#ee0000" stroke="#1a1a1a" stroke-width="0.45"/>
<rect x="159.8" y="399.63" width="2.4" height="61.62" fill="#ee0000" stroke="#1a1a1a" stroke-width="0.45"/>
<rect x="157.4" y="404.99" width="2.4" height="56.26" fill="#ee0000" stroke="#1a1a1a" stroke-width="0.45"/>
<rect x="155" y="422.85" width="2.4" height="38.4" fill="#ee0000" stroke="#1a1a1a" stroke-width="0.45"/>
<rect x="152.6" y="436.25" width="2.4" height="25" fill="#ee0000" stroke="#1a1a1a" stroke-width="0.45"/>
<rect x="150.2" y="445.18" width="2.4" height="16.07" fill="#ee0000" stroke="#1a1a1a" stroke-width="0.45"/>
<rect x="147.8" y="458.57" width="2.4" height="2.68" fill="#ee0000" stroke="#1a1a1a" stroke-width="0.45"/>
<rect x="60.6" y="335.8" width="168.7" height="125.45" fill="none" stroke="#333" stroke-width="1"/>
<line x1="58.6" y1="461.25" x2="60.6" y2="461.25" stroke="#333" stroke-width="0.8"/>
<text x="57.6" y="464.45" font-size="9.2" fill="#222" text-anchor="end">0</text>
<line x1="58.6" y1="434.46" x2="60.6" y2="434.46" stroke="#333" stroke-width="0.8"/>
<text x="57.6" y="437.66" font-size="9.2" fill="#222" text-anchor="end">3</text>
<line x1="58.6" y1="407.67" x2="60.6" y2="407.67" stroke="#333" stroke-width="0.8"/>
<text x="57.6" y="410.87" font-size="9.2" fill="#222" text-anchor="end">6</text>
<line x1="58.6" y1="380.88" x2="60.6" y2="380.88" stroke="#333" stroke-width="0.8"/>
<text x="57.6" y="384.08" font-size="9.2" fill="#222" text-anchor="end">9</text>
<line x1="58.6" y1="354.09" x2="60.6" y2="354.09" stroke="#333" stroke-width="0.8"/>
<text x="57.6" y="357.29" font-size="9.2" fill="#222" text-anchor="end">12</text>
<line x1="59.4" y1="447.86" x2="60.6" y2="447.86" stroke="#555" stroke-width="0.6"/>
<line x1="59.4" y1="421.06" x2="60.6" y2="421.06" stroke="#555" stroke-width="0.6"/>
<line x1="59.4" y1="394.27" x2="60.6" y2="394.27" stroke="#555" stroke-width="0.6"/>
<line x1="59.4" y1="367.49" x2="60.6" y2="367.49" stroke="#555" stroke-width="0.6"/>
<line x1="59.4" y1="340.69" x2="60.6" y2="340.69" stroke="#555" stroke-width="0.6"/>
<line x1="72.7" y1="461.25" x2="72.7" y2="463.25" stroke="#333" stroke-width="0.8"/>
<line x1="108.85" y1="461.25" x2="108.85" y2="463.25" stroke="#333" stroke-width="0.8"/>
<line x1="145" y1="461.25" x2="145" y2="463.25" stroke="#333" stroke-width="0.8"/>
<line x1="181.15" y1="461.25" x2="181.15" y2="463.25" stroke="#333" stroke-width="0.8"/>
<line x1="217.3" y1="461.25" x2="217.3" y2="463.25" stroke="#333" stroke-width="0.8"/>
<text x="73" y="471.9" font-size="9.2" fill="#222" text-anchor="middle">-600</text>
<text x="108.75" y="471.9" font-size="9.2" fill="#222" text-anchor="middle">-300</text>
<text x="145" y="471.9" font-size="9.2" fill="#222" text-anchor="middle">0</text>
<text x="180.5" y="471.9" font-size="9.2" fill="#222" text-anchor="middle">300</text>
<text x="216.25" y="471.9" font-size="9.2" fill="#222" text-anchor="middle">600</text>
<line x1="90.78" y1="461.25" x2="90.78" y2="462.45" stroke="#555" stroke-width="0.6"/>
<line x1="126.92" y1="461.25" x2="126.92" y2="462.45" stroke="#555" stroke-width="0.6"/>
<line x1="163.07" y1="461.25" x2="163.07" y2="462.45" stroke="#555" stroke-width="0.6"/>
<line x1="199.22" y1="461.25" x2="199.22" y2="462.45" stroke="#555" stroke-width="0.6"/>
<text x="118.75" y="484.3" font-size="13.5" textLength="40.5" lengthAdjust="spacingAndGlyphs">Y (µm)</text>
<text transform="translate(42,442) rotate(-90)" font-size="12.5" textLength="87.7" lengthAdjust="spacingAndGlyphs">Distribution (%)</text>
<rect x="136.75" y="342.5" width="63.25" height="24.5" fill="#fff" stroke="#bbb" stroke-width="0.8"/>
<line x1="200" y1="342.5" x2="200" y2="367" stroke="#666" stroke-width="1"/>
<line x1="136.75" y1="367" x2="200" y2="367" stroke="#666" stroke-width="1"/>
<rect x="138.75" y="344.5" width="13.75" height="10" fill="#ee0000"/>
<rect x="138.75" y="356.25" width="13.75" height="9.25" fill="#0a98f0"/>
<text x="157" y="353.7" font-size="10" font-weight="bold" textLength="38" lengthAdjust="spacingAndGlyphs">1000 nm</text>
<text x="157" y="364.9" font-size="10" font-weight="bold" textLength="33" lengthAdjust="spacingAndGlyphs">200 nm</text>
<text x="291.6" y="19.9" font-size="21" font-weight="bold">b</text>
<text x="289.6" y="55.8" font-size="13.2" font-weight="bold" textLength="47" lengthAdjust="spacingAndGlyphs">Sheath:</text>
<text x="289.6" y="71.9" font-size="13.2" font-weight="bold" textLength="60.6" lengthAdjust="spacingAndGlyphs">15 µL/min</text>
<text x="268.1" y="455.7" font-size="13" font-weight="bold" textLength="49.8" lengthAdjust="spacingAndGlyphs">Sample:</text>
<text x="268.1" y="472.1" font-size="13" font-weight="bold" textLength="53.3" lengthAdjust="spacingAndGlyphs">3 µL/min</text>
<path d="M328.9,85.2 L295.4,85.2 Q291.6,85.2 291.6,89 L291.6,166" fill="none" stroke="#8a8a8a" stroke-width="0.9"/>
<path d="M327.3,88.8 L297.4,88.8 Q294.7,88.8 294.7,91.5 L294.7,166" fill="none" stroke="#555" stroke-width="0.9"/>
<rect x="329.8" y="88.5" width="2.4" height="9" fill="#bbb"/>
<line x1="332.4" y1="88.6" x2="332.4" y2="97.2" stroke="#777" stroke-width="0.9"/>
<polygon points="316.1,97.2 343.7,97.2 343.7,107.7 335,116.3 325.3,116.3 316.1,107.7" fill="#fff" stroke="#7a7a7a" stroke-width="1.7"/>
<path d="M326.6,116.3 L326.6,105 Q326.6,102.2 329.5,102.2 Q332.4,102.2 332.4,105 L332.4,116.3" fill="none" stroke="#aaa" stroke-width="0.9"/>
<line x1="329.6" y1="82" x2="329.6" y2="101" stroke="#111" stroke-width="1.1"/>
<circle cx="329.6" cy="102.2" r="1.6" fill="#111"/>
<line x1="326.6" y1="116.3" x2="326.6" y2="378.5" stroke="#555" stroke-width="1"/>
<line x1="332.5" y1="116.3" x2="332.5" y2="378.5" stroke="#555" stroke-width="1"/>
<rect x="323.7" y="116.4" width="11.9" height="6.8" fill="none" stroke="#d45050" stroke-width="0.9" rx="1.2"/>
<rect x="323.7" y="133.4" width="11.9" height="7.1" fill="none" stroke="#d45050" stroke-width="0.9" rx="1.2"/>
<rect x="323.7" y="150.9" width="11.9" height="7.4" fill="none" stroke="#d45050" stroke-width="0.9" rx="1.2"/>
<rect x="323.7" y="323.7" width="11.9" height="7.8" fill="none" stroke="#d45050" stroke-width="0.9" rx="1.2"/>
<rect x="323.7" y="371.2" width="11.9" height="7.3" fill="none" stroke="#d45050" stroke-width="0.9" rx="1.2"/>
<text x="343.8" y="123" font-size="9.5" font-weight="bold" text-anchor="middle">1</text>
<text x="343.8" y="140.3" font-size="9.5" font-weight="bold" text-anchor="middle">2</text>
<text x="343.8" y="157.7" font-size="9.5" font-weight="bold" text-anchor="middle">3</text>
<text x="343.8" y="331.15" font-size="9.5" font-weight="bold" text-anchor="middle">4</text>
<text x="343.8" y="378.4" font-size="9.5" font-weight="bold" text-anchor="middle">5</text>
<line x1="311.2" y1="162.9" x2="325" y2="162.9" stroke="#e8803a" stroke-width="1.7"/>
<polygon points="327.6,162.9 324.2,161 324.2,164.8" fill="#e8803a" stroke="none" stroke-width="1"/>
<line x1="348.8" y1="162.9" x2="334.4" y2="162.9" stroke="#e8803a" stroke-width="1.7"/>
<polygon points="331.8,162.9 335.2,161 335.2,164.8" fill="#e8803a" stroke="none" stroke-width="1"/>
<line x1="311.2" y1="183.61" x2="325" y2="183.61" stroke="#e8803a" stroke-width="1.7"/>
<polygon points="327.6,183.61 324.2,181.71 324.2,185.51" fill="#e8803a" stroke="none" stroke-width="1"/>
<line x1="348.8" y1="183.61" x2="334.4" y2="183.61" stroke="#e8803a" stroke-width="1.7"/>
<polygon points="331.8,183.61 335.2,181.71 335.2,185.51" fill="#e8803a" stroke="none" stroke-width="1"/>
<line x1="311.2" y1="204.32" x2="325" y2="204.32" stroke="#e8803a" stroke-width="1.7"/>
<polygon points="327.6,204.32 324.2,202.42 324.2,206.22" fill="#e8803a" stroke="none" stroke-width="1"/>
<line x1="348.8" y1="204.32" x2="334.4" y2="204.32" stroke="#e8803a" stroke-width="1.7"/>
<polygon points="331.8,204.32 335.2,202.42 335.2,206.22" fill="#e8803a" stroke="none" stroke-width="1"/>
<line x1="311.2" y1="225.03" x2="325" y2="225.03" stroke="#e8803a" stroke-width="1.7"/>
<polygon points="327.6,225.03 324.2,223.13 324.2,226.93" fill="#e8803a" stroke="none" stroke-width="1"/>
<line x1="348.8" y1="225.03" x2="334.4" y2="225.03" stroke="#e8803a" stroke-width="1.7"/>
<polygon points="331.8,225.03 335.2,223.13 335.2,226.93" fill="#e8803a" stroke="none" stroke-width="1"/>
<line x1="311.2" y1="245.74" x2="325" y2="245.74" stroke="#e8803a" stroke-width="1.7"/>
<polygon points="327.6,245.74 324.2,243.84 324.2,247.64" fill="#e8803a" stroke="none" stroke-width="1"/>
<line x1="348.8" y1="245.74" x2="334.4" y2="245.74" stroke="#e8803a" stroke-width="1.7"/>
<polygon points="331.8,245.74 335.2,243.84 335.2,247.64" fill="#e8803a" stroke="none" stroke-width="1"/>
<line x1="311.2" y1="266.45" x2="325" y2="266.45" stroke="#e8803a" stroke-width="1.7"/>
<polygon points="327.6,266.45 324.2,264.55 324.2,268.35" fill="#e8803a" stroke="none" stroke-width="1"/>
<line x1="348.8" y1="266.45" x2="334.4" y2="266.45" stroke="#e8803a" stroke-width="1.7"/>
<polygon points="331.8,266.45 335.2,264.55 335.2,268.35" fill="#e8803a" stroke="none" stroke-width="1"/>
<line x1="311.2" y1="287.16" x2="325" y2="287.16" stroke="#e8803a" stroke-width="1.7"/>
<polygon points="327.6,287.16 324.2,285.26 324.2,289.06" fill="#e8803a" stroke="none" stroke-width="1"/>
<line x1="348.8" y1="287.16" x2="334.4" y2="287.16" stroke="#e8803a" stroke-width="1.7"/>
<polygon points="331.8,287.16 335.2,285.26 335.2,289.06" fill="#e8803a" stroke="none" stroke-width="1"/>
<line x1="311.2" y1="307.87" x2="325" y2="307.87" stroke="#e8803a" stroke-width="1.7"/>
<polygon points="327.6,307.87 324.2,305.97 324.2,309.77" fill="#e8803a" stroke="none" stroke-width="1"/>
<line x1="348.8" y1="307.87" x2="334.4" y2="307.87" stroke="#e8803a" stroke-width="1.7"/>
<polygon points="331.8,307.87 335.2,305.97 335.2,309.77" fill="#e8803a" stroke="none" stroke-width="1"/>
<text transform="translate(360.1,282.2) rotate(-90)" font-size="13" font-weight="bold" textLength="86" lengthAdjust="spacingAndGlyphs">Magnetic field</text>
<line x1="291.9" y1="166" x2="291.9" y2="167" stroke="#888" stroke-width="0.9"/>
<line x1="294.6" y1="166" x2="294.6" y2="167" stroke="#555" stroke-width="0.9"/>
<rect x="289.7" y="165.6" width="6.2" height="54.4" fill="#c4c4c4" stroke="#7a7a7a" stroke-width="0.8" rx="2"/>
<line x1="292.95" y1="166.6" x2="292.95" y2="219" stroke="#fff" stroke-width="0.9"/>
<circle cx="291.35" cy="167.8" r="0.72" fill="#1a1a1a"/>
<circle cx="294.55" cy="167.8" r="0.72" fill="#1a1a1a"/>
<circle cx="291.35" cy="170.45" r="0.72" fill="#1a1a1a"/>
<circle cx="294.55" cy="170.45" r="0.72" fill="#1a1a1a"/>
<circle cx="291.35" cy="173.1" r="0.72" fill="#1a1a1a"/>
<circle cx="294.55" cy="173.1" r="0.72" fill="#1a1a1a"/>
<circle cx="291.35" cy="175.75" r="0.72" fill="#1a1a1a"/>
<circle cx="294.55" cy="175.75" r="0.72" fill="#1a1a1a"/>
<circle cx="291.35" cy="178.4" r="0.72" fill="#1a1a1a"/>
<circle cx="294.55" cy="178.4" r="0.72" fill="#1a1a1a"/>
<circle cx="291.35" cy="181.05" r="0.72" fill="#1a1a1a"/>
<circle cx="294.55" cy="181.05" r="0.72" fill="#1a1a1a"/>
<circle cx="291.35" cy="183.7" r="0.72" fill="#1a1a1a"/>
<circle cx="294.55" cy="183.7" r="0.72" fill="#1a1a1a"/>
<circle cx="291.35" cy="186.35" r="0.72" fill="#1a1a1a"/>
<circle cx="294.55" cy="186.35" r="0.72" fill="#1a1a1a"/>
<circle cx="291.35" cy="189" r="0.72" fill="#1a1a1a"/>
<circle cx="294.55" cy="189" r="0.72" fill="#1a1a1a"/>
<circle cx="291.35" cy="191.65" r="0.72" fill="#1a1a1a"/>
<circle cx="294.55" cy="191.65" r="0.72" fill="#1a1a1a"/>
<circle cx="291.35" cy="194.3" r="0.72" fill="#1a1a1a"/>
<circle cx="294.55" cy="194.3" r="0.72" fill="#1a1a1a"/>
<circle cx="291.35" cy="196.95" r="0.72" fill="#1a1a1a"/>
<circle cx="294.55" cy="196.95" r="0.72" fill="#1a1a1a"/>
<circle cx="291.35" cy="199.6" r="0.72" fill="#1a1a1a"/>
<circle cx="294.55" cy="199.6" r="0.72" fill="#1a1a1a"/>
<circle cx="291.35" cy="202.25" r="0.72" fill="#1a1a1a"/>
<circle cx="294.55" cy="202.25" r="0.72" fill="#1a1a1a"/>
<circle cx="291.35" cy="204.9" r="0.72" fill="#1a1a1a"/>
<circle cx="294.55" cy="204.9" r="0.72" fill="#1a1a1a"/>
<circle cx="291.35" cy="207.55" r="0.72" fill="#1a1a1a"/>
<circle cx="294.55" cy="207.55" r="0.72" fill="#1a1a1a"/>
<circle cx="291.35" cy="210.2" r="0.72" fill="#1a1a1a"/>
<circle cx="294.55" cy="210.2" r="0.72" fill="#1a1a1a"/>
<circle cx="291.35" cy="212.85" r="0.72" fill="#1a1a1a"/>
<circle cx="294.55" cy="212.85" r="0.72" fill="#1a1a1a"/>
<circle cx="291.35" cy="215.5" r="0.72" fill="#1a1a1a"/>
<circle cx="294.55" cy="215.5" r="0.72" fill="#1a1a1a"/>
<circle cx="291.35" cy="218.15" r="0.72" fill="#1a1a1a"/>
<circle cx="294.55" cy="218.15" r="0.72" fill="#1a1a1a"/>
<line x1="291.9" y1="220" x2="291.9" y2="230" stroke="#888" stroke-width="0.9"/>
<line x1="294.6" y1="220" x2="294.6" y2="230" stroke="#555" stroke-width="0.9"/>
<rect x="289.7" y="230" width="6.2" height="52" fill="#c4c4c4" stroke="#7a7a7a" stroke-width="0.8" rx="2"/>
<line x1="292.95" y1="231" x2="292.95" y2="281" stroke="#fff" stroke-width="0.9"/>
<circle cx="291.35" cy="232.2" r="0.72" fill="#1a1a1a"/>
<circle cx="294.55" cy="232.2" r="0.72" fill="#1a1a1a"/>
<circle cx="291.35" cy="234.85" r="0.72" fill="#1a1a1a"/>
<circle cx="294.55" cy="234.85" r="0.72" fill="#1a1a1a"/>
<circle cx="291.35" cy="237.5" r="0.72" fill="#1a1a1a"/>
<circle cx="294.55" cy="237.5" r="0.72" fill="#1a1a1a"/>
<circle cx="291.35" cy="240.15" r="0.72" fill="#1a1a1a"/>
<circle cx="294.55" cy="240.15" r="0.72" fill="#1a1a1a"/>
<circle cx="291.35" cy="242.8" r="0.72" fill="#1a1a1a"/>
<circle cx="294.55" cy="242.8" r="0.72" fill="#1a1a1a"/>
<circle cx="291.35" cy="245.45" r="0.72" fill="#1a1a1a"/>
<circle cx="294.55" cy="245.45" r="0.72" fill="#1a1a1a"/>
<circle cx="291.35" cy="248.1" r="0.72" fill="#1a1a1a"/>
<circle cx="294.55" cy="248.1" r="0.72" fill="#1a1a1a"/>
<circle cx="291.35" cy="250.75" r="0.72" fill="#1a1a1a"/>
<circle cx="294.55" cy="250.75" r="0.72" fill="#1a1a1a"/>
<circle cx="291.35" cy="253.4" r="0.72" fill="#1a1a1a"/>
<circle cx="294.55" cy="253.4" r="0.72" fill="#1a1a1a"/>
<circle cx="291.35" cy="256.05" r="0.72" fill="#1a1a1a"/>
<circle cx="294.55" cy="256.05" r="0.72" fill="#1a1a1a"/>
<circle cx="291.35" cy="258.7" r="0.72" fill="#1a1a1a"/>
<circle cx="294.55" cy="258.7" r="0.72" fill="#1a1a1a"/>
<circle cx="291.35" cy="261.35" r="0.72" fill="#1a1a1a"/>
<circle cx="294.55" cy="261.35" r="0.72" fill="#1a1a1a"/>
<circle cx="291.35" cy="264" r="0.72" fill="#1a1a1a"/>
<circle cx="294.55" cy="264" r="0.72" fill="#1a1a1a"/>
<circle cx="291.35" cy="266.65" r="0.72" fill="#1a1a1a"/>
<circle cx="294.55" cy="266.65" r="0.72" fill="#1a1a1a"/>
<circle cx="291.35" cy="269.3" r="0.72" fill="#1a1a1a"/>
<circle cx="294.55" cy="269.3" r="0.72" fill="#1a1a1a"/>
<circle cx="291.35" cy="271.95" r="0.72" fill="#1a1a1a"/>
<circle cx="294.55" cy="271.95" r="0.72" fill="#1a1a1a"/>
<circle cx="291.35" cy="274.6" r="0.72" fill="#1a1a1a"/>
<circle cx="294.55" cy="274.6" r="0.72" fill="#1a1a1a"/>
<circle cx="291.35" cy="277.25" r="0.72" fill="#1a1a1a"/>
<circle cx="294.55" cy="277.25" r="0.72" fill="#1a1a1a"/>
<circle cx="291.35" cy="279.9" r="0.72" fill="#1a1a1a"/>
<circle cx="294.55" cy="279.9" r="0.72" fill="#1a1a1a"/>
<line x1="291.9" y1="282" x2="291.9" y2="318.8" stroke="#888" stroke-width="0.9"/>
<line x1="294.6" y1="282" x2="294.6" y2="318.8" stroke="#555" stroke-width="0.9"/>
<rect x="289.7" y="318.8" width="6.2" height="51.2" fill="#c4c4c4" stroke="#7a7a7a" stroke-width="0.8" rx="2"/>
<line x1="292.95" y1="319.8" x2="292.95" y2="369" stroke="#fff" stroke-width="0.9"/>
<circle cx="291.35" cy="321" r="0.72" fill="#1a1a1a"/>
<circle cx="294.55" cy="321" r="0.72" fill="#1a1a1a"/>
<circle cx="291.35" cy="323.65" r="0.72" fill="#1a1a1a"/>
<circle cx="294.55" cy="323.65" r="0.72" fill="#1a1a1a"/>
<circle cx="291.35" cy="326.3" r="0.72" fill="#1a1a1a"/>
<circle cx="294.55" cy="326.3" r="0.72" fill="#1a1a1a"/>
<circle cx="291.35" cy="328.95" r="0.72" fill="#1a1a1a"/>
<circle cx="294.55" cy="328.95" r="0.72" fill="#1a1a1a"/>
<circle cx="291.35" cy="331.6" r="0.72" fill="#1a1a1a"/>
<circle cx="294.55" cy="331.6" r="0.72" fill="#1a1a1a"/>
<circle cx="291.35" cy="334.25" r="0.72" fill="#1a1a1a"/>
<circle cx="294.55" cy="334.25" r="0.72" fill="#1a1a1a"/>
<circle cx="291.35" cy="336.9" r="0.72" fill="#1a1a1a"/>
<circle cx="294.55" cy="336.9" r="0.72" fill="#1a1a1a"/>
<circle cx="291.35" cy="339.55" r="0.72" fill="#1a1a1a"/>
<circle cx="294.55" cy="339.55" r="0.72" fill="#1a1a1a"/>
<circle cx="291.35" cy="342.2" r="0.72" fill="#1a1a1a"/>
<circle cx="294.55" cy="342.2" r="0.72" fill="#1a1a1a"/>
<circle cx="291.35" cy="344.85" r="0.72" fill="#1a1a1a"/>
<circle cx="294.55" cy="344.85" r="0.72" fill="#1a1a1a"/>
<circle cx="291.35" cy="347.5" r="0.72" fill="#1a1a1a"/>
<circle cx="294.55" cy="347.5" r="0.72" fill="#1a1a1a"/>
<circle cx="291.35" cy="350.15" r="0.72" fill="#1a1a1a"/>
<circle cx="294.55" cy="350.15" r="0.72" fill="#1a1a1a"/>
<circle cx="291.35" cy="352.8" r="0.72" fill="#1a1a1a"/>
<circle cx="294.55" cy="352.8" r="0.72" fill="#1a1a1a"/>
<circle cx="291.35" cy="355.45" r="0.72" fill="#1a1a1a"/>
<circle cx="294.55" cy="355.45" r="0.72" fill="#1a1a1a"/>
<circle cx="291.35" cy="358.1" r="0.72" fill="#1a1a1a"/>
<circle cx="294.55" cy="358.1" r="0.72" fill="#1a1a1a"/>
<circle cx="291.35" cy="360.75" r="0.72" fill="#1a1a1a"/>
<circle cx="294.55" cy="360.75" r="0.72" fill="#1a1a1a"/>
<circle cx="291.35" cy="363.4" r="0.72" fill="#1a1a1a"/>
<circle cx="294.55" cy="363.4" r="0.72" fill="#1a1a1a"/>
<circle cx="291.35" cy="366.05" r="0.72" fill="#1a1a1a"/>
<circle cx="294.55" cy="366.05" r="0.72" fill="#1a1a1a"/>
<line x1="291.9" y1="370" x2="291.9" y2="395.5" stroke="#888" stroke-width="0.9"/>
<line x1="294.6" y1="370" x2="294.6" y2="395.5" stroke="#555" stroke-width="0.9"/>
<line x1="291.9" y1="395.5" x2="289" y2="414" stroke="#666" stroke-width="0.9" stroke-dasharray="1.6 1"/>
<line x1="294.6" y1="395.5" x2="297.4" y2="414" stroke="#666" stroke-width="0.9" stroke-dasharray="1.6 1"/>
<rect x="288.3" y="414.3" width="9.5" height="3.2" fill="#333"/>
<line x1="288.3" y1="415.9" x2="297.8" y2="415.9" stroke="#888" stroke-width="0.6"/>
<path d="M288.8,417.5 L290.5,423 Q293.1,427 295.7,423 L297.3,417.5" fill="none" stroke="#777" stroke-width="0.9"/>
<line x1="293.4" y1="443.2" x2="293.4" y2="429.5" stroke="#111" stroke-width="1.1"/>
<polygon points="293.4,426.8 291.6,431 295.2,431" fill="#111" stroke="none" stroke-width="1"/>
<line x1="325.4" y1="378.5" x2="319.8" y2="402.7" stroke="#777" stroke-width="0.8" stroke-dasharray="1.5 0.9"/>
<line x1="334.5" y1="378.5" x2="340.2" y2="402.7" stroke="#777" stroke-width="0.8" stroke-dasharray="1.5 0.9"/>
<line x1="324.92" y1="378.5" x2="321.4" y2="402.7" stroke="#777" stroke-width="0.8" stroke-dasharray="1.5 0.9"/>
<line x1="334.98" y1="378.5" x2="338.6" y2="402.7" stroke="#777" stroke-width="0.8" stroke-dasharray="1.5 0.9"/>
<line x1="328.9" y1="378.5" x2="328.9" y2="403" stroke="#666" stroke-width="0.9"/>
<line x1="330.8" y1="378.5" x2="330.8" y2="403" stroke="#666" stroke-width="0.9"/>
<circle cx="329.85" cy="405.3" r="2.3" fill="#fff" stroke="#666" stroke-width="0.9"/>
<path d="M319.3,402.7 L319.3,414.4 L328.8,414.4 M331.1,414.4 L340.7,414.4 L340.7,402.7" fill="none" stroke="#666" stroke-width="0.9"/>
<path d="M320.8,402.7 L320.8,412.9 L339.2,412.9 L339.2,402.7" fill="none" stroke="#666" stroke-width="0.9"/>
<line x1="328.8" y1="414.4" x2="328.8" y2="420.2" stroke="#666" stroke-width="0.9"/>
<line x1="331.1" y1="414.4" x2="331.1" y2="420.2" stroke="#666" stroke-width="0.9"/>
<circle cx="329.95" cy="422.9" r="2.9" fill="#fff" stroke="#666" stroke-width="0.9"/>
<text x="390.1" y="75.5" font-size="13.2" font-weight="bold" textLength="71.3" lengthAdjust="spacingAndGlyphs">Experiment</text>
<defs><filter id="bl1" x="-50%" y="-5%" width="200%" height="110%"><feGaussianBlur stdDeviation="0.9"/></filter><filter id="bl2" x="-50%" y="-50%" width="200%" height="200%"><feGaussianBlur stdDeviation="2.2"/></filter><filter id="bl15" x="-100%" y="-5%" width="300%" height="110%"><feGaussianBlur stdDeviation="1.4"/></filter><filter id="bl05" x="-20%" y="-5%" width="140%" height="110%"><feGaussianBlur stdDeviation="0.5"/></filter><linearGradient id="mg3" x1="0" y1="0" x2="0" y2="1"><stop offset="0" stop-color="#c814d0"/><stop offset="0.6" stop-color="#9a1ad8"/><stop offset="1" stop-color="#4018e0"/></linearGradient><clipPath id="r3clip"><rect x="394.2" y="192.7" width="68.4" height="53"/></clipPath><clipPath id="imgclip"><rect x="394.2" y="87.1" width="68.4" height="343.1"/></clipPath></defs>
<rect x="394.2" y="87.1" width="68.4" height="343.1" fill="#000"/>
<g clip-path="url(#imgclip)">
<rect x="394.2" y="88.6" width="68.4" height="50.9" fill="#16000b"/>
<g filter="url(#bl05)">
<polygon points="394.2,93.2 404.3,104.2 404.5,139.5 396,139.5 396,111.2 394.2,111.2" fill="#cc12cc" stroke="none" stroke-width="1"/>
<polygon points="462.6,93.2 452.4,104.2 452.3,139.5 460.8,139.5 460.8,111.2 462.6,111.2" fill="#cc12cc" stroke="none" stroke-width="1"/>
<polygon points="397.2,139.5 403.4,139.5 401.2,192.7 397.2,192.7" fill="#cc12cc" stroke="none" stroke-width="1"/>
<polygon points="451.6,139.5 459.2,139.5 459.2,192.7 453.6,192.7" fill="#cc12cc" stroke="none" stroke-width="1"/>
<polygon points="397.2,192.7 400.8,192.7 399.2,245.7 397,245.7" fill="url(#mg3)" stroke="none" stroke-width="1"/>
<polygon points="456.4,192.7 459.6,192.7 459.6,245.7 457.6,245.7" fill="url(#mg3)" stroke="none" stroke-width="1"/>
</g>
<g clip-path="url(#r3clip)">
<ellipse cx="411" cy="244" rx="15" ry="5" fill="#1a1ae8" filter="url(#bl2)" opacity="0.95"/>
<ellipse cx="456" cy="244.5" rx="5" ry="3.5" fill="#1a1ae8" filter="url(#bl2)" opacity="0.7"/>
</g>
<g filter="url(#bl15)">
<path d="M426.0,247.5 L426.4,300 L426.8,432" fill="none" stroke="#b81010" stroke-width="5"/>
<path d="M433.7,247.5 L433.1,300 L432.9,432" fill="none" stroke="#b01010" stroke-width="5"/>
</g>
<g filter="url(#bl1)">
<path d="M426.0,246.8 L426.4,300 L426.8,432" fill="none" stroke="#e41616" stroke-width="2.6"/>
<path d="M433.7,246.8 L433.1,300 L432.9,432" fill="none" stroke="#dc1616" stroke-width="2.6"/>
</g>
<g filter="url(#bl1)">
<path d="M402.6,245.7 L403.6,272 L404.6,298.6" fill="none" stroke="#1c1cc0" stroke-width="3"/>
<path d="M454.9,245.7 L454.3,272 L452.6,298.6" fill="none" stroke="#1e1ed0" stroke-width="3"/>
<path d="M404.6,298.6 L405.0,350 Q405.2,370 396.5,384" fill="none" stroke="#12127a" stroke-width="2.4"/>
<path d="M452.6,298.6 L451.8,362 Q452.5,375 461.8,387" fill="none" stroke="#1818b0" stroke-width="2.6"/>
</g>
</g>
<line x1="394.2" y1="139.5" x2="462.6" y2="139.5" stroke="#bcbcbc" stroke-width="1.3"/>
<line x1="394.2" y1="192.7" x2="462.6" y2="192.7" stroke="#bcbcbc" stroke-width="1.3"/>
<line x1="394.2" y1="245.7" x2="462.6" y2="245.7" stroke="#bcbcbc" stroke-width="1.3"/>
<line x1="394.2" y1="298.6" x2="462.6" y2="298.6" stroke="#bcbcbc" stroke-width="1.3"/>
<line x1="396.7" y1="117.2" x2="396.7" y2="376.8" stroke="#ececec" stroke-width="1.7" stroke-dasharray="3.8 1.6"/>
<line x1="460.1" y1="117.2" x2="460.1" y2="376.8" stroke="#ececec" stroke-width="1.7" stroke-dasharray="3.8 1.6"/>
<path d="M403.2,430.2 L411.3,391.5 Q414.9,382.5 418.6,391.5 L419.1,430.2" fill="none" stroke="#e0e0e0" stroke-width="1.1" stroke-dasharray="2 1.1"/>
<path d="M439.2,430.2 L439.2,391.5 Q442.6,382.5 446.2,391.5 L455.1,430.2" fill="none" stroke="#e0e0e0" stroke-width="1.1" stroke-dasharray="2 1.1"/>
<text x="397.8" y="92.4" font-size="6.5" font-weight="bold" fill="#fff" textLength="22.7" lengthAdjust="spacingAndGlyphs">200 µm</text>
<line x1="404.2" y1="94.2" x2="414.2" y2="94.2" stroke="#fff" stroke-width="1.3"/>
<text x="384.6" y="118.1" font-size="9.5" font-weight="bold" text-anchor="middle">1</text>
<text x="384.6" y="168.7" font-size="9.5" font-weight="bold" text-anchor="middle">2</text>
<text x="384.6" y="222.8" font-size="9.5" font-weight="bold" text-anchor="middle">3</text>
<text x="384.6" y="278.2" font-size="9.5" font-weight="bold" text-anchor="middle">4</text>
<text x="384.6" y="373.1" font-size="9.5" font-weight="bold" text-anchor="middle">5</text>
<line x1="451.8" y1="391.2" x2="465.5" y2="391.2" stroke="#e07b3c" stroke-width="1.4"/>
<polygon points="468.3,391.2 464.8,389.3 464.8,393.1" fill="#e07b3c" stroke="none" stroke-width="1"/>
<line x1="431.9" y1="405.3" x2="465.5" y2="405.3" stroke="#e07b3c" stroke-width="1.4"/>
<polygon points="468.3,405.3 464.8,403.4 464.8,407.2" fill="#e07b3c" stroke="none" stroke-width="1"/>
<line x1="402" y1="420.3" x2="465.5" y2="420.3" stroke="#e07b3c" stroke-width="1.4"/>
<polygon points="468.3,420.3 464.8,418.4 464.8,422.2" fill="#e07b3c" stroke="none" stroke-width="1"/>
<text x="469.75" y="395" font-size="9.6" font-weight="bold" textLength="49.25" lengthAdjust="spacingAndGlyphs">Side outlet</text>
<text x="469.75" y="409.1" font-size="9.6" font-weight="bold" textLength="59.25" lengthAdjust="spacingAndGlyphs">Middle outlet</text>
<text x="469.75" y="423.75" font-size="9.6" font-weight="bold" textLength="49.25" lengthAdjust="spacingAndGlyphs">Side outlet</text>
<rect x="396" y="442.5" width="65.25" height="31.25" fill="#fff" stroke="#666" stroke-width="0.9"/>
<circle cx="407.25" cy="452.75" r="4.6" fill="#ee0a0a"/>
<circle cx="407.25" cy="465.25" r="4.5" fill="#0a98f0"/>
<text x="416" y="455.9" font-size="9.5" font-weight="bold" textLength="37.1" lengthAdjust="spacingAndGlyphs">1000 nm</text>
<text x="416" y="468.4" font-size="9.5" font-weight="bold" textLength="32.75" lengthAdjust="spacingAndGlyphs">200 nm</text>
<text x="513.4" y="55" font-size="22" font-weight="bold" textLength="11.4" lengthAdjust="spacingAndGlyphs">c</text>
<line x1="551.3" y1="78.5" x2="551.3" y2="160.5" stroke="#333" stroke-width="1"/>
<line x1="551.3" y1="160.5" x2="784.5" y2="160.5" stroke="#333" stroke-width="1"/>
<line x1="549" y1="160.5" x2="551.3" y2="160.5" stroke="#333" stroke-width="0.9"/>
<text x="546.4" y="165" font-size="12" fill="#1a1a1a" text-anchor="end" textLength="7" lengthAdjust="spacingAndGlyphs">0</text>
<line x1="549" y1="140.1" x2="551.3" y2="140.1" stroke="#333" stroke-width="0.9"/>
<text x="546.4" y="144.6" font-size="12" fill="#1a1a1a" text-anchor="end" textLength="7" lengthAdjust="spacingAndGlyphs">3</text>
<line x1="549" y1="119.7" x2="551.3" y2="119.7" stroke="#333" stroke-width="0.9"/>
<text x="546.4" y="124.2" font-size="12" fill="#1a1a1a" text-anchor="end" textLength="7" lengthAdjust="spacingAndGlyphs">6</text>
<line x1="549" y1="99.3" x2="551.3" y2="99.3" stroke="#333" stroke-width="0.9"/>
<text x="546.4" y="103.8" font-size="12" fill="#1a1a1a" text-anchor="end" textLength="7" lengthAdjust="spacingAndGlyphs">9</text>
<line x1="549" y1="78.9" x2="551.3" y2="78.9" stroke="#333" stroke-width="0.9"/>
<text x="546.4" y="83.4" font-size="12" fill="#1a1a1a" text-anchor="end" textLength="14" lengthAdjust="spacingAndGlyphs">12</text>
<line x1="549.9" y1="150.3" x2="551.3" y2="150.3" stroke="#555" stroke-width="0.7"/>
<line x1="549.9" y1="129.9" x2="551.3" y2="129.9" stroke="#555" stroke-width="0.7"/>
<line x1="549.9" y1="109.5" x2="551.3" y2="109.5" stroke="#555" stroke-width="0.7"/>
<line x1="549.9" y1="89.1" x2="551.3" y2="89.1" stroke="#555" stroke-width="0.7"/>
<line x1="553.1" y1="160.5" x2="553.1" y2="163.5" stroke="#333" stroke-width="0.9"/>
<line x1="569.6" y1="160.5" x2="569.6" y2="162.1" stroke="#333" stroke-width="0.7"/>
<line x1="586.1" y1="160.5" x2="586.1" y2="163.5" stroke="#333" stroke-width="0.9"/>
<line x1="602.6" y1="160.5" x2="602.6" y2="162.1" stroke="#333" stroke-width="0.7"/>
<line x1="619.1" y1="160.5" x2="619.1" y2="163.5" stroke="#333" stroke-width="0.9"/>
<line x1="635.6" y1="160.5" x2="635.6" y2="162.1" stroke="#333" stroke-width="0.7"/>
<line x1="652.1" y1="160.5" x2="652.1" y2="163.5" stroke="#333" stroke-width="0.9"/>
<line x1="668.6" y1="160.5" x2="668.6" y2="162.1" stroke="#333" stroke-width="0.7"/>
<line x1="685.1" y1="160.5" x2="685.1" y2="163.5" stroke="#333" stroke-width="0.9"/>
<line x1="701.6" y1="160.5" x2="701.6" y2="162.1" stroke="#333" stroke-width="0.7"/>
<line x1="718.1" y1="160.5" x2="718.1" y2="163.5" stroke="#333" stroke-width="0.9"/>
<line x1="734.6" y1="160.5" x2="734.6" y2="162.1" stroke="#333" stroke-width="0.7"/>
<line x1="751.1" y1="160.5" x2="751.1" y2="163.5" stroke="#333" stroke-width="0.9"/>
<line x1="767.6" y1="160.5" x2="767.6" y2="162.1" stroke="#333" stroke-width="0.7"/>
<line x1="784.1" y1="160.5" x2="784.1" y2="163.5" stroke="#333" stroke-width="0.9"/>
<text x="553.1" y="176.25" font-size="12.5" fill="#1a1a1a" text-anchor="middle" textLength="6.85" lengthAdjust="spacingAndGlyphs">0</text>
<text x="586.1" y="176.25" font-size="12.5" fill="#1a1a1a" text-anchor="middle" textLength="20.55" lengthAdjust="spacingAndGlyphs">200</text>
<text x="619.1" y="176.25" font-size="12.5" fill="#1a1a1a" text-anchor="middle" textLength="20.55" lengthAdjust="spacingAndGlyphs">400</text>
<text x="652.1" y="176.25" font-size="12.5" fill="#1a1a1a" text-anchor="middle" textLength="20.55" lengthAdjust="spacingAndGlyphs">600</text>
<text x="685.1" y="176.25" font-size="12.5" fill="#1a1a1a" text-anchor="middle" textLength="20.55" lengthAdjust="spacingAndGlyphs">800</text>
<text x="718.1" y="176.25" font-size="12.5" fill="#1a1a1a" text-anchor="middle" textLength="27.4" lengthAdjust="spacingAndGlyphs">1000</text>
<text x="751.1" y="176.25" font-size="12.5" fill="#1a1a1a" text-anchor="middle" textLength="27.4" lengthAdjust="spacingAndGlyphs">1200</text>
<text x="784.1" y="176.25" font-size="12.5" fill="#1a1a1a" text-anchor="middle" textLength="27.4" lengthAdjust="spacingAndGlyphs">1400</text>
<line x1="551.3" y1="196.3" x2="551.3" y2="278" stroke="#333" stroke-width="1"/>
<line x1="551.3" y1="278" x2="784.5" y2="278" stroke="#333" stroke-width="1"/>
<line x1="549" y1="278" x2="551.3" y2="278" stroke="#333" stroke-width="0.9"/>
<text x="546.4" y="282.5" font-size="12" fill="#1a1a1a" text-anchor="end" textLength="7" lengthAdjust="spacingAndGlyphs">0</text>
<line x1="549" y1="257.68" x2="551.3" y2="257.68" stroke="#333" stroke-width="0.9"/>
<text x="546.4" y="262.18" font-size="12" fill="#1a1a1a" text-anchor="end" textLength="7" lengthAdjust="spacingAndGlyphs">3</text>
<line x1="549" y1="237.35" x2="551.3" y2="237.35" stroke="#333" stroke-width="0.9"/>
<text x="546.4" y="241.85" font-size="12" fill="#1a1a1a" text-anchor="end" textLength="7" lengthAdjust="spacingAndGlyphs">6</text>
<line x1="549" y1="217.03" x2="551.3" y2="217.03" stroke="#333" stroke-width="0.9"/>
<text x="546.4" y="221.53" font-size="12" fill="#1a1a1a" text-anchor="end" textLength="7" lengthAdjust="spacingAndGlyphs">9</text>
<line x1="549" y1="196.7" x2="551.3" y2="196.7" stroke="#333" stroke-width="0.9"/>
<text x="546.4" y="201.2" font-size="12" fill="#1a1a1a" text-anchor="end" textLength="14" lengthAdjust="spacingAndGlyphs">12</text>
<line x1="549.9" y1="267.84" x2="551.3" y2="267.84" stroke="#555" stroke-width="0.7"/>
<line x1="549.9" y1="247.51" x2="551.3" y2="247.51" stroke="#555" stroke-width="0.7"/>
<line x1="549.9" y1="227.19" x2="551.3" y2="227.19" stroke="#555" stroke-width="0.7"/>
<line x1="549.9" y1="206.86" x2="551.3" y2="206.86" stroke="#555" stroke-width="0.7"/>
<line x1="553.1" y1="278" x2="553.1" y2="281" stroke="#333" stroke-width="0.9"/>
<line x1="569.6" y1="278" x2="569.6" y2="279.6" stroke="#333" stroke-width="0.7"/>
<line x1="586.1" y1="278" x2="586.1" y2="281" stroke="#333" stroke-width="0.9"/>
<line x1="602.6" y1="278" x2="602.6" y2="279.6" stroke="#333" stroke-width="0.7"/>
<line x1="619.1" y1="278" x2="619.1" y2="281" stroke="#333" stroke-width="0.9"/>
<line x1="635.6" y1="278" x2="635.6" y2="279.6" stroke="#333" stroke-width="0.7"/>
<line x1="652.1" y1="278" x2="652.1" y2="281" stroke="#333" stroke-width="0.9"/>
<line x1="668.6" y1="278" x2="668.6" y2="279.6" stroke="#333" stroke-width="0.7"/>
<line x1="685.1" y1="278" x2="685.1" y2="281" stroke="#333" stroke-width="0.9"/>
<line x1="701.6" y1="278" x2="701.6" y2="279.6" stroke="#333" stroke-width="0.7"/>
<line x1="718.1" y1="278" x2="718.1" y2="281" stroke="#333" stroke-width="0.9"/>
<line x1="734.6" y1="278" x2="734.6" y2="279.6" stroke="#333" stroke-width="0.7"/>
<line x1="751.1" y1="278" x2="751.1" y2="281" stroke="#333" stroke-width="0.9"/>
<line x1="767.6" y1="278" x2="767.6" y2="279.6" stroke="#333" stroke-width="0.7"/>
<line x1="784.1" y1="278" x2="784.1" y2="281" stroke="#333" stroke-width="0.9"/>
<text x="553.1" y="293.75" font-size="12.5" fill="#1a1a1a" text-anchor="middle" textLength="6.85" lengthAdjust="spacingAndGlyphs">0</text>
<text x="586.1" y="293.75" font-size="12.5" fill="#1a1a1a" text-anchor="middle" textLength="20.55" lengthAdjust="spacingAndGlyphs">200</text>
<text x="619.1" y="293.75" font-size="12.5" fill="#1a1a1a" text-anchor="middle" textLength="20.55" lengthAdjust="spacingAndGlyphs">400</text>
<text x="652.1" y="293.75" font-size="12.5" fill="#1a1a1a" text-anchor="middle" textLength="20.55" lengthAdjust="spacingAndGlyphs">600</text>
<text x="685.1" y="293.75" font-size="12.5" fill="#1a1a1a" text-anchor="middle" textLength="20.55" lengthAdjust="spacingAndGlyphs">800</text>
<text x="718.1" y="293.75" font-size="12.5" fill="#1a1a1a" text-anchor="middle" textLength="27.4" lengthAdjust="spacingAndGlyphs">1000</text>
<text x="751.1" y="293.75" font-size="12.5" fill="#1a1a1a" text-anchor="middle" textLength="27.4" lengthAdjust="spacingAndGlyphs">1200</text>
<text x="784.1" y="293.75" font-size="12.5" fill="#1a1a1a" text-anchor="middle" textLength="27.4" lengthAdjust="spacingAndGlyphs">1400</text>
<line x1="551.3" y1="312.66" x2="551.3" y2="394.9" stroke="#333" stroke-width="1"/>
<line x1="551.3" y1="394.9" x2="784.5" y2="394.9" stroke="#333" stroke-width="1"/>
<line x1="549" y1="394.9" x2="551.3" y2="394.9" stroke="#333" stroke-width="0.9"/>
<text x="546.4" y="399.4" font-size="12" fill="#1a1a1a" text-anchor="end" textLength="7" lengthAdjust="spacingAndGlyphs">0</text>
<line x1="549" y1="374.44" x2="551.3" y2="374.44" stroke="#333" stroke-width="0.9"/>
<text x="546.4" y="378.94" font-size="12" fill="#1a1a1a" text-anchor="end" textLength="7" lengthAdjust="spacingAndGlyphs">3</text>
<line x1="549" y1="353.98" x2="551.3" y2="353.98" stroke="#333" stroke-width="0.9"/>
<text x="546.4" y="358.48" font-size="12" fill="#1a1a1a" text-anchor="end" textLength="7" lengthAdjust="spacingAndGlyphs">6</text>
<line x1="549" y1="333.52" x2="551.3" y2="333.52" stroke="#333" stroke-width="0.9"/>
<text x="546.4" y="338.02" font-size="12" fill="#1a1a1a" text-anchor="end" textLength="7" lengthAdjust="spacingAndGlyphs">9</text>
<line x1="549" y1="313.06" x2="551.3" y2="313.06" stroke="#333" stroke-width="0.9"/>
<text x="546.4" y="317.56" font-size="12" fill="#1a1a1a" text-anchor="end" textLength="14" lengthAdjust="spacingAndGlyphs">12</text>
<line x1="549.9" y1="384.67" x2="551.3" y2="384.67" stroke="#555" stroke-width="0.7"/>
<line x1="549.9" y1="364.21" x2="551.3" y2="364.21" stroke="#555" stroke-width="0.7"/>
<line x1="549.9" y1="343.75" x2="551.3" y2="343.75" stroke="#555" stroke-width="0.7"/>
<line x1="549.9" y1="323.29" x2="551.3" y2="323.29" stroke="#555" stroke-width="0.7"/>
<line x1="553.1" y1="394.9" x2="553.1" y2="397.9" stroke="#333" stroke-width="0.9"/>
<line x1="569.6" y1="394.9" x2="569.6" y2="396.5" stroke="#333" stroke-width="0.7"/>
<line x1="586.1" y1="394.9" x2="586.1" y2="397.9" stroke="#333" stroke-width="0.9"/>
<line x1="602.6" y1="394.9" x2="602.6" y2="396.5" stroke="#333" stroke-width="0.7"/>
<line x1="619.1" y1="394.9" x2="619.1" y2="397.9" stroke="#333" stroke-width="0.9"/>
<line x1="635.6" y1="394.9" x2="635.6" y2="396.5" stroke="#333" stroke-width="0.7"/>
<line x1="652.1" y1="394.9" x2="652.1" y2="397.9" stroke="#333" stroke-width="0.9"/>
<line x1="668.6" y1="394.9" x2="668.6" y2="396.5" stroke="#333" stroke-width="0.7"/>
<line x1="685.1" y1="394.9" x2="685.1" y2="397.9" stroke="#333" stroke-width="0.9"/>
<line x1="701.6" y1="394.9" x2="701.6" y2="396.5" stroke="#333" stroke-width="0.7"/>
<line x1="718.1" y1="394.9" x2="718.1" y2="397.9" stroke="#333" stroke-width="0.9"/>
<line x1="734.6" y1="394.9" x2="734.6" y2="396.5" stroke="#333" stroke-width="0.7"/>
<line x1="751.1" y1="394.9" x2="751.1" y2="397.9" stroke="#333" stroke-width="0.9"/>
<line x1="767.6" y1="394.9" x2="767.6" y2="396.5" stroke="#333" stroke-width="0.7"/>
<line x1="784.1" y1="394.9" x2="784.1" y2="397.9" stroke="#333" stroke-width="0.9"/>
<text x="553.1" y="410.65" font-size="12.5" fill="#1a1a1a" text-anchor="middle" textLength="6.85" lengthAdjust="spacingAndGlyphs">0</text>
<text x="586.1" y="410.65" font-size="12.5" fill="#1a1a1a" text-anchor="middle" textLength="20.55" lengthAdjust="spacingAndGlyphs">200</text>
<text x="619.1" y="410.65" font-size="12.5" fill="#1a1a1a" text-anchor="middle" textLength="20.55" lengthAdjust="spacingAndGlyphs">400</text>
<text x="652.1" y="410.65" font-size="12.5" fill="#1a1a1a" text-anchor="middle" textLength="20.55" lengthAdjust="spacingAndGlyphs">600</text>
<text x="685.1" y="410.65" font-size="12.5" fill="#1a1a1a" text-anchor="middle" textLength="20.55" lengthAdjust="spacingAndGlyphs">800</text>
<text x="718.1" y="410.65" font-size="12.5" fill="#1a1a1a" text-anchor="middle" textLength="27.4" lengthAdjust="spacingAndGlyphs">1000</text>
<text x="751.1" y="410.65" font-size="12.5" fill="#1a1a1a" text-anchor="middle" textLength="27.4" lengthAdjust="spacingAndGlyphs">1200</text>
<text x="784.1" y="410.65" font-size="12.5" fill="#1a1a1a" text-anchor="middle" textLength="27.4" lengthAdjust="spacingAndGlyphs">1400</text>
<rect x="693.3" y="157.1" width="2.7" height="3.4" fill="#ee0a0a"/>
<rect x="698.1" y="150.3" width="2.9" height="10.2" fill="#ee0a0a"/>
<rect x="703.1" y="141" width="3" height="19.5" fill="#ee0a0a"/>
<rect x="708.1" y="130.4" width="3.3" height="30.1" fill="#ee0a0a"/>
<rect x="713.6" y="121.9" width="3.3" height="38.6" fill="#ee0a0a"/>
<rect x="719.3" y="116.9" width="3.3" height="43.6" fill="#ee0a0a"/>
<rect x="724.3" y="116.1" width="3.6" height="44.4" fill="#ee0a0a"/>
<rect x="731" y="120.7" width="3.6" height="39.8" fill="#ee0a0a"/>
<rect x="737.9" y="128.9" width="3.5" height="31.6" fill="#ee0a0a"/>
<rect x="742.9" y="138.9" width="3.5" height="21.6" fill="#ee0a0a"/>
<rect x="749.3" y="149" width="3.6" height="11.5" fill="#ee0a0a"/>
<rect x="755.7" y="156.4" width="4" height="4.1" fill="#ee0a0a"/>
<rect x="707.1" y="382.9" width="2.9" height="12" fill="#ee0a0a"/>
<rect x="712.3" y="361.8" width="2.9" height="33.1" fill="#ee0a0a"/>
<rect x="718.1" y="344.7" width="2.9" height="50.2" fill="#ee0a0a"/>
<rect x="722.6" y="328.6" width="3.3" height="66.3" fill="#ee0a0a"/>
<rect x="729.7" y="317.6" width="3.3" height="77.3" fill="#ee0a0a"/>
<rect x="735.9" y="318.2" width="3.1" height="76.7" fill="#ee0a0a"/>
<rect x="741" y="326.9" width="3.3" height="68" fill="#ee0a0a"/>
<rect x="747.8" y="343.4" width="3.2" height="51.5" fill="#ee0a0a"/>
<rect x="754.3" y="361.6" width="3.1" height="33.3" fill="#ee0a0a"/>
<rect x="762.3" y="383.5" width="3.3" height="11.4" fill="#ee0a0a"/>
<polygon points="565.8,160.5 566.9,152 567.8,143 568.3,138.5 568.9,137.5 569.5,140 570.3,148 571.1,155 571.9,160.5" fill="#ea7d2c" stroke="none" stroke-width="1"/>
<polygon points="584.4,160.5 584.4,159.45 585.65,159.45 585.65,154.6 586.9,154.6 586.9,147.93 588.15,147.93 588.15,140.88 589.4,140.88 589.4,134.68 590.65,134.68 590.65,130.33 591.9,130.33 591.9,128.53 593.15,128.53 593.15,129.29 594.4,129.29 594.4,132.08 595.65,132.08 595.65,136.58 596.9,136.58 596.9,142.24 598.15,142.24 598.15,148.37 599.4,148.37 599.4,154.16 600.65,154.16 600.65,158.68 601.9,158.68 601.9,160.37 602.3,160.37 602.3,160.5" fill="#0a98f0" stroke="none" stroke-width="1"/>
<polygon points="557.4,277.6 557.9,270.5 558.8,270 559.7,277.6" fill="#ea7d2c" stroke="none" stroke-width="1"/>
<polygon points="563.2,278 564.3,268 565.4,259 566.2,254.3 566.9,254.3 567.7,259 568.7,268 569.9,278" fill="#ea7d2c" stroke="none" stroke-width="1"/>
<polygon points="583.5,278 583.5,275.01 584.75,275.01 584.75,265.77 586,265.77 586,255.1 587.25,255.1 587.25,244.45 588.5,244.45 588.5,234.9 589.75,234.9 589.75,227.26 591,227.26 591,222.18 592.25,222.18 592.25,220.05 593.5,220.05 593.5,220.68 594.75,220.68 594.75,223.3 596,223.3 596,227.76 597.25,227.76 597.25,233.83 598.5,233.83 598.5,241.2 599.75,241.2 599.75,249.44 601,249.44 601,258.09 602.25,258.09 602.25,266.55 603.5,266.55 603.5,274.02 604.75,274.02 604.75,277.57 605.1,277.57 605.1,278" fill="#0a98f0" stroke="none" stroke-width="1"/>
<polygon points="569,394.9 570.2,385 571.3,374 572.3,368 573.4,366.5 573.9,361 574.3,359.2 574.8,359.2 575.3,366 576.2,382 577.1,394.9" fill="#ea7d2c" stroke="none" stroke-width="1"/>
<text x="746.5" y="93" font-size="13" font-weight="bold" textLength="26.1" lengthAdjust="spacingAndGlyphs">Inlet</text>
<text x="695.3" y="215.4" font-size="13" font-weight="bold" textLength="67.7" lengthAdjust="spacingAndGlyphs">Side outlet</text>
<text x="558.1" y="339" font-size="13" font-weight="bold" textLength="82.5" lengthAdjust="spacingAndGlyphs">Middle outlet</text>
<text transform="translate(518.6,266.8) rotate(-90)" font-size="12" textLength="57.8" lengthAdjust="spacingAndGlyphs">Intensity</text>
<text x="641.6" y="433.8" font-size="13.6" textLength="56.2" lengthAdjust="spacingAndGlyphs">Size (nm)</text>
<circle cx="624.5" cy="84.4" r="4.5" fill="#ee0a0a"/>
<circle cx="624.5" cy="96.2" r="4.5" fill="#0a98f0"/>
<circle cx="624.5" cy="108.1" r="4.5" fill="#ea7d2c"/>
<text x="633" y="88" font-size="9.5" font-weight="bold" textLength="38.1" lengthAdjust="spacingAndGlyphs">1000 nm</text>
<text x="633" y="99.9" font-size="9.5" font-weight="bold" textLength="33" lengthAdjust="spacingAndGlyphs">200 nm</text>
<text x="633" y="111.7" font-size="9.5" font-weight="bold" textLength="44.4" lengthAdjust="spacingAndGlyphs">Ferrofluid</text></svg>
</body></html>
